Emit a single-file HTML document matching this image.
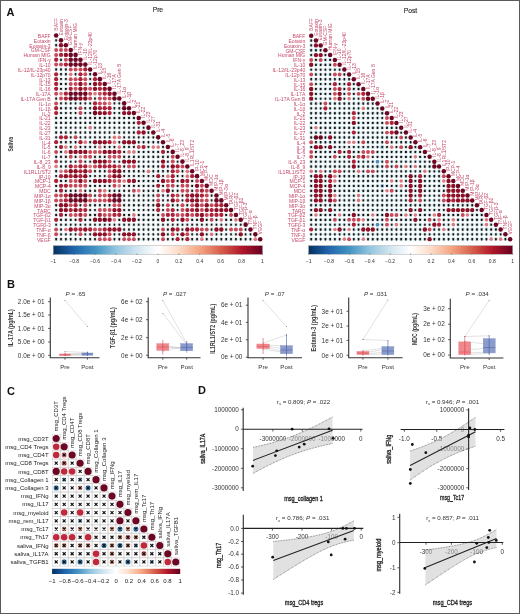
<!DOCTYPE html><html><head><meta charset="utf-8"><style>html,body{margin:0;padding:0;background:#fff;}svg{display:block;will-change:transform;}text{font-family:"Liberation Sans",sans-serif;}</style></head><body><svg width="520" height="614" viewBox="0 0 520 614" font-family="Liberation Sans, sans-serif">
<defs><linearGradient id="gA" x1="0" x2="1" y1="0" y2="0"><stop offset="0.00" stop-color="#053061"/><stop offset="0.10" stop-color="#2166AC"/><stop offset="0.20" stop-color="#4393C3"/><stop offset="0.30" stop-color="#92C5DE"/><stop offset="0.40" stop-color="#D1E5F0"/><stop offset="0.50" stop-color="#FFFFFF"/><stop offset="0.60" stop-color="#FDDBC7"/><stop offset="0.70" stop-color="#F4A582"/><stop offset="0.80" stop-color="#D6604D"/><stop offset="0.90" stop-color="#B2182B"/><stop offset="1.00" stop-color="#67001F"/></linearGradient><linearGradient id="gB" x1="0" x2="1" y1="0" y2="0"><stop offset="0.00" stop-color="#053061"/><stop offset="0.10" stop-color="#2166AC"/><stop offset="0.20" stop-color="#4393C3"/><stop offset="0.30" stop-color="#92C5DE"/><stop offset="0.40" stop-color="#D1E5F0"/><stop offset="0.50" stop-color="#FFFFFF"/><stop offset="0.60" stop-color="#FDDBC7"/><stop offset="0.70" stop-color="#F4A582"/><stop offset="0.80" stop-color="#D6604D"/><stop offset="0.90" stop-color="#B2182B"/><stop offset="1.00" stop-color="#67001F"/></linearGradient><linearGradient id="gC" x1="0" x2="1" y1="0" y2="0"><stop offset="0.00" stop-color="#053061"/><stop offset="0.10" stop-color="#2166AC"/><stop offset="0.20" stop-color="#4393C3"/><stop offset="0.30" stop-color="#92C5DE"/><stop offset="0.40" stop-color="#D1E5F0"/><stop offset="0.50" stop-color="#FFFFFF"/><stop offset="0.60" stop-color="#FDDBC7"/><stop offset="0.70" stop-color="#F4A582"/><stop offset="0.80" stop-color="#D6604D"/><stop offset="0.90" stop-color="#B2182B"/><stop offset="1.00" stop-color="#67001F"/></linearGradient></defs>
<rect x="0" y="0" width="520" height="614" fill="#fff"/>
<text x="6.60" y="15.60" font-size="11" fill="#111" font-weight="bold">A</text>
<text x="157.90" y="12.30" font-size="7.4" fill="#333" text-anchor="middle" textLength="10.40" lengthAdjust="spacingAndGlyphs" stroke="#333" stroke-width="0.2">Pre</text>
<text x="410.50" y="12.70" font-size="7.4" fill="#333" text-anchor="middle" textLength="13.50" lengthAdjust="spacingAndGlyphs" stroke="#333" stroke-width="0.2">Post</text>
<text x="12.90" y="144.30" font-size="7.4" fill="#333" text-anchor="middle" font-weight="bold" textLength="14.50" lengthAdjust="spacingAndGlyphs" transform="rotate(-90 12.90 144.30)">Saliva</text>
<circle cx="56.15" cy="35.50" r="2.28" fill="#6b0623"/><circle cx="56.15" cy="40.35" r="2.18" fill="#dfeaec"/><path d="M55.35 39.55L56.95 41.15M55.35 41.15L56.95 39.55" stroke="#111" stroke-width="1.1"/><circle cx="61.01" cy="40.35" r="2.28" fill="#6b0623"/><circle cx="56.15" cy="45.20" r="2.18" fill="#dfeaec"/><path d="M55.35 44.40L56.95 46.00M55.35 46.00L56.95 44.40" stroke="#111" stroke-width="1.1"/><circle cx="61.01" cy="45.20" r="2.21" fill="#8c1028"/><circle cx="65.87" cy="45.20" r="2.28" fill="#6b0623"/><circle cx="56.15" cy="50.05" r="1.99" fill="#c64a5a"/><circle cx="61.01" cy="50.05" r="1.99" fill="#c64a5a"/><circle cx="65.87" cy="50.05" r="1.99" fill="#c64a5a"/><circle cx="70.72" cy="50.05" r="2.28" fill="#6b0623"/><circle cx="56.15" cy="54.90" r="1.99" fill="#c64a5a"/><circle cx="61.01" cy="54.90" r="2.14" fill="#ac2238"/><circle cx="65.87" cy="54.90" r="2.21" fill="#8c1028"/><circle cx="70.72" cy="54.90" r="2.28" fill="#6b0623"/><circle cx="75.58" cy="54.90" r="2.28" fill="#6b0623"/><circle cx="56.15" cy="59.75" r="2.14" fill="#ac2238"/><circle cx="61.01" cy="59.75" r="2.18" fill="#dfeaec"/><path d="M60.21 58.95L61.81 60.55M60.21 60.55L61.81 58.95" stroke="#111" stroke-width="1.1"/><circle cx="65.87" cy="59.75" r="1.99" fill="#c64a5a"/><circle cx="70.72" cy="59.75" r="2.28" fill="#6b0623"/><circle cx="75.58" cy="59.75" r="2.28" fill="#6b0623"/><circle cx="80.44" cy="59.75" r="2.28" fill="#6b0623"/><circle cx="56.15" cy="64.60" r="1.99" fill="#c64a5a"/><circle cx="61.01" cy="64.60" r="1.99" fill="#c64a5a"/><circle cx="65.87" cy="64.60" r="2.14" fill="#ac2238"/><circle cx="70.72" cy="64.60" r="2.28" fill="#6b0623"/><circle cx="75.58" cy="64.60" r="2.28" fill="#6b0623"/><circle cx="80.44" cy="64.60" r="2.28" fill="#6b0623"/><circle cx="85.30" cy="64.60" r="2.28" fill="#6b0623"/><circle cx="56.15" cy="69.45" r="2.18" fill="#dfeaec"/><path d="M55.35 68.65L56.95 70.25M55.35 70.25L56.95 68.65" stroke="#111" stroke-width="1.1"/><circle cx="61.01" cy="69.45" r="2.18" fill="#dfeaec"/><path d="M60.21 68.65L61.81 70.25M60.21 70.25L61.81 68.65" stroke="#111" stroke-width="1.1"/><circle cx="65.87" cy="69.45" r="2.18" fill="#dfeaec"/><path d="M65.07 68.65L66.67 70.25M65.07 70.25L66.67 68.65" stroke="#111" stroke-width="1.1"/><circle cx="70.72" cy="69.45" r="1.99" fill="#c64a5a"/><circle cx="75.58" cy="69.45" r="1.99" fill="#c64a5a"/><circle cx="80.44" cy="69.45" r="1.99" fill="#c64a5a"/><circle cx="85.30" cy="69.45" r="2.14" fill="#ac2238"/><circle cx="90.16" cy="69.45" r="2.28" fill="#6b0623"/><circle cx="56.15" cy="74.30" r="2.14" fill="#ac2238"/><circle cx="61.01" cy="74.30" r="2.18" fill="#dfeaec"/><path d="M60.21 73.50L61.81 75.10M60.21 75.10L61.81 73.50" stroke="#111" stroke-width="1.1"/><circle cx="65.87" cy="74.30" r="2.18" fill="#dfeaec"/><path d="M65.07 73.50L66.67 75.10M65.07 75.10L66.67 73.50" stroke="#111" stroke-width="1.1"/><circle cx="70.72" cy="74.30" r="1.84" fill="#da7a80"/><circle cx="75.58" cy="74.30" r="2.18" fill="#dfeaec"/><path d="M74.78 73.50L76.38 75.10M74.78 75.10L76.38 73.50" stroke="#111" stroke-width="1.1"/><circle cx="80.44" cy="74.30" r="2.14" fill="#ac2238"/><circle cx="85.30" cy="74.30" r="1.99" fill="#c64a5a"/><circle cx="90.16" cy="74.30" r="2.18" fill="#dfeaec"/><path d="M89.36 73.50L90.96 75.10M89.36 75.10L90.96 73.50" stroke="#111" stroke-width="1.1"/><circle cx="95.01" cy="74.30" r="2.28" fill="#6b0623"/><circle cx="56.15" cy="79.15" r="2.14" fill="#ac2238"/><circle cx="61.01" cy="79.15" r="2.18" fill="#dfeaec"/><path d="M60.21 78.35L61.81 79.95M60.21 79.95L61.81 78.35" stroke="#111" stroke-width="1.1"/><circle cx="65.87" cy="79.15" r="2.18" fill="#dfeaec"/><path d="M65.07 78.35L66.67 79.95M65.07 79.95L66.67 78.35" stroke="#111" stroke-width="1.1"/><circle cx="70.72" cy="79.15" r="1.99" fill="#c64a5a"/><circle cx="75.58" cy="79.15" r="1.99" fill="#c64a5a"/><circle cx="80.44" cy="79.15" r="2.14" fill="#ac2238"/><circle cx="85.30" cy="79.15" r="1.99" fill="#c64a5a"/><circle cx="90.16" cy="79.15" r="2.18" fill="#dfeaec"/><path d="M89.36 78.35L90.96 79.95M89.36 79.95L90.96 78.35" stroke="#111" stroke-width="1.1"/><circle cx="95.01" cy="79.15" r="2.14" fill="#ac2238"/><circle cx="99.87" cy="79.15" r="2.28" fill="#6b0623"/><circle cx="56.15" cy="84.00" r="2.14" fill="#ac2238"/><circle cx="61.01" cy="84.00" r="2.18" fill="#dfeaec"/><path d="M60.21 83.20L61.81 84.80M60.21 84.80L61.81 83.20" stroke="#111" stroke-width="1.1"/><circle cx="65.87" cy="84.00" r="2.18" fill="#dfeaec"/><path d="M65.07 83.20L66.67 84.80M65.07 84.80L66.67 83.20" stroke="#111" stroke-width="1.1"/><circle cx="70.72" cy="84.00" r="1.99" fill="#c64a5a"/><circle cx="75.58" cy="84.00" r="1.99" fill="#c64a5a"/><circle cx="80.44" cy="84.00" r="2.21" fill="#8c1028"/><circle cx="85.30" cy="84.00" r="1.99" fill="#c64a5a"/><circle cx="90.16" cy="84.00" r="2.18" fill="#dfeaec"/><path d="M89.36 83.20L90.96 84.80M89.36 84.80L90.96 83.20" stroke="#111" stroke-width="1.1"/><circle cx="95.01" cy="84.00" r="2.21" fill="#8c1028"/><circle cx="99.87" cy="84.00" r="2.14" fill="#ac2238"/><circle cx="104.73" cy="84.00" r="2.28" fill="#6b0623"/><circle cx="56.15" cy="88.85" r="2.14" fill="#ac2238"/><circle cx="61.01" cy="88.85" r="2.18" fill="#dfeaec"/><path d="M60.21 88.05L61.81 89.65M60.21 89.65L61.81 88.05" stroke="#111" stroke-width="1.1"/><circle cx="65.87" cy="88.85" r="2.18" fill="#dfeaec"/><path d="M65.07 88.05L66.67 89.65M65.07 89.65L66.67 88.05" stroke="#111" stroke-width="1.1"/><circle cx="70.72" cy="88.85" r="2.14" fill="#ac2238"/><circle cx="75.58" cy="88.85" r="1.99" fill="#c64a5a"/><circle cx="80.44" cy="88.85" r="2.21" fill="#8c1028"/><circle cx="85.30" cy="88.85" r="2.14" fill="#ac2238"/><circle cx="90.16" cy="88.85" r="1.99" fill="#c64a5a"/><circle cx="95.01" cy="88.85" r="2.21" fill="#8c1028"/><circle cx="99.87" cy="88.85" r="2.14" fill="#ac2238"/><circle cx="104.73" cy="88.85" r="2.21" fill="#8c1028"/><circle cx="109.59" cy="88.85" r="2.28" fill="#6b0623"/><circle cx="56.15" cy="93.70" r="1.99" fill="#c64a5a"/><circle cx="61.01" cy="93.70" r="1.84" fill="#da7a80"/><circle cx="65.87" cy="93.70" r="2.14" fill="#ac2238"/><circle cx="70.72" cy="93.70" r="2.28" fill="#6b0623"/><circle cx="75.58" cy="93.70" r="2.28" fill="#6b0623"/><circle cx="80.44" cy="93.70" r="2.28" fill="#6b0623"/><circle cx="85.30" cy="93.70" r="2.28" fill="#6b0623"/><circle cx="90.16" cy="93.70" r="1.99" fill="#c64a5a"/><circle cx="95.01" cy="93.70" r="1.84" fill="#da7a80"/><circle cx="99.87" cy="93.70" r="1.99" fill="#c64a5a"/><circle cx="104.73" cy="93.70" r="2.14" fill="#ac2238"/><circle cx="109.59" cy="93.70" r="2.21" fill="#8c1028"/><circle cx="114.45" cy="93.70" r="2.28" fill="#6b0623"/><circle cx="56.15" cy="98.55" r="2.18" fill="#dfeaec"/><path d="M55.35 97.75L56.95 99.35M55.35 99.35L56.95 97.75" stroke="#111" stroke-width="1.1"/><circle cx="61.01" cy="98.55" r="1.99" fill="#c64a5a"/><circle cx="65.87" cy="98.55" r="2.14" fill="#ac2238"/><circle cx="70.72" cy="98.55" r="2.28" fill="#6b0623"/><circle cx="75.58" cy="98.55" r="2.28" fill="#6b0623"/><circle cx="80.44" cy="98.55" r="2.21" fill="#8c1028"/><circle cx="85.30" cy="98.55" r="2.21" fill="#8c1028"/><circle cx="90.16" cy="98.55" r="1.99" fill="#c64a5a"/><circle cx="95.01" cy="98.55" r="2.18" fill="#dfeaec"/><path d="M94.21 97.75L95.81 99.35M94.21 99.35L95.81 97.75" stroke="#111" stroke-width="1.1"/><circle cx="99.87" cy="98.55" r="1.99" fill="#c64a5a"/><circle cx="104.73" cy="98.55" r="1.99" fill="#c64a5a"/><circle cx="109.59" cy="98.55" r="1.99" fill="#c64a5a"/><circle cx="114.45" cy="98.55" r="2.28" fill="#6b0623"/><circle cx="119.30" cy="98.55" r="2.28" fill="#6b0623"/><circle cx="56.15" cy="103.40" r="1.99" fill="#c64a5a"/><circle cx="61.01" cy="103.40" r="2.18" fill="#dfeaec"/><path d="M60.21 102.60L61.81 104.20M60.21 104.20L61.81 102.60" stroke="#111" stroke-width="1.1"/><circle cx="65.87" cy="103.40" r="2.18" fill="#dfeaec"/><path d="M65.07 102.60L66.67 104.20M65.07 104.20L66.67 102.60" stroke="#111" stroke-width="1.1"/><circle cx="70.72" cy="103.40" r="2.18" fill="#dfeaec"/><path d="M69.92 102.60L71.52 104.20M69.92 104.20L71.52 102.60" stroke="#111" stroke-width="1.1"/><circle cx="75.58" cy="103.40" r="2.18" fill="#dfeaec"/><path d="M74.78 102.60L76.38 104.20M74.78 104.20L76.38 102.60" stroke="#111" stroke-width="1.1"/><circle cx="80.44" cy="103.40" r="2.18" fill="#dfeaec"/><path d="M79.64 102.60L81.24 104.20M79.64 104.20L81.24 102.60" stroke="#111" stroke-width="1.1"/><circle cx="85.30" cy="103.40" r="2.18" fill="#dfeaec"/><path d="M84.50 102.60L86.10 104.20M84.50 104.20L86.10 102.60" stroke="#111" stroke-width="1.1"/><circle cx="90.16" cy="103.40" r="2.18" fill="#dfeaec"/><path d="M89.36 102.60L90.96 104.20M89.36 104.20L90.96 102.60" stroke="#111" stroke-width="1.1"/><circle cx="95.01" cy="103.40" r="2.14" fill="#ac2238"/><circle cx="99.87" cy="103.40" r="1.99" fill="#c64a5a"/><circle cx="104.73" cy="103.40" r="1.99" fill="#c64a5a"/><circle cx="109.59" cy="103.40" r="1.84" fill="#da7a80"/><circle cx="114.45" cy="103.40" r="2.18" fill="#dfeaec"/><path d="M113.65 102.60L115.25 104.20M113.65 104.20L115.25 102.60" stroke="#111" stroke-width="1.1"/><circle cx="119.30" cy="103.40" r="2.18" fill="#dfeaec"/><path d="M118.50 102.60L120.10 104.20M118.50 104.20L120.10 102.60" stroke="#111" stroke-width="1.1"/><circle cx="124.16" cy="103.40" r="2.28" fill="#6b0623"/><circle cx="56.15" cy="108.25" r="2.14" fill="#ac2238"/><circle cx="61.01" cy="108.25" r="2.18" fill="#dfeaec"/><path d="M60.21 107.45L61.81 109.05M60.21 109.05L61.81 107.45" stroke="#111" stroke-width="1.1"/><circle cx="65.87" cy="108.25" r="2.18" fill="#dfeaec"/><path d="M65.07 107.45L66.67 109.05M65.07 109.05L66.67 107.45" stroke="#111" stroke-width="1.1"/><circle cx="70.72" cy="108.25" r="2.18" fill="#dfeaec"/><path d="M69.92 107.45L71.52 109.05M69.92 109.05L71.52 107.45" stroke="#111" stroke-width="1.1"/><circle cx="75.58" cy="108.25" r="2.18" fill="#dfeaec"/><path d="M74.78 107.45L76.38 109.05M74.78 109.05L76.38 107.45" stroke="#111" stroke-width="1.1"/><circle cx="80.44" cy="108.25" r="1.99" fill="#c64a5a"/><circle cx="85.30" cy="108.25" r="2.18" fill="#dfeaec"/><path d="M84.50 107.45L86.10 109.05M84.50 109.05L86.10 107.45" stroke="#111" stroke-width="1.1"/><circle cx="90.16" cy="108.25" r="2.18" fill="#dfeaec"/><path d="M89.36 107.45L90.96 109.05M89.36 109.05L90.96 107.45" stroke="#111" stroke-width="1.1"/><circle cx="95.01" cy="108.25" r="2.21" fill="#8c1028"/><circle cx="99.87" cy="108.25" r="2.14" fill="#ac2238"/><circle cx="104.73" cy="108.25" r="2.14" fill="#ac2238"/><circle cx="109.59" cy="108.25" r="2.14" fill="#ac2238"/><circle cx="114.45" cy="108.25" r="2.18" fill="#dfeaec"/><path d="M113.65 107.45L115.25 109.05M113.65 109.05L115.25 107.45" stroke="#111" stroke-width="1.1"/><circle cx="119.30" cy="108.25" r="2.18" fill="#dfeaec"/><path d="M118.50 107.45L120.10 109.05M118.50 109.05L120.10 107.45" stroke="#111" stroke-width="1.1"/><circle cx="124.16" cy="108.25" r="2.28" fill="#6b0623"/><circle cx="129.02" cy="108.25" r="2.28" fill="#6b0623"/><circle cx="56.15" cy="113.10" r="2.14" fill="#ac2238"/><circle cx="61.01" cy="113.10" r="2.18" fill="#dfeaec"/><path d="M60.21 112.30L61.81 113.90M60.21 113.90L61.81 112.30" stroke="#111" stroke-width="1.1"/><circle cx="65.87" cy="113.10" r="2.18" fill="#dfeaec"/><path d="M65.07 112.30L66.67 113.90M65.07 113.90L66.67 112.30" stroke="#111" stroke-width="1.1"/><circle cx="70.72" cy="113.10" r="2.18" fill="#dfeaec"/><path d="M69.92 112.30L71.52 113.90M69.92 113.90L71.52 112.30" stroke="#111" stroke-width="1.1"/><circle cx="75.58" cy="113.10" r="2.18" fill="#dfeaec"/><path d="M74.78 112.30L76.38 113.90M74.78 113.90L76.38 112.30" stroke="#111" stroke-width="1.1"/><circle cx="80.44" cy="113.10" r="1.99" fill="#c64a5a"/><circle cx="85.30" cy="113.10" r="2.18" fill="#dfeaec"/><path d="M84.50 112.30L86.10 113.90M84.50 113.90L86.10 112.30" stroke="#111" stroke-width="1.1"/><circle cx="90.16" cy="113.10" r="2.18" fill="#dfeaec"/><path d="M89.36 112.30L90.96 113.90M89.36 113.90L90.96 112.30" stroke="#111" stroke-width="1.1"/><circle cx="95.01" cy="113.10" r="2.28" fill="#6b0623"/><circle cx="99.87" cy="113.10" r="2.21" fill="#8c1028"/><circle cx="104.73" cy="113.10" r="2.21" fill="#8c1028"/><circle cx="109.59" cy="113.10" r="2.14" fill="#ac2238"/><circle cx="114.45" cy="113.10" r="2.18" fill="#dfeaec"/><path d="M113.65 112.30L115.25 113.90M113.65 113.90L115.25 112.30" stroke="#111" stroke-width="1.1"/><circle cx="119.30" cy="113.10" r="2.18" fill="#dfeaec"/><path d="M118.50 112.30L120.10 113.90M118.50 113.90L120.10 112.30" stroke="#111" stroke-width="1.1"/><circle cx="124.16" cy="113.10" r="2.21" fill="#8c1028"/><circle cx="129.02" cy="113.10" r="2.21" fill="#8c1028"/><circle cx="133.88" cy="113.10" r="2.28" fill="#6b0623"/><circle cx="56.15" cy="117.95" r="2.18" fill="#dfeaec"/><path d="M55.35 117.15L56.95 118.75M55.35 118.75L56.95 117.15" stroke="#111" stroke-width="1.1"/><circle cx="61.01" cy="117.95" r="2.18" fill="#dfeaec"/><path d="M60.21 117.15L61.81 118.75M60.21 118.75L61.81 117.15" stroke="#111" stroke-width="1.1"/><circle cx="65.87" cy="117.95" r="2.18" fill="#dfeaec"/><path d="M65.07 117.15L66.67 118.75M65.07 118.75L66.67 117.15" stroke="#111" stroke-width="1.1"/><circle cx="70.72" cy="117.95" r="2.18" fill="#dfeaec"/><path d="M69.92 117.15L71.52 118.75M69.92 118.75L71.52 117.15" stroke="#111" stroke-width="1.1"/><circle cx="75.58" cy="117.95" r="2.18" fill="#dfeaec"/><path d="M74.78 117.15L76.38 118.75M74.78 118.75L76.38 117.15" stroke="#111" stroke-width="1.1"/><circle cx="80.44" cy="117.95" r="2.18" fill="#dfeaec"/><path d="M79.64 117.15L81.24 118.75M79.64 118.75L81.24 117.15" stroke="#111" stroke-width="1.1"/><circle cx="85.30" cy="117.95" r="2.18" fill="#dfeaec"/><path d="M84.50 117.15L86.10 118.75M84.50 118.75L86.10 117.15" stroke="#111" stroke-width="1.1"/><circle cx="90.16" cy="117.95" r="2.18" fill="#dfeaec"/><path d="M89.36 117.15L90.96 118.75M89.36 118.75L90.96 117.15" stroke="#111" stroke-width="1.1"/><circle cx="95.01" cy="117.95" r="2.18" fill="#dfeaec"/><path d="M94.21 117.15L95.81 118.75M94.21 118.75L95.81 117.15" stroke="#111" stroke-width="1.1"/><circle cx="99.87" cy="117.95" r="2.18" fill="#dfeaec"/><path d="M99.07 117.15L100.67 118.75M99.07 118.75L100.67 117.15" stroke="#111" stroke-width="1.1"/><circle cx="104.73" cy="117.95" r="2.18" fill="#dfeaec"/><path d="M103.93 117.15L105.53 118.75M103.93 118.75L105.53 117.15" stroke="#111" stroke-width="1.1"/><circle cx="109.59" cy="117.95" r="2.18" fill="#dfeaec"/><path d="M108.79 117.15L110.39 118.75M108.79 118.75L110.39 117.15" stroke="#111" stroke-width="1.1"/><circle cx="114.45" cy="117.95" r="2.18" fill="#dfeaec"/><path d="M113.65 117.15L115.25 118.75M113.65 118.75L115.25 117.15" stroke="#111" stroke-width="1.1"/><circle cx="119.30" cy="117.95" r="2.18" fill="#dfeaec"/><path d="M118.50 117.15L120.10 118.75M118.50 118.75L120.10 117.15" stroke="#111" stroke-width="1.1"/><circle cx="124.16" cy="117.95" r="2.18" fill="#dfeaec"/><path d="M123.36 117.15L124.96 118.75M123.36 118.75L124.96 117.15" stroke="#111" stroke-width="1.1"/><circle cx="129.02" cy="117.95" r="2.18" fill="#dfeaec"/><path d="M128.22 117.15L129.82 118.75M128.22 118.75L129.82 117.15" stroke="#111" stroke-width="1.1"/><circle cx="133.88" cy="117.95" r="2.18" fill="#dfeaec"/><path d="M133.08 117.15L134.68 118.75M133.08 118.75L134.68 117.15" stroke="#111" stroke-width="1.1"/><circle cx="138.74" cy="117.95" r="2.28" fill="#6b0623"/><circle cx="56.15" cy="122.80" r="2.18" fill="#dfeaec"/><path d="M55.35 122.00L56.95 123.60M55.35 123.60L56.95 122.00" stroke="#111" stroke-width="1.1"/><circle cx="61.01" cy="122.80" r="2.18" fill="#dfeaec"/><path d="M60.21 122.00L61.81 123.60M60.21 123.60L61.81 122.00" stroke="#111" stroke-width="1.1"/><circle cx="65.87" cy="122.80" r="2.18" fill="#dfeaec"/><path d="M65.07 122.00L66.67 123.60M65.07 123.60L66.67 122.00" stroke="#111" stroke-width="1.1"/><circle cx="70.72" cy="122.80" r="2.18" fill="#dfeaec"/><path d="M69.92 122.00L71.52 123.60M69.92 123.60L71.52 122.00" stroke="#111" stroke-width="1.1"/><circle cx="75.58" cy="122.80" r="2.18" fill="#dfeaec"/><path d="M74.78 122.00L76.38 123.60M74.78 123.60L76.38 122.00" stroke="#111" stroke-width="1.1"/><circle cx="80.44" cy="122.80" r="2.18" fill="#dfeaec"/><path d="M79.64 122.00L81.24 123.60M79.64 123.60L81.24 122.00" stroke="#111" stroke-width="1.1"/><circle cx="85.30" cy="122.80" r="2.18" fill="#dfeaec"/><path d="M84.50 122.00L86.10 123.60M84.50 123.60L86.10 122.00" stroke="#111" stroke-width="1.1"/><circle cx="90.16" cy="122.80" r="2.18" fill="#dfeaec"/><path d="M89.36 122.00L90.96 123.60M89.36 123.60L90.96 122.00" stroke="#111" stroke-width="1.1"/><circle cx="95.01" cy="122.80" r="2.18" fill="#dfeaec"/><path d="M94.21 122.00L95.81 123.60M94.21 123.60L95.81 122.00" stroke="#111" stroke-width="1.1"/><circle cx="99.87" cy="122.80" r="2.18" fill="#dfeaec"/><path d="M99.07 122.00L100.67 123.60M99.07 123.60L100.67 122.00" stroke="#111" stroke-width="1.1"/><circle cx="104.73" cy="122.80" r="2.18" fill="#dfeaec"/><path d="M103.93 122.00L105.53 123.60M103.93 123.60L105.53 122.00" stroke="#111" stroke-width="1.1"/><circle cx="109.59" cy="122.80" r="2.18" fill="#dfeaec"/><path d="M108.79 122.00L110.39 123.60M108.79 123.60L110.39 122.00" stroke="#111" stroke-width="1.1"/><circle cx="114.45" cy="122.80" r="2.18" fill="#dfeaec"/><path d="M113.65 122.00L115.25 123.60M113.65 123.60L115.25 122.00" stroke="#111" stroke-width="1.1"/><circle cx="119.30" cy="122.80" r="2.18" fill="#dfeaec"/><path d="M118.50 122.00L120.10 123.60M118.50 123.60L120.10 122.00" stroke="#111" stroke-width="1.1"/><circle cx="124.16" cy="122.80" r="2.18" fill="#dfeaec"/><path d="M123.36 122.00L124.96 123.60M123.36 123.60L124.96 122.00" stroke="#111" stroke-width="1.1"/><circle cx="129.02" cy="122.80" r="2.18" fill="#dfeaec"/><path d="M128.22 122.00L129.82 123.60M128.22 123.60L129.82 122.00" stroke="#111" stroke-width="1.1"/><circle cx="133.88" cy="122.80" r="2.18" fill="#dfeaec"/><path d="M133.08 122.00L134.68 123.60M133.08 123.60L134.68 122.00" stroke="#111" stroke-width="1.1"/><circle cx="138.74" cy="122.80" r="2.14" fill="#ac2238"/><circle cx="143.59" cy="122.80" r="2.28" fill="#6b0623"/><circle cx="56.15" cy="127.65" r="2.18" fill="#dfeaec"/><path d="M55.35 126.85L56.95 128.45M55.35 128.45L56.95 126.85" stroke="#111" stroke-width="1.1"/><circle cx="61.01" cy="127.65" r="2.18" fill="#dfeaec"/><path d="M60.21 126.85L61.81 128.45M60.21 128.45L61.81 126.85" stroke="#111" stroke-width="1.1"/><circle cx="65.87" cy="127.65" r="2.18" fill="#dfeaec"/><path d="M65.07 126.85L66.67 128.45M65.07 128.45L66.67 126.85" stroke="#111" stroke-width="1.1"/><circle cx="70.72" cy="127.65" r="2.18" fill="#dfeaec"/><path d="M69.92 126.85L71.52 128.45M69.92 128.45L71.52 126.85" stroke="#111" stroke-width="1.1"/><circle cx="75.58" cy="127.65" r="2.18" fill="#dfeaec"/><path d="M74.78 126.85L76.38 128.45M74.78 128.45L76.38 126.85" stroke="#111" stroke-width="1.1"/><circle cx="80.44" cy="127.65" r="2.18" fill="#dfeaec"/><path d="M79.64 126.85L81.24 128.45M79.64 128.45L81.24 126.85" stroke="#111" stroke-width="1.1"/><circle cx="85.30" cy="127.65" r="2.18" fill="#dfeaec"/><path d="M84.50 126.85L86.10 128.45M84.50 128.45L86.10 126.85" stroke="#111" stroke-width="1.1"/><circle cx="90.16" cy="127.65" r="1.84" fill="#da7a80"/><circle cx="95.01" cy="127.65" r="2.18" fill="#dfeaec"/><path d="M94.21 126.85L95.81 128.45M94.21 128.45L95.81 126.85" stroke="#111" stroke-width="1.1"/><circle cx="99.87" cy="127.65" r="2.18" fill="#dfeaec"/><path d="M99.07 126.85L100.67 128.45M99.07 128.45L100.67 126.85" stroke="#111" stroke-width="1.1"/><circle cx="104.73" cy="127.65" r="2.18" fill="#dfeaec"/><path d="M103.93 126.85L105.53 128.45M103.93 128.45L105.53 126.85" stroke="#111" stroke-width="1.1"/><circle cx="109.59" cy="127.65" r="2.18" fill="#dfeaec"/><path d="M108.79 126.85L110.39 128.45M108.79 128.45L110.39 126.85" stroke="#111" stroke-width="1.1"/><circle cx="114.45" cy="127.65" r="2.18" fill="#dfeaec"/><path d="M113.65 126.85L115.25 128.45M113.65 128.45L115.25 126.85" stroke="#111" stroke-width="1.1"/><circle cx="119.30" cy="127.65" r="2.18" fill="#dfeaec"/><path d="M118.50 126.85L120.10 128.45M118.50 128.45L120.10 126.85" stroke="#111" stroke-width="1.1"/><circle cx="124.16" cy="127.65" r="2.18" fill="#dfeaec"/><path d="M123.36 126.85L124.96 128.45M123.36 128.45L124.96 126.85" stroke="#111" stroke-width="1.1"/><circle cx="129.02" cy="127.65" r="2.18" fill="#dfeaec"/><path d="M128.22 126.85L129.82 128.45M128.22 128.45L129.82 126.85" stroke="#111" stroke-width="1.1"/><circle cx="133.88" cy="127.65" r="2.18" fill="#dfeaec"/><path d="M133.08 126.85L134.68 128.45M133.08 128.45L134.68 126.85" stroke="#111" stroke-width="1.1"/><circle cx="138.74" cy="127.65" r="2.18" fill="#dfeaec"/><path d="M137.94 126.85L139.54 128.45M137.94 128.45L139.54 126.85" stroke="#111" stroke-width="1.1"/><circle cx="143.59" cy="127.65" r="2.18" fill="#dfeaec"/><path d="M142.79 126.85L144.39 128.45M142.79 128.45L144.39 126.85" stroke="#111" stroke-width="1.1"/><circle cx="148.45" cy="127.65" r="2.28" fill="#6b0623"/><circle cx="56.15" cy="132.50" r="2.18" fill="#dfeaec"/><path d="M55.35 131.70L56.95 133.30M55.35 133.30L56.95 131.70" stroke="#111" stroke-width="1.1"/><circle cx="61.01" cy="132.50" r="2.18" fill="#dfeaec"/><path d="M60.21 131.70L61.81 133.30M60.21 133.30L61.81 131.70" stroke="#111" stroke-width="1.1"/><circle cx="65.87" cy="132.50" r="2.18" fill="#dfeaec"/><path d="M65.07 131.70L66.67 133.30M65.07 133.30L66.67 131.70" stroke="#111" stroke-width="1.1"/><circle cx="70.72" cy="132.50" r="2.18" fill="#dfeaec"/><path d="M69.92 131.70L71.52 133.30M69.92 133.30L71.52 131.70" stroke="#111" stroke-width="1.1"/><circle cx="75.58" cy="132.50" r="2.18" fill="#dfeaec"/><path d="M74.78 131.70L76.38 133.30M74.78 133.30L76.38 131.70" stroke="#111" stroke-width="1.1"/><circle cx="80.44" cy="132.50" r="2.18" fill="#dfeaec"/><path d="M79.64 131.70L81.24 133.30M79.64 133.30L81.24 131.70" stroke="#111" stroke-width="1.1"/><circle cx="85.30" cy="132.50" r="2.18" fill="#dfeaec"/><path d="M84.50 131.70L86.10 133.30M84.50 133.30L86.10 131.70" stroke="#111" stroke-width="1.1"/><circle cx="90.16" cy="132.50" r="2.18" fill="#dfeaec"/><path d="M89.36 131.70L90.96 133.30M89.36 133.30L90.96 131.70" stroke="#111" stroke-width="1.1"/><circle cx="95.01" cy="132.50" r="2.18" fill="#dfeaec"/><path d="M94.21 131.70L95.81 133.30M94.21 133.30L95.81 131.70" stroke="#111" stroke-width="1.1"/><circle cx="99.87" cy="132.50" r="2.18" fill="#dfeaec"/><path d="M99.07 131.70L100.67 133.30M99.07 133.30L100.67 131.70" stroke="#111" stroke-width="1.1"/><circle cx="104.73" cy="132.50" r="2.18" fill="#dfeaec"/><path d="M103.93 131.70L105.53 133.30M103.93 133.30L105.53 131.70" stroke="#111" stroke-width="1.1"/><circle cx="109.59" cy="132.50" r="2.18" fill="#dfeaec"/><path d="M108.79 131.70L110.39 133.30M108.79 133.30L110.39 131.70" stroke="#111" stroke-width="1.1"/><circle cx="114.45" cy="132.50" r="2.18" fill="#dfeaec"/><path d="M113.65 131.70L115.25 133.30M113.65 133.30L115.25 131.70" stroke="#111" stroke-width="1.1"/><circle cx="119.30" cy="132.50" r="2.18" fill="#dfeaec"/><path d="M118.50 131.70L120.10 133.30M118.50 133.30L120.10 131.70" stroke="#111" stroke-width="1.1"/><circle cx="124.16" cy="132.50" r="2.18" fill="#dfeaec"/><path d="M123.36 131.70L124.96 133.30M123.36 133.30L124.96 131.70" stroke="#111" stroke-width="1.1"/><circle cx="129.02" cy="132.50" r="2.18" fill="#dfeaec"/><path d="M128.22 131.70L129.82 133.30M128.22 133.30L129.82 131.70" stroke="#111" stroke-width="1.1"/><circle cx="133.88" cy="132.50" r="2.18" fill="#dfeaec"/><path d="M133.08 131.70L134.68 133.30M133.08 133.30L134.68 131.70" stroke="#111" stroke-width="1.1"/><circle cx="138.74" cy="132.50" r="2.14" fill="#ac2238"/><circle cx="143.59" cy="132.50" r="2.21" fill="#8c1028"/><circle cx="148.45" cy="132.50" r="2.18" fill="#dfeaec"/><path d="M147.65 131.70L149.25 133.30M147.65 133.30L149.25 131.70" stroke="#111" stroke-width="1.1"/><circle cx="153.31" cy="132.50" r="2.28" fill="#6b0623"/><circle cx="56.15" cy="137.35" r="2.18" fill="#dfeaec"/><path d="M55.35 136.55L56.95 138.15M55.35 138.15L56.95 136.55" stroke="#111" stroke-width="1.1"/><circle cx="61.01" cy="137.35" r="2.14" fill="#ac2238"/><circle cx="65.87" cy="137.35" r="2.14" fill="#ac2238"/><circle cx="70.72" cy="137.35" r="2.18" fill="#dfeaec"/><path d="M69.92 136.55L71.52 138.15M69.92 138.15L71.52 136.55" stroke="#111" stroke-width="1.1"/><circle cx="75.58" cy="137.35" r="1.99" fill="#c64a5a"/><circle cx="80.44" cy="137.35" r="2.18" fill="#dfeaec"/><path d="M79.64 136.55L81.24 138.15M79.64 138.15L81.24 136.55" stroke="#111" stroke-width="1.1"/><circle cx="85.30" cy="137.35" r="2.18" fill="#dfeaec"/><path d="M84.50 136.55L86.10 138.15M84.50 138.15L86.10 136.55" stroke="#111" stroke-width="1.1"/><circle cx="90.16" cy="137.35" r="2.18" fill="#dfeaec"/><path d="M89.36 136.55L90.96 138.15M89.36 138.15L90.96 136.55" stroke="#111" stroke-width="1.1"/><circle cx="95.01" cy="137.35" r="2.18" fill="#dfeaec"/><path d="M94.21 136.55L95.81 138.15M94.21 138.15L95.81 136.55" stroke="#111" stroke-width="1.1"/><circle cx="99.87" cy="137.35" r="2.18" fill="#dfeaec"/><path d="M99.07 136.55L100.67 138.15M99.07 138.15L100.67 136.55" stroke="#111" stroke-width="1.1"/><circle cx="104.73" cy="137.35" r="2.18" fill="#dfeaec"/><path d="M103.93 136.55L105.53 138.15M103.93 138.15L105.53 136.55" stroke="#111" stroke-width="1.1"/><circle cx="109.59" cy="137.35" r="2.18" fill="#dfeaec"/><path d="M108.79 136.55L110.39 138.15M108.79 138.15L110.39 136.55" stroke="#111" stroke-width="1.1"/><circle cx="114.45" cy="137.35" r="1.84" fill="#da7a80"/><circle cx="119.30" cy="137.35" r="1.84" fill="#da7a80"/><circle cx="124.16" cy="137.35" r="2.18" fill="#dfeaec"/><path d="M123.36 136.55L124.96 138.15M123.36 138.15L124.96 136.55" stroke="#111" stroke-width="1.1"/><circle cx="129.02" cy="137.35" r="2.18" fill="#dfeaec"/><path d="M128.22 136.55L129.82 138.15M128.22 138.15L129.82 136.55" stroke="#111" stroke-width="1.1"/><circle cx="133.88" cy="137.35" r="2.18" fill="#dfeaec"/><path d="M133.08 136.55L134.68 138.15M133.08 138.15L134.68 136.55" stroke="#111" stroke-width="1.1"/><circle cx="138.74" cy="137.35" r="2.18" fill="#dfeaec"/><path d="M137.94 136.55L139.54 138.15M137.94 138.15L139.54 136.55" stroke="#111" stroke-width="1.1"/><circle cx="143.59" cy="137.35" r="2.18" fill="#dfeaec"/><path d="M142.79 136.55L144.39 138.15M142.79 138.15L144.39 136.55" stroke="#111" stroke-width="1.1"/><circle cx="148.45" cy="137.35" r="2.18" fill="#dfeaec"/><path d="M147.65 136.55L149.25 138.15M147.65 138.15L149.25 136.55" stroke="#111" stroke-width="1.1"/><circle cx="153.31" cy="137.35" r="2.18" fill="#dfeaec"/><path d="M152.51 136.55L154.11 138.15M152.51 138.15L154.11 136.55" stroke="#111" stroke-width="1.1"/><circle cx="158.17" cy="137.35" r="2.28" fill="#6b0623"/><circle cx="56.15" cy="142.20" r="2.14" fill="#ac2238"/><circle cx="61.01" cy="142.20" r="2.18" fill="#dfeaec"/><path d="M60.21 141.40L61.81 143.00M60.21 143.00L61.81 141.40" stroke="#111" stroke-width="1.1"/><circle cx="65.87" cy="142.20" r="2.18" fill="#dfeaec"/><path d="M65.07 141.40L66.67 143.00M65.07 143.00L66.67 141.40" stroke="#111" stroke-width="1.1"/><circle cx="70.72" cy="142.20" r="2.18" fill="#dfeaec"/><path d="M69.92 141.40L71.52 143.00M69.92 143.00L71.52 141.40" stroke="#111" stroke-width="1.1"/><circle cx="75.58" cy="142.20" r="2.18" fill="#dfeaec"/><path d="M74.78 141.40L76.38 143.00M74.78 143.00L76.38 141.40" stroke="#111" stroke-width="1.1"/><circle cx="80.44" cy="142.20" r="2.14" fill="#ac2238"/><circle cx="85.30" cy="142.20" r="1.84" fill="#da7a80"/><circle cx="90.16" cy="142.20" r="2.18" fill="#dfeaec"/><path d="M89.36 141.40L90.96 143.00M89.36 143.00L90.96 141.40" stroke="#111" stroke-width="1.1"/><circle cx="95.01" cy="142.20" r="2.21" fill="#8c1028"/><circle cx="99.87" cy="142.20" r="2.21" fill="#8c1028"/><circle cx="104.73" cy="142.20" r="2.21" fill="#8c1028"/><circle cx="109.59" cy="142.20" r="2.14" fill="#ac2238"/><circle cx="114.45" cy="142.20" r="1.84" fill="#da7a80"/><circle cx="119.30" cy="142.20" r="2.18" fill="#dfeaec"/><path d="M118.50 141.40L120.10 143.00M118.50 143.00L120.10 141.40" stroke="#111" stroke-width="1.1"/><circle cx="124.16" cy="142.20" r="2.21" fill="#8c1028"/><circle cx="129.02" cy="142.20" r="2.21" fill="#8c1028"/><circle cx="133.88" cy="142.20" r="2.21" fill="#8c1028"/><circle cx="138.74" cy="142.20" r="2.18" fill="#dfeaec"/><path d="M137.94 141.40L139.54 143.00M137.94 143.00L139.54 141.40" stroke="#111" stroke-width="1.1"/><circle cx="143.59" cy="142.20" r="2.18" fill="#dfeaec"/><path d="M142.79 141.40L144.39 143.00M142.79 143.00L144.39 141.40" stroke="#111" stroke-width="1.1"/><circle cx="148.45" cy="142.20" r="2.18" fill="#dfeaec"/><path d="M147.65 141.40L149.25 143.00M147.65 143.00L149.25 141.40" stroke="#111" stroke-width="1.1"/><circle cx="153.31" cy="142.20" r="2.18" fill="#dfeaec"/><path d="M152.51 141.40L154.11 143.00M152.51 143.00L154.11 141.40" stroke="#111" stroke-width="1.1"/><circle cx="158.17" cy="142.20" r="2.18" fill="#dfeaec"/><path d="M157.37 141.40L158.97 143.00M157.37 143.00L158.97 141.40" stroke="#111" stroke-width="1.1"/><circle cx="163.03" cy="142.20" r="2.28" fill="#6b0623"/><circle cx="56.15" cy="147.05" r="2.18" fill="#dfeaec"/><path d="M55.35 146.25L56.95 147.85M55.35 147.85L56.95 146.25" stroke="#111" stroke-width="1.1"/><circle cx="61.01" cy="147.05" r="2.14" fill="#ac2238"/><circle cx="65.87" cy="147.05" r="1.84" fill="#da7a80"/><circle cx="70.72" cy="147.05" r="2.18" fill="#dfeaec"/><path d="M69.92 146.25L71.52 147.85M69.92 147.85L71.52 146.25" stroke="#111" stroke-width="1.1"/><circle cx="75.58" cy="147.05" r="1.84" fill="#da7a80"/><circle cx="80.44" cy="147.05" r="2.18" fill="#dfeaec"/><path d="M79.64 146.25L81.24 147.85M79.64 147.85L81.24 146.25" stroke="#111" stroke-width="1.1"/><circle cx="85.30" cy="147.05" r="2.18" fill="#dfeaec"/><path d="M84.50 146.25L86.10 147.85M84.50 147.85L86.10 146.25" stroke="#111" stroke-width="1.1"/><circle cx="90.16" cy="147.05" r="2.18" fill="#dfeaec"/><path d="M89.36 146.25L90.96 147.85M89.36 147.85L90.96 146.25" stroke="#111" stroke-width="1.1"/><circle cx="95.01" cy="147.05" r="2.18" fill="#dfeaec"/><path d="M94.21 146.25L95.81 147.85M94.21 147.85L95.81 146.25" stroke="#111" stroke-width="1.1"/><circle cx="99.87" cy="147.05" r="1.84" fill="#da7a80"/><circle cx="104.73" cy="147.05" r="2.18" fill="#dfeaec"/><path d="M103.93 146.25L105.53 147.85M103.93 147.85L105.53 146.25" stroke="#111" stroke-width="1.1"/><circle cx="109.59" cy="147.05" r="2.18" fill="#dfeaec"/><path d="M108.79 146.25L110.39 147.85M108.79 147.85L110.39 146.25" stroke="#111" stroke-width="1.1"/><circle cx="114.45" cy="147.05" r="2.18" fill="#dfeaec"/><path d="M113.65 146.25L115.25 147.85M113.65 147.85L115.25 146.25" stroke="#111" stroke-width="1.1"/><circle cx="119.30" cy="147.05" r="1.84" fill="#da7a80"/><circle cx="124.16" cy="147.05" r="2.18" fill="#dfeaec"/><path d="M123.36 146.25L124.96 147.85M123.36 147.85L124.96 146.25" stroke="#111" stroke-width="1.1"/><circle cx="129.02" cy="147.05" r="2.18" fill="#dfeaec"/><path d="M128.22 146.25L129.82 147.85M128.22 147.85L129.82 146.25" stroke="#111" stroke-width="1.1"/><circle cx="133.88" cy="147.05" r="2.18" fill="#dfeaec"/><path d="M133.08 146.25L134.68 147.85M133.08 147.85L134.68 146.25" stroke="#111" stroke-width="1.1"/><circle cx="138.74" cy="147.05" r="1.99" fill="#c64a5a"/><circle cx="143.59" cy="147.05" r="2.14" fill="#ac2238"/><circle cx="148.45" cy="147.05" r="2.18" fill="#dfeaec"/><path d="M147.65 146.25L149.25 147.85M147.65 147.85L149.25 146.25" stroke="#111" stroke-width="1.1"/><circle cx="153.31" cy="147.05" r="1.84" fill="#da7a80"/><circle cx="158.17" cy="147.05" r="1.84" fill="#da7a80"/><circle cx="163.03" cy="147.05" r="2.18" fill="#dfeaec"/><path d="M162.23 146.25L163.83 147.85M162.23 147.85L163.83 146.25" stroke="#111" stroke-width="1.1"/><circle cx="167.88" cy="147.05" r="2.28" fill="#6b0623"/><circle cx="56.15" cy="151.90" r="1.99" fill="#c64a5a"/><circle cx="61.01" cy="151.90" r="2.18" fill="#dfeaec"/><path d="M60.21 151.10L61.81 152.70M60.21 152.70L61.81 151.10" stroke="#111" stroke-width="1.1"/><circle cx="65.87" cy="151.90" r="1.84" fill="#da7a80"/><circle cx="70.72" cy="151.90" r="2.21" fill="#8c1028"/><circle cx="75.58" cy="151.90" r="2.21" fill="#8c1028"/><circle cx="80.44" cy="151.90" r="2.21" fill="#8c1028"/><circle cx="85.30" cy="151.90" r="2.21" fill="#8c1028"/><circle cx="90.16" cy="151.90" r="1.99" fill="#c64a5a"/><circle cx="95.01" cy="151.90" r="1.99" fill="#c64a5a"/><circle cx="99.87" cy="151.90" r="1.99" fill="#c64a5a"/><circle cx="104.73" cy="151.90" r="2.21" fill="#8c1028"/><circle cx="109.59" cy="151.90" r="2.21" fill="#8c1028"/><circle cx="114.45" cy="151.90" r="2.21" fill="#8c1028"/><circle cx="119.30" cy="151.90" r="2.14" fill="#ac2238"/><circle cx="124.16" cy="151.90" r="2.18" fill="#dfeaec"/><path d="M123.36 151.10L124.96 152.70M123.36 152.70L124.96 151.10" stroke="#111" stroke-width="1.1"/><circle cx="129.02" cy="151.90" r="1.84" fill="#da7a80"/><circle cx="133.88" cy="151.90" r="1.84" fill="#da7a80"/><circle cx="138.74" cy="151.90" r="2.18" fill="#dfeaec"/><path d="M137.94 151.10L139.54 152.70M137.94 152.70L139.54 151.10" stroke="#111" stroke-width="1.1"/><circle cx="143.59" cy="151.90" r="2.18" fill="#dfeaec"/><path d="M142.79 151.10L144.39 152.70M142.79 152.70L144.39 151.10" stroke="#111" stroke-width="1.1"/><circle cx="148.45" cy="151.90" r="2.18" fill="#dfeaec"/><path d="M147.65 151.10L149.25 152.70M147.65 152.70L149.25 151.10" stroke="#111" stroke-width="1.1"/><circle cx="153.31" cy="151.90" r="2.18" fill="#dfeaec"/><path d="M152.51 151.10L154.11 152.70M152.51 152.70L154.11 151.10" stroke="#111" stroke-width="1.1"/><circle cx="158.17" cy="151.90" r="2.18" fill="#dfeaec"/><path d="M157.37 151.10L158.97 152.70M157.37 152.70L158.97 151.10" stroke="#111" stroke-width="1.1"/><circle cx="163.03" cy="151.90" r="2.14" fill="#ac2238"/><circle cx="167.88" cy="151.90" r="2.18" fill="#dfeaec"/><path d="M167.08 151.10L168.68 152.70M167.08 152.70L168.68 151.10" stroke="#111" stroke-width="1.1"/><circle cx="172.74" cy="151.90" r="2.28" fill="#6b0623"/><circle cx="56.15" cy="156.75" r="2.18" fill="#dfeaec"/><path d="M55.35 155.95L56.95 157.55M55.35 157.55L56.95 155.95" stroke="#111" stroke-width="1.1"/><circle cx="61.01" cy="156.75" r="2.18" fill="#dfeaec"/><path d="M60.21 155.95L61.81 157.55M60.21 157.55L61.81 155.95" stroke="#111" stroke-width="1.1"/><circle cx="65.87" cy="156.75" r="2.18" fill="#dfeaec"/><path d="M65.07 155.95L66.67 157.55M65.07 157.55L66.67 155.95" stroke="#111" stroke-width="1.1"/><circle cx="70.72" cy="156.75" r="1.99" fill="#c64a5a"/><circle cx="75.58" cy="156.75" r="2.18" fill="#dfeaec"/><path d="M74.78 155.95L76.38 157.55M74.78 157.55L76.38 155.95" stroke="#111" stroke-width="1.1"/><circle cx="80.44" cy="156.75" r="1.84" fill="#da7a80"/><circle cx="85.30" cy="156.75" r="1.99" fill="#c64a5a"/><circle cx="90.16" cy="156.75" r="1.99" fill="#c64a5a"/><circle cx="95.01" cy="156.75" r="2.18" fill="#dfeaec"/><path d="M94.21 155.95L95.81 157.55M94.21 157.55L95.81 155.95" stroke="#111" stroke-width="1.1"/><circle cx="99.87" cy="156.75" r="2.18" fill="#dfeaec"/><path d="M99.07 155.95L100.67 157.55M99.07 157.55L100.67 155.95" stroke="#111" stroke-width="1.1"/><circle cx="104.73" cy="156.75" r="2.18" fill="#dfeaec"/><path d="M103.93 155.95L105.53 157.55M103.93 157.55L105.53 155.95" stroke="#111" stroke-width="1.1"/><circle cx="109.59" cy="156.75" r="1.99" fill="#c64a5a"/><circle cx="114.45" cy="156.75" r="1.99" fill="#c64a5a"/><circle cx="119.30" cy="156.75" r="1.99" fill="#c64a5a"/><circle cx="124.16" cy="156.75" r="2.18" fill="#dfeaec"/><path d="M123.36 155.95L124.96 157.55M123.36 157.55L124.96 155.95" stroke="#111" stroke-width="1.1"/><circle cx="129.02" cy="156.75" r="2.18" fill="#dfeaec"/><path d="M128.22 155.95L129.82 157.55M128.22 157.55L129.82 155.95" stroke="#111" stroke-width="1.1"/><circle cx="133.88" cy="156.75" r="2.18" fill="#dfeaec"/><path d="M133.08 155.95L134.68 157.55M133.08 157.55L134.68 155.95" stroke="#111" stroke-width="1.1"/><circle cx="138.74" cy="156.75" r="2.18" fill="#dfeaec"/><path d="M137.94 155.95L139.54 157.55M137.94 157.55L139.54 155.95" stroke="#111" stroke-width="1.1"/><circle cx="143.59" cy="156.75" r="2.18" fill="#dfeaec"/><path d="M142.79 155.95L144.39 157.55M142.79 157.55L144.39 155.95" stroke="#111" stroke-width="1.1"/><circle cx="148.45" cy="156.75" r="2.18" fill="#dfeaec"/><path d="M147.65 155.95L149.25 157.55M147.65 157.55L149.25 155.95" stroke="#111" stroke-width="1.1"/><circle cx="153.31" cy="156.75" r="2.18" fill="#dfeaec"/><path d="M152.51 155.95L154.11 157.55M152.51 157.55L154.11 155.95" stroke="#111" stroke-width="1.1"/><circle cx="158.17" cy="156.75" r="2.18" fill="#dfeaec"/><path d="M157.37 155.95L158.97 157.55M157.37 157.55L158.97 155.95" stroke="#111" stroke-width="1.1"/><circle cx="163.03" cy="156.75" r="2.18" fill="#dfeaec"/><path d="M162.23 155.95L163.83 157.55M162.23 157.55L163.83 155.95" stroke="#111" stroke-width="1.1"/><circle cx="167.88" cy="156.75" r="2.18" fill="#dfeaec"/><path d="M167.08 155.95L168.68 157.55M167.08 157.55L168.68 155.95" stroke="#111" stroke-width="1.1"/><circle cx="172.74" cy="156.75" r="1.99" fill="#c64a5a"/><circle cx="177.60" cy="156.75" r="2.28" fill="#6b0623"/><circle cx="56.15" cy="161.60" r="1.99" fill="#c64a5a"/><circle cx="61.01" cy="161.60" r="2.18" fill="#dfeaec"/><path d="M60.21 160.80L61.81 162.40M60.21 162.40L61.81 160.80" stroke="#111" stroke-width="1.1"/><circle cx="65.87" cy="161.60" r="2.18" fill="#dfeaec"/><path d="M65.07 160.80L66.67 162.40M65.07 162.40L66.67 160.80" stroke="#111" stroke-width="1.1"/><circle cx="70.72" cy="161.60" r="2.18" fill="#dfeaec"/><path d="M69.92 160.80L71.52 162.40M69.92 162.40L71.52 160.80" stroke="#111" stroke-width="1.1"/><circle cx="75.58" cy="161.60" r="2.18" fill="#dfeaec"/><path d="M74.78 160.80L76.38 162.40M74.78 162.40L76.38 160.80" stroke="#111" stroke-width="1.1"/><circle cx="80.44" cy="161.60" r="1.99" fill="#c64a5a"/><circle cx="85.30" cy="161.60" r="2.18" fill="#dfeaec"/><path d="M84.50 160.80L86.10 162.40M84.50 162.40L86.10 160.80" stroke="#111" stroke-width="1.1"/><circle cx="90.16" cy="161.60" r="2.18" fill="#dfeaec"/><path d="M89.36 160.80L90.96 162.40M89.36 162.40L90.96 160.80" stroke="#111" stroke-width="1.1"/><circle cx="95.01" cy="161.60" r="2.21" fill="#8c1028"/><circle cx="99.87" cy="161.60" r="2.21" fill="#8c1028"/><circle cx="104.73" cy="161.60" r="2.21" fill="#8c1028"/><circle cx="109.59" cy="161.60" r="1.99" fill="#c64a5a"/><circle cx="114.45" cy="161.60" r="2.18" fill="#dfeaec"/><path d="M113.65 160.80L115.25 162.40M113.65 162.40L115.25 160.80" stroke="#111" stroke-width="1.1"/><circle cx="119.30" cy="161.60" r="2.18" fill="#dfeaec"/><path d="M118.50 160.80L120.10 162.40M118.50 162.40L120.10 160.80" stroke="#111" stroke-width="1.1"/><circle cx="124.16" cy="161.60" r="2.21" fill="#8c1028"/><circle cx="129.02" cy="161.60" r="2.21" fill="#8c1028"/><circle cx="133.88" cy="161.60" r="2.21" fill="#8c1028"/><circle cx="138.74" cy="161.60" r="2.18" fill="#dfeaec"/><path d="M137.94 160.80L139.54 162.40M137.94 162.40L139.54 160.80" stroke="#111" stroke-width="1.1"/><circle cx="143.59" cy="161.60" r="2.18" fill="#dfeaec"/><path d="M142.79 160.80L144.39 162.40M142.79 162.40L144.39 160.80" stroke="#111" stroke-width="1.1"/><circle cx="148.45" cy="161.60" r="2.18" fill="#dfeaec"/><path d="M147.65 160.80L149.25 162.40M147.65 162.40L149.25 160.80" stroke="#111" stroke-width="1.1"/><circle cx="153.31" cy="161.60" r="2.18" fill="#dfeaec"/><path d="M152.51 160.80L154.11 162.40M152.51 162.40L154.11 160.80" stroke="#111" stroke-width="1.1"/><circle cx="158.17" cy="161.60" r="2.18" fill="#dfeaec"/><path d="M157.37 160.80L158.97 162.40M157.37 162.40L158.97 160.80" stroke="#111" stroke-width="1.1"/><circle cx="163.03" cy="161.60" r="2.21" fill="#8c1028"/><circle cx="167.88" cy="161.60" r="2.18" fill="#dfeaec"/><path d="M167.08 160.80L168.68 162.40M167.08 162.40L168.68 160.80" stroke="#111" stroke-width="1.1"/><circle cx="172.74" cy="161.60" r="1.99" fill="#c64a5a"/><circle cx="177.60" cy="161.60" r="2.18" fill="#dfeaec"/><path d="M176.80 160.80L178.40 162.40M176.80 162.40L178.40 160.80" stroke="#111" stroke-width="1.1"/><circle cx="182.46" cy="161.60" r="2.28" fill="#6b0623"/><circle cx="56.15" cy="166.45" r="1.84" fill="#da7a80"/><circle cx="61.01" cy="166.45" r="2.18" fill="#dfeaec"/><path d="M60.21 165.65L61.81 167.25M60.21 167.25L61.81 165.65" stroke="#111" stroke-width="1.1"/><circle cx="65.87" cy="166.45" r="2.18" fill="#dfeaec"/><path d="M65.07 165.65L66.67 167.25M65.07 167.25L66.67 165.65" stroke="#111" stroke-width="1.1"/><circle cx="70.72" cy="166.45" r="2.14" fill="#ac2238"/><circle cx="75.58" cy="166.45" r="1.99" fill="#c64a5a"/><circle cx="80.44" cy="166.45" r="2.14" fill="#ac2238"/><circle cx="85.30" cy="166.45" r="2.14" fill="#ac2238"/><circle cx="90.16" cy="166.45" r="1.84" fill="#da7a80"/><circle cx="95.01" cy="166.45" r="1.99" fill="#c64a5a"/><circle cx="99.87" cy="166.45" r="2.14" fill="#ac2238"/><circle cx="104.73" cy="166.45" r="2.14" fill="#ac2238"/><circle cx="109.59" cy="166.45" r="2.14" fill="#ac2238"/><circle cx="114.45" cy="166.45" r="2.14" fill="#ac2238"/><circle cx="119.30" cy="166.45" r="1.99" fill="#c64a5a"/><circle cx="124.16" cy="166.45" r="2.18" fill="#dfeaec"/><path d="M123.36 165.65L124.96 167.25M123.36 167.25L124.96 165.65" stroke="#111" stroke-width="1.1"/><circle cx="129.02" cy="166.45" r="1.99" fill="#c64a5a"/><circle cx="133.88" cy="166.45" r="1.99" fill="#c64a5a"/><circle cx="138.74" cy="166.45" r="2.18" fill="#dfeaec"/><path d="M137.94 165.65L139.54 167.25M137.94 167.25L139.54 165.65" stroke="#111" stroke-width="1.1"/><circle cx="143.59" cy="166.45" r="2.18" fill="#dfeaec"/><path d="M142.79 165.65L144.39 167.25M142.79 167.25L144.39 165.65" stroke="#111" stroke-width="1.1"/><circle cx="148.45" cy="166.45" r="2.18" fill="#dfeaec"/><path d="M147.65 165.65L149.25 167.25M147.65 167.25L149.25 165.65" stroke="#111" stroke-width="1.1"/><circle cx="153.31" cy="166.45" r="2.18" fill="#dfeaec"/><path d="M152.51 165.65L154.11 167.25M152.51 167.25L154.11 165.65" stroke="#111" stroke-width="1.1"/><circle cx="158.17" cy="166.45" r="2.18" fill="#dfeaec"/><path d="M157.37 165.65L158.97 167.25M157.37 167.25L158.97 165.65" stroke="#111" stroke-width="1.1"/><circle cx="163.03" cy="166.45" r="2.14" fill="#ac2238"/><circle cx="167.88" cy="166.45" r="2.18" fill="#dfeaec"/><path d="M167.08 165.65L168.68 167.25M167.08 167.25L168.68 165.65" stroke="#111" stroke-width="1.1"/><circle cx="172.74" cy="166.45" r="2.21" fill="#8c1028"/><circle cx="177.60" cy="166.45" r="2.14" fill="#ac2238"/><circle cx="182.46" cy="166.45" r="1.99" fill="#c64a5a"/><circle cx="187.32" cy="166.45" r="2.28" fill="#6b0623"/><circle cx="56.15" cy="171.30" r="2.18" fill="#dfeaec"/><path d="M55.35 170.50L56.95 172.10M55.35 172.10L56.95 170.50" stroke="#111" stroke-width="1.1"/><circle cx="61.01" cy="171.30" r="1.84" fill="#da7a80"/><circle cx="65.87" cy="171.30" r="1.99" fill="#c64a5a"/><circle cx="70.72" cy="171.30" r="2.21" fill="#8c1028"/><circle cx="75.58" cy="171.30" r="2.21" fill="#8c1028"/><circle cx="80.44" cy="171.30" r="2.14" fill="#ac2238"/><circle cx="85.30" cy="171.30" r="2.21" fill="#8c1028"/><circle cx="90.16" cy="171.30" r="1.99" fill="#c64a5a"/><circle cx="95.01" cy="171.30" r="2.18" fill="#dfeaec"/><path d="M94.21 170.50L95.81 172.10M94.21 172.10L95.81 170.50" stroke="#111" stroke-width="1.1"/><circle cx="99.87" cy="171.30" r="2.18" fill="#dfeaec"/><path d="M99.07 170.50L100.67 172.10M99.07 172.10L100.67 170.50" stroke="#111" stroke-width="1.1"/><circle cx="104.73" cy="171.30" r="2.18" fill="#dfeaec"/><path d="M103.93 170.50L105.53 172.10M103.93 172.10L105.53 170.50" stroke="#111" stroke-width="1.1"/><circle cx="109.59" cy="171.30" r="1.99" fill="#c64a5a"/><circle cx="114.45" cy="171.30" r="2.21" fill="#8c1028"/><circle cx="119.30" cy="171.30" r="2.21" fill="#8c1028"/><circle cx="124.16" cy="171.30" r="2.18" fill="#dfeaec"/><path d="M123.36 170.50L124.96 172.10M123.36 172.10L124.96 170.50" stroke="#111" stroke-width="1.1"/><circle cx="129.02" cy="171.30" r="2.18" fill="#dfeaec"/><path d="M128.22 170.50L129.82 172.10M128.22 172.10L129.82 170.50" stroke="#111" stroke-width="1.1"/><circle cx="133.88" cy="171.30" r="2.18" fill="#dfeaec"/><path d="M133.08 170.50L134.68 172.10M133.08 172.10L134.68 170.50" stroke="#111" stroke-width="1.1"/><circle cx="138.74" cy="171.30" r="2.18" fill="#dfeaec"/><path d="M137.94 170.50L139.54 172.10M137.94 172.10L139.54 170.50" stroke="#111" stroke-width="1.1"/><circle cx="143.59" cy="171.30" r="2.18" fill="#dfeaec"/><path d="M142.79 170.50L144.39 172.10M142.79 172.10L144.39 170.50" stroke="#111" stroke-width="1.1"/><circle cx="148.45" cy="171.30" r="1.84" fill="#da7a80"/><circle cx="153.31" cy="171.30" r="2.18" fill="#dfeaec"/><path d="M152.51 170.50L154.11 172.10M152.51 172.10L154.11 170.50" stroke="#111" stroke-width="1.1"/><circle cx="158.17" cy="171.30" r="2.18" fill="#dfeaec"/><path d="M157.37 170.50L158.97 172.10M157.37 172.10L158.97 170.50" stroke="#111" stroke-width="1.1"/><circle cx="163.03" cy="171.30" r="2.18" fill="#dfeaec"/><path d="M162.23 170.50L163.83 172.10M162.23 172.10L163.83 170.50" stroke="#111" stroke-width="1.1"/><circle cx="167.88" cy="171.30" r="2.18" fill="#dfeaec"/><path d="M167.08 170.50L168.68 172.10M167.08 172.10L168.68 170.50" stroke="#111" stroke-width="1.1"/><circle cx="172.74" cy="171.30" r="2.14" fill="#ac2238"/><circle cx="177.60" cy="171.30" r="1.99" fill="#c64a5a"/><circle cx="182.46" cy="171.30" r="2.18" fill="#dfeaec"/><path d="M181.66 170.50L183.26 172.10M181.66 172.10L183.26 170.50" stroke="#111" stroke-width="1.1"/><circle cx="187.32" cy="171.30" r="1.84" fill="#da7a80"/><circle cx="192.17" cy="171.30" r="2.28" fill="#6b0623"/><circle cx="56.15" cy="176.15" r="2.18" fill="#dfeaec"/><path d="M55.35 175.35L56.95 176.95M55.35 176.95L56.95 175.35" stroke="#111" stroke-width="1.1"/><circle cx="61.01" cy="176.15" r="2.14" fill="#ac2238"/><circle cx="65.87" cy="176.15" r="2.21" fill="#8c1028"/><circle cx="70.72" cy="176.15" r="2.14" fill="#ac2238"/><circle cx="75.58" cy="176.15" r="2.21" fill="#8c1028"/><circle cx="80.44" cy="176.15" r="2.14" fill="#ac2238"/><circle cx="85.30" cy="176.15" r="2.21" fill="#8c1028"/><circle cx="90.16" cy="176.15" r="2.18" fill="#dfeaec"/><path d="M89.36 175.35L90.96 176.95M89.36 176.95L90.96 175.35" stroke="#111" stroke-width="1.1"/><circle cx="95.01" cy="176.15" r="2.18" fill="#dfeaec"/><path d="M94.21 175.35L95.81 176.95M94.21 176.95L95.81 175.35" stroke="#111" stroke-width="1.1"/><circle cx="99.87" cy="176.15" r="2.18" fill="#dfeaec"/><path d="M99.07 175.35L100.67 176.95M99.07 176.95L100.67 175.35" stroke="#111" stroke-width="1.1"/><circle cx="104.73" cy="176.15" r="2.18" fill="#dfeaec"/><path d="M103.93 175.35L105.53 176.95M103.93 176.95L105.53 175.35" stroke="#111" stroke-width="1.1"/><circle cx="109.59" cy="176.15" r="1.99" fill="#c64a5a"/><circle cx="114.45" cy="176.15" r="2.21" fill="#8c1028"/><circle cx="119.30" cy="176.15" r="2.21" fill="#8c1028"/><circle cx="124.16" cy="176.15" r="2.18" fill="#dfeaec"/><path d="M123.36 175.35L124.96 176.95M123.36 176.95L124.96 175.35" stroke="#111" stroke-width="1.1"/><circle cx="129.02" cy="176.15" r="2.18" fill="#dfeaec"/><path d="M128.22 175.35L129.82 176.95M128.22 176.95L129.82 175.35" stroke="#111" stroke-width="1.1"/><circle cx="133.88" cy="176.15" r="2.18" fill="#dfeaec"/><path d="M133.08 175.35L134.68 176.95M133.08 176.95L134.68 175.35" stroke="#111" stroke-width="1.1"/><circle cx="138.74" cy="176.15" r="2.18" fill="#dfeaec"/><path d="M137.94 175.35L139.54 176.95M137.94 176.95L139.54 175.35" stroke="#111" stroke-width="1.1"/><circle cx="143.59" cy="176.15" r="2.18" fill="#dfeaec"/><path d="M142.79 175.35L144.39 176.95M142.79 176.95L144.39 175.35" stroke="#111" stroke-width="1.1"/><circle cx="148.45" cy="176.15" r="2.18" fill="#dfeaec"/><path d="M147.65 175.35L149.25 176.95M147.65 176.95L149.25 175.35" stroke="#111" stroke-width="1.1"/><circle cx="153.31" cy="176.15" r="2.18" fill="#dfeaec"/><path d="M152.51 175.35L154.11 176.95M152.51 176.95L154.11 175.35" stroke="#111" stroke-width="1.1"/><circle cx="158.17" cy="176.15" r="2.14" fill="#ac2238"/><circle cx="163.03" cy="176.15" r="2.18" fill="#dfeaec"/><path d="M162.23 175.35L163.83 176.95M162.23 176.95L163.83 175.35" stroke="#111" stroke-width="1.1"/><circle cx="167.88" cy="176.15" r="1.84" fill="#da7a80"/><circle cx="172.74" cy="176.15" r="2.14" fill="#ac2238"/><circle cx="177.60" cy="176.15" r="2.18" fill="#dfeaec"/><path d="M176.80 175.35L178.40 176.95M176.80 176.95L178.40 175.35" stroke="#111" stroke-width="1.1"/><circle cx="182.46" cy="176.15" r="2.18" fill="#dfeaec"/><path d="M181.66 175.35L183.26 176.95M181.66 176.95L183.26 175.35" stroke="#111" stroke-width="1.1"/><circle cx="187.32" cy="176.15" r="1.84" fill="#da7a80"/><circle cx="192.17" cy="176.15" r="2.14" fill="#ac2238"/><circle cx="197.03" cy="176.15" r="2.28" fill="#6b0623"/><circle cx="56.15" cy="181.00" r="2.14" fill="#ac2238"/><circle cx="61.01" cy="181.00" r="2.18" fill="#dfeaec"/><path d="M60.21 180.20L61.81 181.80M60.21 181.80L61.81 180.20" stroke="#111" stroke-width="1.1"/><circle cx="65.87" cy="181.00" r="2.18" fill="#dfeaec"/><path d="M65.07 180.20L66.67 181.80M65.07 181.80L66.67 180.20" stroke="#111" stroke-width="1.1"/><circle cx="70.72" cy="181.00" r="1.99" fill="#c64a5a"/><circle cx="75.58" cy="181.00" r="1.99" fill="#c64a5a"/><circle cx="80.44" cy="181.00" r="2.21" fill="#8c1028"/><circle cx="85.30" cy="181.00" r="1.99" fill="#c64a5a"/><circle cx="90.16" cy="181.00" r="2.18" fill="#dfeaec"/><path d="M89.36 180.20L90.96 181.80M89.36 181.80L90.96 180.20" stroke="#111" stroke-width="1.1"/><circle cx="95.01" cy="181.00" r="2.21" fill="#8c1028"/><circle cx="99.87" cy="181.00" r="2.21" fill="#8c1028"/><circle cx="104.73" cy="181.00" r="2.21" fill="#8c1028"/><circle cx="109.59" cy="181.00" r="2.14" fill="#ac2238"/><circle cx="114.45" cy="181.00" r="1.99" fill="#c64a5a"/><circle cx="119.30" cy="181.00" r="1.99" fill="#c64a5a"/><circle cx="124.16" cy="181.00" r="1.84" fill="#da7a80"/><circle cx="129.02" cy="181.00" r="2.14" fill="#ac2238"/><circle cx="133.88" cy="181.00" r="2.21" fill="#8c1028"/><circle cx="138.74" cy="181.00" r="2.18" fill="#dfeaec"/><path d="M137.94 180.20L139.54 181.80M137.94 181.80L139.54 180.20" stroke="#111" stroke-width="1.1"/><circle cx="143.59" cy="181.00" r="2.18" fill="#dfeaec"/><path d="M142.79 180.20L144.39 181.80M142.79 181.80L144.39 180.20" stroke="#111" stroke-width="1.1"/><circle cx="148.45" cy="181.00" r="2.18" fill="#dfeaec"/><path d="M147.65 180.20L149.25 181.80M147.65 181.80L149.25 180.20" stroke="#111" stroke-width="1.1"/><circle cx="153.31" cy="181.00" r="2.18" fill="#dfeaec"/><path d="M152.51 180.20L154.11 181.80M152.51 181.80L154.11 180.20" stroke="#111" stroke-width="1.1"/><circle cx="158.17" cy="181.00" r="2.18" fill="#dfeaec"/><path d="M157.37 180.20L158.97 181.80M157.37 181.80L158.97 180.20" stroke="#111" stroke-width="1.1"/><circle cx="163.03" cy="181.00" r="2.21" fill="#8c1028"/><circle cx="167.88" cy="181.00" r="1.99" fill="#c64a5a"/><circle cx="172.74" cy="181.00" r="2.14" fill="#ac2238"/><circle cx="177.60" cy="181.00" r="2.18" fill="#dfeaec"/><path d="M176.80 180.20L178.40 181.80M176.80 181.80L178.40 180.20" stroke="#111" stroke-width="1.1"/><circle cx="182.46" cy="181.00" r="2.21" fill="#8c1028"/><circle cx="187.32" cy="181.00" r="2.14" fill="#ac2238"/><circle cx="192.17" cy="181.00" r="2.18" fill="#dfeaec"/><path d="M191.37 180.20L192.97 181.80M191.37 181.80L192.97 180.20" stroke="#111" stroke-width="1.1"/><circle cx="197.03" cy="181.00" r="1.99" fill="#c64a5a"/><circle cx="201.89" cy="181.00" r="2.28" fill="#6b0623"/><circle cx="56.15" cy="185.85" r="2.18" fill="#dfeaec"/><path d="M55.35 185.05L56.95 186.65M55.35 186.65L56.95 185.05" stroke="#111" stroke-width="1.1"/><circle cx="61.01" cy="185.85" r="2.14" fill="#ac2238"/><circle cx="65.87" cy="185.85" r="2.14" fill="#ac2238"/><circle cx="70.72" cy="185.85" r="1.99" fill="#c64a5a"/><circle cx="75.58" cy="185.85" r="1.99" fill="#c64a5a"/><circle cx="80.44" cy="185.85" r="1.99" fill="#c64a5a"/><circle cx="85.30" cy="185.85" r="1.99" fill="#c64a5a"/><circle cx="90.16" cy="185.85" r="2.18" fill="#dfeaec"/><path d="M89.36 185.05L90.96 186.65M89.36 186.65L90.96 185.05" stroke="#111" stroke-width="1.1"/><circle cx="95.01" cy="185.85" r="2.18" fill="#dfeaec"/><path d="M94.21 185.05L95.81 186.65M94.21 186.65L95.81 185.05" stroke="#111" stroke-width="1.1"/><circle cx="99.87" cy="185.85" r="2.18" fill="#dfeaec"/><path d="M99.07 185.05L100.67 186.65M99.07 186.65L100.67 185.05" stroke="#111" stroke-width="1.1"/><circle cx="104.73" cy="185.85" r="2.18" fill="#dfeaec"/><path d="M103.93 185.05L105.53 186.65M103.93 186.65L105.53 185.05" stroke="#111" stroke-width="1.1"/><circle cx="109.59" cy="185.85" r="2.18" fill="#dfeaec"/><path d="M108.79 185.05L110.39 186.65M108.79 186.65L110.39 185.05" stroke="#111" stroke-width="1.1"/><circle cx="114.45" cy="185.85" r="1.99" fill="#c64a5a"/><circle cx="119.30" cy="185.85" r="1.84" fill="#da7a80"/><circle cx="124.16" cy="185.85" r="2.18" fill="#dfeaec"/><path d="M123.36 185.05L124.96 186.65M123.36 186.65L124.96 185.05" stroke="#111" stroke-width="1.1"/><circle cx="129.02" cy="185.85" r="2.18" fill="#dfeaec"/><path d="M128.22 185.05L129.82 186.65M128.22 186.65L129.82 185.05" stroke="#111" stroke-width="1.1"/><circle cx="133.88" cy="185.85" r="2.18" fill="#dfeaec"/><path d="M133.08 185.05L134.68 186.65M133.08 186.65L134.68 185.05" stroke="#111" stroke-width="1.1"/><circle cx="138.74" cy="185.85" r="2.18" fill="#dfeaec"/><path d="M137.94 185.05L139.54 186.65M137.94 186.65L139.54 185.05" stroke="#111" stroke-width="1.1"/><circle cx="143.59" cy="185.85" r="2.18" fill="#dfeaec"/><path d="M142.79 185.05L144.39 186.65M142.79 186.65L144.39 185.05" stroke="#111" stroke-width="1.1"/><circle cx="148.45" cy="185.85" r="2.18" fill="#dfeaec"/><path d="M147.65 185.05L149.25 186.65M147.65 186.65L149.25 185.05" stroke="#111" stroke-width="1.1"/><circle cx="153.31" cy="185.85" r="2.18" fill="#dfeaec"/><path d="M152.51 185.05L154.11 186.65M152.51 186.65L154.11 185.05" stroke="#111" stroke-width="1.1"/><circle cx="158.17" cy="185.85" r="2.14" fill="#ac2238"/><circle cx="163.03" cy="185.85" r="2.18" fill="#dfeaec"/><path d="M162.23 185.05L163.83 186.65M162.23 186.65L163.83 185.05" stroke="#111" stroke-width="1.1"/><circle cx="167.88" cy="185.85" r="1.99" fill="#c64a5a"/><circle cx="172.74" cy="185.85" r="1.99" fill="#c64a5a"/><circle cx="177.60" cy="185.85" r="2.18" fill="#dfeaec"/><path d="M176.80 185.05L178.40 186.65M176.80 186.65L178.40 185.05" stroke="#111" stroke-width="1.1"/><circle cx="182.46" cy="185.85" r="1.99" fill="#c64a5a"/><circle cx="187.32" cy="185.85" r="1.99" fill="#c64a5a"/><circle cx="192.17" cy="185.85" r="2.18" fill="#dfeaec"/><path d="M191.37 185.05L192.97 186.65M191.37 186.65L192.97 185.05" stroke="#111" stroke-width="1.1"/><circle cx="197.03" cy="185.85" r="2.21" fill="#8c1028"/><circle cx="201.89" cy="185.85" r="1.99" fill="#c64a5a"/><circle cx="206.75" cy="185.85" r="2.28" fill="#6b0623"/><circle cx="56.15" cy="190.70" r="2.18" fill="#dfeaec"/><path d="M55.35 189.90L56.95 191.50M55.35 191.50L56.95 189.90" stroke="#111" stroke-width="1.1"/><circle cx="61.01" cy="190.70" r="2.14" fill="#ac2238"/><circle cx="65.87" cy="190.70" r="2.18" fill="#dfeaec"/><path d="M65.07 189.90L66.67 191.50M65.07 191.50L66.67 189.90" stroke="#111" stroke-width="1.1"/><circle cx="70.72" cy="190.70" r="2.18" fill="#dfeaec"/><path d="M69.92 189.90L71.52 191.50M69.92 191.50L71.52 189.90" stroke="#111" stroke-width="1.1"/><circle cx="75.58" cy="190.70" r="2.18" fill="#dfeaec"/><path d="M74.78 189.90L76.38 191.50M74.78 191.50L76.38 189.90" stroke="#111" stroke-width="1.1"/><circle cx="80.44" cy="190.70" r="1.84" fill="#da7a80"/><circle cx="85.30" cy="190.70" r="2.18" fill="#dfeaec"/><path d="M84.50 189.90L86.10 191.50M84.50 191.50L86.10 189.90" stroke="#111" stroke-width="1.1"/><circle cx="90.16" cy="190.70" r="2.18" fill="#dfeaec"/><path d="M89.36 189.90L90.96 191.50M89.36 191.50L90.96 189.90" stroke="#111" stroke-width="1.1"/><circle cx="95.01" cy="190.70" r="2.18" fill="#dfeaec"/><path d="M94.21 189.90L95.81 191.50M94.21 191.50L95.81 189.90" stroke="#111" stroke-width="1.1"/><circle cx="99.87" cy="190.70" r="1.99" fill="#c64a5a"/><circle cx="104.73" cy="190.70" r="1.84" fill="#da7a80"/><circle cx="109.59" cy="190.70" r="2.18" fill="#dfeaec"/><path d="M108.79 189.90L110.39 191.50M108.79 191.50L110.39 189.90" stroke="#111" stroke-width="1.1"/><circle cx="114.45" cy="190.70" r="2.18" fill="#dfeaec"/><path d="M113.65 189.90L115.25 191.50M113.65 191.50L115.25 189.90" stroke="#111" stroke-width="1.1"/><circle cx="119.30" cy="190.70" r="2.18" fill="#dfeaec"/><path d="M118.50 189.90L120.10 191.50M118.50 191.50L120.10 189.90" stroke="#111" stroke-width="1.1"/><circle cx="124.16" cy="190.70" r="2.18" fill="#dfeaec"/><path d="M123.36 189.90L124.96 191.50M123.36 191.50L124.96 189.90" stroke="#111" stroke-width="1.1"/><circle cx="129.02" cy="190.70" r="2.18" fill="#dfeaec"/><path d="M128.22 189.90L129.82 191.50M128.22 191.50L129.82 189.90" stroke="#111" stroke-width="1.1"/><circle cx="133.88" cy="190.70" r="1.99" fill="#c64a5a"/><circle cx="138.74" cy="190.70" r="1.84" fill="#da7a80"/><circle cx="143.59" cy="190.70" r="2.18" fill="#dfeaec"/><path d="M142.79 189.90L144.39 191.50M142.79 191.50L144.39 189.90" stroke="#111" stroke-width="1.1"/><circle cx="148.45" cy="190.70" r="2.18" fill="#dfeaec"/><path d="M147.65 189.90L149.25 191.50M147.65 191.50L149.25 189.90" stroke="#111" stroke-width="1.1"/><circle cx="153.31" cy="190.70" r="2.18" fill="#dfeaec"/><path d="M152.51 189.90L154.11 191.50M152.51 191.50L154.11 189.90" stroke="#111" stroke-width="1.1"/><circle cx="158.17" cy="190.70" r="2.18" fill="#dfeaec"/><path d="M157.37 189.90L158.97 191.50M157.37 191.50L158.97 189.90" stroke="#111" stroke-width="1.1"/><circle cx="163.03" cy="190.70" r="1.84" fill="#da7a80"/><circle cx="167.88" cy="190.70" r="2.21" fill="#8c1028"/><circle cx="172.74" cy="190.70" r="2.18" fill="#dfeaec"/><path d="M171.94 189.90L173.54 191.50M171.94 191.50L173.54 189.90" stroke="#111" stroke-width="1.1"/><circle cx="177.60" cy="190.70" r="2.18" fill="#dfeaec"/><path d="M176.80 189.90L178.40 191.50M176.80 191.50L178.40 189.90" stroke="#111" stroke-width="1.1"/><circle cx="182.46" cy="190.70" r="1.99" fill="#c64a5a"/><circle cx="187.32" cy="190.70" r="1.99" fill="#c64a5a"/><circle cx="192.17" cy="190.70" r="2.18" fill="#dfeaec"/><path d="M191.37 189.90L192.97 191.50M191.37 191.50L192.97 189.90" stroke="#111" stroke-width="1.1"/><circle cx="197.03" cy="190.70" r="1.99" fill="#c64a5a"/><circle cx="201.89" cy="190.70" r="2.14" fill="#ac2238"/><circle cx="206.75" cy="190.70" r="1.99" fill="#c64a5a"/><circle cx="211.61" cy="190.70" r="2.28" fill="#6b0623"/><circle cx="56.15" cy="195.55" r="1.99" fill="#c64a5a"/><circle cx="61.01" cy="195.55" r="1.99" fill="#c64a5a"/><circle cx="65.87" cy="195.55" r="2.14" fill="#ac2238"/><circle cx="70.72" cy="195.55" r="2.28" fill="#6b0623"/><circle cx="75.58" cy="195.55" r="2.28" fill="#6b0623"/><circle cx="80.44" cy="195.55" r="2.28" fill="#6b0623"/><circle cx="85.30" cy="195.55" r="2.28" fill="#6b0623"/><circle cx="90.16" cy="195.55" r="1.99" fill="#c64a5a"/><circle cx="95.01" cy="195.55" r="2.18" fill="#dfeaec"/><path d="M94.21 194.75L95.81 196.35M94.21 196.35L95.81 194.75" stroke="#111" stroke-width="1.1"/><circle cx="99.87" cy="195.55" r="1.99" fill="#c64a5a"/><circle cx="104.73" cy="195.55" r="1.99" fill="#c64a5a"/><circle cx="109.59" cy="195.55" r="2.14" fill="#ac2238"/><circle cx="114.45" cy="195.55" r="2.28" fill="#6b0623"/><circle cx="119.30" cy="195.55" r="2.28" fill="#6b0623"/><circle cx="124.16" cy="195.55" r="2.18" fill="#dfeaec"/><path d="M123.36 194.75L124.96 196.35M123.36 196.35L124.96 194.75" stroke="#111" stroke-width="1.1"/><circle cx="129.02" cy="195.55" r="2.18" fill="#dfeaec"/><path d="M128.22 194.75L129.82 196.35M128.22 196.35L129.82 194.75" stroke="#111" stroke-width="1.1"/><circle cx="133.88" cy="195.55" r="2.18" fill="#dfeaec"/><path d="M133.08 194.75L134.68 196.35M133.08 196.35L134.68 194.75" stroke="#111" stroke-width="1.1"/><circle cx="138.74" cy="195.55" r="2.18" fill="#dfeaec"/><path d="M137.94 194.75L139.54 196.35M137.94 196.35L139.54 194.75" stroke="#111" stroke-width="1.1"/><circle cx="143.59" cy="195.55" r="2.18" fill="#dfeaec"/><path d="M142.79 194.75L144.39 196.35M142.79 196.35L144.39 194.75" stroke="#111" stroke-width="1.1"/><circle cx="148.45" cy="195.55" r="2.18" fill="#dfeaec"/><path d="M147.65 194.75L149.25 196.35M147.65 196.35L149.25 194.75" stroke="#111" stroke-width="1.1"/><circle cx="153.31" cy="195.55" r="2.18" fill="#dfeaec"/><path d="M152.51 194.75L154.11 196.35M152.51 196.35L154.11 194.75" stroke="#111" stroke-width="1.1"/><circle cx="158.17" cy="195.55" r="1.99" fill="#c64a5a"/><circle cx="163.03" cy="195.55" r="2.18" fill="#dfeaec"/><path d="M162.23 194.75L163.83 196.35M162.23 196.35L163.83 194.75" stroke="#111" stroke-width="1.1"/><circle cx="167.88" cy="195.55" r="2.18" fill="#dfeaec"/><path d="M167.08 194.75L168.68 196.35M167.08 196.35L168.68 194.75" stroke="#111" stroke-width="1.1"/><circle cx="172.74" cy="195.55" r="2.14" fill="#ac2238"/><circle cx="177.60" cy="195.55" r="1.99" fill="#c64a5a"/><circle cx="182.46" cy="195.55" r="2.18" fill="#dfeaec"/><path d="M181.66 194.75L183.26 196.35M181.66 196.35L183.26 194.75" stroke="#111" stroke-width="1.1"/><circle cx="187.32" cy="195.55" r="2.14" fill="#ac2238"/><circle cx="192.17" cy="195.55" r="2.21" fill="#8c1028"/><circle cx="197.03" cy="195.55" r="2.21" fill="#8c1028"/><circle cx="201.89" cy="195.55" r="2.14" fill="#ac2238"/><circle cx="206.75" cy="195.55" r="1.99" fill="#c64a5a"/><circle cx="211.61" cy="195.55" r="2.18" fill="#dfeaec"/><path d="M210.81 194.75L212.41 196.35M210.81 196.35L212.41 194.75" stroke="#111" stroke-width="1.1"/><circle cx="216.46" cy="195.55" r="2.28" fill="#6b0623"/><circle cx="56.15" cy="200.40" r="1.99" fill="#c64a5a"/><circle cx="61.01" cy="200.40" r="1.99" fill="#c64a5a"/><circle cx="65.87" cy="200.40" r="2.14" fill="#ac2238"/><circle cx="70.72" cy="200.40" r="2.28" fill="#6b0623"/><circle cx="75.58" cy="200.40" r="2.28" fill="#6b0623"/><circle cx="80.44" cy="200.40" r="2.28" fill="#6b0623"/><circle cx="85.30" cy="200.40" r="2.28" fill="#6b0623"/><circle cx="90.16" cy="200.40" r="1.99" fill="#c64a5a"/><circle cx="95.01" cy="200.40" r="1.99" fill="#c64a5a"/><circle cx="99.87" cy="200.40" r="1.99" fill="#c64a5a"/><circle cx="104.73" cy="200.40" r="1.99" fill="#c64a5a"/><circle cx="109.59" cy="200.40" r="2.14" fill="#ac2238"/><circle cx="114.45" cy="200.40" r="2.28" fill="#6b0623"/><circle cx="119.30" cy="200.40" r="2.28" fill="#6b0623"/><circle cx="124.16" cy="200.40" r="2.18" fill="#dfeaec"/><path d="M123.36 199.60L124.96 201.20M123.36 201.20L124.96 199.60" stroke="#111" stroke-width="1.1"/><circle cx="129.02" cy="200.40" r="2.18" fill="#dfeaec"/><path d="M128.22 199.60L129.82 201.20M128.22 201.20L129.82 199.60" stroke="#111" stroke-width="1.1"/><circle cx="133.88" cy="200.40" r="2.18" fill="#dfeaec"/><path d="M133.08 199.60L134.68 201.20M133.08 201.20L134.68 199.60" stroke="#111" stroke-width="1.1"/><circle cx="138.74" cy="200.40" r="2.18" fill="#dfeaec"/><path d="M137.94 199.60L139.54 201.20M137.94 201.20L139.54 199.60" stroke="#111" stroke-width="1.1"/><circle cx="143.59" cy="200.40" r="2.18" fill="#dfeaec"/><path d="M142.79 199.60L144.39 201.20M142.79 201.20L144.39 199.60" stroke="#111" stroke-width="1.1"/><circle cx="148.45" cy="200.40" r="2.18" fill="#dfeaec"/><path d="M147.65 199.60L149.25 201.20M147.65 201.20L149.25 199.60" stroke="#111" stroke-width="1.1"/><circle cx="153.31" cy="200.40" r="2.18" fill="#dfeaec"/><path d="M152.51 199.60L154.11 201.20M152.51 201.20L154.11 199.60" stroke="#111" stroke-width="1.1"/><circle cx="158.17" cy="200.40" r="1.99" fill="#c64a5a"/><circle cx="163.03" cy="200.40" r="2.18" fill="#dfeaec"/><path d="M162.23 199.60L163.83 201.20M162.23 201.20L163.83 199.60" stroke="#111" stroke-width="1.1"/><circle cx="167.88" cy="200.40" r="2.18" fill="#dfeaec"/><path d="M167.08 199.60L168.68 201.20M167.08 201.20L168.68 199.60" stroke="#111" stroke-width="1.1"/><circle cx="172.74" cy="200.40" r="2.21" fill="#8c1028"/><circle cx="177.60" cy="200.40" r="1.99" fill="#c64a5a"/><circle cx="182.46" cy="200.40" r="2.18" fill="#dfeaec"/><path d="M181.66 199.60L183.26 201.20M181.66 201.20L183.26 199.60" stroke="#111" stroke-width="1.1"/><circle cx="187.32" cy="200.40" r="2.14" fill="#ac2238"/><circle cx="192.17" cy="200.40" r="2.21" fill="#8c1028"/><circle cx="197.03" cy="200.40" r="2.21" fill="#8c1028"/><circle cx="201.89" cy="200.40" r="1.99" fill="#c64a5a"/><circle cx="206.75" cy="200.40" r="1.99" fill="#c64a5a"/><circle cx="211.61" cy="200.40" r="2.18" fill="#dfeaec"/><path d="M210.81 199.60L212.41 201.20M210.81 201.20L212.41 199.60" stroke="#111" stroke-width="1.1"/><circle cx="216.46" cy="200.40" r="2.28" fill="#6b0623"/><circle cx="221.32" cy="200.40" r="2.28" fill="#6b0623"/><circle cx="56.15" cy="205.25" r="2.18" fill="#dfeaec"/><path d="M55.35 204.45L56.95 206.05M55.35 206.05L56.95 204.45" stroke="#111" stroke-width="1.1"/><circle cx="61.01" cy="205.25" r="2.21" fill="#8c1028"/><circle cx="65.87" cy="205.25" r="2.21" fill="#8c1028"/><circle cx="70.72" cy="205.25" r="1.99" fill="#c64a5a"/><circle cx="75.58" cy="205.25" r="2.14" fill="#ac2238"/><circle cx="80.44" cy="205.25" r="2.18" fill="#dfeaec"/><path d="M79.64 204.45L81.24 206.05M79.64 206.05L81.24 204.45" stroke="#111" stroke-width="1.1"/><circle cx="85.30" cy="205.25" r="1.99" fill="#c64a5a"/><circle cx="90.16" cy="205.25" r="2.18" fill="#dfeaec"/><path d="M89.36 204.45L90.96 206.05M89.36 206.05L90.96 204.45" stroke="#111" stroke-width="1.1"/><circle cx="95.01" cy="205.25" r="2.18" fill="#dfeaec"/><path d="M94.21 204.45L95.81 206.05M94.21 206.05L95.81 204.45" stroke="#111" stroke-width="1.1"/><circle cx="99.87" cy="205.25" r="2.18" fill="#dfeaec"/><path d="M99.07 204.45L100.67 206.05M99.07 206.05L100.67 204.45" stroke="#111" stroke-width="1.1"/><circle cx="104.73" cy="205.25" r="2.18" fill="#dfeaec"/><path d="M103.93 204.45L105.53 206.05M103.93 206.05L105.53 204.45" stroke="#111" stroke-width="1.1"/><circle cx="109.59" cy="205.25" r="2.18" fill="#dfeaec"/><path d="M108.79 204.45L110.39 206.05M108.79 206.05L110.39 204.45" stroke="#111" stroke-width="1.1"/><circle cx="114.45" cy="205.25" r="1.99" fill="#c64a5a"/><circle cx="119.30" cy="205.25" r="1.99" fill="#c64a5a"/><circle cx="124.16" cy="205.25" r="2.18" fill="#dfeaec"/><path d="M123.36 204.45L124.96 206.05M123.36 206.05L124.96 204.45" stroke="#111" stroke-width="1.1"/><circle cx="129.02" cy="205.25" r="2.18" fill="#dfeaec"/><path d="M128.22 204.45L129.82 206.05M128.22 206.05L129.82 204.45" stroke="#111" stroke-width="1.1"/><circle cx="133.88" cy="205.25" r="2.18" fill="#dfeaec"/><path d="M133.08 204.45L134.68 206.05M133.08 206.05L134.68 204.45" stroke="#111" stroke-width="1.1"/><circle cx="138.74" cy="205.25" r="2.18" fill="#dfeaec"/><path d="M137.94 204.45L139.54 206.05M137.94 206.05L139.54 204.45" stroke="#111" stroke-width="1.1"/><circle cx="143.59" cy="205.25" r="2.18" fill="#dfeaec"/><path d="M142.79 204.45L144.39 206.05M142.79 206.05L144.39 204.45" stroke="#111" stroke-width="1.1"/><circle cx="148.45" cy="205.25" r="2.18" fill="#dfeaec"/><path d="M147.65 204.45L149.25 206.05M147.65 206.05L149.25 204.45" stroke="#111" stroke-width="1.1"/><circle cx="153.31" cy="205.25" r="2.18" fill="#dfeaec"/><path d="M152.51 204.45L154.11 206.05M152.51 206.05L154.11 204.45" stroke="#111" stroke-width="1.1"/><circle cx="158.17" cy="205.25" r="2.21" fill="#8c1028"/><circle cx="163.03" cy="205.25" r="2.18" fill="#dfeaec"/><path d="M162.23 204.45L163.83 206.05M162.23 206.05L163.83 204.45" stroke="#111" stroke-width="1.1"/><circle cx="167.88" cy="205.25" r="1.99" fill="#c64a5a"/><circle cx="172.74" cy="205.25" r="2.18" fill="#dfeaec"/><path d="M171.94 204.45L173.54 206.05M171.94 206.05L173.54 204.45" stroke="#111" stroke-width="1.1"/><circle cx="177.60" cy="205.25" r="2.18" fill="#dfeaec"/><path d="M176.80 204.45L178.40 206.05M176.80 206.05L178.40 204.45" stroke="#111" stroke-width="1.1"/><circle cx="182.46" cy="205.25" r="1.99" fill="#c64a5a"/><circle cx="187.32" cy="205.25" r="2.18" fill="#dfeaec"/><path d="M186.52 204.45L188.12 206.05M186.52 206.05L188.12 204.45" stroke="#111" stroke-width="1.1"/><circle cx="192.17" cy="205.25" r="1.99" fill="#c64a5a"/><circle cx="197.03" cy="205.25" r="2.21" fill="#8c1028"/><circle cx="201.89" cy="205.25" r="1.99" fill="#c64a5a"/><circle cx="206.75" cy="205.25" r="2.21" fill="#8c1028"/><circle cx="211.61" cy="205.25" r="1.99" fill="#c64a5a"/><circle cx="216.46" cy="205.25" r="2.14" fill="#ac2238"/><circle cx="221.32" cy="205.25" r="2.14" fill="#ac2238"/><circle cx="226.18" cy="205.25" r="2.28" fill="#6b0623"/><circle cx="56.15" cy="210.10" r="2.18" fill="#dfeaec"/><path d="M55.35 209.30L56.95 210.90M55.35 210.90L56.95 209.30" stroke="#111" stroke-width="1.1"/><circle cx="61.01" cy="210.10" r="2.21" fill="#8c1028"/><circle cx="65.87" cy="210.10" r="2.21" fill="#8c1028"/><circle cx="70.72" cy="210.10" r="2.14" fill="#ac2238"/><circle cx="75.58" cy="210.10" r="2.21" fill="#8c1028"/><circle cx="80.44" cy="210.10" r="2.14" fill="#ac2238"/><circle cx="85.30" cy="210.10" r="2.14" fill="#ac2238"/><circle cx="90.16" cy="210.10" r="2.18" fill="#dfeaec"/><path d="M89.36 209.30L90.96 210.90M89.36 210.90L90.96 209.30" stroke="#111" stroke-width="1.1"/><circle cx="95.01" cy="210.10" r="2.18" fill="#dfeaec"/><path d="M94.21 209.30L95.81 210.90M94.21 210.90L95.81 209.30" stroke="#111" stroke-width="1.1"/><circle cx="99.87" cy="210.10" r="1.99" fill="#c64a5a"/><circle cx="104.73" cy="210.10" r="1.99" fill="#c64a5a"/><circle cx="109.59" cy="210.10" r="1.99" fill="#c64a5a"/><circle cx="114.45" cy="210.10" r="2.21" fill="#8c1028"/><circle cx="119.30" cy="210.10" r="2.21" fill="#8c1028"/><circle cx="124.16" cy="210.10" r="2.18" fill="#dfeaec"/><path d="M123.36 209.30L124.96 210.90M123.36 210.90L124.96 209.30" stroke="#111" stroke-width="1.1"/><circle cx="129.02" cy="210.10" r="2.18" fill="#dfeaec"/><path d="M128.22 209.30L129.82 210.90M128.22 210.90L129.82 209.30" stroke="#111" stroke-width="1.1"/><circle cx="133.88" cy="210.10" r="2.18" fill="#dfeaec"/><path d="M133.08 209.30L134.68 210.90M133.08 210.90L134.68 209.30" stroke="#111" stroke-width="1.1"/><circle cx="138.74" cy="210.10" r="2.18" fill="#dfeaec"/><path d="M137.94 209.30L139.54 210.90M137.94 210.90L139.54 209.30" stroke="#111" stroke-width="1.1"/><circle cx="143.59" cy="210.10" r="2.18" fill="#dfeaec"/><path d="M142.79 209.30L144.39 210.90M142.79 210.90L144.39 209.30" stroke="#111" stroke-width="1.1"/><circle cx="148.45" cy="210.10" r="2.18" fill="#dfeaec"/><path d="M147.65 209.30L149.25 210.90M147.65 210.90L149.25 209.30" stroke="#111" stroke-width="1.1"/><circle cx="153.31" cy="210.10" r="2.18" fill="#dfeaec"/><path d="M152.51 209.30L154.11 210.90M152.51 210.90L154.11 209.30" stroke="#111" stroke-width="1.1"/><circle cx="158.17" cy="210.10" r="2.14" fill="#ac2238"/><circle cx="163.03" cy="210.10" r="2.18" fill="#dfeaec"/><path d="M162.23 209.30L163.83 210.90M162.23 210.90L163.83 209.30" stroke="#111" stroke-width="1.1"/><circle cx="167.88" cy="210.10" r="1.99" fill="#c64a5a"/><circle cx="172.74" cy="210.10" r="2.14" fill="#ac2238"/><circle cx="177.60" cy="210.10" r="2.18" fill="#dfeaec"/><path d="M176.80 209.30L178.40 210.90M176.80 210.90L178.40 209.30" stroke="#111" stroke-width="1.1"/><circle cx="182.46" cy="210.10" r="1.99" fill="#c64a5a"/><circle cx="187.32" cy="210.10" r="2.14" fill="#ac2238"/><circle cx="192.17" cy="210.10" r="2.14" fill="#ac2238"/><circle cx="197.03" cy="210.10" r="2.21" fill="#8c1028"/><circle cx="201.89" cy="210.10" r="1.99" fill="#c64a5a"/><circle cx="206.75" cy="210.10" r="2.21" fill="#8c1028"/><circle cx="211.61" cy="210.10" r="2.14" fill="#ac2238"/><circle cx="216.46" cy="210.10" r="2.21" fill="#8c1028"/><circle cx="221.32" cy="210.10" r="2.21" fill="#8c1028"/><circle cx="226.18" cy="210.10" r="2.21" fill="#8c1028"/><circle cx="231.04" cy="210.10" r="2.28" fill="#6b0623"/><circle cx="56.15" cy="214.95" r="2.18" fill="#dfeaec"/><path d="M55.35 214.15L56.95 215.75M55.35 215.75L56.95 214.15" stroke="#111" stroke-width="1.1"/><circle cx="61.01" cy="214.95" r="2.14" fill="#ac2238"/><circle cx="65.87" cy="214.95" r="2.18" fill="#dfeaec"/><path d="M65.07 214.15L66.67 215.75M65.07 215.75L66.67 214.15" stroke="#111" stroke-width="1.1"/><circle cx="70.72" cy="214.95" r="1.99" fill="#c64a5a"/><circle cx="75.58" cy="214.95" r="1.99" fill="#c64a5a"/><circle cx="80.44" cy="214.95" r="2.14" fill="#ac2238"/><circle cx="85.30" cy="214.95" r="1.99" fill="#c64a5a"/><circle cx="90.16" cy="214.95" r="2.18" fill="#dfeaec"/><path d="M89.36 214.15L90.96 215.75M89.36 215.75L90.96 214.15" stroke="#111" stroke-width="1.1"/><circle cx="95.01" cy="214.95" r="2.18" fill="#dfeaec"/><path d="M94.21 214.15L95.81 215.75M94.21 215.75L95.81 214.15" stroke="#111" stroke-width="1.1"/><circle cx="99.87" cy="214.95" r="2.14" fill="#ac2238"/><circle cx="104.73" cy="214.95" r="1.99" fill="#c64a5a"/><circle cx="109.59" cy="214.95" r="1.99" fill="#c64a5a"/><circle cx="114.45" cy="214.95" r="2.14" fill="#ac2238"/><circle cx="119.30" cy="214.95" r="2.14" fill="#ac2238"/><circle cx="124.16" cy="214.95" r="2.18" fill="#dfeaec"/><path d="M123.36 214.15L124.96 215.75M123.36 215.75L124.96 214.15" stroke="#111" stroke-width="1.1"/><circle cx="129.02" cy="214.95" r="2.18" fill="#dfeaec"/><path d="M128.22 214.15L129.82 215.75M128.22 215.75L129.82 214.15" stroke="#111" stroke-width="1.1"/><circle cx="133.88" cy="214.95" r="1.84" fill="#da7a80"/><circle cx="138.74" cy="214.95" r="2.18" fill="#dfeaec"/><path d="M137.94 214.15L139.54 215.75M137.94 215.75L139.54 214.15" stroke="#111" stroke-width="1.1"/><circle cx="143.59" cy="214.95" r="2.18" fill="#dfeaec"/><path d="M142.79 214.15L144.39 215.75M142.79 215.75L144.39 214.15" stroke="#111" stroke-width="1.1"/><circle cx="148.45" cy="214.95" r="2.18" fill="#dfeaec"/><path d="M147.65 214.15L149.25 215.75M147.65 215.75L149.25 214.15" stroke="#111" stroke-width="1.1"/><circle cx="153.31" cy="214.95" r="2.18" fill="#dfeaec"/><path d="M152.51 214.15L154.11 215.75M152.51 215.75L154.11 214.15" stroke="#111" stroke-width="1.1"/><circle cx="158.17" cy="214.95" r="2.18" fill="#dfeaec"/><path d="M157.37 214.15L158.97 215.75M157.37 215.75L158.97 214.15" stroke="#111" stroke-width="1.1"/><circle cx="163.03" cy="214.95" r="1.99" fill="#c64a5a"/><circle cx="167.88" cy="214.95" r="2.14" fill="#ac2238"/><circle cx="172.74" cy="214.95" r="2.14" fill="#ac2238"/><circle cx="177.60" cy="214.95" r="1.99" fill="#c64a5a"/><circle cx="182.46" cy="214.95" r="1.99" fill="#c64a5a"/><circle cx="187.32" cy="214.95" r="2.14" fill="#ac2238"/><circle cx="192.17" cy="214.95" r="1.99" fill="#c64a5a"/><circle cx="197.03" cy="214.95" r="2.14" fill="#ac2238"/><circle cx="201.89" cy="214.95" r="2.21" fill="#8c1028"/><circle cx="206.75" cy="214.95" r="1.99" fill="#c64a5a"/><circle cx="211.61" cy="214.95" r="2.14" fill="#ac2238"/><circle cx="216.46" cy="214.95" r="2.14" fill="#ac2238"/><circle cx="221.32" cy="214.95" r="2.14" fill="#ac2238"/><circle cx="226.18" cy="214.95" r="2.18" fill="#dfeaec"/><path d="M225.38 214.15L226.98 215.75M225.38 215.75L226.98 214.15" stroke="#111" stroke-width="1.1"/><circle cx="231.04" cy="214.95" r="1.99" fill="#c64a5a"/><circle cx="235.90" cy="214.95" r="2.28" fill="#6b0623"/><circle cx="56.15" cy="219.80" r="2.14" fill="#ac2238"/><circle cx="61.01" cy="219.80" r="2.18" fill="#dfeaec"/><path d="M60.21 219.00L61.81 220.60M60.21 220.60L61.81 219.00" stroke="#111" stroke-width="1.1"/><circle cx="65.87" cy="219.80" r="2.18" fill="#dfeaec"/><path d="M65.07 219.00L66.67 220.60M65.07 220.60L66.67 219.00" stroke="#111" stroke-width="1.1"/><circle cx="70.72" cy="219.80" r="2.18" fill="#dfeaec"/><path d="M69.92 219.00L71.52 220.60M69.92 220.60L71.52 219.00" stroke="#111" stroke-width="1.1"/><circle cx="75.58" cy="219.80" r="2.18" fill="#dfeaec"/><path d="M74.78 219.00L76.38 220.60M74.78 220.60L76.38 219.00" stroke="#111" stroke-width="1.1"/><circle cx="80.44" cy="219.80" r="2.14" fill="#ac2238"/><circle cx="85.30" cy="219.80" r="2.18" fill="#dfeaec"/><path d="M84.50 219.00L86.10 220.60M84.50 220.60L86.10 219.00" stroke="#111" stroke-width="1.1"/><circle cx="90.16" cy="219.80" r="2.18" fill="#dfeaec"/><path d="M89.36 219.00L90.96 220.60M89.36 220.60L90.96 219.00" stroke="#111" stroke-width="1.1"/><circle cx="95.01" cy="219.80" r="2.21" fill="#8c1028"/><circle cx="99.87" cy="219.80" r="2.21" fill="#8c1028"/><circle cx="104.73" cy="219.80" r="2.28" fill="#6b0623"/><circle cx="109.59" cy="219.80" r="2.21" fill="#8c1028"/><circle cx="114.45" cy="219.80" r="1.84" fill="#da7a80"/><circle cx="119.30" cy="219.80" r="2.18" fill="#dfeaec"/><path d="M118.50 219.00L120.10 220.60M118.50 220.60L120.10 219.00" stroke="#111" stroke-width="1.1"/><circle cx="124.16" cy="219.80" r="2.21" fill="#8c1028"/><circle cx="129.02" cy="219.80" r="2.21" fill="#8c1028"/><circle cx="133.88" cy="219.80" r="2.21" fill="#8c1028"/><circle cx="138.74" cy="219.80" r="2.18" fill="#dfeaec"/><path d="M137.94 219.00L139.54 220.60M137.94 220.60L139.54 219.00" stroke="#111" stroke-width="1.1"/><circle cx="143.59" cy="219.80" r="2.18" fill="#dfeaec"/><path d="M142.79 219.00L144.39 220.60M142.79 220.60L144.39 219.00" stroke="#111" stroke-width="1.1"/><circle cx="148.45" cy="219.80" r="2.18" fill="#dfeaec"/><path d="M147.65 219.00L149.25 220.60M147.65 220.60L149.25 219.00" stroke="#111" stroke-width="1.1"/><circle cx="153.31" cy="219.80" r="2.18" fill="#dfeaec"/><path d="M152.51 219.00L154.11 220.60M152.51 220.60L154.11 219.00" stroke="#111" stroke-width="1.1"/><circle cx="158.17" cy="219.80" r="2.18" fill="#dfeaec"/><path d="M157.37 219.00L158.97 220.60M157.37 220.60L158.97 219.00" stroke="#111" stroke-width="1.1"/><circle cx="163.03" cy="219.80" r="2.21" fill="#8c1028"/><circle cx="167.88" cy="219.80" r="2.18" fill="#dfeaec"/><path d="M167.08 219.00L168.68 220.60M167.08 220.60L168.68 219.00" stroke="#111" stroke-width="1.1"/><circle cx="172.74" cy="219.80" r="2.14" fill="#ac2238"/><circle cx="177.60" cy="219.80" r="2.18" fill="#dfeaec"/><path d="M176.80 219.00L178.40 220.60M176.80 220.60L178.40 219.00" stroke="#111" stroke-width="1.1"/><circle cx="182.46" cy="219.80" r="2.21" fill="#8c1028"/><circle cx="187.32" cy="219.80" r="1.99" fill="#c64a5a"/><circle cx="192.17" cy="219.80" r="2.18" fill="#dfeaec"/><path d="M191.37 219.00L192.97 220.60M191.37 220.60L192.97 219.00" stroke="#111" stroke-width="1.1"/><circle cx="197.03" cy="219.80" r="2.18" fill="#dfeaec"/><path d="M196.23 219.00L197.83 220.60M196.23 220.60L197.83 219.00" stroke="#111" stroke-width="1.1"/><circle cx="201.89" cy="219.80" r="2.21" fill="#8c1028"/><circle cx="206.75" cy="219.80" r="2.18" fill="#dfeaec"/><path d="M205.95 219.00L207.55 220.60M205.95 220.60L207.55 219.00" stroke="#111" stroke-width="1.1"/><circle cx="211.61" cy="219.80" r="1.99" fill="#c64a5a"/><circle cx="216.46" cy="219.80" r="2.18" fill="#dfeaec"/><path d="M215.66 219.00L217.26 220.60M215.66 220.60L217.26 219.00" stroke="#111" stroke-width="1.1"/><circle cx="221.32" cy="219.80" r="1.84" fill="#da7a80"/><circle cx="226.18" cy="219.80" r="2.18" fill="#dfeaec"/><path d="M225.38 219.00L226.98 220.60M225.38 220.60L226.98 219.00" stroke="#111" stroke-width="1.1"/><circle cx="231.04" cy="219.80" r="2.18" fill="#dfeaec"/><path d="M230.24 219.00L231.84 220.60M230.24 220.60L231.84 219.00" stroke="#111" stroke-width="1.1"/><circle cx="235.90" cy="219.80" r="1.84" fill="#da7a80"/><circle cx="240.75" cy="219.80" r="2.28" fill="#6b0623"/><circle cx="56.15" cy="224.65" r="2.18" fill="#dfeaec"/><path d="M55.35 223.85L56.95 225.45M55.35 225.45L56.95 223.85" stroke="#111" stroke-width="1.1"/><circle cx="61.01" cy="224.65" r="2.18" fill="#dfeaec"/><path d="M60.21 223.85L61.81 225.45M60.21 225.45L61.81 223.85" stroke="#111" stroke-width="1.1"/><circle cx="65.87" cy="224.65" r="2.18" fill="#dfeaec"/><path d="M65.07 223.85L66.67 225.45M65.07 225.45L66.67 223.85" stroke="#111" stroke-width="1.1"/><circle cx="70.72" cy="224.65" r="2.18" fill="#dfeaec"/><path d="M69.92 223.85L71.52 225.45M69.92 225.45L71.52 223.85" stroke="#111" stroke-width="1.1"/><circle cx="75.58" cy="224.65" r="2.18" fill="#dfeaec"/><path d="M74.78 223.85L76.38 225.45M74.78 225.45L76.38 223.85" stroke="#111" stroke-width="1.1"/><circle cx="80.44" cy="224.65" r="2.18" fill="#dfeaec"/><path d="M79.64 223.85L81.24 225.45M79.64 225.45L81.24 223.85" stroke="#111" stroke-width="1.1"/><circle cx="85.30" cy="224.65" r="2.18" fill="#dfeaec"/><path d="M84.50 223.85L86.10 225.45M84.50 225.45L86.10 223.85" stroke="#111" stroke-width="1.1"/><circle cx="90.16" cy="224.65" r="2.18" fill="#dfeaec"/><path d="M89.36 223.85L90.96 225.45M89.36 225.45L90.96 223.85" stroke="#111" stroke-width="1.1"/><circle cx="95.01" cy="224.65" r="2.18" fill="#dfeaec"/><path d="M94.21 223.85L95.81 225.45M94.21 225.45L95.81 223.85" stroke="#111" stroke-width="1.1"/><circle cx="99.87" cy="224.65" r="2.18" fill="#dfeaec"/><path d="M99.07 223.85L100.67 225.45M99.07 225.45L100.67 223.85" stroke="#111" stroke-width="1.1"/><circle cx="104.73" cy="224.65" r="2.18" fill="#dfeaec"/><path d="M103.93 223.85L105.53 225.45M103.93 225.45L105.53 223.85" stroke="#111" stroke-width="1.1"/><circle cx="109.59" cy="224.65" r="2.18" fill="#dfeaec"/><path d="M108.79 223.85L110.39 225.45M108.79 225.45L110.39 223.85" stroke="#111" stroke-width="1.1"/><circle cx="114.45" cy="224.65" r="2.18" fill="#dfeaec"/><path d="M113.65 223.85L115.25 225.45M113.65 225.45L115.25 223.85" stroke="#111" stroke-width="1.1"/><circle cx="119.30" cy="224.65" r="2.18" fill="#dfeaec"/><path d="M118.50 223.85L120.10 225.45M118.50 225.45L120.10 223.85" stroke="#111" stroke-width="1.1"/><circle cx="124.16" cy="224.65" r="2.18" fill="#dfeaec"/><path d="M123.36 223.85L124.96 225.45M123.36 225.45L124.96 223.85" stroke="#111" stroke-width="1.1"/><circle cx="129.02" cy="224.65" r="2.18" fill="#dfeaec"/><path d="M128.22 223.85L129.82 225.45M128.22 225.45L129.82 223.85" stroke="#111" stroke-width="1.1"/><circle cx="133.88" cy="224.65" r="2.18" fill="#dfeaec"/><path d="M133.08 223.85L134.68 225.45M133.08 225.45L134.68 223.85" stroke="#111" stroke-width="1.1"/><circle cx="138.74" cy="224.65" r="2.18" fill="#dfeaec"/><path d="M137.94 223.85L139.54 225.45M137.94 225.45L139.54 223.85" stroke="#111" stroke-width="1.1"/><circle cx="143.59" cy="224.65" r="2.18" fill="#dfeaec"/><path d="M142.79 223.85L144.39 225.45M142.79 225.45L144.39 223.85" stroke="#111" stroke-width="1.1"/><circle cx="148.45" cy="224.65" r="2.18" fill="#dfeaec"/><path d="M147.65 223.85L149.25 225.45M147.65 225.45L149.25 223.85" stroke="#111" stroke-width="1.1"/><circle cx="153.31" cy="224.65" r="2.18" fill="#dfeaec"/><path d="M152.51 223.85L154.11 225.45M152.51 225.45L154.11 223.85" stroke="#111" stroke-width="1.1"/><circle cx="158.17" cy="224.65" r="2.18" fill="#dfeaec"/><path d="M157.37 223.85L158.97 225.45M157.37 225.45L158.97 223.85" stroke="#111" stroke-width="1.1"/><circle cx="163.03" cy="224.65" r="2.18" fill="#dfeaec"/><path d="M162.23 223.85L163.83 225.45M162.23 225.45L163.83 223.85" stroke="#111" stroke-width="1.1"/><circle cx="167.88" cy="224.65" r="2.18" fill="#dfeaec"/><path d="M167.08 223.85L168.68 225.45M167.08 225.45L168.68 223.85" stroke="#111" stroke-width="1.1"/><circle cx="172.74" cy="224.65" r="2.18" fill="#dfeaec"/><path d="M171.94 223.85L173.54 225.45M171.94 225.45L173.54 223.85" stroke="#111" stroke-width="1.1"/><circle cx="177.60" cy="224.65" r="2.18" fill="#dfeaec"/><path d="M176.80 223.85L178.40 225.45M176.80 225.45L178.40 223.85" stroke="#111" stroke-width="1.1"/><circle cx="182.46" cy="224.65" r="2.18" fill="#dfeaec"/><path d="M181.66 223.85L183.26 225.45M181.66 225.45L183.26 223.85" stroke="#111" stroke-width="1.1"/><circle cx="187.32" cy="224.65" r="2.18" fill="#dfeaec"/><path d="M186.52 223.85L188.12 225.45M186.52 225.45L188.12 223.85" stroke="#111" stroke-width="1.1"/><circle cx="192.17" cy="224.65" r="2.18" fill="#dfeaec"/><path d="M191.37 223.85L192.97 225.45M191.37 225.45L192.97 223.85" stroke="#111" stroke-width="1.1"/><circle cx="197.03" cy="224.65" r="2.18" fill="#dfeaec"/><path d="M196.23 223.85L197.83 225.45M196.23 225.45L197.83 223.85" stroke="#111" stroke-width="1.1"/><circle cx="201.89" cy="224.65" r="2.18" fill="#dfeaec"/><path d="M201.09 223.85L202.69 225.45M201.09 225.45L202.69 223.85" stroke="#111" stroke-width="1.1"/><circle cx="206.75" cy="224.65" r="2.18" fill="#dfeaec"/><path d="M205.95 223.85L207.55 225.45M205.95 225.45L207.55 223.85" stroke="#111" stroke-width="1.1"/><circle cx="211.61" cy="224.65" r="2.18" fill="#dfeaec"/><path d="M210.81 223.85L212.41 225.45M210.81 225.45L212.41 223.85" stroke="#111" stroke-width="1.1"/><circle cx="216.46" cy="224.65" r="2.18" fill="#dfeaec"/><path d="M215.66 223.85L217.26 225.45M215.66 225.45L217.26 223.85" stroke="#111" stroke-width="1.1"/><circle cx="221.32" cy="224.65" r="2.18" fill="#dfeaec"/><path d="M220.52 223.85L222.12 225.45M220.52 225.45L222.12 223.85" stroke="#111" stroke-width="1.1"/><circle cx="226.18" cy="224.65" r="2.18" fill="#dfeaec"/><path d="M225.38 223.85L226.98 225.45M225.38 225.45L226.98 223.85" stroke="#111" stroke-width="1.1"/><circle cx="231.04" cy="224.65" r="2.18" fill="#dfeaec"/><path d="M230.24 223.85L231.84 225.45M230.24 225.45L231.84 223.85" stroke="#111" stroke-width="1.1"/><circle cx="235.90" cy="224.65" r="2.18" fill="#dfeaec"/><path d="M235.10 223.85L236.70 225.45M235.10 225.45L236.70 223.85" stroke="#111" stroke-width="1.1"/><circle cx="240.75" cy="224.65" r="2.18" fill="#dfeaec"/><path d="M239.95 223.85L241.55 225.45M239.95 225.45L241.55 223.85" stroke="#111" stroke-width="1.1"/><circle cx="245.61" cy="224.65" r="2.28" fill="#6b0623"/><circle cx="56.15" cy="229.50" r="1.99" fill="#c64a5a"/><circle cx="61.01" cy="229.50" r="2.18" fill="#dfeaec"/><path d="M60.21 228.70L61.81 230.30M60.21 230.30L61.81 228.70" stroke="#111" stroke-width="1.1"/><circle cx="65.87" cy="229.50" r="1.84" fill="#da7a80"/><circle cx="70.72" cy="229.50" r="2.21" fill="#8c1028"/><circle cx="75.58" cy="229.50" r="2.14" fill="#ac2238"/><circle cx="80.44" cy="229.50" r="2.14" fill="#ac2238"/><circle cx="85.30" cy="229.50" r="2.21" fill="#8c1028"/><circle cx="90.16" cy="229.50" r="2.14" fill="#ac2238"/><circle cx="95.01" cy="229.50" r="1.99" fill="#c64a5a"/><circle cx="99.87" cy="229.50" r="1.99" fill="#c64a5a"/><circle cx="104.73" cy="229.50" r="2.14" fill="#ac2238"/><circle cx="109.59" cy="229.50" r="2.21" fill="#8c1028"/><circle cx="114.45" cy="229.50" r="2.21" fill="#8c1028"/><circle cx="119.30" cy="229.50" r="2.21" fill="#8c1028"/><circle cx="124.16" cy="229.50" r="2.18" fill="#dfeaec"/><path d="M123.36 228.70L124.96 230.30M123.36 230.30L124.96 228.70" stroke="#111" stroke-width="1.1"/><circle cx="129.02" cy="229.50" r="2.18" fill="#dfeaec"/><path d="M128.22 228.70L129.82 230.30M128.22 230.30L129.82 228.70" stroke="#111" stroke-width="1.1"/><circle cx="133.88" cy="229.50" r="2.18" fill="#dfeaec"/><path d="M133.08 228.70L134.68 230.30M133.08 230.30L134.68 228.70" stroke="#111" stroke-width="1.1"/><circle cx="138.74" cy="229.50" r="2.18" fill="#dfeaec"/><path d="M137.94 228.70L139.54 230.30M137.94 230.30L139.54 228.70" stroke="#111" stroke-width="1.1"/><circle cx="143.59" cy="229.50" r="2.18" fill="#dfeaec"/><path d="M142.79 228.70L144.39 230.30M142.79 230.30L144.39 228.70" stroke="#111" stroke-width="1.1"/><circle cx="148.45" cy="229.50" r="2.18" fill="#dfeaec"/><path d="M147.65 228.70L149.25 230.30M147.65 230.30L149.25 228.70" stroke="#111" stroke-width="1.1"/><circle cx="153.31" cy="229.50" r="2.18" fill="#dfeaec"/><path d="M152.51 228.70L154.11 230.30M152.51 230.30L154.11 228.70" stroke="#111" stroke-width="1.1"/><circle cx="158.17" cy="229.50" r="2.18" fill="#dfeaec"/><path d="M157.37 228.70L158.97 230.30M157.37 230.30L158.97 228.70" stroke="#111" stroke-width="1.1"/><circle cx="163.03" cy="229.50" r="1.99" fill="#c64a5a"/><circle cx="167.88" cy="229.50" r="2.18" fill="#dfeaec"/><path d="M167.08 228.70L168.68 230.30M167.08 230.30L168.68 228.70" stroke="#111" stroke-width="1.1"/><circle cx="172.74" cy="229.50" r="2.21" fill="#8c1028"/><circle cx="177.60" cy="229.50" r="2.14" fill="#ac2238"/><circle cx="182.46" cy="229.50" r="2.18" fill="#dfeaec"/><path d="M181.66 228.70L183.26 230.30M181.66 230.30L183.26 228.70" stroke="#111" stroke-width="1.1"/><circle cx="187.32" cy="229.50" r="2.21" fill="#8c1028"/><circle cx="192.17" cy="229.50" r="2.14" fill="#ac2238"/><circle cx="197.03" cy="229.50" r="2.14" fill="#ac2238"/><circle cx="201.89" cy="229.50" r="1.99" fill="#c64a5a"/><circle cx="206.75" cy="229.50" r="1.99" fill="#c64a5a"/><circle cx="211.61" cy="229.50" r="2.18" fill="#dfeaec"/><path d="M210.81 228.70L212.41 230.30M210.81 230.30L212.41 228.70" stroke="#111" stroke-width="1.1"/><circle cx="216.46" cy="229.50" r="2.21" fill="#8c1028"/><circle cx="221.32" cy="229.50" r="2.21" fill="#8c1028"/><circle cx="226.18" cy="229.50" r="2.18" fill="#dfeaec"/><path d="M225.38 228.70L226.98 230.30M225.38 230.30L226.98 228.70" stroke="#111" stroke-width="1.1"/><circle cx="231.04" cy="229.50" r="1.99" fill="#c64a5a"/><circle cx="235.90" cy="229.50" r="1.99" fill="#c64a5a"/><circle cx="240.75" cy="229.50" r="1.99" fill="#c64a5a"/><circle cx="245.61" cy="229.50" r="2.18" fill="#dfeaec"/><path d="M244.81 228.70L246.41 230.30M244.81 230.30L246.41 228.70" stroke="#111" stroke-width="1.1"/><circle cx="250.47" cy="229.50" r="2.28" fill="#6b0623"/><circle cx="56.15" cy="234.35" r="1.99" fill="#c64a5a"/><circle cx="61.01" cy="234.35" r="2.18" fill="#dfeaec"/><path d="M60.21 233.55L61.81 235.15M60.21 235.15L61.81 233.55" stroke="#111" stroke-width="1.1"/><circle cx="65.87" cy="234.35" r="2.18" fill="#dfeaec"/><path d="M65.07 233.55L66.67 235.15M65.07 235.15L66.67 233.55" stroke="#111" stroke-width="1.1"/><circle cx="70.72" cy="234.35" r="2.18" fill="#dfeaec"/><path d="M69.92 233.55L71.52 235.15M69.92 235.15L71.52 233.55" stroke="#111" stroke-width="1.1"/><circle cx="75.58" cy="234.35" r="2.18" fill="#dfeaec"/><path d="M74.78 233.55L76.38 235.15M74.78 235.15L76.38 233.55" stroke="#111" stroke-width="1.1"/><circle cx="80.44" cy="234.35" r="1.99" fill="#c64a5a"/><circle cx="85.30" cy="234.35" r="2.18" fill="#dfeaec"/><path d="M84.50 233.55L86.10 235.15M84.50 235.15L86.10 233.55" stroke="#111" stroke-width="1.1"/><circle cx="90.16" cy="234.35" r="2.18" fill="#dfeaec"/><path d="M89.36 233.55L90.96 235.15M89.36 235.15L90.96 233.55" stroke="#111" stroke-width="1.1"/><circle cx="95.01" cy="234.35" r="2.21" fill="#8c1028"/><circle cx="99.87" cy="234.35" r="2.21" fill="#8c1028"/><circle cx="104.73" cy="234.35" r="2.21" fill="#8c1028"/><circle cx="109.59" cy="234.35" r="1.99" fill="#c64a5a"/><circle cx="114.45" cy="234.35" r="2.18" fill="#dfeaec"/><path d="M113.65 233.55L115.25 235.15M113.65 235.15L115.25 233.55" stroke="#111" stroke-width="1.1"/><circle cx="119.30" cy="234.35" r="2.18" fill="#dfeaec"/><path d="M118.50 233.55L120.10 235.15M118.50 235.15L120.10 233.55" stroke="#111" stroke-width="1.1"/><circle cx="124.16" cy="234.35" r="2.21" fill="#8c1028"/><circle cx="129.02" cy="234.35" r="2.21" fill="#8c1028"/><circle cx="133.88" cy="234.35" r="2.21" fill="#8c1028"/><circle cx="138.74" cy="234.35" r="2.18" fill="#dfeaec"/><path d="M137.94 233.55L139.54 235.15M137.94 235.15L139.54 233.55" stroke="#111" stroke-width="1.1"/><circle cx="143.59" cy="234.35" r="2.18" fill="#dfeaec"/><path d="M142.79 233.55L144.39 235.15M142.79 235.15L144.39 233.55" stroke="#111" stroke-width="1.1"/><circle cx="148.45" cy="234.35" r="2.18" fill="#dfeaec"/><path d="M147.65 233.55L149.25 235.15M147.65 235.15L149.25 233.55" stroke="#111" stroke-width="1.1"/><circle cx="153.31" cy="234.35" r="2.18" fill="#dfeaec"/><path d="M152.51 233.55L154.11 235.15M152.51 235.15L154.11 233.55" stroke="#111" stroke-width="1.1"/><circle cx="158.17" cy="234.35" r="2.18" fill="#dfeaec"/><path d="M157.37 233.55L158.97 235.15M157.37 235.15L158.97 233.55" stroke="#111" stroke-width="1.1"/><circle cx="163.03" cy="234.35" r="2.21" fill="#8c1028"/><circle cx="167.88" cy="234.35" r="2.18" fill="#dfeaec"/><path d="M167.08 233.55L168.68 235.15M167.08 235.15L168.68 233.55" stroke="#111" stroke-width="1.1"/><circle cx="172.74" cy="234.35" r="1.99" fill="#c64a5a"/><circle cx="177.60" cy="234.35" r="2.18" fill="#dfeaec"/><path d="M176.80 233.55L178.40 235.15M176.80 235.15L178.40 233.55" stroke="#111" stroke-width="1.1"/><circle cx="182.46" cy="234.35" r="2.21" fill="#8c1028"/><circle cx="187.32" cy="234.35" r="1.99" fill="#c64a5a"/><circle cx="192.17" cy="234.35" r="2.18" fill="#dfeaec"/><path d="M191.37 233.55L192.97 235.15M191.37 235.15L192.97 233.55" stroke="#111" stroke-width="1.1"/><circle cx="197.03" cy="234.35" r="2.18" fill="#dfeaec"/><path d="M196.23 233.55L197.83 235.15M196.23 235.15L197.83 233.55" stroke="#111" stroke-width="1.1"/><circle cx="201.89" cy="234.35" r="2.21" fill="#8c1028"/><circle cx="206.75" cy="234.35" r="2.18" fill="#dfeaec"/><path d="M205.95 233.55L207.55 235.15M205.95 235.15L207.55 233.55" stroke="#111" stroke-width="1.1"/><circle cx="211.61" cy="234.35" r="1.84" fill="#da7a80"/><circle cx="216.46" cy="234.35" r="2.18" fill="#dfeaec"/><path d="M215.66 233.55L217.26 235.15M215.66 235.15L217.26 233.55" stroke="#111" stroke-width="1.1"/><circle cx="221.32" cy="234.35" r="2.18" fill="#dfeaec"/><path d="M220.52 233.55L222.12 235.15M220.52 235.15L222.12 233.55" stroke="#111" stroke-width="1.1"/><circle cx="226.18" cy="234.35" r="2.18" fill="#dfeaec"/><path d="M225.38 233.55L226.98 235.15M225.38 235.15L226.98 233.55" stroke="#111" stroke-width="1.1"/><circle cx="231.04" cy="234.35" r="2.18" fill="#dfeaec"/><path d="M230.24 233.55L231.84 235.15M230.24 235.15L231.84 233.55" stroke="#111" stroke-width="1.1"/><circle cx="235.90" cy="234.35" r="2.18" fill="#dfeaec"/><path d="M235.10 233.55L236.70 235.15M235.10 235.15L236.70 233.55" stroke="#111" stroke-width="1.1"/><circle cx="240.75" cy="234.35" r="2.21" fill="#8c1028"/><circle cx="245.61" cy="234.35" r="2.18" fill="#dfeaec"/><path d="M244.81 233.55L246.41 235.15M244.81 235.15L246.41 233.55" stroke="#111" stroke-width="1.1"/><circle cx="250.47" cy="234.35" r="2.18" fill="#dfeaec"/><path d="M249.67 233.55L251.27 235.15M249.67 235.15L251.27 233.55" stroke="#111" stroke-width="1.1"/><circle cx="255.33" cy="234.35" r="2.28" fill="#6b0623"/><circle cx="56.15" cy="239.20" r="2.18" fill="#dfeaec"/><path d="M55.35 238.40L56.95 240.00M55.35 240.00L56.95 238.40" stroke="#111" stroke-width="1.1"/><circle cx="61.01" cy="239.20" r="2.18" fill="#dfeaec"/><path d="M60.21 238.40L61.81 240.00M60.21 240.00L61.81 238.40" stroke="#111" stroke-width="1.1"/><circle cx="65.87" cy="239.20" r="2.18" fill="#dfeaec"/><path d="M65.07 238.40L66.67 240.00M65.07 240.00L66.67 238.40" stroke="#111" stroke-width="1.1"/><circle cx="70.72" cy="239.20" r="2.18" fill="#dfeaec"/><path d="M69.92 238.40L71.52 240.00M69.92 240.00L71.52 238.40" stroke="#111" stroke-width="1.1"/><circle cx="75.58" cy="239.20" r="2.18" fill="#dfeaec"/><path d="M74.78 238.40L76.38 240.00M74.78 240.00L76.38 238.40" stroke="#111" stroke-width="1.1"/><circle cx="80.44" cy="239.20" r="2.18" fill="#dfeaec"/><path d="M79.64 238.40L81.24 240.00M79.64 240.00L81.24 238.40" stroke="#111" stroke-width="1.1"/><circle cx="85.30" cy="239.20" r="2.18" fill="#dfeaec"/><path d="M84.50 238.40L86.10 240.00M84.50 240.00L86.10 238.40" stroke="#111" stroke-width="1.1"/><circle cx="90.16" cy="239.20" r="2.18" fill="#dfeaec"/><path d="M89.36 238.40L90.96 240.00M89.36 240.00L90.96 238.40" stroke="#111" stroke-width="1.1"/><circle cx="95.01" cy="239.20" r="2.18" fill="#dfeaec"/><path d="M94.21 238.40L95.81 240.00M94.21 240.00L95.81 238.40" stroke="#111" stroke-width="1.1"/><circle cx="99.87" cy="239.20" r="1.99" fill="#c64a5a"/><circle cx="104.73" cy="239.20" r="1.99" fill="#c64a5a"/><circle cx="109.59" cy="239.20" r="1.99" fill="#c64a5a"/><circle cx="114.45" cy="239.20" r="2.18" fill="#dfeaec"/><path d="M113.65 238.40L115.25 240.00M113.65 240.00L115.25 238.40" stroke="#111" stroke-width="1.1"/><circle cx="119.30" cy="239.20" r="2.18" fill="#dfeaec"/><path d="M118.50 238.40L120.10 240.00M118.50 240.00L120.10 238.40" stroke="#111" stroke-width="1.1"/><circle cx="124.16" cy="239.20" r="1.99" fill="#c64a5a"/><circle cx="129.02" cy="239.20" r="1.99" fill="#c64a5a"/><circle cx="133.88" cy="239.20" r="1.99" fill="#c64a5a"/><circle cx="138.74" cy="239.20" r="2.18" fill="#dfeaec"/><path d="M137.94 238.40L139.54 240.00M137.94 240.00L139.54 238.40" stroke="#111" stroke-width="1.1"/><circle cx="143.59" cy="239.20" r="2.18" fill="#dfeaec"/><path d="M142.79 238.40L144.39 240.00M142.79 240.00L144.39 238.40" stroke="#111" stroke-width="1.1"/><circle cx="148.45" cy="239.20" r="2.18" fill="#dfeaec"/><path d="M147.65 238.40L149.25 240.00M147.65 240.00L149.25 238.40" stroke="#111" stroke-width="1.1"/><circle cx="153.31" cy="239.20" r="2.18" fill="#dfeaec"/><path d="M152.51 238.40L154.11 240.00M152.51 240.00L154.11 238.40" stroke="#111" stroke-width="1.1"/><circle cx="158.17" cy="239.20" r="2.18" fill="#dfeaec"/><path d="M157.37 238.40L158.97 240.00M157.37 240.00L158.97 238.40" stroke="#111" stroke-width="1.1"/><circle cx="163.03" cy="239.20" r="1.99" fill="#c64a5a"/><circle cx="167.88" cy="239.20" r="2.18" fill="#dfeaec"/><path d="M167.08 238.40L168.68 240.00M167.08 240.00L168.68 238.40" stroke="#111" stroke-width="1.1"/><circle cx="172.74" cy="239.20" r="2.18" fill="#dfeaec"/><path d="M171.94 238.40L173.54 240.00M171.94 240.00L173.54 238.40" stroke="#111" stroke-width="1.1"/><circle cx="177.60" cy="239.20" r="2.14" fill="#ac2238"/><circle cx="182.46" cy="239.20" r="2.18" fill="#dfeaec"/><path d="M181.66 238.40L183.26 240.00M181.66 240.00L183.26 238.40" stroke="#111" stroke-width="1.1"/><circle cx="187.32" cy="239.20" r="2.14" fill="#ac2238"/><circle cx="192.17" cy="239.20" r="2.18" fill="#dfeaec"/><path d="M191.37 238.40L192.97 240.00M191.37 240.00L192.97 238.40" stroke="#111" stroke-width="1.1"/><circle cx="197.03" cy="239.20" r="2.18" fill="#dfeaec"/><path d="M196.23 238.40L197.83 240.00M196.23 240.00L197.83 238.40" stroke="#111" stroke-width="1.1"/><circle cx="201.89" cy="239.20" r="1.84" fill="#da7a80"/><circle cx="206.75" cy="239.20" r="2.18" fill="#dfeaec"/><path d="M205.95 238.40L207.55 240.00M205.95 240.00L207.55 238.40" stroke="#111" stroke-width="1.1"/><circle cx="211.61" cy="239.20" r="2.18" fill="#dfeaec"/><path d="M210.81 238.40L212.41 240.00M210.81 240.00L212.41 238.40" stroke="#111" stroke-width="1.1"/><circle cx="216.46" cy="239.20" r="2.18" fill="#dfeaec"/><path d="M215.66 238.40L217.26 240.00M215.66 240.00L217.26 238.40" stroke="#111" stroke-width="1.1"/><circle cx="221.32" cy="239.20" r="2.18" fill="#dfeaec"/><path d="M220.52 238.40L222.12 240.00M220.52 240.00L222.12 238.40" stroke="#111" stroke-width="1.1"/><circle cx="226.18" cy="239.20" r="2.18" fill="#dfeaec"/><path d="M225.38 238.40L226.98 240.00M225.38 240.00L226.98 238.40" stroke="#111" stroke-width="1.1"/><circle cx="231.04" cy="239.20" r="2.18" fill="#dfeaec"/><path d="M230.24 238.40L231.84 240.00M230.24 240.00L231.84 238.40" stroke="#111" stroke-width="1.1"/><circle cx="235.90" cy="239.20" r="2.18" fill="#dfeaec"/><path d="M235.10 238.40L236.70 240.00M235.10 240.00L236.70 238.40" stroke="#111" stroke-width="1.1"/><circle cx="240.75" cy="239.20" r="2.18" fill="#dfeaec"/><path d="M239.95 238.40L241.55 240.00M239.95 240.00L241.55 238.40" stroke="#111" stroke-width="1.1"/><circle cx="245.61" cy="239.20" r="2.18" fill="#dfeaec"/><path d="M244.81 238.40L246.41 240.00M244.81 240.00L246.41 238.40" stroke="#111" stroke-width="1.1"/><circle cx="250.47" cy="239.20" r="2.18" fill="#dfeaec"/><path d="M249.67 238.40L251.27 240.00M249.67 240.00L251.27 238.40" stroke="#111" stroke-width="1.1"/><circle cx="255.33" cy="239.20" r="1.84" fill="#da7a80"/><circle cx="260.19" cy="239.20" r="2.28" fill="#6b0623"/>
<text x="50.70" y="37.90" font-size="5.05" fill="#c44a6a" text-anchor="end">BAFF</text>
<text x="50.70" y="42.75" font-size="5.05" fill="#c44a6a" text-anchor="end">Eotaxin</text>
<text x="50.70" y="47.60" font-size="5.05" fill="#c44a6a" text-anchor="end">Eotaxin-3</text>
<text x="50.70" y="52.45" font-size="5.05" fill="#c44a6a" text-anchor="end">GM-CSF</text>
<text x="50.70" y="57.30" font-size="5.05" fill="#c44a6a" text-anchor="end">Human MIG</text>
<text x="50.70" y="62.15" font-size="5.05" fill="#c44a6a" text-anchor="end">IFN-γ</text>
<text x="50.70" y="67.00" font-size="5.05" fill="#c44a6a" text-anchor="end">IL-10</text>
<text x="50.70" y="71.85" font-size="5.05" fill="#c44a6a" text-anchor="end">IL-12/IL-23p40</text>
<text x="50.70" y="76.70" font-size="5.05" fill="#c44a6a" text-anchor="end">IL-12p70</text>
<text x="50.70" y="81.55" font-size="5.05" fill="#c44a6a" text-anchor="end">IL-13</text>
<text x="50.70" y="86.40" font-size="5.05" fill="#c44a6a" text-anchor="end">IL-15</text>
<text x="50.70" y="91.25" font-size="5.05" fill="#c44a6a" text-anchor="end">IL-16</text>
<text x="50.70" y="96.10" font-size="5.05" fill="#c44a6a" text-anchor="end">IL-17A</text>
<text x="50.70" y="100.95" font-size="5.05" fill="#c44a6a" text-anchor="end">IL-17A Gen B</text>
<text x="50.70" y="105.80" font-size="5.05" fill="#c44a6a" text-anchor="end">IL-1α</text>
<text x="50.70" y="110.65" font-size="5.05" fill="#c44a6a" text-anchor="end">IL-1β</text>
<text x="50.70" y="115.50" font-size="5.05" fill="#c44a6a" text-anchor="end">IL-2</text>
<text x="50.70" y="120.35" font-size="5.05" fill="#c44a6a" text-anchor="end">IL-21</text>
<text x="50.70" y="125.20" font-size="5.05" fill="#c44a6a" text-anchor="end">IL-22</text>
<text x="50.70" y="130.05" font-size="5.05" fill="#c44a6a" text-anchor="end">IL-23</text>
<text x="50.70" y="134.90" font-size="5.05" fill="#c44a6a" text-anchor="end">IL-27</text>
<text x="50.70" y="139.75" font-size="5.05" fill="#c44a6a" text-anchor="end">IL-31</text>
<text x="50.70" y="144.60" font-size="5.05" fill="#c44a6a" text-anchor="end">IL-4</text>
<text x="50.70" y="149.45" font-size="5.05" fill="#c44a6a" text-anchor="end">IL-5</text>
<text x="50.70" y="154.30" font-size="5.05" fill="#c44a6a" text-anchor="end">IL-6</text>
<text x="50.70" y="159.15" font-size="5.05" fill="#c44a6a" text-anchor="end">IL-7</text>
<text x="50.70" y="164.00" font-size="5.05" fill="#c44a6a" text-anchor="end">IL-8_23</text>
<text x="50.70" y="168.85" font-size="5.05" fill="#c44a6a" text-anchor="end">IL-8_9</text>
<text x="50.70" y="173.70" font-size="5.05" fill="#c44a6a" text-anchor="end">IL1RL1/ST2</text>
<text x="50.70" y="178.55" font-size="5.05" fill="#c44a6a" text-anchor="end">IP-10</text>
<text x="50.70" y="183.40" font-size="5.05" fill="#c44a6a" text-anchor="end">MCP-1</text>
<text x="50.70" y="188.25" font-size="5.05" fill="#c44a6a" text-anchor="end">MCP-4</text>
<text x="50.70" y="193.10" font-size="5.05" fill="#c44a6a" text-anchor="end">MDC</text>
<text x="50.70" y="197.95" font-size="5.05" fill="#c44a6a" text-anchor="end">MIP-1α</text>
<text x="50.70" y="202.80" font-size="5.05" fill="#c44a6a" text-anchor="end">MIP-1β</text>
<text x="50.70" y="207.65" font-size="5.05" fill="#c44a6a" text-anchor="end">MIP-3α</text>
<text x="50.70" y="212.50" font-size="5.05" fill="#c44a6a" text-anchor="end">TARC</text>
<text x="50.70" y="217.35" font-size="5.05" fill="#c44a6a" text-anchor="end">TGF-β2</text>
<text x="50.70" y="222.20" font-size="5.05" fill="#c44a6a" text-anchor="end">TGF-β1</text>
<text x="50.70" y="227.05" font-size="5.05" fill="#c44a6a" text-anchor="end">TGFβ-3</text>
<text x="50.70" y="231.90" font-size="5.05" fill="#c44a6a" text-anchor="end">TNF-α</text>
<text x="50.70" y="236.75" font-size="5.05" fill="#c44a6a" text-anchor="end">TNF-β</text>
<text x="50.70" y="241.60" font-size="5.05" fill="#c44a6a" text-anchor="end">VEGF</text>
<text x="57.90" y="30.70" font-size="5.0" fill="#c44a6a" transform="rotate(-90 57.90 30.70)">BAFF</text>
<text x="62.76" y="35.55" font-size="5.0" fill="#c44a6a" transform="rotate(-90 62.76 35.55)">Eotaxin</text>
<text x="67.62" y="40.40" font-size="5.0" fill="#c44a6a" transform="rotate(-90 67.62 40.40)">Eotaxin-3</text>
<text x="72.47" y="45.25" font-size="5.0" fill="#c44a6a" transform="rotate(-90 72.47 45.25)">GM-CSF</text>
<text x="77.33" y="50.10" font-size="5.0" fill="#c44a6a" transform="rotate(-90 77.33 50.10)">Human MIG</text>
<text x="82.19" y="54.95" font-size="5.0" fill="#c44a6a" transform="rotate(-90 82.19 54.95)">IFN-γ</text>
<text x="87.05" y="59.80" font-size="5.0" fill="#c44a6a" transform="rotate(-90 87.05 59.80)">IL-10</text>
<text x="91.91" y="64.65" font-size="5.0" fill="#c44a6a" transform="rotate(-90 91.91 64.65)">IL-12/IL-23p40</text>
<text x="96.76" y="69.50" font-size="5.0" fill="#c44a6a" transform="rotate(-90 96.76 69.50)">IL-12p70</text>
<text x="101.62" y="74.35" font-size="5.0" fill="#c44a6a" transform="rotate(-90 101.62 74.35)">IL-13</text>
<text x="106.48" y="79.20" font-size="5.0" fill="#c44a6a" transform="rotate(-90 106.48 79.20)">IL-15</text>
<text x="111.34" y="84.05" font-size="5.0" fill="#c44a6a" transform="rotate(-90 111.34 84.05)">IL-16</text>
<text x="116.20" y="88.90" font-size="5.0" fill="#c44a6a" transform="rotate(-90 116.20 88.90)">IL-17A</text>
<text x="121.05" y="93.75" font-size="5.0" fill="#c44a6a" transform="rotate(-90 121.05 93.75)">IL-17A Gen B</text>
<text x="125.91" y="98.60" font-size="5.0" fill="#c44a6a" transform="rotate(-90 125.91 98.60)">IL-1α</text>
<text x="130.77" y="103.45" font-size="5.0" fill="#c44a6a" transform="rotate(-90 130.77 103.45)">IL-1β</text>
<text x="135.63" y="108.30" font-size="5.0" fill="#c44a6a" transform="rotate(-90 135.63 108.30)">IL-2</text>
<text x="140.49" y="113.15" font-size="5.0" fill="#c44a6a" transform="rotate(-90 140.49 113.15)">IL-21</text>
<text x="145.34" y="118.00" font-size="5.0" fill="#c44a6a" transform="rotate(-90 145.34 118.00)">IL-22</text>
<text x="150.20" y="122.85" font-size="5.0" fill="#c44a6a" transform="rotate(-90 150.20 122.85)">IL-23</text>
<text x="155.06" y="127.70" font-size="5.0" fill="#c44a6a" transform="rotate(-90 155.06 127.70)">IL-27</text>
<text x="159.92" y="132.55" font-size="5.0" fill="#c44a6a" transform="rotate(-90 159.92 132.55)">IL-31</text>
<text x="164.78" y="137.40" font-size="5.0" fill="#c44a6a" transform="rotate(-90 164.78 137.40)">IL-4</text>
<text x="169.63" y="142.25" font-size="5.0" fill="#c44a6a" transform="rotate(-90 169.63 142.25)">IL-5</text>
<text x="174.49" y="147.10" font-size="5.0" fill="#c44a6a" transform="rotate(-90 174.49 147.10)">IL-6</text>
<text x="179.35" y="151.95" font-size="5.0" fill="#c44a6a" transform="rotate(-90 179.35 151.95)">IL-7</text>
<text x="184.21" y="156.80" font-size="5.0" fill="#c44a6a" transform="rotate(-90 184.21 156.80)">IL-8_23</text>
<text x="189.07" y="161.65" font-size="5.0" fill="#c44a6a" transform="rotate(-90 189.07 161.65)">IL-8_9</text>
<text x="193.92" y="166.50" font-size="5.0" fill="#c44a6a" transform="rotate(-90 193.92 166.50)">IL1RL1/ST2</text>
<text x="198.78" y="171.35" font-size="5.0" fill="#c44a6a" transform="rotate(-90 198.78 171.35)">IP-10</text>
<text x="203.64" y="176.20" font-size="5.0" fill="#c44a6a" transform="rotate(-90 203.64 176.20)">MCP-1</text>
<text x="208.50" y="181.05" font-size="5.0" fill="#c44a6a" transform="rotate(-90 208.50 181.05)">MCP-4</text>
<text x="213.36" y="185.90" font-size="5.0" fill="#c44a6a" transform="rotate(-90 213.36 185.90)">MDC</text>
<text x="218.21" y="190.75" font-size="5.0" fill="#c44a6a" transform="rotate(-90 218.21 190.75)">MIP-1α</text>
<text x="223.07" y="195.60" font-size="5.0" fill="#c44a6a" transform="rotate(-90 223.07 195.60)">MIP-1β</text>
<text x="227.93" y="200.45" font-size="5.0" fill="#c44a6a" transform="rotate(-90 227.93 200.45)">MIP-3α</text>
<text x="232.79" y="205.30" font-size="5.0" fill="#c44a6a" transform="rotate(-90 232.79 205.30)">TARC</text>
<text x="237.65" y="210.15" font-size="5.0" fill="#c44a6a" transform="rotate(-90 237.65 210.15)">TGF-β2</text>
<text x="242.50" y="215.00" font-size="5.0" fill="#c44a6a" transform="rotate(-90 242.50 215.00)">TGF-β1</text>
<text x="247.36" y="219.85" font-size="5.0" fill="#c44a6a" transform="rotate(-90 247.36 219.85)">TGFβ-3</text>
<text x="252.22" y="224.70" font-size="5.0" fill="#c44a6a" transform="rotate(-90 252.22 224.70)">TNF-α</text>
<text x="257.08" y="229.55" font-size="5.0" fill="#c44a6a" transform="rotate(-90 257.08 229.55)">TNF-β</text>
<text x="261.94" y="234.40" font-size="5.0" fill="#c44a6a" transform="rotate(-90 261.94 234.40)">VEGF</text>
<circle cx="311.20" cy="35.70" r="2.25" fill="#6b0623"/><circle cx="311.20" cy="40.55" r="2.16" fill="#d6e7eb"/><path d="M310.40 39.75L312.00 41.34M310.40 41.34L312.00 39.75" stroke="#111" stroke-width="1.1"/><circle cx="315.94" cy="40.55" r="2.25" fill="#6b0623"/><circle cx="311.20" cy="45.39" r="2.16" fill="#d6e7eb"/><path d="M310.40 44.59L312.00 46.19M310.40 46.19L312.00 44.59" stroke="#111" stroke-width="1.1"/><circle cx="315.94" cy="45.39" r="2.18" fill="#8c1028"/><circle cx="320.67" cy="45.39" r="2.25" fill="#6b0623"/><circle cx="311.20" cy="50.23" r="2.16" fill="#d6e7eb"/><path d="M310.40 49.44L312.00 51.03M310.40 51.03L312.00 49.44" stroke="#111" stroke-width="1.1"/><circle cx="315.94" cy="50.23" r="2.16" fill="#d6e7eb"/><path d="M315.14 49.44L316.74 51.03M315.14 51.03L316.74 49.44" stroke="#111" stroke-width="1.1"/><circle cx="320.67" cy="50.23" r="2.16" fill="#d6e7eb"/><path d="M319.87 49.44L321.47 51.03M319.87 51.03L321.47 49.44" stroke="#111" stroke-width="1.1"/><circle cx="325.41" cy="50.23" r="2.25" fill="#6b0623"/><circle cx="311.20" cy="55.08" r="2.16" fill="#d6e7eb"/><path d="M310.40 54.28L312.00 55.88M310.40 55.88L312.00 54.28" stroke="#111" stroke-width="1.1"/><circle cx="315.94" cy="55.08" r="2.18" fill="#8c1028"/><circle cx="320.67" cy="55.08" r="2.18" fill="#8c1028"/><circle cx="325.41" cy="55.08" r="2.16" fill="#d6e7eb"/><path d="M324.61 54.28L326.21 55.88M324.61 55.88L326.21 54.28" stroke="#111" stroke-width="1.1"/><circle cx="330.14" cy="55.08" r="2.25" fill="#6b0623"/><circle cx="311.20" cy="59.92" r="1.96" fill="#c64a5a"/><circle cx="315.94" cy="59.92" r="2.16" fill="#d6e7eb"/><path d="M315.14 59.12L316.74 60.72M315.14 60.72L316.74 59.12" stroke="#111" stroke-width="1.1"/><circle cx="320.67" cy="59.92" r="1.96" fill="#c64a5a"/><circle cx="325.41" cy="59.92" r="2.16" fill="#d6e7eb"/><path d="M324.61 59.12L326.21 60.72M324.61 60.72L326.21 59.12" stroke="#111" stroke-width="1.1"/><circle cx="330.14" cy="59.92" r="2.16" fill="#d6e7eb"/><path d="M329.34 59.12L330.94 60.72M329.34 60.72L330.94 59.12" stroke="#111" stroke-width="1.1"/><circle cx="334.88" cy="59.92" r="2.25" fill="#6b0623"/><circle cx="311.20" cy="64.77" r="2.18" fill="#8c1028"/><circle cx="315.94" cy="64.77" r="2.16" fill="#d6e7eb"/><path d="M315.14 63.97L316.74 65.57M315.14 65.57L316.74 63.97" stroke="#111" stroke-width="1.1"/><circle cx="320.67" cy="64.77" r="2.16" fill="#d6e7eb"/><path d="M319.87 63.97L321.47 65.57M319.87 65.57L321.47 63.97" stroke="#111" stroke-width="1.1"/><circle cx="325.41" cy="64.77" r="2.16" fill="#d6e7eb"/><path d="M324.61 63.97L326.21 65.57M324.61 65.57L326.21 63.97" stroke="#111" stroke-width="1.1"/><circle cx="330.14" cy="64.77" r="2.16" fill="#d6e7eb"/><path d="M329.34 63.97L330.94 65.57M329.34 65.57L330.94 63.97" stroke="#111" stroke-width="1.1"/><circle cx="334.88" cy="64.77" r="1.96" fill="#c64a5a"/><circle cx="339.62" cy="64.77" r="2.25" fill="#6b0623"/><circle cx="311.20" cy="69.62" r="2.16" fill="#d6e7eb"/><path d="M310.40 68.82L312.00 70.42M310.40 70.42L312.00 68.82" stroke="#111" stroke-width="1.1"/><circle cx="315.94" cy="69.62" r="2.16" fill="#d6e7eb"/><path d="M315.14 68.82L316.74 70.42M315.14 70.42L316.74 68.82" stroke="#111" stroke-width="1.1"/><circle cx="320.67" cy="69.62" r="2.16" fill="#d6e7eb"/><path d="M319.87 68.82L321.47 70.42M319.87 70.42L321.47 68.82" stroke="#111" stroke-width="1.1"/><circle cx="325.41" cy="69.62" r="2.16" fill="#d6e7eb"/><path d="M324.61 68.82L326.21 70.42M324.61 70.42L326.21 68.82" stroke="#111" stroke-width="1.1"/><circle cx="330.14" cy="69.62" r="2.16" fill="#d6e7eb"/><path d="M329.34 68.82L330.94 70.42M329.34 70.42L330.94 68.82" stroke="#111" stroke-width="1.1"/><circle cx="334.88" cy="69.62" r="2.16" fill="#d6e7eb"/><path d="M334.08 68.82L335.68 70.42M334.08 70.42L335.68 68.82" stroke="#111" stroke-width="1.1"/><circle cx="339.62" cy="69.62" r="2.16" fill="#d6e7eb"/><path d="M338.82 68.82L340.42 70.42M338.82 70.42L340.42 68.82" stroke="#111" stroke-width="1.1"/><circle cx="344.35" cy="69.62" r="2.25" fill="#6b0623"/><circle cx="311.20" cy="74.46" r="1.96" fill="#c64a5a"/><circle cx="315.94" cy="74.46" r="2.16" fill="#d6e7eb"/><path d="M315.14 73.66L316.74 75.26M315.14 75.26L316.74 73.66" stroke="#111" stroke-width="1.1"/><circle cx="320.67" cy="74.46" r="2.16" fill="#d6e7eb"/><path d="M319.87 73.66L321.47 75.26M319.87 75.26L321.47 73.66" stroke="#111" stroke-width="1.1"/><circle cx="325.41" cy="74.46" r="2.16" fill="#d6e7eb"/><path d="M324.61 73.66L326.21 75.26M324.61 75.26L326.21 73.66" stroke="#111" stroke-width="1.1"/><circle cx="330.14" cy="74.46" r="2.16" fill="#d6e7eb"/><path d="M329.34 73.66L330.94 75.26M329.34 75.26L330.94 73.66" stroke="#111" stroke-width="1.1"/><circle cx="334.88" cy="74.46" r="1.96" fill="#c64a5a"/><circle cx="339.62" cy="74.46" r="1.96" fill="#c64a5a"/><circle cx="344.35" cy="74.46" r="2.16" fill="#d6e7eb"/><path d="M343.55 73.66L345.15 75.26M343.55 75.26L345.15 73.66" stroke="#111" stroke-width="1.1"/><circle cx="349.09" cy="74.46" r="2.25" fill="#6b0623"/><circle cx="311.20" cy="79.31" r="2.16" fill="#d6e7eb"/><path d="M310.40 78.51L312.00 80.11M310.40 80.11L312.00 78.51" stroke="#111" stroke-width="1.1"/><circle cx="315.94" cy="79.31" r="2.16" fill="#d6e7eb"/><path d="M315.14 78.51L316.74 80.11M315.14 80.11L316.74 78.51" stroke="#111" stroke-width="1.1"/><circle cx="320.67" cy="79.31" r="2.16" fill="#d6e7eb"/><path d="M319.87 78.51L321.47 80.11M319.87 80.11L321.47 78.51" stroke="#111" stroke-width="1.1"/><circle cx="325.41" cy="79.31" r="2.16" fill="#d6e7eb"/><path d="M324.61 78.51L326.21 80.11M324.61 80.11L326.21 78.51" stroke="#111" stroke-width="1.1"/><circle cx="330.14" cy="79.31" r="2.16" fill="#d6e7eb"/><path d="M329.34 78.51L330.94 80.11M329.34 80.11L330.94 78.51" stroke="#111" stroke-width="1.1"/><circle cx="334.88" cy="79.31" r="2.16" fill="#d6e7eb"/><path d="M334.08 78.51L335.68 80.11M334.08 80.11L335.68 78.51" stroke="#111" stroke-width="1.1"/><circle cx="339.62" cy="79.31" r="2.16" fill="#d6e7eb"/><path d="M338.82 78.51L340.42 80.11M338.82 80.11L340.42 78.51" stroke="#111" stroke-width="1.1"/><circle cx="344.35" cy="79.31" r="2.16" fill="#d6e7eb"/><path d="M343.55 78.51L345.15 80.11M343.55 80.11L345.15 78.51" stroke="#111" stroke-width="1.1"/><circle cx="349.09" cy="79.31" r="2.16" fill="#d6e7eb"/><path d="M348.29 78.51L349.89 80.11M348.29 80.11L349.89 78.51" stroke="#111" stroke-width="1.1"/><circle cx="353.82" cy="79.31" r="2.25" fill="#6b0623"/><circle cx="311.20" cy="84.15" r="1.96" fill="#c64a5a"/><circle cx="315.94" cy="84.15" r="2.16" fill="#d6e7eb"/><path d="M315.14 83.35L316.74 84.95M315.14 84.95L316.74 83.35" stroke="#111" stroke-width="1.1"/><circle cx="320.67" cy="84.15" r="2.16" fill="#d6e7eb"/><path d="M319.87 83.35L321.47 84.95M319.87 84.95L321.47 83.35" stroke="#111" stroke-width="1.1"/><circle cx="325.41" cy="84.15" r="2.16" fill="#d6e7eb"/><path d="M324.61 83.35L326.21 84.95M324.61 84.95L326.21 83.35" stroke="#111" stroke-width="1.1"/><circle cx="330.14" cy="84.15" r="2.16" fill="#d6e7eb"/><path d="M329.34 83.35L330.94 84.95M329.34 84.95L330.94 83.35" stroke="#111" stroke-width="1.1"/><circle cx="334.88" cy="84.15" r="2.11" fill="#ac2238"/><circle cx="339.62" cy="84.15" r="2.16" fill="#d6e7eb"/><path d="M338.82 83.35L340.42 84.95M338.82 84.95L340.42 83.35" stroke="#111" stroke-width="1.1"/><circle cx="344.35" cy="84.15" r="2.16" fill="#d6e7eb"/><path d="M343.55 83.35L345.15 84.95M343.55 84.95L345.15 83.35" stroke="#111" stroke-width="1.1"/><circle cx="349.09" cy="84.15" r="2.11" fill="#ac2238"/><circle cx="353.82" cy="84.15" r="2.16" fill="#d6e7eb"/><path d="M353.02 83.35L354.62 84.95M353.02 84.95L354.62 83.35" stroke="#111" stroke-width="1.1"/><circle cx="358.56" cy="84.15" r="2.25" fill="#6b0623"/><circle cx="311.20" cy="89.00" r="2.18" fill="#8c1028"/><circle cx="315.94" cy="89.00" r="2.16" fill="#d6e7eb"/><path d="M315.14 88.20L316.74 89.80M315.14 89.80L316.74 88.20" stroke="#111" stroke-width="1.1"/><circle cx="320.67" cy="89.00" r="2.16" fill="#d6e7eb"/><path d="M319.87 88.20L321.47 89.80M319.87 89.80L321.47 88.20" stroke="#111" stroke-width="1.1"/><circle cx="325.41" cy="89.00" r="2.16" fill="#d6e7eb"/><path d="M324.61 88.20L326.21 89.80M324.61 89.80L326.21 88.20" stroke="#111" stroke-width="1.1"/><circle cx="330.14" cy="89.00" r="2.16" fill="#d6e7eb"/><path d="M329.34 88.20L330.94 89.80M329.34 89.80L330.94 88.20" stroke="#111" stroke-width="1.1"/><circle cx="334.88" cy="89.00" r="1.96" fill="#c64a5a"/><circle cx="339.62" cy="89.00" r="2.11" fill="#ac2238"/><circle cx="344.35" cy="89.00" r="2.16" fill="#d6e7eb"/><path d="M343.55 88.20L345.15 89.80M343.55 89.80L345.15 88.20" stroke="#111" stroke-width="1.1"/><circle cx="349.09" cy="89.00" r="1.96" fill="#c64a5a"/><circle cx="353.82" cy="89.00" r="2.16" fill="#d6e7eb"/><path d="M353.02 88.20L354.62 89.80M353.02 89.80L354.62 88.20" stroke="#111" stroke-width="1.1"/><circle cx="358.56" cy="89.00" r="2.16" fill="#d6e7eb"/><path d="M357.76 88.20L359.36 89.80M357.76 89.80L359.36 88.20" stroke="#111" stroke-width="1.1"/><circle cx="363.30" cy="89.00" r="2.25" fill="#6b0623"/><circle cx="311.20" cy="93.84" r="2.18" fill="#8c1028"/><circle cx="315.94" cy="93.84" r="2.16" fill="#d6e7eb"/><path d="M315.14 93.04L316.74 94.64M315.14 94.64L316.74 93.04" stroke="#111" stroke-width="1.1"/><circle cx="320.67" cy="93.84" r="2.16" fill="#d6e7eb"/><path d="M319.87 93.04L321.47 94.64M319.87 94.64L321.47 93.04" stroke="#111" stroke-width="1.1"/><circle cx="325.41" cy="93.84" r="2.16" fill="#d6e7eb"/><path d="M324.61 93.04L326.21 94.64M324.61 94.64L326.21 93.04" stroke="#111" stroke-width="1.1"/><circle cx="330.14" cy="93.84" r="2.16" fill="#d6e7eb"/><path d="M329.34 93.04L330.94 94.64M329.34 94.64L330.94 93.04" stroke="#111" stroke-width="1.1"/><circle cx="334.88" cy="93.84" r="1.96" fill="#c64a5a"/><circle cx="339.62" cy="93.84" r="2.18" fill="#8c1028"/><circle cx="344.35" cy="93.84" r="2.16" fill="#d6e7eb"/><path d="M343.55 93.04L345.15 94.64M343.55 94.64L345.15 93.04" stroke="#111" stroke-width="1.1"/><circle cx="349.09" cy="93.84" r="1.96" fill="#c64a5a"/><circle cx="353.82" cy="93.84" r="2.16" fill="#d6e7eb"/><path d="M353.02 93.04L354.62 94.64M353.02 94.64L354.62 93.04" stroke="#111" stroke-width="1.1"/><circle cx="358.56" cy="93.84" r="1.96" fill="#c64a5a"/><circle cx="363.30" cy="93.84" r="2.11" fill="#ac2238"/><circle cx="368.03" cy="93.84" r="2.25" fill="#6b0623"/><circle cx="311.20" cy="98.69" r="2.18" fill="#8c1028"/><circle cx="315.94" cy="98.69" r="2.16" fill="#d6e7eb"/><path d="M315.14 97.89L316.74 99.48M315.14 99.48L316.74 97.89" stroke="#111" stroke-width="1.1"/><circle cx="320.67" cy="98.69" r="2.16" fill="#d6e7eb"/><path d="M319.87 97.89L321.47 99.48M319.87 99.48L321.47 97.89" stroke="#111" stroke-width="1.1"/><circle cx="325.41" cy="98.69" r="2.16" fill="#d6e7eb"/><path d="M324.61 97.89L326.21 99.48M324.61 99.48L326.21 97.89" stroke="#111" stroke-width="1.1"/><circle cx="330.14" cy="98.69" r="2.16" fill="#d6e7eb"/><path d="M329.34 97.89L330.94 99.48M329.34 99.48L330.94 97.89" stroke="#111" stroke-width="1.1"/><circle cx="334.88" cy="98.69" r="1.82" fill="#da7a80"/><circle cx="339.62" cy="98.69" r="2.18" fill="#8c1028"/><circle cx="344.35" cy="98.69" r="2.16" fill="#d6e7eb"/><path d="M343.55 97.89L345.15 99.48M343.55 99.48L345.15 97.89" stroke="#111" stroke-width="1.1"/><circle cx="349.09" cy="98.69" r="1.82" fill="#da7a80"/><circle cx="353.82" cy="98.69" r="2.16" fill="#d6e7eb"/><path d="M353.02 97.89L354.62 99.48M353.02 99.48L354.62 97.89" stroke="#111" stroke-width="1.1"/><circle cx="358.56" cy="98.69" r="2.16" fill="#d6e7eb"/><path d="M357.76 97.89L359.36 99.48M357.76 99.48L359.36 97.89" stroke="#111" stroke-width="1.1"/><circle cx="363.30" cy="98.69" r="1.96" fill="#c64a5a"/><circle cx="368.03" cy="98.69" r="2.25" fill="#6b0623"/><circle cx="372.77" cy="98.69" r="2.25" fill="#6b0623"/><circle cx="311.20" cy="103.53" r="2.16" fill="#d6e7eb"/><path d="M310.40 102.73L312.00 104.33M310.40 104.33L312.00 102.73" stroke="#111" stroke-width="1.1"/><circle cx="315.94" cy="103.53" r="2.16" fill="#d6e7eb"/><path d="M315.14 102.73L316.74 104.33M315.14 104.33L316.74 102.73" stroke="#111" stroke-width="1.1"/><circle cx="320.67" cy="103.53" r="2.16" fill="#d6e7eb"/><path d="M319.87 102.73L321.47 104.33M319.87 104.33L321.47 102.73" stroke="#111" stroke-width="1.1"/><circle cx="325.41" cy="103.53" r="1.96" fill="#c64a5a"/><circle cx="330.14" cy="103.53" r="2.16" fill="#d6e7eb"/><path d="M329.34 102.73L330.94 104.33M329.34 104.33L330.94 102.73" stroke="#111" stroke-width="1.1"/><circle cx="334.88" cy="103.53" r="2.16" fill="#d6e7eb"/><path d="M334.08 102.73L335.68 104.33M334.08 104.33L335.68 102.73" stroke="#111" stroke-width="1.1"/><circle cx="339.62" cy="103.53" r="2.16" fill="#d6e7eb"/><path d="M338.82 102.73L340.42 104.33M338.82 104.33L340.42 102.73" stroke="#111" stroke-width="1.1"/><circle cx="344.35" cy="103.53" r="2.16" fill="#d6e7eb"/><path d="M343.55 102.73L345.15 104.33M343.55 104.33L345.15 102.73" stroke="#111" stroke-width="1.1"/><circle cx="349.09" cy="103.53" r="2.16" fill="#d6e7eb"/><path d="M348.29 102.73L349.89 104.33M348.29 104.33L349.89 102.73" stroke="#111" stroke-width="1.1"/><circle cx="353.82" cy="103.53" r="2.16" fill="#d6e7eb"/><path d="M353.02 102.73L354.62 104.33M353.02 104.33L354.62 102.73" stroke="#111" stroke-width="1.1"/><circle cx="358.56" cy="103.53" r="2.16" fill="#d6e7eb"/><path d="M357.76 102.73L359.36 104.33M357.76 104.33L359.36 102.73" stroke="#111" stroke-width="1.1"/><circle cx="363.30" cy="103.53" r="2.16" fill="#d6e7eb"/><path d="M362.50 102.73L364.10 104.33M362.50 104.33L364.10 102.73" stroke="#111" stroke-width="1.1"/><circle cx="368.03" cy="103.53" r="2.16" fill="#d6e7eb"/><path d="M367.23 102.73L368.83 104.33M367.23 104.33L368.83 102.73" stroke="#111" stroke-width="1.1"/><circle cx="372.77" cy="103.53" r="2.16" fill="#d6e7eb"/><path d="M371.97 102.73L373.57 104.33M371.97 104.33L373.57 102.73" stroke="#111" stroke-width="1.1"/><circle cx="377.50" cy="103.53" r="2.25" fill="#6b0623"/><circle cx="311.20" cy="108.38" r="2.16" fill="#d6e7eb"/><path d="M310.40 107.58L312.00 109.17M310.40 109.17L312.00 107.58" stroke="#111" stroke-width="1.1"/><circle cx="315.94" cy="108.38" r="2.16" fill="#d6e7eb"/><path d="M315.14 107.58L316.74 109.17M315.14 109.17L316.74 107.58" stroke="#111" stroke-width="1.1"/><circle cx="320.67" cy="108.38" r="2.16" fill="#d6e7eb"/><path d="M319.87 107.58L321.47 109.17M319.87 109.17L321.47 107.58" stroke="#111" stroke-width="1.1"/><circle cx="325.41" cy="108.38" r="2.11" fill="#ac2238"/><circle cx="330.14" cy="108.38" r="2.16" fill="#d6e7eb"/><path d="M329.34 107.58L330.94 109.17M329.34 109.17L330.94 107.58" stroke="#111" stroke-width="1.1"/><circle cx="334.88" cy="108.38" r="2.16" fill="#d6e7eb"/><path d="M334.08 107.58L335.68 109.17M334.08 109.17L335.68 107.58" stroke="#111" stroke-width="1.1"/><circle cx="339.62" cy="108.38" r="2.16" fill="#d6e7eb"/><path d="M338.82 107.58L340.42 109.17M338.82 109.17L340.42 107.58" stroke="#111" stroke-width="1.1"/><circle cx="344.35" cy="108.38" r="2.16" fill="#d6e7eb"/><path d="M343.55 107.58L345.15 109.17M343.55 109.17L345.15 107.58" stroke="#111" stroke-width="1.1"/><circle cx="349.09" cy="108.38" r="2.16" fill="#d6e7eb"/><path d="M348.29 107.58L349.89 109.17M348.29 109.17L349.89 107.58" stroke="#111" stroke-width="1.1"/><circle cx="353.82" cy="108.38" r="2.16" fill="#d6e7eb"/><path d="M353.02 107.58L354.62 109.17M353.02 109.17L354.62 107.58" stroke="#111" stroke-width="1.1"/><circle cx="358.56" cy="108.38" r="2.16" fill="#d6e7eb"/><path d="M357.76 107.58L359.36 109.17M357.76 109.17L359.36 107.58" stroke="#111" stroke-width="1.1"/><circle cx="363.30" cy="108.38" r="1.82" fill="#da7a80"/><circle cx="368.03" cy="108.38" r="2.16" fill="#d6e7eb"/><path d="M367.23 107.58L368.83 109.17M367.23 109.17L368.83 107.58" stroke="#111" stroke-width="1.1"/><circle cx="372.77" cy="108.38" r="2.16" fill="#d6e7eb"/><path d="M371.97 107.58L373.57 109.17M371.97 109.17L373.57 107.58" stroke="#111" stroke-width="1.1"/><circle cx="377.50" cy="108.38" r="2.16" fill="#d6e7eb"/><path d="M376.70 107.58L378.30 109.17M376.70 109.17L378.30 107.58" stroke="#111" stroke-width="1.1"/><circle cx="382.24" cy="108.38" r="2.25" fill="#6b0623"/><circle cx="311.20" cy="113.22" r="2.16" fill="#d6e7eb"/><path d="M310.40 112.42L312.00 114.02M310.40 114.02L312.00 112.42" stroke="#111" stroke-width="1.1"/><circle cx="315.94" cy="113.22" r="2.16" fill="#d6e7eb"/><path d="M315.14 112.42L316.74 114.02M315.14 114.02L316.74 112.42" stroke="#111" stroke-width="1.1"/><circle cx="320.67" cy="113.22" r="2.16" fill="#d6e7eb"/><path d="M319.87 112.42L321.47 114.02M319.87 114.02L321.47 112.42" stroke="#111" stroke-width="1.1"/><circle cx="325.41" cy="113.22" r="2.16" fill="#d6e7eb"/><path d="M324.61 112.42L326.21 114.02M324.61 114.02L326.21 112.42" stroke="#111" stroke-width="1.1"/><circle cx="330.14" cy="113.22" r="2.16" fill="#d6e7eb"/><path d="M329.34 112.42L330.94 114.02M329.34 114.02L330.94 112.42" stroke="#111" stroke-width="1.1"/><circle cx="334.88" cy="113.22" r="2.16" fill="#d6e7eb"/><path d="M334.08 112.42L335.68 114.02M334.08 114.02L335.68 112.42" stroke="#111" stroke-width="1.1"/><circle cx="339.62" cy="113.22" r="2.16" fill="#d6e7eb"/><path d="M338.82 112.42L340.42 114.02M338.82 114.02L340.42 112.42" stroke="#111" stroke-width="1.1"/><circle cx="344.35" cy="113.22" r="2.16" fill="#d6e7eb"/><path d="M343.55 112.42L345.15 114.02M343.55 114.02L345.15 112.42" stroke="#111" stroke-width="1.1"/><circle cx="349.09" cy="113.22" r="2.16" fill="#d6e7eb"/><path d="M348.29 112.42L349.89 114.02M348.29 114.02L349.89 112.42" stroke="#111" stroke-width="1.1"/><circle cx="353.82" cy="113.22" r="2.11" fill="#ac2238"/><circle cx="358.56" cy="113.22" r="2.16" fill="#d6e7eb"/><path d="M357.76 112.42L359.36 114.02M357.76 114.02L359.36 112.42" stroke="#111" stroke-width="1.1"/><circle cx="363.30" cy="113.22" r="2.16" fill="#d6e7eb"/><path d="M362.50 112.42L364.10 114.02M362.50 114.02L364.10 112.42" stroke="#111" stroke-width="1.1"/><circle cx="368.03" cy="113.22" r="2.16" fill="#d6e7eb"/><path d="M367.23 112.42L368.83 114.02M367.23 114.02L368.83 112.42" stroke="#111" stroke-width="1.1"/><circle cx="372.77" cy="113.22" r="2.16" fill="#d6e7eb"/><path d="M371.97 112.42L373.57 114.02M371.97 114.02L373.57 112.42" stroke="#111" stroke-width="1.1"/><circle cx="377.50" cy="113.22" r="2.16" fill="#d6e7eb"/><path d="M376.70 112.42L378.30 114.02M376.70 114.02L378.30 112.42" stroke="#111" stroke-width="1.1"/><circle cx="382.24" cy="113.22" r="2.16" fill="#d6e7eb"/><path d="M381.44 112.42L383.04 114.02M381.44 114.02L383.04 112.42" stroke="#111" stroke-width="1.1"/><circle cx="386.98" cy="113.22" r="2.25" fill="#6b0623"/><circle cx="311.20" cy="118.06" r="2.16" fill="#d6e7eb"/><path d="M310.40 117.27L312.00 118.86M310.40 118.86L312.00 117.27" stroke="#111" stroke-width="1.1"/><circle cx="315.94" cy="118.06" r="2.16" fill="#d6e7eb"/><path d="M315.14 117.27L316.74 118.86M315.14 118.86L316.74 117.27" stroke="#111" stroke-width="1.1"/><circle cx="320.67" cy="118.06" r="2.16" fill="#d6e7eb"/><path d="M319.87 117.27L321.47 118.86M319.87 118.86L321.47 117.27" stroke="#111" stroke-width="1.1"/><circle cx="325.41" cy="118.06" r="2.16" fill="#d6e7eb"/><path d="M324.61 117.27L326.21 118.86M324.61 118.86L326.21 117.27" stroke="#111" stroke-width="1.1"/><circle cx="330.14" cy="118.06" r="2.16" fill="#d6e7eb"/><path d="M329.34 117.27L330.94 118.86M329.34 118.86L330.94 117.27" stroke="#111" stroke-width="1.1"/><circle cx="334.88" cy="118.06" r="2.16" fill="#d6e7eb"/><path d="M334.08 117.27L335.68 118.86M334.08 118.86L335.68 117.27" stroke="#111" stroke-width="1.1"/><circle cx="339.62" cy="118.06" r="2.16" fill="#d6e7eb"/><path d="M338.82 117.27L340.42 118.86M338.82 118.86L340.42 117.27" stroke="#111" stroke-width="1.1"/><circle cx="344.35" cy="118.06" r="2.16" fill="#d6e7eb"/><path d="M343.55 117.27L345.15 118.86M343.55 118.86L345.15 117.27" stroke="#111" stroke-width="1.1"/><circle cx="349.09" cy="118.06" r="2.16" fill="#d6e7eb"/><path d="M348.29 117.27L349.89 118.86M348.29 118.86L349.89 117.27" stroke="#111" stroke-width="1.1"/><circle cx="353.82" cy="118.06" r="1.96" fill="#c64a5a"/><circle cx="358.56" cy="118.06" r="2.16" fill="#d6e7eb"/><path d="M357.76 117.27L359.36 118.86M357.76 118.86L359.36 117.27" stroke="#111" stroke-width="1.1"/><circle cx="363.30" cy="118.06" r="2.16" fill="#d6e7eb"/><path d="M362.50 117.27L364.10 118.86M362.50 118.86L364.10 117.27" stroke="#111" stroke-width="1.1"/><circle cx="368.03" cy="118.06" r="2.16" fill="#d6e7eb"/><path d="M367.23 117.27L368.83 118.86M367.23 118.86L368.83 117.27" stroke="#111" stroke-width="1.1"/><circle cx="372.77" cy="118.06" r="2.16" fill="#d6e7eb"/><path d="M371.97 117.27L373.57 118.86M371.97 118.86L373.57 117.27" stroke="#111" stroke-width="1.1"/><circle cx="377.50" cy="118.06" r="2.16" fill="#d6e7eb"/><path d="M376.70 117.27L378.30 118.86M376.70 118.86L378.30 117.27" stroke="#111" stroke-width="1.1"/><circle cx="382.24" cy="118.06" r="2.16" fill="#d6e7eb"/><path d="M381.44 117.27L383.04 118.86M381.44 118.86L383.04 117.27" stroke="#111" stroke-width="1.1"/><circle cx="386.98" cy="118.06" r="1.96" fill="#c64a5a"/><circle cx="391.71" cy="118.06" r="2.25" fill="#6b0623"/><circle cx="311.20" cy="122.91" r="2.16" fill="#d6e7eb"/><path d="M310.40 122.11L312.00 123.71M310.40 123.71L312.00 122.11" stroke="#111" stroke-width="1.1"/><circle cx="315.94" cy="122.91" r="2.16" fill="#d6e7eb"/><path d="M315.14 122.11L316.74 123.71M315.14 123.71L316.74 122.11" stroke="#111" stroke-width="1.1"/><circle cx="320.67" cy="122.91" r="2.16" fill="#d6e7eb"/><path d="M319.87 122.11L321.47 123.71M319.87 123.71L321.47 122.11" stroke="#111" stroke-width="1.1"/><circle cx="325.41" cy="122.91" r="2.16" fill="#d6e7eb"/><path d="M324.61 122.11L326.21 123.71M324.61 123.71L326.21 122.11" stroke="#111" stroke-width="1.1"/><circle cx="330.14" cy="122.91" r="2.16" fill="#d6e7eb"/><path d="M329.34 122.11L330.94 123.71M329.34 123.71L330.94 122.11" stroke="#111" stroke-width="1.1"/><circle cx="334.88" cy="122.91" r="2.16" fill="#d6e7eb"/><path d="M334.08 122.11L335.68 123.71M334.08 123.71L335.68 122.11" stroke="#111" stroke-width="1.1"/><circle cx="339.62" cy="122.91" r="2.16" fill="#d6e7eb"/><path d="M338.82 122.11L340.42 123.71M338.82 123.71L340.42 122.11" stroke="#111" stroke-width="1.1"/><circle cx="344.35" cy="122.91" r="2.16" fill="#d6e7eb"/><path d="M343.55 122.11L345.15 123.71M343.55 123.71L345.15 122.11" stroke="#111" stroke-width="1.1"/><circle cx="349.09" cy="122.91" r="2.16" fill="#d6e7eb"/><path d="M348.29 122.11L349.89 123.71M348.29 123.71L349.89 122.11" stroke="#111" stroke-width="1.1"/><circle cx="353.82" cy="122.91" r="2.18" fill="#8c1028"/><circle cx="358.56" cy="122.91" r="2.16" fill="#d6e7eb"/><path d="M357.76 122.11L359.36 123.71M357.76 123.71L359.36 122.11" stroke="#111" stroke-width="1.1"/><circle cx="363.30" cy="122.91" r="2.16" fill="#d6e7eb"/><path d="M362.50 122.11L364.10 123.71M362.50 123.71L364.10 122.11" stroke="#111" stroke-width="1.1"/><circle cx="368.03" cy="122.91" r="2.16" fill="#d6e7eb"/><path d="M367.23 122.11L368.83 123.71M367.23 123.71L368.83 122.11" stroke="#111" stroke-width="1.1"/><circle cx="372.77" cy="122.91" r="2.16" fill="#d6e7eb"/><path d="M371.97 122.11L373.57 123.71M371.97 123.71L373.57 122.11" stroke="#111" stroke-width="1.1"/><circle cx="377.50" cy="122.91" r="2.16" fill="#d6e7eb"/><path d="M376.70 122.11L378.30 123.71M376.70 123.71L378.30 122.11" stroke="#111" stroke-width="1.1"/><circle cx="382.24" cy="122.91" r="2.16" fill="#d6e7eb"/><path d="M381.44 122.11L383.04 123.71M381.44 123.71L383.04 122.11" stroke="#111" stroke-width="1.1"/><circle cx="386.98" cy="122.91" r="1.96" fill="#c64a5a"/><circle cx="391.71" cy="122.91" r="2.11" fill="#ac2238"/><circle cx="396.45" cy="122.91" r="2.25" fill="#6b0623"/><circle cx="311.20" cy="127.75" r="2.16" fill="#d6e7eb"/><path d="M310.40 126.95L312.00 128.56M310.40 128.56L312.00 126.95" stroke="#111" stroke-width="1.1"/><circle cx="315.94" cy="127.75" r="1.82" fill="#da7a80"/><circle cx="320.67" cy="127.75" r="2.16" fill="#d6e7eb"/><path d="M319.87 126.95L321.47 128.56M319.87 128.56L321.47 126.95" stroke="#111" stroke-width="1.1"/><circle cx="325.41" cy="127.75" r="2.16" fill="#d6e7eb"/><path d="M324.61 126.95L326.21 128.56M324.61 128.56L326.21 126.95" stroke="#111" stroke-width="1.1"/><circle cx="330.14" cy="127.75" r="2.16" fill="#d6e7eb"/><path d="M329.34 126.95L330.94 128.56M329.34 128.56L330.94 126.95" stroke="#111" stroke-width="1.1"/><circle cx="334.88" cy="127.75" r="2.16" fill="#d6e7eb"/><path d="M334.08 126.95L335.68 128.56M334.08 128.56L335.68 126.95" stroke="#111" stroke-width="1.1"/><circle cx="339.62" cy="127.75" r="2.16" fill="#d6e7eb"/><path d="M338.82 126.95L340.42 128.56M338.82 128.56L340.42 126.95" stroke="#111" stroke-width="1.1"/><circle cx="344.35" cy="127.75" r="2.16" fill="#d6e7eb"/><path d="M343.55 126.95L345.15 128.56M343.55 128.56L345.15 126.95" stroke="#111" stroke-width="1.1"/><circle cx="349.09" cy="127.75" r="2.16" fill="#d6e7eb"/><path d="M348.29 126.95L349.89 128.56M348.29 128.56L349.89 126.95" stroke="#111" stroke-width="1.1"/><circle cx="353.82" cy="127.75" r="2.16" fill="#d6e7eb"/><path d="M353.02 126.95L354.62 128.56M353.02 128.56L354.62 126.95" stroke="#111" stroke-width="1.1"/><circle cx="358.56" cy="127.75" r="2.16" fill="#d6e7eb"/><path d="M357.76 126.95L359.36 128.56M357.76 128.56L359.36 126.95" stroke="#111" stroke-width="1.1"/><circle cx="363.30" cy="127.75" r="2.16" fill="#d6e7eb"/><path d="M362.50 126.95L364.10 128.56M362.50 128.56L364.10 126.95" stroke="#111" stroke-width="1.1"/><circle cx="368.03" cy="127.75" r="2.16" fill="#d6e7eb"/><path d="M367.23 126.95L368.83 128.56M367.23 128.56L368.83 126.95" stroke="#111" stroke-width="1.1"/><circle cx="372.77" cy="127.75" r="2.16" fill="#d6e7eb"/><path d="M371.97 126.95L373.57 128.56M371.97 128.56L373.57 126.95" stroke="#111" stroke-width="1.1"/><circle cx="377.50" cy="127.75" r="2.16" fill="#d6e7eb"/><path d="M376.70 126.95L378.30 128.56M376.70 128.56L378.30 126.95" stroke="#111" stroke-width="1.1"/><circle cx="382.24" cy="127.75" r="2.16" fill="#d6e7eb"/><path d="M381.44 126.95L383.04 128.56M381.44 128.56L383.04 126.95" stroke="#111" stroke-width="1.1"/><circle cx="386.98" cy="127.75" r="2.16" fill="#d6e7eb"/><path d="M386.18 126.95L387.78 128.56M386.18 128.56L387.78 126.95" stroke="#111" stroke-width="1.1"/><circle cx="391.71" cy="127.75" r="2.16" fill="#d6e7eb"/><path d="M390.91 126.95L392.51 128.56M390.91 128.56L392.51 126.95" stroke="#111" stroke-width="1.1"/><circle cx="396.45" cy="127.75" r="2.16" fill="#d6e7eb"/><path d="M395.65 126.95L397.25 128.56M395.65 128.56L397.25 126.95" stroke="#111" stroke-width="1.1"/><circle cx="401.18" cy="127.75" r="2.25" fill="#6b0623"/><circle cx="311.20" cy="132.60" r="2.16" fill="#d6e7eb"/><path d="M310.40 131.80L312.00 133.40M310.40 133.40L312.00 131.80" stroke="#111" stroke-width="1.1"/><circle cx="315.94" cy="132.60" r="2.16" fill="#d6e7eb"/><path d="M315.14 131.80L316.74 133.40M315.14 133.40L316.74 131.80" stroke="#111" stroke-width="1.1"/><circle cx="320.67" cy="132.60" r="2.16" fill="#d6e7eb"/><path d="M319.87 131.80L321.47 133.40M319.87 133.40L321.47 131.80" stroke="#111" stroke-width="1.1"/><circle cx="325.41" cy="132.60" r="2.16" fill="#d6e7eb"/><path d="M324.61 131.80L326.21 133.40M324.61 133.40L326.21 131.80" stroke="#111" stroke-width="1.1"/><circle cx="330.14" cy="132.60" r="2.16" fill="#d6e7eb"/><path d="M329.34 131.80L330.94 133.40M329.34 133.40L330.94 131.80" stroke="#111" stroke-width="1.1"/><circle cx="334.88" cy="132.60" r="2.16" fill="#d6e7eb"/><path d="M334.08 131.80L335.68 133.40M334.08 133.40L335.68 131.80" stroke="#111" stroke-width="1.1"/><circle cx="339.62" cy="132.60" r="2.16" fill="#d6e7eb"/><path d="M338.82 131.80L340.42 133.40M338.82 133.40L340.42 131.80" stroke="#111" stroke-width="1.1"/><circle cx="344.35" cy="132.60" r="2.16" fill="#d6e7eb"/><path d="M343.55 131.80L345.15 133.40M343.55 133.40L345.15 131.80" stroke="#111" stroke-width="1.1"/><circle cx="349.09" cy="132.60" r="2.16" fill="#d6e7eb"/><path d="M348.29 131.80L349.89 133.40M348.29 133.40L349.89 131.80" stroke="#111" stroke-width="1.1"/><circle cx="353.82" cy="132.60" r="2.11" fill="#ac2238"/><circle cx="358.56" cy="132.60" r="2.16" fill="#d6e7eb"/><path d="M357.76 131.80L359.36 133.40M357.76 133.40L359.36 131.80" stroke="#111" stroke-width="1.1"/><circle cx="363.30" cy="132.60" r="2.16" fill="#d6e7eb"/><path d="M362.50 131.80L364.10 133.40M362.50 133.40L364.10 131.80" stroke="#111" stroke-width="1.1"/><circle cx="368.03" cy="132.60" r="2.16" fill="#d6e7eb"/><path d="M367.23 131.80L368.83 133.40M367.23 133.40L368.83 131.80" stroke="#111" stroke-width="1.1"/><circle cx="372.77" cy="132.60" r="2.16" fill="#d6e7eb"/><path d="M371.97 131.80L373.57 133.40M371.97 133.40L373.57 131.80" stroke="#111" stroke-width="1.1"/><circle cx="377.50" cy="132.60" r="2.16" fill="#d6e7eb"/><path d="M376.70 131.80L378.30 133.40M376.70 133.40L378.30 131.80" stroke="#111" stroke-width="1.1"/><circle cx="382.24" cy="132.60" r="2.16" fill="#d6e7eb"/><path d="M381.44 131.80L383.04 133.40M381.44 133.40L383.04 131.80" stroke="#111" stroke-width="1.1"/><circle cx="386.98" cy="132.60" r="1.96" fill="#c64a5a"/><circle cx="391.71" cy="132.60" r="2.11" fill="#ac2238"/><circle cx="396.45" cy="132.60" r="2.25" fill="#6b0623"/><circle cx="401.18" cy="132.60" r="2.16" fill="#d6e7eb"/><path d="M400.38 131.80L401.98 133.40M400.38 133.40L401.98 131.80" stroke="#111" stroke-width="1.1"/><circle cx="405.92" cy="132.60" r="2.25" fill="#6b0623"/><circle cx="311.20" cy="137.44" r="2.16" fill="#d6e7eb"/><path d="M310.40 136.64L312.00 138.25M310.40 138.25L312.00 136.64" stroke="#111" stroke-width="1.1"/><circle cx="315.94" cy="137.44" r="2.25" fill="#6b0623"/><circle cx="320.67" cy="137.44" r="2.25" fill="#6b0623"/><circle cx="325.41" cy="137.44" r="2.16" fill="#d6e7eb"/><path d="M324.61 136.64L326.21 138.25M324.61 138.25L326.21 136.64" stroke="#111" stroke-width="1.1"/><circle cx="330.14" cy="137.44" r="2.18" fill="#8c1028"/><circle cx="334.88" cy="137.44" r="2.16" fill="#d6e7eb"/><path d="M334.08 136.64L335.68 138.25M334.08 138.25L335.68 136.64" stroke="#111" stroke-width="1.1"/><circle cx="339.62" cy="137.44" r="2.16" fill="#d6e7eb"/><path d="M338.82 136.64L340.42 138.25M338.82 138.25L340.42 136.64" stroke="#111" stroke-width="1.1"/><circle cx="344.35" cy="137.44" r="2.16" fill="#d6e7eb"/><path d="M343.55 136.64L345.15 138.25M343.55 138.25L345.15 136.64" stroke="#111" stroke-width="1.1"/><circle cx="349.09" cy="137.44" r="2.16" fill="#d6e7eb"/><path d="M348.29 136.64L349.89 138.25M348.29 138.25L349.89 136.64" stroke="#111" stroke-width="1.1"/><circle cx="353.82" cy="137.44" r="2.16" fill="#d6e7eb"/><path d="M353.02 136.64L354.62 138.25M353.02 138.25L354.62 136.64" stroke="#111" stroke-width="1.1"/><circle cx="358.56" cy="137.44" r="2.16" fill="#d6e7eb"/><path d="M357.76 136.64L359.36 138.25M357.76 138.25L359.36 136.64" stroke="#111" stroke-width="1.1"/><circle cx="363.30" cy="137.44" r="2.16" fill="#d6e7eb"/><path d="M362.50 136.64L364.10 138.25M362.50 138.25L364.10 136.64" stroke="#111" stroke-width="1.1"/><circle cx="368.03" cy="137.44" r="2.16" fill="#d6e7eb"/><path d="M367.23 136.64L368.83 138.25M367.23 138.25L368.83 136.64" stroke="#111" stroke-width="1.1"/><circle cx="372.77" cy="137.44" r="2.16" fill="#d6e7eb"/><path d="M371.97 136.64L373.57 138.25M371.97 138.25L373.57 136.64" stroke="#111" stroke-width="1.1"/><circle cx="377.50" cy="137.44" r="2.16" fill="#d6e7eb"/><path d="M376.70 136.64L378.30 138.25M376.70 138.25L378.30 136.64" stroke="#111" stroke-width="1.1"/><circle cx="382.24" cy="137.44" r="2.16" fill="#d6e7eb"/><path d="M381.44 136.64L383.04 138.25M381.44 138.25L383.04 136.64" stroke="#111" stroke-width="1.1"/><circle cx="386.98" cy="137.44" r="2.16" fill="#d6e7eb"/><path d="M386.18 136.64L387.78 138.25M386.18 138.25L387.78 136.64" stroke="#111" stroke-width="1.1"/><circle cx="391.71" cy="137.44" r="2.16" fill="#d6e7eb"/><path d="M390.91 136.64L392.51 138.25M390.91 138.25L392.51 136.64" stroke="#111" stroke-width="1.1"/><circle cx="396.45" cy="137.44" r="2.16" fill="#d6e7eb"/><path d="M395.65 136.64L397.25 138.25M395.65 138.25L397.25 136.64" stroke="#111" stroke-width="1.1"/><circle cx="401.18" cy="137.44" r="1.96" fill="#c64a5a"/><circle cx="405.92" cy="137.44" r="2.16" fill="#d6e7eb"/><path d="M405.12 136.64L406.72 138.25M405.12 138.25L406.72 136.64" stroke="#111" stroke-width="1.1"/><circle cx="410.66" cy="137.44" r="2.25" fill="#6b0623"/><circle cx="311.20" cy="142.29" r="1.96" fill="#c64a5a"/><circle cx="315.94" cy="142.29" r="2.16" fill="#d6e7eb"/><path d="M315.14 141.49L316.74 143.09M315.14 143.09L316.74 141.49" stroke="#111" stroke-width="1.1"/><circle cx="320.67" cy="142.29" r="2.16" fill="#d6e7eb"/><path d="M319.87 141.49L321.47 143.09M319.87 143.09L321.47 141.49" stroke="#111" stroke-width="1.1"/><circle cx="325.41" cy="142.29" r="2.16" fill="#d6e7eb"/><path d="M324.61 141.49L326.21 143.09M324.61 143.09L326.21 141.49" stroke="#111" stroke-width="1.1"/><circle cx="330.14" cy="142.29" r="2.16" fill="#d6e7eb"/><path d="M329.34 141.49L330.94 143.09M329.34 143.09L330.94 141.49" stroke="#111" stroke-width="1.1"/><circle cx="334.88" cy="142.29" r="2.16" fill="#d6e7eb"/><path d="M334.08 141.49L335.68 143.09M334.08 143.09L335.68 141.49" stroke="#111" stroke-width="1.1"/><circle cx="339.62" cy="142.29" r="2.16" fill="#d6e7eb"/><path d="M338.82 141.49L340.42 143.09M338.82 143.09L340.42 141.49" stroke="#111" stroke-width="1.1"/><circle cx="344.35" cy="142.29" r="2.16" fill="#d6e7eb"/><path d="M343.55 141.49L345.15 143.09M343.55 143.09L345.15 141.49" stroke="#111" stroke-width="1.1"/><circle cx="349.09" cy="142.29" r="1.82" fill="#da7a80"/><circle cx="353.82" cy="142.29" r="1.82" fill="#da7a80"/><circle cx="358.56" cy="142.29" r="2.16" fill="#d6e7eb"/><path d="M357.76 141.49L359.36 143.09M357.76 143.09L359.36 141.49" stroke="#111" stroke-width="1.1"/><circle cx="363.30" cy="142.29" r="1.96" fill="#c64a5a"/><circle cx="368.03" cy="142.29" r="2.16" fill="#d6e7eb"/><path d="M367.23 141.49L368.83 143.09M367.23 143.09L368.83 141.49" stroke="#111" stroke-width="1.1"/><circle cx="372.77" cy="142.29" r="2.16" fill="#d6e7eb"/><path d="M371.97 141.49L373.57 143.09M371.97 143.09L373.57 141.49" stroke="#111" stroke-width="1.1"/><circle cx="377.50" cy="142.29" r="2.16" fill="#d6e7eb"/><path d="M376.70 141.49L378.30 143.09M376.70 143.09L378.30 141.49" stroke="#111" stroke-width="1.1"/><circle cx="382.24" cy="142.29" r="2.16" fill="#d6e7eb"/><path d="M381.44 141.49L383.04 143.09M381.44 143.09L383.04 141.49" stroke="#111" stroke-width="1.1"/><circle cx="386.98" cy="142.29" r="1.96" fill="#c64a5a"/><circle cx="391.71" cy="142.29" r="2.16" fill="#d6e7eb"/><path d="M390.91 141.49L392.51 143.09M390.91 143.09L392.51 141.49" stroke="#111" stroke-width="1.1"/><circle cx="396.45" cy="142.29" r="2.16" fill="#d6e7eb"/><path d="M395.65 141.49L397.25 143.09M395.65 143.09L397.25 141.49" stroke="#111" stroke-width="1.1"/><circle cx="401.18" cy="142.29" r="2.16" fill="#d6e7eb"/><path d="M400.38 141.49L401.98 143.09M400.38 143.09L401.98 141.49" stroke="#111" stroke-width="1.1"/><circle cx="405.92" cy="142.29" r="2.16" fill="#d6e7eb"/><path d="M405.12 141.49L406.72 143.09M405.12 143.09L406.72 141.49" stroke="#111" stroke-width="1.1"/><circle cx="410.66" cy="142.29" r="2.16" fill="#d6e7eb"/><path d="M409.86 141.49L411.46 143.09M409.86 143.09L411.46 141.49" stroke="#111" stroke-width="1.1"/><circle cx="415.39" cy="142.29" r="2.25" fill="#6b0623"/><circle cx="311.20" cy="147.13" r="2.16" fill="#d6e7eb"/><path d="M310.40 146.33L312.00 147.94M310.40 147.94L312.00 146.33" stroke="#111" stroke-width="1.1"/><circle cx="315.94" cy="147.13" r="2.18" fill="#8c1028"/><circle cx="320.67" cy="147.13" r="2.18" fill="#8c1028"/><circle cx="325.41" cy="147.13" r="2.16" fill="#d6e7eb"/><path d="M324.61 146.33L326.21 147.94M324.61 147.94L326.21 146.33" stroke="#111" stroke-width="1.1"/><circle cx="330.14" cy="147.13" r="2.18" fill="#8c1028"/><circle cx="334.88" cy="147.13" r="2.16" fill="#d6e7eb"/><path d="M334.08 146.33L335.68 147.94M334.08 147.94L335.68 146.33" stroke="#111" stroke-width="1.1"/><circle cx="339.62" cy="147.13" r="2.16" fill="#d6e7eb"/><path d="M338.82 146.33L340.42 147.94M338.82 147.94L340.42 146.33" stroke="#111" stroke-width="1.1"/><circle cx="344.35" cy="147.13" r="2.16" fill="#d6e7eb"/><path d="M343.55 146.33L345.15 147.94M343.55 147.94L345.15 146.33" stroke="#111" stroke-width="1.1"/><circle cx="349.09" cy="147.13" r="2.16" fill="#d6e7eb"/><path d="M348.29 146.33L349.89 147.94M348.29 147.94L349.89 146.33" stroke="#111" stroke-width="1.1"/><circle cx="353.82" cy="147.13" r="2.16" fill="#d6e7eb"/><path d="M353.02 146.33L354.62 147.94M353.02 147.94L354.62 146.33" stroke="#111" stroke-width="1.1"/><circle cx="358.56" cy="147.13" r="2.16" fill="#d6e7eb"/><path d="M357.76 146.33L359.36 147.94M357.76 147.94L359.36 146.33" stroke="#111" stroke-width="1.1"/><circle cx="363.30" cy="147.13" r="2.16" fill="#d6e7eb"/><path d="M362.50 146.33L364.10 147.94M362.50 147.94L364.10 146.33" stroke="#111" stroke-width="1.1"/><circle cx="368.03" cy="147.13" r="2.16" fill="#d6e7eb"/><path d="M367.23 146.33L368.83 147.94M367.23 147.94L368.83 146.33" stroke="#111" stroke-width="1.1"/><circle cx="372.77" cy="147.13" r="2.16" fill="#d6e7eb"/><path d="M371.97 146.33L373.57 147.94M371.97 147.94L373.57 146.33" stroke="#111" stroke-width="1.1"/><circle cx="377.50" cy="147.13" r="2.16" fill="#d6e7eb"/><path d="M376.70 146.33L378.30 147.94M376.70 147.94L378.30 146.33" stroke="#111" stroke-width="1.1"/><circle cx="382.24" cy="147.13" r="2.16" fill="#a9cfe4"/><path d="M381.44 146.33L383.04 147.94M381.44 147.94L383.04 146.33" stroke="#111" stroke-width="1.1"/><circle cx="386.98" cy="147.13" r="2.16" fill="#d6e7eb"/><path d="M386.18 146.33L387.78 147.94M386.18 147.94L387.78 146.33" stroke="#111" stroke-width="1.1"/><circle cx="391.71" cy="147.13" r="1.82" fill="#da7a80"/><circle cx="396.45" cy="147.13" r="2.16" fill="#d6e7eb"/><path d="M395.65 146.33L397.25 147.94M395.65 147.94L397.25 146.33" stroke="#111" stroke-width="1.1"/><circle cx="401.18" cy="147.13" r="1.96" fill="#c64a5a"/><circle cx="405.92" cy="147.13" r="2.16" fill="#d6e7eb"/><path d="M405.12 146.33L406.72 147.94M405.12 147.94L406.72 146.33" stroke="#111" stroke-width="1.1"/><circle cx="410.66" cy="147.13" r="2.18" fill="#8c1028"/><circle cx="415.39" cy="147.13" r="2.16" fill="#d6e7eb"/><path d="M414.59 146.33L416.19 147.94M414.59 147.94L416.19 146.33" stroke="#111" stroke-width="1.1"/><circle cx="420.13" cy="147.13" r="2.25" fill="#6b0623"/><circle cx="311.20" cy="151.98" r="1.96" fill="#c64a5a"/><circle cx="315.94" cy="151.98" r="2.16" fill="#d6e7eb"/><path d="M315.14 151.18L316.74 152.78M315.14 152.78L316.74 151.18" stroke="#111" stroke-width="1.1"/><circle cx="320.67" cy="151.98" r="2.16" fill="#d6e7eb"/><path d="M319.87 151.18L321.47 152.78M319.87 152.78L321.47 151.18" stroke="#111" stroke-width="1.1"/><circle cx="325.41" cy="151.98" r="2.16" fill="#d6e7eb"/><path d="M324.61 151.18L326.21 152.78M324.61 152.78L326.21 151.18" stroke="#111" stroke-width="1.1"/><circle cx="330.14" cy="151.98" r="2.16" fill="#d6e7eb"/><path d="M329.34 151.18L330.94 152.78M329.34 152.78L330.94 151.18" stroke="#111" stroke-width="1.1"/><circle cx="334.88" cy="151.98" r="2.16" fill="#d6e7eb"/><path d="M334.08 151.18L335.68 152.78M334.08 152.78L335.68 151.18" stroke="#111" stroke-width="1.1"/><circle cx="339.62" cy="151.98" r="2.11" fill="#ac2238"/><circle cx="344.35" cy="151.98" r="2.16" fill="#d6e7eb"/><path d="M343.55 151.18L345.15 152.78M343.55 152.78L345.15 151.18" stroke="#111" stroke-width="1.1"/><circle cx="349.09" cy="151.98" r="2.11" fill="#ac2238"/><circle cx="353.82" cy="151.98" r="2.16" fill="#d6e7eb"/><path d="M353.02 151.18L354.62 152.78M353.02 152.78L354.62 151.18" stroke="#111" stroke-width="1.1"/><circle cx="358.56" cy="151.98" r="2.16" fill="#d6e7eb"/><path d="M357.76 151.18L359.36 152.78M357.76 152.78L359.36 151.18" stroke="#111" stroke-width="1.1"/><circle cx="363.30" cy="151.98" r="1.96" fill="#c64a5a"/><circle cx="368.03" cy="151.98" r="1.96" fill="#c64a5a"/><circle cx="372.77" cy="151.98" r="1.96" fill="#c64a5a"/><circle cx="377.50" cy="151.98" r="2.16" fill="#d6e7eb"/><path d="M376.70 151.18L378.30 152.78M376.70 152.78L378.30 151.18" stroke="#111" stroke-width="1.1"/><circle cx="382.24" cy="151.98" r="2.16" fill="#d6e7eb"/><path d="M381.44 151.18L383.04 152.78M381.44 152.78L383.04 151.18" stroke="#111" stroke-width="1.1"/><circle cx="386.98" cy="151.98" r="2.16" fill="#d6e7eb"/><path d="M386.18 151.18L387.78 152.78M386.18 152.78L387.78 151.18" stroke="#111" stroke-width="1.1"/><circle cx="391.71" cy="151.98" r="2.16" fill="#d6e7eb"/><path d="M390.91 151.18L392.51 152.78M390.91 152.78L392.51 151.18" stroke="#111" stroke-width="1.1"/><circle cx="396.45" cy="151.98" r="2.16" fill="#d6e7eb"/><path d="M395.65 151.18L397.25 152.78M395.65 152.78L397.25 151.18" stroke="#111" stroke-width="1.1"/><circle cx="401.18" cy="151.98" r="2.16" fill="#d6e7eb"/><path d="M400.38 151.18L401.98 152.78M400.38 152.78L401.98 151.18" stroke="#111" stroke-width="1.1"/><circle cx="405.92" cy="151.98" r="2.16" fill="#d6e7eb"/><path d="M405.12 151.18L406.72 152.78M405.12 152.78L406.72 151.18" stroke="#111" stroke-width="1.1"/><circle cx="410.66" cy="151.98" r="2.16" fill="#d6e7eb"/><path d="M409.86 151.18L411.46 152.78M409.86 152.78L411.46 151.18" stroke="#111" stroke-width="1.1"/><circle cx="415.39" cy="151.98" r="2.16" fill="#d6e7eb"/><path d="M414.59 151.18L416.19 152.78M414.59 152.78L416.19 151.18" stroke="#111" stroke-width="1.1"/><circle cx="420.13" cy="151.98" r="2.16" fill="#d6e7eb"/><path d="M419.33 151.18L420.93 152.78M419.33 152.78L420.93 151.18" stroke="#111" stroke-width="1.1"/><circle cx="424.86" cy="151.98" r="2.25" fill="#6b0623"/><circle cx="311.20" cy="156.82" r="1.96" fill="#c64a5a"/><circle cx="315.94" cy="156.82" r="2.16" fill="#d6e7eb"/><path d="M315.14 156.02L316.74 157.62M315.14 157.62L316.74 156.02" stroke="#111" stroke-width="1.1"/><circle cx="320.67" cy="156.82" r="2.16" fill="#d6e7eb"/><path d="M319.87 156.02L321.47 157.62M319.87 157.62L321.47 156.02" stroke="#111" stroke-width="1.1"/><circle cx="325.41" cy="156.82" r="2.16" fill="#d6e7eb"/><path d="M324.61 156.02L326.21 157.62M324.61 157.62L326.21 156.02" stroke="#111" stroke-width="1.1"/><circle cx="330.14" cy="156.82" r="2.16" fill="#d6e7eb"/><path d="M329.34 156.02L330.94 157.62M329.34 157.62L330.94 156.02" stroke="#111" stroke-width="1.1"/><circle cx="334.88" cy="156.82" r="1.96" fill="#c64a5a"/><circle cx="339.62" cy="156.82" r="2.16" fill="#d6e7eb"/><path d="M338.82 156.02L340.42 157.62M338.82 157.62L340.42 156.02" stroke="#111" stroke-width="1.1"/><circle cx="344.35" cy="156.82" r="2.16" fill="#d6e7eb"/><path d="M343.55 156.02L345.15 157.62M343.55 157.62L345.15 156.02" stroke="#111" stroke-width="1.1"/><circle cx="349.09" cy="156.82" r="2.11" fill="#ac2238"/><circle cx="353.82" cy="156.82" r="2.16" fill="#d6e7eb"/><path d="M353.02 156.02L354.62 157.62M353.02 157.62L354.62 156.02" stroke="#111" stroke-width="1.1"/><circle cx="358.56" cy="156.82" r="1.96" fill="#c64a5a"/><circle cx="363.30" cy="156.82" r="2.11" fill="#ac2238"/><circle cx="368.03" cy="156.82" r="1.82" fill="#da7a80"/><circle cx="372.77" cy="156.82" r="2.16" fill="#d6e7eb"/><path d="M371.97 156.02L373.57 157.62M371.97 157.62L373.57 156.02" stroke="#111" stroke-width="1.1"/><circle cx="377.50" cy="156.82" r="2.16" fill="#d6e7eb"/><path d="M376.70 156.02L378.30 157.62M376.70 157.62L378.30 156.02" stroke="#111" stroke-width="1.1"/><circle cx="382.24" cy="156.82" r="2.16" fill="#d6e7eb"/><path d="M381.44 156.02L383.04 157.62M381.44 157.62L383.04 156.02" stroke="#111" stroke-width="1.1"/><circle cx="386.98" cy="156.82" r="2.16" fill="#d6e7eb"/><path d="M386.18 156.02L387.78 157.62M386.18 157.62L387.78 156.02" stroke="#111" stroke-width="1.1"/><circle cx="391.71" cy="156.82" r="2.16" fill="#d6e7eb"/><path d="M390.91 156.02L392.51 157.62M390.91 157.62L392.51 156.02" stroke="#111" stroke-width="1.1"/><circle cx="396.45" cy="156.82" r="2.16" fill="#d6e7eb"/><path d="M395.65 156.02L397.25 157.62M395.65 157.62L397.25 156.02" stroke="#111" stroke-width="1.1"/><circle cx="401.18" cy="156.82" r="2.16" fill="#d6e7eb"/><path d="M400.38 156.02L401.98 157.62M400.38 157.62L401.98 156.02" stroke="#111" stroke-width="1.1"/><circle cx="405.92" cy="156.82" r="2.16" fill="#d6e7eb"/><path d="M405.12 156.02L406.72 157.62M405.12 157.62L406.72 156.02" stroke="#111" stroke-width="1.1"/><circle cx="410.66" cy="156.82" r="2.16" fill="#d6e7eb"/><path d="M409.86 156.02L411.46 157.62M409.86 157.62L411.46 156.02" stroke="#111" stroke-width="1.1"/><circle cx="415.39" cy="156.82" r="1.82" fill="#da7a80"/><circle cx="420.13" cy="156.82" r="2.16" fill="#d6e7eb"/><path d="M419.33 156.02L420.93 157.62M419.33 157.62L420.93 156.02" stroke="#111" stroke-width="1.1"/><circle cx="424.86" cy="156.82" r="2.16" fill="#d6e7eb"/><path d="M424.06 156.02L425.66 157.62M424.06 157.62L425.66 156.02" stroke="#111" stroke-width="1.1"/><circle cx="429.60" cy="156.82" r="2.25" fill="#6b0623"/><circle cx="311.20" cy="161.67" r="2.16" fill="#d6e7eb"/><path d="M310.40 160.87L312.00 162.47M310.40 162.47L312.00 160.87" stroke="#111" stroke-width="1.1"/><circle cx="315.94" cy="161.67" r="2.16" fill="#d6e7eb"/><path d="M315.14 160.87L316.74 162.47M315.14 162.47L316.74 160.87" stroke="#111" stroke-width="1.1"/><circle cx="320.67" cy="161.67" r="2.16" fill="#d6e7eb"/><path d="M319.87 160.87L321.47 162.47M319.87 162.47L321.47 160.87" stroke="#111" stroke-width="1.1"/><circle cx="325.41" cy="161.67" r="2.16" fill="#d6e7eb"/><path d="M324.61 160.87L326.21 162.47M324.61 162.47L326.21 160.87" stroke="#111" stroke-width="1.1"/><circle cx="330.14" cy="161.67" r="2.16" fill="#d6e7eb"/><path d="M329.34 160.87L330.94 162.47M329.34 162.47L330.94 160.87" stroke="#111" stroke-width="1.1"/><circle cx="334.88" cy="161.67" r="2.16" fill="#d6e7eb"/><path d="M334.08 160.87L335.68 162.47M334.08 162.47L335.68 160.87" stroke="#111" stroke-width="1.1"/><circle cx="339.62" cy="161.67" r="2.16" fill="#d6e7eb"/><path d="M338.82 160.87L340.42 162.47M338.82 162.47L340.42 160.87" stroke="#111" stroke-width="1.1"/><circle cx="344.35" cy="161.67" r="2.16" fill="#d6e7eb"/><path d="M343.55 160.87L345.15 162.47M343.55 162.47L345.15 160.87" stroke="#111" stroke-width="1.1"/><circle cx="349.09" cy="161.67" r="2.16" fill="#d6e7eb"/><path d="M348.29 160.87L349.89 162.47M348.29 162.47L349.89 160.87" stroke="#111" stroke-width="1.1"/><circle cx="353.82" cy="161.67" r="2.11" fill="#ac2238"/><circle cx="358.56" cy="161.67" r="2.16" fill="#d6e7eb"/><path d="M357.76 160.87L359.36 162.47M357.76 162.47L359.36 160.87" stroke="#111" stroke-width="1.1"/><circle cx="363.30" cy="161.67" r="2.16" fill="#d6e7eb"/><path d="M362.50 160.87L364.10 162.47M362.50 162.47L364.10 160.87" stroke="#111" stroke-width="1.1"/><circle cx="368.03" cy="161.67" r="2.16" fill="#d6e7eb"/><path d="M367.23 160.87L368.83 162.47M367.23 162.47L368.83 160.87" stroke="#111" stroke-width="1.1"/><circle cx="372.77" cy="161.67" r="2.16" fill="#d6e7eb"/><path d="M371.97 160.87L373.57 162.47M371.97 162.47L373.57 160.87" stroke="#111" stroke-width="1.1"/><circle cx="377.50" cy="161.67" r="1.92" fill="#4a8fc2"/><circle cx="382.24" cy="161.67" r="2.16" fill="#d6e7eb"/><path d="M381.44 160.87L383.04 162.47M381.44 162.47L383.04 160.87" stroke="#111" stroke-width="1.1"/><circle cx="386.98" cy="161.67" r="1.96" fill="#c64a5a"/><circle cx="391.71" cy="161.67" r="2.16" fill="#d6e7eb"/><path d="M390.91 160.87L392.51 162.47M390.91 162.47L392.51 160.87" stroke="#111" stroke-width="1.1"/><circle cx="396.45" cy="161.67" r="2.16" fill="#d6e7eb"/><path d="M395.65 160.87L397.25 162.47M395.65 162.47L397.25 160.87" stroke="#111" stroke-width="1.1"/><circle cx="401.18" cy="161.67" r="2.16" fill="#d6e7eb"/><path d="M400.38 160.87L401.98 162.47M400.38 162.47L401.98 160.87" stroke="#111" stroke-width="1.1"/><circle cx="405.92" cy="161.67" r="2.16" fill="#d6e7eb"/><path d="M405.12 160.87L406.72 162.47M405.12 162.47L406.72 160.87" stroke="#111" stroke-width="1.1"/><circle cx="410.66" cy="161.67" r="2.16" fill="#d6e7eb"/><path d="M409.86 160.87L411.46 162.47M409.86 162.47L411.46 160.87" stroke="#111" stroke-width="1.1"/><circle cx="415.39" cy="161.67" r="2.16" fill="#d6e7eb"/><path d="M414.59 160.87L416.19 162.47M414.59 162.47L416.19 160.87" stroke="#111" stroke-width="1.1"/><circle cx="420.13" cy="161.67" r="2.16" fill="#d6e7eb"/><path d="M419.33 160.87L420.93 162.47M419.33 162.47L420.93 160.87" stroke="#111" stroke-width="1.1"/><circle cx="424.86" cy="161.67" r="2.16" fill="#d6e7eb"/><path d="M424.06 160.87L425.66 162.47M424.06 162.47L425.66 160.87" stroke="#111" stroke-width="1.1"/><circle cx="429.60" cy="161.67" r="2.16" fill="#d6e7eb"/><path d="M428.80 160.87L430.40 162.47M428.80 162.47L430.40 160.87" stroke="#111" stroke-width="1.1"/><circle cx="434.34" cy="161.67" r="2.25" fill="#6b0623"/><circle cx="311.20" cy="166.51" r="2.16" fill="#d6e7eb"/><path d="M310.40 165.71L312.00 167.31M310.40 167.31L312.00 165.71" stroke="#111" stroke-width="1.1"/><circle cx="315.94" cy="166.51" r="2.16" fill="#d6e7eb"/><path d="M315.14 165.71L316.74 167.31M315.14 167.31L316.74 165.71" stroke="#111" stroke-width="1.1"/><circle cx="320.67" cy="166.51" r="2.16" fill="#d6e7eb"/><path d="M319.87 165.71L321.47 167.31M319.87 167.31L321.47 165.71" stroke="#111" stroke-width="1.1"/><circle cx="325.41" cy="166.51" r="2.16" fill="#d6e7eb"/><path d="M324.61 165.71L326.21 167.31M324.61 167.31L326.21 165.71" stroke="#111" stroke-width="1.1"/><circle cx="330.14" cy="166.51" r="2.16" fill="#d6e7eb"/><path d="M329.34 165.71L330.94 167.31M329.34 167.31L330.94 165.71" stroke="#111" stroke-width="1.1"/><circle cx="334.88" cy="166.51" r="2.16" fill="#d6e7eb"/><path d="M334.08 165.71L335.68 167.31M334.08 167.31L335.68 165.71" stroke="#111" stroke-width="1.1"/><circle cx="339.62" cy="166.51" r="2.16" fill="#d6e7eb"/><path d="M338.82 165.71L340.42 167.31M338.82 167.31L340.42 165.71" stroke="#111" stroke-width="1.1"/><circle cx="344.35" cy="166.51" r="2.16" fill="#d6e7eb"/><path d="M343.55 165.71L345.15 167.31M343.55 167.31L345.15 165.71" stroke="#111" stroke-width="1.1"/><circle cx="349.09" cy="166.51" r="2.16" fill="#d6e7eb"/><path d="M348.29 165.71L349.89 167.31M348.29 167.31L349.89 165.71" stroke="#111" stroke-width="1.1"/><circle cx="353.82" cy="166.51" r="2.18" fill="#8c1028"/><circle cx="358.56" cy="166.51" r="2.16" fill="#d6e7eb"/><path d="M357.76 165.71L359.36 167.31M357.76 167.31L359.36 165.71" stroke="#111" stroke-width="1.1"/><circle cx="363.30" cy="166.51" r="2.16" fill="#d6e7eb"/><path d="M362.50 165.71L364.10 167.31M362.50 167.31L364.10 165.71" stroke="#111" stroke-width="1.1"/><circle cx="368.03" cy="166.51" r="2.16" fill="#d6e7eb"/><path d="M367.23 165.71L368.83 167.31M367.23 167.31L368.83 165.71" stroke="#111" stroke-width="1.1"/><circle cx="372.77" cy="166.51" r="2.16" fill="#d6e7eb"/><path d="M371.97 165.71L373.57 167.31M371.97 167.31L373.57 165.71" stroke="#111" stroke-width="1.1"/><circle cx="377.50" cy="166.51" r="2.16" fill="#a9cfe4"/><path d="M376.70 165.71L378.30 167.31M376.70 167.31L378.30 165.71" stroke="#111" stroke-width="1.1"/><circle cx="382.24" cy="166.51" r="2.16" fill="#d6e7eb"/><path d="M381.44 165.71L383.04 167.31M381.44 167.31L383.04 165.71" stroke="#111" stroke-width="1.1"/><circle cx="386.98" cy="166.51" r="1.96" fill="#c64a5a"/><circle cx="391.71" cy="166.51" r="2.16" fill="#d6e7eb"/><path d="M390.91 165.71L392.51 167.31M390.91 167.31L392.51 165.71" stroke="#111" stroke-width="1.1"/><circle cx="396.45" cy="166.51" r="1.96" fill="#c64a5a"/><circle cx="401.18" cy="166.51" r="2.16" fill="#d6e7eb"/><path d="M400.38 165.71L401.98 167.31M400.38 167.31L401.98 165.71" stroke="#111" stroke-width="1.1"/><circle cx="405.92" cy="166.51" r="1.82" fill="#da7a80"/><circle cx="410.66" cy="166.51" r="2.16" fill="#d6e7eb"/><path d="M409.86 165.71L411.46 167.31M409.86 167.31L411.46 165.71" stroke="#111" stroke-width="1.1"/><circle cx="415.39" cy="166.51" r="1.82" fill="#da7a80"/><circle cx="420.13" cy="166.51" r="2.16" fill="#d6e7eb"/><path d="M419.33 165.71L420.93 167.31M419.33 167.31L420.93 165.71" stroke="#111" stroke-width="1.1"/><circle cx="424.86" cy="166.51" r="2.16" fill="#d6e7eb"/><path d="M424.06 165.71L425.66 167.31M424.06 167.31L425.66 165.71" stroke="#111" stroke-width="1.1"/><circle cx="429.60" cy="166.51" r="2.16" fill="#d6e7eb"/><path d="M428.80 165.71L430.40 167.31M428.80 167.31L430.40 165.71" stroke="#111" stroke-width="1.1"/><circle cx="434.34" cy="166.51" r="2.25" fill="#6b0623"/><circle cx="439.07" cy="166.51" r="2.25" fill="#6b0623"/><circle cx="311.20" cy="171.36" r="1.82" fill="#da7a80"/><circle cx="315.94" cy="171.36" r="2.16" fill="#d6e7eb"/><path d="M315.14 170.56L316.74 172.16M315.14 172.16L316.74 170.56" stroke="#111" stroke-width="1.1"/><circle cx="320.67" cy="171.36" r="1.82" fill="#da7a80"/><circle cx="325.41" cy="171.36" r="2.16" fill="#d6e7eb"/><path d="M324.61 170.56L326.21 172.16M324.61 172.16L326.21 170.56" stroke="#111" stroke-width="1.1"/><circle cx="330.14" cy="171.36" r="2.16" fill="#d6e7eb"/><path d="M329.34 170.56L330.94 172.16M329.34 172.16L330.94 170.56" stroke="#111" stroke-width="1.1"/><circle cx="334.88" cy="171.36" r="1.96" fill="#c64a5a"/><circle cx="339.62" cy="171.36" r="1.96" fill="#c64a5a"/><circle cx="344.35" cy="171.36" r="2.16" fill="#d6e7eb"/><path d="M343.55 170.56L345.15 172.16M343.55 172.16L345.15 170.56" stroke="#111" stroke-width="1.1"/><circle cx="349.09" cy="171.36" r="2.16" fill="#d6e7eb"/><path d="M348.29 170.56L349.89 172.16M348.29 172.16L349.89 170.56" stroke="#111" stroke-width="1.1"/><circle cx="353.82" cy="171.36" r="2.16" fill="#d6e7eb"/><path d="M353.02 170.56L354.62 172.16M353.02 172.16L354.62 170.56" stroke="#111" stroke-width="1.1"/><circle cx="358.56" cy="171.36" r="1.82" fill="#da7a80"/><circle cx="363.30" cy="171.36" r="2.16" fill="#d6e7eb"/><path d="M362.50 170.56L364.10 172.16M362.50 172.16L364.10 170.56" stroke="#111" stroke-width="1.1"/><circle cx="368.03" cy="171.36" r="1.96" fill="#c64a5a"/><circle cx="372.77" cy="171.36" r="1.96" fill="#c64a5a"/><circle cx="377.50" cy="171.36" r="2.16" fill="#d6e7eb"/><path d="M376.70 170.56L378.30 172.16M376.70 172.16L378.30 170.56" stroke="#111" stroke-width="1.1"/><circle cx="382.24" cy="171.36" r="2.16" fill="#d6e7eb"/><path d="M381.44 170.56L383.04 172.16M381.44 172.16L383.04 170.56" stroke="#111" stroke-width="1.1"/><circle cx="386.98" cy="171.36" r="2.16" fill="#d6e7eb"/><path d="M386.18 170.56L387.78 172.16M386.18 172.16L387.78 170.56" stroke="#111" stroke-width="1.1"/><circle cx="391.71" cy="171.36" r="2.16" fill="#d6e7eb"/><path d="M390.91 170.56L392.51 172.16M390.91 172.16L392.51 170.56" stroke="#111" stroke-width="1.1"/><circle cx="396.45" cy="171.36" r="2.16" fill="#d6e7eb"/><path d="M395.65 170.56L397.25 172.16M395.65 172.16L397.25 170.56" stroke="#111" stroke-width="1.1"/><circle cx="401.18" cy="171.36" r="2.16" fill="#d6e7eb"/><path d="M400.38 170.56L401.98 172.16M400.38 172.16L401.98 170.56" stroke="#111" stroke-width="1.1"/><circle cx="405.92" cy="171.36" r="2.16" fill="#d6e7eb"/><path d="M405.12 170.56L406.72 172.16M405.12 172.16L406.72 170.56" stroke="#111" stroke-width="1.1"/><circle cx="410.66" cy="171.36" r="2.16" fill="#d6e7eb"/><path d="M409.86 170.56L411.46 172.16M409.86 172.16L411.46 170.56" stroke="#111" stroke-width="1.1"/><circle cx="415.39" cy="171.36" r="2.16" fill="#d6e7eb"/><path d="M414.59 170.56L416.19 172.16M414.59 172.16L416.19 170.56" stroke="#111" stroke-width="1.1"/><circle cx="420.13" cy="171.36" r="2.16" fill="#d6e7eb"/><path d="M419.33 170.56L420.93 172.16M419.33 172.16L420.93 170.56" stroke="#111" stroke-width="1.1"/><circle cx="424.86" cy="171.36" r="1.82" fill="#da7a80"/><circle cx="429.60" cy="171.36" r="2.16" fill="#d6e7eb"/><path d="M428.80 170.56L430.40 172.16M428.80 172.16L430.40 170.56" stroke="#111" stroke-width="1.1"/><circle cx="434.34" cy="171.36" r="2.16" fill="#d6e7eb"/><path d="M433.54 170.56L435.14 172.16M433.54 172.16L435.14 170.56" stroke="#111" stroke-width="1.1"/><circle cx="439.07" cy="171.36" r="2.16" fill="#d6e7eb"/><path d="M438.27 170.56L439.87 172.16M438.27 172.16L439.87 170.56" stroke="#111" stroke-width="1.1"/><circle cx="443.81" cy="171.36" r="2.25" fill="#6b0623"/><circle cx="311.20" cy="176.20" r="2.16" fill="#d6e7eb"/><path d="M310.40 175.40L312.00 177.00M310.40 177.00L312.00 175.40" stroke="#111" stroke-width="1.1"/><circle cx="315.94" cy="176.20" r="2.18" fill="#8c1028"/><circle cx="320.67" cy="176.20" r="2.18" fill="#8c1028"/><circle cx="325.41" cy="176.20" r="2.16" fill="#d6e7eb"/><path d="M324.61 175.40L326.21 177.00M324.61 177.00L326.21 175.40" stroke="#111" stroke-width="1.1"/><circle cx="330.14" cy="176.20" r="2.18" fill="#8c1028"/><circle cx="334.88" cy="176.20" r="1.82" fill="#da7a80"/><circle cx="339.62" cy="176.20" r="2.16" fill="#d6e7eb"/><path d="M338.82 175.40L340.42 177.00M338.82 177.00L340.42 175.40" stroke="#111" stroke-width="1.1"/><circle cx="344.35" cy="176.20" r="2.16" fill="#d6e7eb"/><path d="M343.55 175.40L345.15 177.00M343.55 177.00L345.15 175.40" stroke="#111" stroke-width="1.1"/><circle cx="349.09" cy="176.20" r="2.16" fill="#d6e7eb"/><path d="M348.29 175.40L349.89 177.00M348.29 177.00L349.89 175.40" stroke="#111" stroke-width="1.1"/><circle cx="353.82" cy="176.20" r="2.16" fill="#d6e7eb"/><path d="M353.02 175.40L354.62 177.00M353.02 177.00L354.62 175.40" stroke="#111" stroke-width="1.1"/><circle cx="358.56" cy="176.20" r="2.16" fill="#d6e7eb"/><path d="M357.76 175.40L359.36 177.00M357.76 177.00L359.36 175.40" stroke="#111" stroke-width="1.1"/><circle cx="363.30" cy="176.20" r="2.16" fill="#d6e7eb"/><path d="M362.50 175.40L364.10 177.00M362.50 177.00L364.10 175.40" stroke="#111" stroke-width="1.1"/><circle cx="368.03" cy="176.20" r="2.16" fill="#d6e7eb"/><path d="M367.23 175.40L368.83 177.00M367.23 177.00L368.83 175.40" stroke="#111" stroke-width="1.1"/><circle cx="372.77" cy="176.20" r="2.16" fill="#d6e7eb"/><path d="M371.97 175.40L373.57 177.00M371.97 177.00L373.57 175.40" stroke="#111" stroke-width="1.1"/><circle cx="377.50" cy="176.20" r="2.16" fill="#d6e7eb"/><path d="M376.70 175.40L378.30 177.00M376.70 177.00L378.30 175.40" stroke="#111" stroke-width="1.1"/><circle cx="382.24" cy="176.20" r="2.16" fill="#d6e7eb"/><path d="M381.44 175.40L383.04 177.00M381.44 177.00L383.04 175.40" stroke="#111" stroke-width="1.1"/><circle cx="386.98" cy="176.20" r="2.16" fill="#d6e7eb"/><path d="M386.18 175.40L387.78 177.00M386.18 177.00L387.78 175.40" stroke="#111" stroke-width="1.1"/><circle cx="391.71" cy="176.20" r="2.16" fill="#d6e7eb"/><path d="M390.91 175.40L392.51 177.00M390.91 177.00L392.51 175.40" stroke="#111" stroke-width="1.1"/><circle cx="396.45" cy="176.20" r="2.16" fill="#d6e7eb"/><path d="M395.65 175.40L397.25 177.00M395.65 177.00L397.25 175.40" stroke="#111" stroke-width="1.1"/><circle cx="401.18" cy="176.20" r="2.16" fill="#d6e7eb"/><path d="M400.38 175.40L401.98 177.00M400.38 177.00L401.98 175.40" stroke="#111" stroke-width="1.1"/><circle cx="405.92" cy="176.20" r="2.16" fill="#d6e7eb"/><path d="M405.12 175.40L406.72 177.00M405.12 177.00L406.72 175.40" stroke="#111" stroke-width="1.1"/><circle cx="410.66" cy="176.20" r="2.18" fill="#8c1028"/><circle cx="415.39" cy="176.20" r="2.16" fill="#d6e7eb"/><path d="M414.59 175.40L416.19 177.00M414.59 177.00L416.19 175.40" stroke="#111" stroke-width="1.1"/><circle cx="420.13" cy="176.20" r="2.11" fill="#ac2238"/><circle cx="424.86" cy="176.20" r="2.16" fill="#d6e7eb"/><path d="M424.06 175.40L425.66 177.00M424.06 177.00L425.66 175.40" stroke="#111" stroke-width="1.1"/><circle cx="429.60" cy="176.20" r="2.16" fill="#d6e7eb"/><path d="M428.80 175.40L430.40 177.00M428.80 177.00L430.40 175.40" stroke="#111" stroke-width="1.1"/><circle cx="434.34" cy="176.20" r="2.16" fill="#d6e7eb"/><path d="M433.54 175.40L435.14 177.00M433.54 177.00L435.14 175.40" stroke="#111" stroke-width="1.1"/><circle cx="439.07" cy="176.20" r="2.16" fill="#d6e7eb"/><path d="M438.27 175.40L439.87 177.00M438.27 177.00L439.87 175.40" stroke="#111" stroke-width="1.1"/><circle cx="443.81" cy="176.20" r="1.96" fill="#c64a5a"/><circle cx="448.54" cy="176.20" r="2.25" fill="#6b0623"/><circle cx="311.20" cy="181.05" r="2.16" fill="#d6e7eb"/><path d="M310.40 180.25L312.00 181.85M310.40 181.85L312.00 180.25" stroke="#111" stroke-width="1.1"/><circle cx="315.94" cy="181.05" r="2.18" fill="#8c1028"/><circle cx="320.67" cy="181.05" r="2.18" fill="#8c1028"/><circle cx="325.41" cy="181.05" r="2.16" fill="#d6e7eb"/><path d="M324.61 180.25L326.21 181.85M324.61 181.85L326.21 180.25" stroke="#111" stroke-width="1.1"/><circle cx="330.14" cy="181.05" r="2.11" fill="#ac2238"/><circle cx="334.88" cy="181.05" r="1.82" fill="#da7a80"/><circle cx="339.62" cy="181.05" r="2.16" fill="#d6e7eb"/><path d="M338.82 180.25L340.42 181.85M338.82 181.85L340.42 180.25" stroke="#111" stroke-width="1.1"/><circle cx="344.35" cy="181.05" r="2.16" fill="#d6e7eb"/><path d="M343.55 180.25L345.15 181.85M343.55 181.85L345.15 180.25" stroke="#111" stroke-width="1.1"/><circle cx="349.09" cy="181.05" r="2.16" fill="#d6e7eb"/><path d="M348.29 180.25L349.89 181.85M348.29 181.85L349.89 180.25" stroke="#111" stroke-width="1.1"/><circle cx="353.82" cy="181.05" r="2.16" fill="#d6e7eb"/><path d="M353.02 180.25L354.62 181.85M353.02 181.85L354.62 180.25" stroke="#111" stroke-width="1.1"/><circle cx="358.56" cy="181.05" r="2.16" fill="#d6e7eb"/><path d="M357.76 180.25L359.36 181.85M357.76 181.85L359.36 180.25" stroke="#111" stroke-width="1.1"/><circle cx="363.30" cy="181.05" r="2.16" fill="#d6e7eb"/><path d="M362.50 180.25L364.10 181.85M362.50 181.85L364.10 180.25" stroke="#111" stroke-width="1.1"/><circle cx="368.03" cy="181.05" r="2.16" fill="#d6e7eb"/><path d="M367.23 180.25L368.83 181.85M367.23 181.85L368.83 180.25" stroke="#111" stroke-width="1.1"/><circle cx="372.77" cy="181.05" r="2.16" fill="#d6e7eb"/><path d="M371.97 180.25L373.57 181.85M371.97 181.85L373.57 180.25" stroke="#111" stroke-width="1.1"/><circle cx="377.50" cy="181.05" r="2.16" fill="#d6e7eb"/><path d="M376.70 180.25L378.30 181.85M376.70 181.85L378.30 180.25" stroke="#111" stroke-width="1.1"/><circle cx="382.24" cy="181.05" r="2.16" fill="#d6e7eb"/><path d="M381.44 180.25L383.04 181.85M381.44 181.85L383.04 180.25" stroke="#111" stroke-width="1.1"/><circle cx="386.98" cy="181.05" r="2.16" fill="#d6e7eb"/><path d="M386.18 180.25L387.78 181.85M386.18 181.85L387.78 180.25" stroke="#111" stroke-width="1.1"/><circle cx="391.71" cy="181.05" r="1.82" fill="#da7a80"/><circle cx="396.45" cy="181.05" r="2.16" fill="#d6e7eb"/><path d="M395.65 180.25L397.25 181.85M395.65 181.85L397.25 180.25" stroke="#111" stroke-width="1.1"/><circle cx="401.18" cy="181.05" r="1.82" fill="#da7a80"/><circle cx="405.92" cy="181.05" r="2.16" fill="#d6e7eb"/><path d="M405.12 180.25L406.72 181.85M405.12 181.85L406.72 180.25" stroke="#111" stroke-width="1.1"/><circle cx="410.66" cy="181.05" r="2.18" fill="#8c1028"/><circle cx="415.39" cy="181.05" r="2.16" fill="#d6e7eb"/><path d="M414.59 180.25L416.19 181.85M414.59 181.85L416.19 180.25" stroke="#111" stroke-width="1.1"/><circle cx="420.13" cy="181.05" r="2.18" fill="#8c1028"/><circle cx="424.86" cy="181.05" r="2.16" fill="#d6e7eb"/><path d="M424.06 180.25L425.66 181.85M424.06 181.85L425.66 180.25" stroke="#111" stroke-width="1.1"/><circle cx="429.60" cy="181.05" r="2.16" fill="#d6e7eb"/><path d="M428.80 180.25L430.40 181.85M428.80 181.85L430.40 180.25" stroke="#111" stroke-width="1.1"/><circle cx="434.34" cy="181.05" r="2.16" fill="#d6e7eb"/><path d="M433.54 180.25L435.14 181.85M433.54 181.85L435.14 180.25" stroke="#111" stroke-width="1.1"/><circle cx="439.07" cy="181.05" r="2.16" fill="#d6e7eb"/><path d="M438.27 180.25L439.87 181.85M438.27 181.85L439.87 180.25" stroke="#111" stroke-width="1.1"/><circle cx="443.81" cy="181.05" r="1.82" fill="#da7a80"/><circle cx="448.54" cy="181.05" r="2.18" fill="#8c1028"/><circle cx="453.28" cy="181.05" r="2.25" fill="#6b0623"/><circle cx="311.20" cy="185.89" r="2.16" fill="#d6e7eb"/><path d="M310.40 185.09L312.00 186.69M310.40 186.69L312.00 185.09" stroke="#111" stroke-width="1.1"/><circle cx="315.94" cy="185.89" r="2.18" fill="#8c1028"/><circle cx="320.67" cy="185.89" r="2.18" fill="#8c1028"/><circle cx="325.41" cy="185.89" r="2.16" fill="#d6e7eb"/><path d="M324.61 185.09L326.21 186.69M324.61 186.69L326.21 185.09" stroke="#111" stroke-width="1.1"/><circle cx="330.14" cy="185.89" r="2.18" fill="#8c1028"/><circle cx="334.88" cy="185.89" r="2.16" fill="#d6e7eb"/><path d="M334.08 185.09L335.68 186.69M334.08 186.69L335.68 185.09" stroke="#111" stroke-width="1.1"/><circle cx="339.62" cy="185.89" r="2.16" fill="#d6e7eb"/><path d="M338.82 185.09L340.42 186.69M338.82 186.69L340.42 185.09" stroke="#111" stroke-width="1.1"/><circle cx="344.35" cy="185.89" r="2.16" fill="#d6e7eb"/><path d="M343.55 185.09L345.15 186.69M343.55 186.69L345.15 185.09" stroke="#111" stroke-width="1.1"/><circle cx="349.09" cy="185.89" r="2.16" fill="#d6e7eb"/><path d="M348.29 185.09L349.89 186.69M348.29 186.69L349.89 185.09" stroke="#111" stroke-width="1.1"/><circle cx="353.82" cy="185.89" r="2.16" fill="#d6e7eb"/><path d="M353.02 185.09L354.62 186.69M353.02 186.69L354.62 185.09" stroke="#111" stroke-width="1.1"/><circle cx="358.56" cy="185.89" r="2.16" fill="#d6e7eb"/><path d="M357.76 185.09L359.36 186.69M357.76 186.69L359.36 185.09" stroke="#111" stroke-width="1.1"/><circle cx="363.30" cy="185.89" r="2.16" fill="#d6e7eb"/><path d="M362.50 185.09L364.10 186.69M362.50 186.69L364.10 185.09" stroke="#111" stroke-width="1.1"/><circle cx="368.03" cy="185.89" r="2.16" fill="#d6e7eb"/><path d="M367.23 185.09L368.83 186.69M367.23 186.69L368.83 185.09" stroke="#111" stroke-width="1.1"/><circle cx="372.77" cy="185.89" r="2.16" fill="#d6e7eb"/><path d="M371.97 185.09L373.57 186.69M371.97 186.69L373.57 185.09" stroke="#111" stroke-width="1.1"/><circle cx="377.50" cy="185.89" r="2.16" fill="#d6e7eb"/><path d="M376.70 185.09L378.30 186.69M376.70 186.69L378.30 185.09" stroke="#111" stroke-width="1.1"/><circle cx="382.24" cy="185.89" r="2.16" fill="#a9cfe4"/><path d="M381.44 185.09L383.04 186.69M381.44 186.69L383.04 185.09" stroke="#111" stroke-width="1.1"/><circle cx="386.98" cy="185.89" r="2.16" fill="#d6e7eb"/><path d="M386.18 185.09L387.78 186.69M386.18 186.69L387.78 185.09" stroke="#111" stroke-width="1.1"/><circle cx="391.71" cy="185.89" r="2.16" fill="#d6e7eb"/><path d="M390.91 185.09L392.51 186.69M390.91 186.69L392.51 185.09" stroke="#111" stroke-width="1.1"/><circle cx="396.45" cy="185.89" r="2.16" fill="#d6e7eb"/><path d="M395.65 185.09L397.25 186.69M395.65 186.69L397.25 185.09" stroke="#111" stroke-width="1.1"/><circle cx="401.18" cy="185.89" r="1.82" fill="#da7a80"/><circle cx="405.92" cy="185.89" r="2.16" fill="#d6e7eb"/><path d="M405.12 185.09L406.72 186.69M405.12 186.69L406.72 185.09" stroke="#111" stroke-width="1.1"/><circle cx="410.66" cy="185.89" r="2.18" fill="#8c1028"/><circle cx="415.39" cy="185.89" r="2.16" fill="#d6e7eb"/><path d="M414.59 185.09L416.19 186.69M414.59 186.69L416.19 185.09" stroke="#111" stroke-width="1.1"/><circle cx="420.13" cy="185.89" r="2.18" fill="#8c1028"/><circle cx="424.86" cy="185.89" r="2.16" fill="#d6e7eb"/><path d="M424.06 185.09L425.66 186.69M424.06 186.69L425.66 185.09" stroke="#111" stroke-width="1.1"/><circle cx="429.60" cy="185.89" r="2.16" fill="#d6e7eb"/><path d="M428.80 185.09L430.40 186.69M428.80 186.69L430.40 185.09" stroke="#111" stroke-width="1.1"/><circle cx="434.34" cy="185.89" r="2.16" fill="#d6e7eb"/><path d="M433.54 185.09L435.14 186.69M433.54 186.69L435.14 185.09" stroke="#111" stroke-width="1.1"/><circle cx="439.07" cy="185.89" r="2.16" fill="#d6e7eb"/><path d="M438.27 185.09L439.87 186.69M438.27 186.69L439.87 185.09" stroke="#111" stroke-width="1.1"/><circle cx="443.81" cy="185.89" r="2.16" fill="#d6e7eb"/><path d="M443.01 185.09L444.61 186.69M443.01 186.69L444.61 185.09" stroke="#111" stroke-width="1.1"/><circle cx="448.54" cy="185.89" r="2.18" fill="#8c1028"/><circle cx="453.28" cy="185.89" r="2.18" fill="#8c1028"/><circle cx="458.02" cy="185.89" r="2.25" fill="#6b0623"/><circle cx="311.20" cy="190.74" r="2.16" fill="#d6e7eb"/><path d="M310.40 189.94L312.00 191.54M310.40 191.54L312.00 189.94" stroke="#111" stroke-width="1.1"/><circle cx="315.94" cy="190.74" r="2.18" fill="#8c1028"/><circle cx="320.67" cy="190.74" r="2.18" fill="#8c1028"/><circle cx="325.41" cy="190.74" r="2.16" fill="#d6e7eb"/><path d="M324.61 189.94L326.21 191.54M324.61 191.54L326.21 189.94" stroke="#111" stroke-width="1.1"/><circle cx="330.14" cy="190.74" r="2.18" fill="#8c1028"/><circle cx="334.88" cy="190.74" r="2.16" fill="#d6e7eb"/><path d="M334.08 189.94L335.68 191.54M334.08 191.54L335.68 189.94" stroke="#111" stroke-width="1.1"/><circle cx="339.62" cy="190.74" r="2.16" fill="#d6e7eb"/><path d="M338.82 189.94L340.42 191.54M338.82 191.54L340.42 189.94" stroke="#111" stroke-width="1.1"/><circle cx="344.35" cy="190.74" r="2.16" fill="#d6e7eb"/><path d="M343.55 189.94L345.15 191.54M343.55 191.54L345.15 189.94" stroke="#111" stroke-width="1.1"/><circle cx="349.09" cy="190.74" r="2.16" fill="#d6e7eb"/><path d="M348.29 189.94L349.89 191.54M348.29 191.54L349.89 189.94" stroke="#111" stroke-width="1.1"/><circle cx="353.82" cy="190.74" r="2.16" fill="#d6e7eb"/><path d="M353.02 189.94L354.62 191.54M353.02 191.54L354.62 189.94" stroke="#111" stroke-width="1.1"/><circle cx="358.56" cy="190.74" r="2.16" fill="#d6e7eb"/><path d="M357.76 189.94L359.36 191.54M357.76 191.54L359.36 189.94" stroke="#111" stroke-width="1.1"/><circle cx="363.30" cy="190.74" r="2.16" fill="#d6e7eb"/><path d="M362.50 189.94L364.10 191.54M362.50 191.54L364.10 189.94" stroke="#111" stroke-width="1.1"/><circle cx="368.03" cy="190.74" r="2.16" fill="#d6e7eb"/><path d="M367.23 189.94L368.83 191.54M367.23 191.54L368.83 189.94" stroke="#111" stroke-width="1.1"/><circle cx="372.77" cy="190.74" r="2.16" fill="#d6e7eb"/><path d="M371.97 189.94L373.57 191.54M371.97 191.54L373.57 189.94" stroke="#111" stroke-width="1.1"/><circle cx="377.50" cy="190.74" r="2.16" fill="#d6e7eb"/><path d="M376.70 189.94L378.30 191.54M376.70 191.54L378.30 189.94" stroke="#111" stroke-width="1.1"/><circle cx="382.24" cy="190.74" r="2.16" fill="#d6e7eb"/><path d="M381.44 189.94L383.04 191.54M381.44 191.54L383.04 189.94" stroke="#111" stroke-width="1.1"/><circle cx="386.98" cy="190.74" r="1.82" fill="#da7a80"/><circle cx="391.71" cy="190.74" r="1.96" fill="#c64a5a"/><circle cx="396.45" cy="190.74" r="2.16" fill="#d6e7eb"/><path d="M395.65 189.94L397.25 191.54M395.65 191.54L397.25 189.94" stroke="#111" stroke-width="1.1"/><circle cx="401.18" cy="190.74" r="2.16" fill="#d6e7eb"/><path d="M400.38 189.94L401.98 191.54M400.38 191.54L401.98 189.94" stroke="#111" stroke-width="1.1"/><circle cx="405.92" cy="190.74" r="2.16" fill="#d6e7eb"/><path d="M405.12 189.94L406.72 191.54M405.12 191.54L406.72 189.94" stroke="#111" stroke-width="1.1"/><circle cx="410.66" cy="190.74" r="2.18" fill="#8c1028"/><circle cx="415.39" cy="190.74" r="2.16" fill="#d6e7eb"/><path d="M414.59 189.94L416.19 191.54M414.59 191.54L416.19 189.94" stroke="#111" stroke-width="1.1"/><circle cx="420.13" cy="190.74" r="2.18" fill="#8c1028"/><circle cx="424.86" cy="190.74" r="2.16" fill="#d6e7eb"/><path d="M424.06 189.94L425.66 191.54M424.06 191.54L425.66 189.94" stroke="#111" stroke-width="1.1"/><circle cx="429.60" cy="190.74" r="2.16" fill="#d6e7eb"/><path d="M428.80 189.94L430.40 191.54M428.80 191.54L430.40 189.94" stroke="#111" stroke-width="1.1"/><circle cx="434.34" cy="190.74" r="2.16" fill="#d6e7eb"/><path d="M433.54 189.94L435.14 191.54M433.54 191.54L435.14 189.94" stroke="#111" stroke-width="1.1"/><circle cx="439.07" cy="190.74" r="2.16" fill="#d6e7eb"/><path d="M438.27 189.94L439.87 191.54M438.27 191.54L439.87 189.94" stroke="#111" stroke-width="1.1"/><circle cx="443.81" cy="190.74" r="2.16" fill="#d6e7eb"/><path d="M443.01 189.94L444.61 191.54M443.01 191.54L444.61 189.94" stroke="#111" stroke-width="1.1"/><circle cx="448.54" cy="190.74" r="2.18" fill="#8c1028"/><circle cx="453.28" cy="190.74" r="2.18" fill="#8c1028"/><circle cx="458.02" cy="190.74" r="2.18" fill="#8c1028"/><circle cx="462.75" cy="190.74" r="2.25" fill="#6b0623"/><circle cx="311.20" cy="195.58" r="2.16" fill="#d6e7eb"/><path d="M310.40 194.78L312.00 196.38M310.40 196.38L312.00 194.78" stroke="#111" stroke-width="1.1"/><circle cx="315.94" cy="195.58" r="2.18" fill="#8c1028"/><circle cx="320.67" cy="195.58" r="2.18" fill="#8c1028"/><circle cx="325.41" cy="195.58" r="2.16" fill="#d6e7eb"/><path d="M324.61 194.78L326.21 196.38M324.61 196.38L326.21 194.78" stroke="#111" stroke-width="1.1"/><circle cx="330.14" cy="195.58" r="2.18" fill="#8c1028"/><circle cx="334.88" cy="195.58" r="1.82" fill="#da7a80"/><circle cx="339.62" cy="195.58" r="2.16" fill="#d6e7eb"/><path d="M338.82 194.78L340.42 196.38M338.82 196.38L340.42 194.78" stroke="#111" stroke-width="1.1"/><circle cx="344.35" cy="195.58" r="2.16" fill="#d6e7eb"/><path d="M343.55 194.78L345.15 196.38M343.55 196.38L345.15 194.78" stroke="#111" stroke-width="1.1"/><circle cx="349.09" cy="195.58" r="2.16" fill="#d6e7eb"/><path d="M348.29 194.78L349.89 196.38M348.29 196.38L349.89 194.78" stroke="#111" stroke-width="1.1"/><circle cx="353.82" cy="195.58" r="2.16" fill="#d6e7eb"/><path d="M353.02 194.78L354.62 196.38M353.02 196.38L354.62 194.78" stroke="#111" stroke-width="1.1"/><circle cx="358.56" cy="195.58" r="1.82" fill="#da7a80"/><circle cx="363.30" cy="195.58" r="2.16" fill="#d6e7eb"/><path d="M362.50 194.78L364.10 196.38M362.50 196.38L364.10 194.78" stroke="#111" stroke-width="1.1"/><circle cx="368.03" cy="195.58" r="2.16" fill="#d6e7eb"/><path d="M367.23 194.78L368.83 196.38M367.23 196.38L368.83 194.78" stroke="#111" stroke-width="1.1"/><circle cx="372.77" cy="195.58" r="2.16" fill="#d6e7eb"/><path d="M371.97 194.78L373.57 196.38M371.97 196.38L373.57 194.78" stroke="#111" stroke-width="1.1"/><circle cx="377.50" cy="195.58" r="2.16" fill="#d6e7eb"/><path d="M376.70 194.78L378.30 196.38M376.70 196.38L378.30 194.78" stroke="#111" stroke-width="1.1"/><circle cx="382.24" cy="195.58" r="2.16" fill="#d6e7eb"/><path d="M381.44 194.78L383.04 196.38M381.44 196.38L383.04 194.78" stroke="#111" stroke-width="1.1"/><circle cx="386.98" cy="195.58" r="2.16" fill="#d6e7eb"/><path d="M386.18 194.78L387.78 196.38M386.18 196.38L387.78 194.78" stroke="#111" stroke-width="1.1"/><circle cx="391.71" cy="195.58" r="2.16" fill="#d6e7eb"/><path d="M390.91 194.78L392.51 196.38M390.91 196.38L392.51 194.78" stroke="#111" stroke-width="1.1"/><circle cx="396.45" cy="195.58" r="2.16" fill="#d6e7eb"/><path d="M395.65 194.78L397.25 196.38M395.65 196.38L397.25 194.78" stroke="#111" stroke-width="1.1"/><circle cx="401.18" cy="195.58" r="2.16" fill="#d6e7eb"/><path d="M400.38 194.78L401.98 196.38M400.38 196.38L401.98 194.78" stroke="#111" stroke-width="1.1"/><circle cx="405.92" cy="195.58" r="2.16" fill="#d6e7eb"/><path d="M405.12 194.78L406.72 196.38M405.12 196.38L406.72 194.78" stroke="#111" stroke-width="1.1"/><circle cx="410.66" cy="195.58" r="2.18" fill="#8c1028"/><circle cx="415.39" cy="195.58" r="2.16" fill="#d6e7eb"/><path d="M414.59 194.78L416.19 196.38M414.59 196.38L416.19 194.78" stroke="#111" stroke-width="1.1"/><circle cx="420.13" cy="195.58" r="2.11" fill="#ac2238"/><circle cx="424.86" cy="195.58" r="2.16" fill="#d6e7eb"/><path d="M424.06 194.78L425.66 196.38M424.06 196.38L425.66 194.78" stroke="#111" stroke-width="1.1"/><circle cx="429.60" cy="195.58" r="2.16" fill="#d6e7eb"/><path d="M428.80 194.78L430.40 196.38M428.80 196.38L430.40 194.78" stroke="#111" stroke-width="1.1"/><circle cx="434.34" cy="195.58" r="2.16" fill="#d6e7eb"/><path d="M433.54 194.78L435.14 196.38M433.54 196.38L435.14 194.78" stroke="#111" stroke-width="1.1"/><circle cx="439.07" cy="195.58" r="2.16" fill="#d6e7eb"/><path d="M438.27 194.78L439.87 196.38M438.27 196.38L439.87 194.78" stroke="#111" stroke-width="1.1"/><circle cx="443.81" cy="195.58" r="1.96" fill="#c64a5a"/><circle cx="448.54" cy="195.58" r="2.18" fill="#8c1028"/><circle cx="453.28" cy="195.58" r="2.18" fill="#8c1028"/><circle cx="458.02" cy="195.58" r="2.18" fill="#8c1028"/><circle cx="462.75" cy="195.58" r="2.18" fill="#8c1028"/><circle cx="467.49" cy="195.58" r="2.25" fill="#6b0623"/><circle cx="311.20" cy="200.43" r="2.16" fill="#d6e7eb"/><path d="M310.40 199.63L312.00 201.23M310.40 201.23L312.00 199.63" stroke="#111" stroke-width="1.1"/><circle cx="315.94" cy="200.43" r="2.18" fill="#8c1028"/><circle cx="320.67" cy="200.43" r="2.18" fill="#8c1028"/><circle cx="325.41" cy="200.43" r="2.16" fill="#d6e7eb"/><path d="M324.61 199.63L326.21 201.23M324.61 201.23L326.21 199.63" stroke="#111" stroke-width="1.1"/><circle cx="330.14" cy="200.43" r="2.18" fill="#8c1028"/><circle cx="334.88" cy="200.43" r="1.96" fill="#c64a5a"/><circle cx="339.62" cy="200.43" r="2.16" fill="#d6e7eb"/><path d="M338.82 199.63L340.42 201.23M338.82 201.23L340.42 199.63" stroke="#111" stroke-width="1.1"/><circle cx="344.35" cy="200.43" r="2.16" fill="#d6e7eb"/><path d="M343.55 199.63L345.15 201.23M343.55 201.23L345.15 199.63" stroke="#111" stroke-width="1.1"/><circle cx="349.09" cy="200.43" r="2.16" fill="#d6e7eb"/><path d="M348.29 199.63L349.89 201.23M348.29 201.23L349.89 199.63" stroke="#111" stroke-width="1.1"/><circle cx="353.82" cy="200.43" r="2.16" fill="#d6e7eb"/><path d="M353.02 199.63L354.62 201.23M353.02 201.23L354.62 199.63" stroke="#111" stroke-width="1.1"/><circle cx="358.56" cy="200.43" r="1.82" fill="#da7a80"/><circle cx="363.30" cy="200.43" r="2.16" fill="#d6e7eb"/><path d="M362.50 199.63L364.10 201.23M362.50 201.23L364.10 199.63" stroke="#111" stroke-width="1.1"/><circle cx="368.03" cy="200.43" r="2.16" fill="#d6e7eb"/><path d="M367.23 199.63L368.83 201.23M367.23 201.23L368.83 199.63" stroke="#111" stroke-width="1.1"/><circle cx="372.77" cy="200.43" r="2.16" fill="#d6e7eb"/><path d="M371.97 199.63L373.57 201.23M371.97 201.23L373.57 199.63" stroke="#111" stroke-width="1.1"/><circle cx="377.50" cy="200.43" r="2.16" fill="#d6e7eb"/><path d="M376.70 199.63L378.30 201.23M376.70 201.23L378.30 199.63" stroke="#111" stroke-width="1.1"/><circle cx="382.24" cy="200.43" r="2.16" fill="#d6e7eb"/><path d="M381.44 199.63L383.04 201.23M381.44 201.23L383.04 199.63" stroke="#111" stroke-width="1.1"/><circle cx="386.98" cy="200.43" r="2.16" fill="#d6e7eb"/><path d="M386.18 199.63L387.78 201.23M386.18 201.23L387.78 199.63" stroke="#111" stroke-width="1.1"/><circle cx="391.71" cy="200.43" r="2.16" fill="#d6e7eb"/><path d="M390.91 199.63L392.51 201.23M390.91 201.23L392.51 199.63" stroke="#111" stroke-width="1.1"/><circle cx="396.45" cy="200.43" r="2.16" fill="#d6e7eb"/><path d="M395.65 199.63L397.25 201.23M395.65 201.23L397.25 199.63" stroke="#111" stroke-width="1.1"/><circle cx="401.18" cy="200.43" r="2.16" fill="#d6e7eb"/><path d="M400.38 199.63L401.98 201.23M400.38 201.23L401.98 199.63" stroke="#111" stroke-width="1.1"/><circle cx="405.92" cy="200.43" r="2.16" fill="#d6e7eb"/><path d="M405.12 199.63L406.72 201.23M405.12 201.23L406.72 199.63" stroke="#111" stroke-width="1.1"/><circle cx="410.66" cy="200.43" r="2.11" fill="#ac2238"/><circle cx="415.39" cy="200.43" r="2.16" fill="#d6e7eb"/><path d="M414.59 199.63L416.19 201.23M414.59 201.23L416.19 199.63" stroke="#111" stroke-width="1.1"/><circle cx="420.13" cy="200.43" r="1.96" fill="#c64a5a"/><circle cx="424.86" cy="200.43" r="2.16" fill="#d6e7eb"/><path d="M424.06 199.63L425.66 201.23M424.06 201.23L425.66 199.63" stroke="#111" stroke-width="1.1"/><circle cx="429.60" cy="200.43" r="2.16" fill="#d6e7eb"/><path d="M428.80 199.63L430.40 201.23M428.80 201.23L430.40 199.63" stroke="#111" stroke-width="1.1"/><circle cx="434.34" cy="200.43" r="2.16" fill="#d6e7eb"/><path d="M433.54 199.63L435.14 201.23M433.54 201.23L435.14 199.63" stroke="#111" stroke-width="1.1"/><circle cx="439.07" cy="200.43" r="2.16" fill="#d6e7eb"/><path d="M438.27 199.63L439.87 201.23M438.27 201.23L439.87 199.63" stroke="#111" stroke-width="1.1"/><circle cx="443.81" cy="200.43" r="1.96" fill="#c64a5a"/><circle cx="448.54" cy="200.43" r="2.18" fill="#8c1028"/><circle cx="453.28" cy="200.43" r="2.11" fill="#ac2238"/><circle cx="458.02" cy="200.43" r="2.18" fill="#8c1028"/><circle cx="462.75" cy="200.43" r="2.18" fill="#8c1028"/><circle cx="467.49" cy="200.43" r="2.18" fill="#8c1028"/><circle cx="472.22" cy="200.43" r="2.25" fill="#6b0623"/><circle cx="311.20" cy="205.27" r="2.16" fill="#d6e7eb"/><path d="M310.40 204.47L312.00 206.07M310.40 206.07L312.00 204.47" stroke="#111" stroke-width="1.1"/><circle cx="315.94" cy="205.27" r="2.16" fill="#d6e7eb"/><path d="M315.14 204.47L316.74 206.07M315.14 206.07L316.74 204.47" stroke="#111" stroke-width="1.1"/><circle cx="320.67" cy="205.27" r="2.16" fill="#d6e7eb"/><path d="M319.87 204.47L321.47 206.07M319.87 206.07L321.47 204.47" stroke="#111" stroke-width="1.1"/><circle cx="325.41" cy="205.27" r="2.16" fill="#d6e7eb"/><path d="M324.61 204.47L326.21 206.07M324.61 206.07L326.21 204.47" stroke="#111" stroke-width="1.1"/><circle cx="330.14" cy="205.27" r="2.16" fill="#d6e7eb"/><path d="M329.34 204.47L330.94 206.07M329.34 206.07L330.94 204.47" stroke="#111" stroke-width="1.1"/><circle cx="334.88" cy="205.27" r="2.16" fill="#d6e7eb"/><path d="M334.08 204.47L335.68 206.07M334.08 206.07L335.68 204.47" stroke="#111" stroke-width="1.1"/><circle cx="339.62" cy="205.27" r="2.16" fill="#d6e7eb"/><path d="M338.82 204.47L340.42 206.07M338.82 206.07L340.42 204.47" stroke="#111" stroke-width="1.1"/><circle cx="344.35" cy="205.27" r="2.16" fill="#d6e7eb"/><path d="M343.55 204.47L345.15 206.07M343.55 206.07L345.15 204.47" stroke="#111" stroke-width="1.1"/><circle cx="349.09" cy="205.27" r="2.16" fill="#d6e7eb"/><path d="M348.29 204.47L349.89 206.07M348.29 206.07L349.89 204.47" stroke="#111" stroke-width="1.1"/><circle cx="353.82" cy="205.27" r="2.16" fill="#d6e7eb"/><path d="M353.02 204.47L354.62 206.07M353.02 206.07L354.62 204.47" stroke="#111" stroke-width="1.1"/><circle cx="358.56" cy="205.27" r="2.16" fill="#d6e7eb"/><path d="M357.76 204.47L359.36 206.07M357.76 206.07L359.36 204.47" stroke="#111" stroke-width="1.1"/><circle cx="363.30" cy="205.27" r="2.16" fill="#d6e7eb"/><path d="M362.50 204.47L364.10 206.07M362.50 206.07L364.10 204.47" stroke="#111" stroke-width="1.1"/><circle cx="368.03" cy="205.27" r="2.16" fill="#d6e7eb"/><path d="M367.23 204.47L368.83 206.07M367.23 206.07L368.83 204.47" stroke="#111" stroke-width="1.1"/><circle cx="372.77" cy="205.27" r="2.16" fill="#d6e7eb"/><path d="M371.97 204.47L373.57 206.07M371.97 206.07L373.57 204.47" stroke="#111" stroke-width="1.1"/><circle cx="377.50" cy="205.27" r="2.16" fill="#d6e7eb"/><path d="M376.70 204.47L378.30 206.07M376.70 206.07L378.30 204.47" stroke="#111" stroke-width="1.1"/><circle cx="382.24" cy="205.27" r="2.16" fill="#d6e7eb"/><path d="M381.44 204.47L383.04 206.07M381.44 206.07L383.04 204.47" stroke="#111" stroke-width="1.1"/><circle cx="386.98" cy="205.27" r="2.16" fill="#d6e7eb"/><path d="M386.18 204.47L387.78 206.07M386.18 206.07L387.78 204.47" stroke="#111" stroke-width="1.1"/><circle cx="391.71" cy="205.27" r="2.16" fill="#d6e7eb"/><path d="M390.91 204.47L392.51 206.07M390.91 206.07L392.51 204.47" stroke="#111" stroke-width="1.1"/><circle cx="396.45" cy="205.27" r="2.16" fill="#d6e7eb"/><path d="M395.65 204.47L397.25 206.07M395.65 206.07L397.25 204.47" stroke="#111" stroke-width="1.1"/><circle cx="401.18" cy="205.27" r="2.16" fill="#d6e7eb"/><path d="M400.38 204.47L401.98 206.07M400.38 206.07L401.98 204.47" stroke="#111" stroke-width="1.1"/><circle cx="405.92" cy="205.27" r="2.16" fill="#d6e7eb"/><path d="M405.12 204.47L406.72 206.07M405.12 206.07L406.72 204.47" stroke="#111" stroke-width="1.1"/><circle cx="410.66" cy="205.27" r="2.16" fill="#d6e7eb"/><path d="M409.86 204.47L411.46 206.07M409.86 206.07L411.46 204.47" stroke="#111" stroke-width="1.1"/><circle cx="415.39" cy="205.27" r="2.16" fill="#d6e7eb"/><path d="M414.59 204.47L416.19 206.07M414.59 206.07L416.19 204.47" stroke="#111" stroke-width="1.1"/><circle cx="420.13" cy="205.27" r="2.16" fill="#d6e7eb"/><path d="M419.33 204.47L420.93 206.07M419.33 206.07L420.93 204.47" stroke="#111" stroke-width="1.1"/><circle cx="424.86" cy="205.27" r="2.16" fill="#d6e7eb"/><path d="M424.06 204.47L425.66 206.07M424.06 206.07L425.66 204.47" stroke="#111" stroke-width="1.1"/><circle cx="429.60" cy="205.27" r="2.16" fill="#d6e7eb"/><path d="M428.80 204.47L430.40 206.07M428.80 206.07L430.40 204.47" stroke="#111" stroke-width="1.1"/><circle cx="434.34" cy="205.27" r="2.16" fill="#d6e7eb"/><path d="M433.54 204.47L435.14 206.07M433.54 206.07L435.14 204.47" stroke="#111" stroke-width="1.1"/><circle cx="439.07" cy="205.27" r="2.16" fill="#d6e7eb"/><path d="M438.27 204.47L439.87 206.07M438.27 206.07L439.87 204.47" stroke="#111" stroke-width="1.1"/><circle cx="443.81" cy="205.27" r="2.16" fill="#d6e7eb"/><path d="M443.01 204.47L444.61 206.07M443.01 206.07L444.61 204.47" stroke="#111" stroke-width="1.1"/><circle cx="448.54" cy="205.27" r="2.16" fill="#d6e7eb"/><path d="M447.74 204.47L449.34 206.07M447.74 206.07L449.34 204.47" stroke="#111" stroke-width="1.1"/><circle cx="453.28" cy="205.27" r="2.16" fill="#d6e7eb"/><path d="M452.48 204.47L454.08 206.07M452.48 206.07L454.08 204.47" stroke="#111" stroke-width="1.1"/><circle cx="458.02" cy="205.27" r="2.16" fill="#d6e7eb"/><path d="M457.22 204.47L458.82 206.07M457.22 206.07L458.82 204.47" stroke="#111" stroke-width="1.1"/><circle cx="462.75" cy="205.27" r="2.16" fill="#d6e7eb"/><path d="M461.95 204.47L463.55 206.07M461.95 206.07L463.55 204.47" stroke="#111" stroke-width="1.1"/><circle cx="467.49" cy="205.27" r="2.16" fill="#d6e7eb"/><path d="M466.69 204.47L468.29 206.07M466.69 206.07L468.29 204.47" stroke="#111" stroke-width="1.1"/><circle cx="472.22" cy="205.27" r="2.16" fill="#d6e7eb"/><path d="M471.42 204.47L473.02 206.07M471.42 206.07L473.02 204.47" stroke="#111" stroke-width="1.1"/><circle cx="476.96" cy="205.27" r="2.25" fill="#6b0623"/><circle cx="311.20" cy="210.12" r="2.16" fill="#d6e7eb"/><path d="M310.40 209.32L312.00 210.92M310.40 210.92L312.00 209.32" stroke="#111" stroke-width="1.1"/><circle cx="315.94" cy="210.12" r="2.18" fill="#8c1028"/><circle cx="320.67" cy="210.12" r="2.18" fill="#8c1028"/><circle cx="325.41" cy="210.12" r="2.16" fill="#d6e7eb"/><path d="M324.61 209.32L326.21 210.92M324.61 210.92L326.21 209.32" stroke="#111" stroke-width="1.1"/><circle cx="330.14" cy="210.12" r="2.18" fill="#8c1028"/><circle cx="334.88" cy="210.12" r="2.16" fill="#d6e7eb"/><path d="M334.08 209.32L335.68 210.92M334.08 210.92L335.68 209.32" stroke="#111" stroke-width="1.1"/><circle cx="339.62" cy="210.12" r="2.16" fill="#d6e7eb"/><path d="M338.82 209.32L340.42 210.92M338.82 210.92L340.42 209.32" stroke="#111" stroke-width="1.1"/><circle cx="344.35" cy="210.12" r="2.16" fill="#d6e7eb"/><path d="M343.55 209.32L345.15 210.92M343.55 210.92L345.15 209.32" stroke="#111" stroke-width="1.1"/><circle cx="349.09" cy="210.12" r="2.16" fill="#d6e7eb"/><path d="M348.29 209.32L349.89 210.92M348.29 210.92L349.89 209.32" stroke="#111" stroke-width="1.1"/><circle cx="353.82" cy="210.12" r="2.16" fill="#d6e7eb"/><path d="M353.02 209.32L354.62 210.92M353.02 210.92L354.62 209.32" stroke="#111" stroke-width="1.1"/><circle cx="358.56" cy="210.12" r="2.16" fill="#d6e7eb"/><path d="M357.76 209.32L359.36 210.92M357.76 210.92L359.36 209.32" stroke="#111" stroke-width="1.1"/><circle cx="363.30" cy="210.12" r="2.16" fill="#d6e7eb"/><path d="M362.50 209.32L364.10 210.92M362.50 210.92L364.10 209.32" stroke="#111" stroke-width="1.1"/><circle cx="368.03" cy="210.12" r="2.16" fill="#d6e7eb"/><path d="M367.23 209.32L368.83 210.92M367.23 210.92L368.83 209.32" stroke="#111" stroke-width="1.1"/><circle cx="372.77" cy="210.12" r="2.16" fill="#d6e7eb"/><path d="M371.97 209.32L373.57 210.92M371.97 210.92L373.57 209.32" stroke="#111" stroke-width="1.1"/><circle cx="377.50" cy="210.12" r="2.16" fill="#d6e7eb"/><path d="M376.70 209.32L378.30 210.92M376.70 210.92L378.30 209.32" stroke="#111" stroke-width="1.1"/><circle cx="382.24" cy="210.12" r="2.16" fill="#d6e7eb"/><path d="M381.44 209.32L383.04 210.92M381.44 210.92L383.04 209.32" stroke="#111" stroke-width="1.1"/><circle cx="386.98" cy="210.12" r="2.16" fill="#d6e7eb"/><path d="M386.18 209.32L387.78 210.92M386.18 210.92L387.78 209.32" stroke="#111" stroke-width="1.1"/><circle cx="391.71" cy="210.12" r="2.16" fill="#d6e7eb"/><path d="M390.91 209.32L392.51 210.92M390.91 210.92L392.51 209.32" stroke="#111" stroke-width="1.1"/><circle cx="396.45" cy="210.12" r="2.16" fill="#d6e7eb"/><path d="M395.65 209.32L397.25 210.92M395.65 210.92L397.25 209.32" stroke="#111" stroke-width="1.1"/><circle cx="401.18" cy="210.12" r="2.16" fill="#d6e7eb"/><path d="M400.38 209.32L401.98 210.92M400.38 210.92L401.98 209.32" stroke="#111" stroke-width="1.1"/><circle cx="405.92" cy="210.12" r="2.16" fill="#d6e7eb"/><path d="M405.12 209.32L406.72 210.92M405.12 210.92L406.72 209.32" stroke="#111" stroke-width="1.1"/><circle cx="410.66" cy="210.12" r="2.18" fill="#8c1028"/><circle cx="415.39" cy="210.12" r="2.16" fill="#d6e7eb"/><path d="M414.59 209.32L416.19 210.92M414.59 210.92L416.19 209.32" stroke="#111" stroke-width="1.1"/><circle cx="420.13" cy="210.12" r="2.18" fill="#8c1028"/><circle cx="424.86" cy="210.12" r="2.16" fill="#d6e7eb"/><path d="M424.06 209.32L425.66 210.92M424.06 210.92L425.66 209.32" stroke="#111" stroke-width="1.1"/><circle cx="429.60" cy="210.12" r="2.16" fill="#d6e7eb"/><path d="M428.80 209.32L430.40 210.92M428.80 210.92L430.40 209.32" stroke="#111" stroke-width="1.1"/><circle cx="434.34" cy="210.12" r="2.16" fill="#d6e7eb"/><path d="M433.54 209.32L435.14 210.92M433.54 210.92L435.14 209.32" stroke="#111" stroke-width="1.1"/><circle cx="439.07" cy="210.12" r="2.16" fill="#d6e7eb"/><path d="M438.27 209.32L439.87 210.92M438.27 210.92L439.87 209.32" stroke="#111" stroke-width="1.1"/><circle cx="443.81" cy="210.12" r="2.16" fill="#d6e7eb"/><path d="M443.01 209.32L444.61 210.92M443.01 210.92L444.61 209.32" stroke="#111" stroke-width="1.1"/><circle cx="448.54" cy="210.12" r="2.18" fill="#8c1028"/><circle cx="453.28" cy="210.12" r="2.18" fill="#8c1028"/><circle cx="458.02" cy="210.12" r="2.18" fill="#8c1028"/><circle cx="462.75" cy="210.12" r="2.18" fill="#8c1028"/><circle cx="467.49" cy="210.12" r="2.18" fill="#8c1028"/><circle cx="472.22" cy="210.12" r="2.18" fill="#8c1028"/><circle cx="476.96" cy="210.12" r="2.16" fill="#d6e7eb"/><path d="M476.16 209.32L477.76 210.92M476.16 210.92L477.76 209.32" stroke="#111" stroke-width="1.1"/><circle cx="481.70" cy="210.12" r="2.25" fill="#6b0623"/><circle cx="311.20" cy="214.96" r="2.16" fill="#d6e7eb"/><path d="M310.40 214.16L312.00 215.76M310.40 215.76L312.00 214.16" stroke="#111" stroke-width="1.1"/><circle cx="315.94" cy="214.96" r="1.82" fill="#da7a80"/><circle cx="320.67" cy="214.96" r="2.16" fill="#d6e7eb"/><path d="M319.87 214.16L321.47 215.76M319.87 215.76L321.47 214.16" stroke="#111" stroke-width="1.1"/><circle cx="325.41" cy="214.96" r="2.16" fill="#d6e7eb"/><path d="M324.61 214.16L326.21 215.76M324.61 215.76L326.21 214.16" stroke="#111" stroke-width="1.1"/><circle cx="330.14" cy="214.96" r="2.16" fill="#d6e7eb"/><path d="M329.34 214.16L330.94 215.76M329.34 215.76L330.94 214.16" stroke="#111" stroke-width="1.1"/><circle cx="334.88" cy="214.96" r="2.16" fill="#d6e7eb"/><path d="M334.08 214.16L335.68 215.76M334.08 215.76L335.68 214.16" stroke="#111" stroke-width="1.1"/><circle cx="339.62" cy="214.96" r="1.82" fill="#da7a80"/><circle cx="344.35" cy="214.96" r="2.16" fill="#d6e7eb"/><path d="M343.55 214.16L345.15 215.76M343.55 215.76L345.15 214.16" stroke="#111" stroke-width="1.1"/><circle cx="349.09" cy="214.96" r="2.16" fill="#d6e7eb"/><path d="M348.29 214.16L349.89 215.76M348.29 215.76L349.89 214.16" stroke="#111" stroke-width="1.1"/><circle cx="353.82" cy="214.96" r="2.18" fill="#8c1028"/><circle cx="358.56" cy="214.96" r="2.16" fill="#d6e7eb"/><path d="M357.76 214.16L359.36 215.76M357.76 215.76L359.36 214.16" stroke="#111" stroke-width="1.1"/><circle cx="363.30" cy="214.96" r="2.16" fill="#d6e7eb"/><path d="M362.50 214.16L364.10 215.76M362.50 215.76L364.10 214.16" stroke="#111" stroke-width="1.1"/><circle cx="368.03" cy="214.96" r="2.16" fill="#d6e7eb"/><path d="M367.23 214.16L368.83 215.76M367.23 215.76L368.83 214.16" stroke="#111" stroke-width="1.1"/><circle cx="372.77" cy="214.96" r="1.82" fill="#da7a80"/><circle cx="377.50" cy="214.96" r="2.16" fill="#d6e7eb"/><path d="M376.70 214.16L378.30 215.76M376.70 215.76L378.30 214.16" stroke="#111" stroke-width="1.1"/><circle cx="382.24" cy="214.96" r="2.16" fill="#d6e7eb"/><path d="M381.44 214.16L383.04 215.76M381.44 215.76L383.04 214.16" stroke="#111" stroke-width="1.1"/><circle cx="386.98" cy="214.96" r="2.18" fill="#8c1028"/><circle cx="391.71" cy="214.96" r="1.96" fill="#c64a5a"/><circle cx="396.45" cy="214.96" r="1.96" fill="#c64a5a"/><circle cx="401.18" cy="214.96" r="2.16" fill="#d6e7eb"/><path d="M400.38 214.16L401.98 215.76M400.38 215.76L401.98 214.16" stroke="#111" stroke-width="1.1"/><circle cx="405.92" cy="214.96" r="1.82" fill="#da7a80"/><circle cx="410.66" cy="214.96" r="2.16" fill="#d6e7eb"/><path d="M409.86 214.16L411.46 215.76M409.86 215.76L411.46 214.16" stroke="#111" stroke-width="1.1"/><circle cx="415.39" cy="214.96" r="1.82" fill="#da7a80"/><circle cx="420.13" cy="214.96" r="2.16" fill="#d6e7eb"/><path d="M419.33 214.16L420.93 215.76M419.33 215.76L420.93 214.16" stroke="#111" stroke-width="1.1"/><circle cx="424.86" cy="214.96" r="2.16" fill="#d6e7eb"/><path d="M424.06 214.16L425.66 215.76M424.06 215.76L425.66 214.16" stroke="#111" stroke-width="1.1"/><circle cx="429.60" cy="214.96" r="2.16" fill="#d6e7eb"/><path d="M428.80 214.16L430.40 215.76M428.80 215.76L430.40 214.16" stroke="#111" stroke-width="1.1"/><circle cx="434.34" cy="214.96" r="1.82" fill="#da7a80"/><circle cx="439.07" cy="214.96" r="2.11" fill="#ac2238"/><circle cx="443.81" cy="214.96" r="2.16" fill="#d6e7eb"/><path d="M443.01 214.16L444.61 215.76M443.01 215.76L444.61 214.16" stroke="#111" stroke-width="1.1"/><circle cx="448.54" cy="214.96" r="2.16" fill="#d6e7eb"/><path d="M447.74 214.16L449.34 215.76M447.74 215.76L449.34 214.16" stroke="#111" stroke-width="1.1"/><circle cx="453.28" cy="214.96" r="2.16" fill="#d6e7eb"/><path d="M452.48 214.16L454.08 215.76M452.48 215.76L454.08 214.16" stroke="#111" stroke-width="1.1"/><circle cx="458.02" cy="214.96" r="2.16" fill="#d6e7eb"/><path d="M457.22 214.16L458.82 215.76M457.22 215.76L458.82 214.16" stroke="#111" stroke-width="1.1"/><circle cx="462.75" cy="214.96" r="1.96" fill="#c64a5a"/><circle cx="467.49" cy="214.96" r="1.82" fill="#da7a80"/><circle cx="472.22" cy="214.96" r="2.16" fill="#d6e7eb"/><path d="M471.42 214.16L473.02 215.76M471.42 215.76L473.02 214.16" stroke="#111" stroke-width="1.1"/><circle cx="476.96" cy="214.96" r="2.16" fill="#d6e7eb"/><path d="M476.16 214.16L477.76 215.76M476.16 215.76L477.76 214.16" stroke="#111" stroke-width="1.1"/><circle cx="481.70" cy="214.96" r="2.16" fill="#d6e7eb"/><path d="M480.90 214.16L482.50 215.76M480.90 215.76L482.50 214.16" stroke="#111" stroke-width="1.1"/><circle cx="486.43" cy="214.96" r="2.25" fill="#6b0623"/><circle cx="311.20" cy="219.81" r="2.16" fill="#d6e7eb"/><path d="M310.40 219.01L312.00 220.61M310.40 220.61L312.00 219.01" stroke="#111" stroke-width="1.1"/><circle cx="315.94" cy="219.81" r="2.16" fill="#d6e7eb"/><path d="M315.14 219.01L316.74 220.61M315.14 220.61L316.74 219.01" stroke="#111" stroke-width="1.1"/><circle cx="320.67" cy="219.81" r="2.16" fill="#d6e7eb"/><path d="M319.87 219.01L321.47 220.61M319.87 220.61L321.47 219.01" stroke="#111" stroke-width="1.1"/><circle cx="325.41" cy="219.81" r="2.16" fill="#d6e7eb"/><path d="M324.61 219.01L326.21 220.61M324.61 220.61L326.21 219.01" stroke="#111" stroke-width="1.1"/><circle cx="330.14" cy="219.81" r="2.16" fill="#d6e7eb"/><path d="M329.34 219.01L330.94 220.61M329.34 220.61L330.94 219.01" stroke="#111" stroke-width="1.1"/><circle cx="334.88" cy="219.81" r="1.96" fill="#c64a5a"/><circle cx="339.62" cy="219.81" r="2.16" fill="#d6e7eb"/><path d="M338.82 219.01L340.42 220.61M338.82 220.61L340.42 219.01" stroke="#111" stroke-width="1.1"/><circle cx="344.35" cy="219.81" r="2.16" fill="#d6e7eb"/><path d="M343.55 219.01L345.15 220.61M343.55 220.61L345.15 219.01" stroke="#111" stroke-width="1.1"/><circle cx="349.09" cy="219.81" r="1.96" fill="#c64a5a"/><circle cx="353.82" cy="219.81" r="1.96" fill="#c64a5a"/><circle cx="358.56" cy="219.81" r="1.96" fill="#c64a5a"/><circle cx="363.30" cy="219.81" r="1.82" fill="#da7a80"/><circle cx="368.03" cy="219.81" r="2.16" fill="#d6e7eb"/><path d="M367.23 219.01L368.83 220.61M367.23 220.61L368.83 219.01" stroke="#111" stroke-width="1.1"/><circle cx="372.77" cy="219.81" r="2.16" fill="#d6e7eb"/><path d="M371.97 219.01L373.57 220.61M371.97 220.61L373.57 219.01" stroke="#111" stroke-width="1.1"/><circle cx="377.50" cy="219.81" r="2.16" fill="#d6e7eb"/><path d="M376.70 219.01L378.30 220.61M376.70 220.61L378.30 219.01" stroke="#111" stroke-width="1.1"/><circle cx="382.24" cy="219.81" r="2.16" fill="#d6e7eb"/><path d="M381.44 219.01L383.04 220.61M381.44 220.61L383.04 219.01" stroke="#111" stroke-width="1.1"/><circle cx="386.98" cy="219.81" r="1.96" fill="#c64a5a"/><circle cx="391.71" cy="219.81" r="2.16" fill="#d6e7eb"/><path d="M390.91 219.01L392.51 220.61M390.91 220.61L392.51 219.01" stroke="#111" stroke-width="1.1"/><circle cx="396.45" cy="219.81" r="2.16" fill="#d6e7eb"/><path d="M395.65 219.01L397.25 220.61M395.65 220.61L397.25 219.01" stroke="#111" stroke-width="1.1"/><circle cx="401.18" cy="219.81" r="2.16" fill="#d6e7eb"/><path d="M400.38 219.01L401.98 220.61M400.38 220.61L401.98 219.01" stroke="#111" stroke-width="1.1"/><circle cx="405.92" cy="219.81" r="2.16" fill="#d6e7eb"/><path d="M405.12 219.01L406.72 220.61M405.12 220.61L406.72 219.01" stroke="#111" stroke-width="1.1"/><circle cx="410.66" cy="219.81" r="2.16" fill="#d6e7eb"/><path d="M409.86 219.01L411.46 220.61M409.86 220.61L411.46 219.01" stroke="#111" stroke-width="1.1"/><circle cx="415.39" cy="219.81" r="2.18" fill="#8c1028"/><circle cx="420.13" cy="219.81" r="2.16" fill="#d6e7eb"/><path d="M419.33 219.01L420.93 220.61M419.33 220.61L420.93 219.01" stroke="#111" stroke-width="1.1"/><circle cx="424.86" cy="219.81" r="2.16" fill="#d6e7eb"/><path d="M424.06 219.01L425.66 220.61M424.06 220.61L425.66 219.01" stroke="#111" stroke-width="1.1"/><circle cx="429.60" cy="219.81" r="1.96" fill="#c64a5a"/><circle cx="434.34" cy="219.81" r="2.16" fill="#d6e7eb"/><path d="M433.54 219.01L435.14 220.61M433.54 220.61L435.14 219.01" stroke="#111" stroke-width="1.1"/><circle cx="439.07" cy="219.81" r="1.82" fill="#da7a80"/><circle cx="443.81" cy="219.81" r="2.16" fill="#d6e7eb"/><path d="M443.01 219.01L444.61 220.61M443.01 220.61L444.61 219.01" stroke="#111" stroke-width="1.1"/><circle cx="448.54" cy="219.81" r="2.16" fill="#d6e7eb"/><path d="M447.74 219.01L449.34 220.61M447.74 220.61L449.34 219.01" stroke="#111" stroke-width="1.1"/><circle cx="453.28" cy="219.81" r="1.82" fill="#da7a80"/><circle cx="458.02" cy="219.81" r="2.16" fill="#d6e7eb"/><path d="M457.22 219.01L458.82 220.61M457.22 220.61L458.82 219.01" stroke="#111" stroke-width="1.1"/><circle cx="462.75" cy="219.81" r="2.16" fill="#d6e7eb"/><path d="M461.95 219.01L463.55 220.61M461.95 220.61L463.55 219.01" stroke="#111" stroke-width="1.1"/><circle cx="467.49" cy="219.81" r="2.16" fill="#d6e7eb"/><path d="M466.69 219.01L468.29 220.61M466.69 220.61L468.29 219.01" stroke="#111" stroke-width="1.1"/><circle cx="472.22" cy="219.81" r="2.16" fill="#d6e7eb"/><path d="M471.42 219.01L473.02 220.61M471.42 220.61L473.02 219.01" stroke="#111" stroke-width="1.1"/><circle cx="476.96" cy="219.81" r="2.16" fill="#d6e7eb"/><path d="M476.16 219.01L477.76 220.61M476.16 220.61L477.76 219.01" stroke="#111" stroke-width="1.1"/><circle cx="481.70" cy="219.81" r="2.16" fill="#d6e7eb"/><path d="M480.90 219.01L482.50 220.61M480.90 220.61L482.50 219.01" stroke="#111" stroke-width="1.1"/><circle cx="486.43" cy="219.81" r="1.82" fill="#da7a80"/><circle cx="491.17" cy="219.81" r="2.25" fill="#6b0623"/><circle cx="311.20" cy="224.65" r="2.16" fill="#d6e7eb"/><path d="M310.40 223.85L312.00 225.45M310.40 225.45L312.00 223.85" stroke="#111" stroke-width="1.1"/><circle cx="315.94" cy="224.65" r="2.16" fill="#d6e7eb"/><path d="M315.14 223.85L316.74 225.45M315.14 225.45L316.74 223.85" stroke="#111" stroke-width="1.1"/><circle cx="320.67" cy="224.65" r="2.16" fill="#d6e7eb"/><path d="M319.87 223.85L321.47 225.45M319.87 225.45L321.47 223.85" stroke="#111" stroke-width="1.1"/><circle cx="325.41" cy="224.65" r="2.16" fill="#d6e7eb"/><path d="M324.61 223.85L326.21 225.45M324.61 225.45L326.21 223.85" stroke="#111" stroke-width="1.1"/><circle cx="330.14" cy="224.65" r="2.16" fill="#d6e7eb"/><path d="M329.34 223.85L330.94 225.45M329.34 225.45L330.94 223.85" stroke="#111" stroke-width="1.1"/><circle cx="334.88" cy="224.65" r="2.16" fill="#d6e7eb"/><path d="M334.08 223.85L335.68 225.45M334.08 225.45L335.68 223.85" stroke="#111" stroke-width="1.1"/><circle cx="339.62" cy="224.65" r="2.16" fill="#d6e7eb"/><path d="M338.82 223.85L340.42 225.45M338.82 225.45L340.42 223.85" stroke="#111" stroke-width="1.1"/><circle cx="344.35" cy="224.65" r="2.16" fill="#d6e7eb"/><path d="M343.55 223.85L345.15 225.45M343.55 225.45L345.15 223.85" stroke="#111" stroke-width="1.1"/><circle cx="349.09" cy="224.65" r="2.16" fill="#d6e7eb"/><path d="M348.29 223.85L349.89 225.45M348.29 225.45L349.89 223.85" stroke="#111" stroke-width="1.1"/><circle cx="353.82" cy="224.65" r="2.11" fill="#ac2238"/><circle cx="358.56" cy="224.65" r="2.16" fill="#d6e7eb"/><path d="M357.76 223.85L359.36 225.45M357.76 225.45L359.36 223.85" stroke="#111" stroke-width="1.1"/><circle cx="363.30" cy="224.65" r="2.16" fill="#d6e7eb"/><path d="M362.50 223.85L364.10 225.45M362.50 225.45L364.10 223.85" stroke="#111" stroke-width="1.1"/><circle cx="368.03" cy="224.65" r="2.16" fill="#d6e7eb"/><path d="M367.23 223.85L368.83 225.45M367.23 225.45L368.83 223.85" stroke="#111" stroke-width="1.1"/><circle cx="372.77" cy="224.65" r="2.16" fill="#d6e7eb"/><path d="M371.97 223.85L373.57 225.45M371.97 225.45L373.57 223.85" stroke="#111" stroke-width="1.1"/><circle cx="377.50" cy="224.65" r="1.92" fill="#4a8fc2"/><circle cx="382.24" cy="224.65" r="2.16" fill="#d6e7eb"/><path d="M381.44 223.85L383.04 225.45M381.44 225.45L383.04 223.85" stroke="#111" stroke-width="1.1"/><circle cx="386.98" cy="224.65" r="1.96" fill="#c64a5a"/><circle cx="391.71" cy="224.65" r="2.16" fill="#d6e7eb"/><path d="M390.91 223.85L392.51 225.45M390.91 225.45L392.51 223.85" stroke="#111" stroke-width="1.1"/><circle cx="396.45" cy="224.65" r="1.82" fill="#da7a80"/><circle cx="401.18" cy="224.65" r="2.16" fill="#d6e7eb"/><path d="M400.38 223.85L401.98 225.45M400.38 225.45L401.98 223.85" stroke="#111" stroke-width="1.1"/><circle cx="405.92" cy="224.65" r="2.16" fill="#d6e7eb"/><path d="M405.12 223.85L406.72 225.45M405.12 225.45L406.72 223.85" stroke="#111" stroke-width="1.1"/><circle cx="410.66" cy="224.65" r="2.16" fill="#d6e7eb"/><path d="M409.86 223.85L411.46 225.45M409.86 225.45L411.46 223.85" stroke="#111" stroke-width="1.1"/><circle cx="415.39" cy="224.65" r="2.16" fill="#d6e7eb"/><path d="M414.59 223.85L416.19 225.45M414.59 225.45L416.19 223.85" stroke="#111" stroke-width="1.1"/><circle cx="420.13" cy="224.65" r="2.16" fill="#d6e7eb"/><path d="M419.33 223.85L420.93 225.45M419.33 225.45L420.93 223.85" stroke="#111" stroke-width="1.1"/><circle cx="424.86" cy="224.65" r="2.16" fill="#d6e7eb"/><path d="M424.06 223.85L425.66 225.45M424.06 225.45L425.66 223.85" stroke="#111" stroke-width="1.1"/><circle cx="429.60" cy="224.65" r="2.16" fill="#d6e7eb"/><path d="M428.80 223.85L430.40 225.45M428.80 225.45L430.40 223.85" stroke="#111" stroke-width="1.1"/><circle cx="434.34" cy="224.65" r="2.18" fill="#8c1028"/><circle cx="439.07" cy="224.65" r="2.11" fill="#ac2238"/><circle cx="443.81" cy="224.65" r="2.16" fill="#d6e7eb"/><path d="M443.01 223.85L444.61 225.45M443.01 225.45L444.61 223.85" stroke="#111" stroke-width="1.1"/><circle cx="448.54" cy="224.65" r="2.16" fill="#d6e7eb"/><path d="M447.74 223.85L449.34 225.45M447.74 225.45L449.34 223.85" stroke="#111" stroke-width="1.1"/><circle cx="453.28" cy="224.65" r="1.82" fill="#da7a80"/><circle cx="458.02" cy="224.65" r="2.16" fill="#d6e7eb"/><path d="M457.22 223.85L458.82 225.45M457.22 225.45L458.82 223.85" stroke="#111" stroke-width="1.1"/><circle cx="462.75" cy="224.65" r="2.16" fill="#d6e7eb"/><path d="M461.95 223.85L463.55 225.45M461.95 225.45L463.55 223.85" stroke="#111" stroke-width="1.1"/><circle cx="467.49" cy="224.65" r="2.16" fill="#d6e7eb"/><path d="M466.69 223.85L468.29 225.45M466.69 225.45L468.29 223.85" stroke="#111" stroke-width="1.1"/><circle cx="472.22" cy="224.65" r="2.16" fill="#d6e7eb"/><path d="M471.42 223.85L473.02 225.45M471.42 225.45L473.02 223.85" stroke="#111" stroke-width="1.1"/><circle cx="476.96" cy="224.65" r="2.16" fill="#d6e7eb"/><path d="M476.16 223.85L477.76 225.45M476.16 225.45L477.76 223.85" stroke="#111" stroke-width="1.1"/><circle cx="481.70" cy="224.65" r="2.16" fill="#d6e7eb"/><path d="M480.90 223.85L482.50 225.45M480.90 225.45L482.50 223.85" stroke="#111" stroke-width="1.1"/><circle cx="486.43" cy="224.65" r="1.82" fill="#da7a80"/><circle cx="491.17" cy="224.65" r="2.16" fill="#d6e7eb"/><path d="M490.37 223.85L491.97 225.45M490.37 225.45L491.97 223.85" stroke="#111" stroke-width="1.1"/><circle cx="495.90" cy="224.65" r="2.25" fill="#6b0623"/><circle cx="311.20" cy="229.50" r="2.11" fill="#ac2238"/><circle cx="315.94" cy="229.50" r="2.16" fill="#d6e7eb"/><path d="M315.14 228.70L316.74 230.30M315.14 230.30L316.74 228.70" stroke="#111" stroke-width="1.1"/><circle cx="320.67" cy="229.50" r="2.16" fill="#d6e7eb"/><path d="M319.87 228.70L321.47 230.30M319.87 230.30L321.47 228.70" stroke="#111" stroke-width="1.1"/><circle cx="325.41" cy="229.50" r="2.16" fill="#d6e7eb"/><path d="M324.61 228.70L326.21 230.30M324.61 230.30L326.21 228.70" stroke="#111" stroke-width="1.1"/><circle cx="330.14" cy="229.50" r="2.16" fill="#d6e7eb"/><path d="M329.34 228.70L330.94 230.30M329.34 230.30L330.94 228.70" stroke="#111" stroke-width="1.1"/><circle cx="334.88" cy="229.50" r="1.82" fill="#da7a80"/><circle cx="339.62" cy="229.50" r="2.18" fill="#8c1028"/><circle cx="344.35" cy="229.50" r="2.16" fill="#d6e7eb"/><path d="M343.55 228.70L345.15 230.30M343.55 230.30L345.15 228.70" stroke="#111" stroke-width="1.1"/><circle cx="349.09" cy="229.50" r="1.82" fill="#da7a80"/><circle cx="353.82" cy="229.50" r="2.16" fill="#d6e7eb"/><path d="M353.02 228.70L354.62 230.30M353.02 230.30L354.62 228.70" stroke="#111" stroke-width="1.1"/><circle cx="358.56" cy="229.50" r="2.16" fill="#d6e7eb"/><path d="M357.76 228.70L359.36 230.30M357.76 230.30L359.36 228.70" stroke="#111" stroke-width="1.1"/><circle cx="363.30" cy="229.50" r="2.18" fill="#8c1028"/><circle cx="368.03" cy="229.50" r="2.18" fill="#8c1028"/><circle cx="372.77" cy="229.50" r="2.18" fill="#8c1028"/><circle cx="377.50" cy="229.50" r="2.16" fill="#d6e7eb"/><path d="M376.70 228.70L378.30 230.30M376.70 230.30L378.30 228.70" stroke="#111" stroke-width="1.1"/><circle cx="382.24" cy="229.50" r="2.16" fill="#d6e7eb"/><path d="M381.44 228.70L383.04 230.30M381.44 230.30L383.04 228.70" stroke="#111" stroke-width="1.1"/><circle cx="386.98" cy="229.50" r="2.16" fill="#d6e7eb"/><path d="M386.18 228.70L387.78 230.30M386.18 230.30L387.78 228.70" stroke="#111" stroke-width="1.1"/><circle cx="391.71" cy="229.50" r="2.16" fill="#d6e7eb"/><path d="M390.91 228.70L392.51 230.30M390.91 230.30L392.51 228.70" stroke="#111" stroke-width="1.1"/><circle cx="396.45" cy="229.50" r="2.16" fill="#d6e7eb"/><path d="M395.65 228.70L397.25 230.30M395.65 230.30L397.25 228.70" stroke="#111" stroke-width="1.1"/><circle cx="401.18" cy="229.50" r="2.16" fill="#d6e7eb"/><path d="M400.38 228.70L401.98 230.30M400.38 230.30L401.98 228.70" stroke="#111" stroke-width="1.1"/><circle cx="405.92" cy="229.50" r="2.16" fill="#d6e7eb"/><path d="M405.12 228.70L406.72 230.30M405.12 230.30L406.72 228.70" stroke="#111" stroke-width="1.1"/><circle cx="410.66" cy="229.50" r="2.16" fill="#d6e7eb"/><path d="M409.86 228.70L411.46 230.30M409.86 230.30L411.46 228.70" stroke="#111" stroke-width="1.1"/><circle cx="415.39" cy="229.50" r="2.16" fill="#d6e7eb"/><path d="M414.59 228.70L416.19 230.30M414.59 230.30L416.19 228.70" stroke="#111" stroke-width="1.1"/><circle cx="420.13" cy="229.50" r="2.16" fill="#d6e7eb"/><path d="M419.33 228.70L420.93 230.30M419.33 230.30L420.93 228.70" stroke="#111" stroke-width="1.1"/><circle cx="424.86" cy="229.50" r="2.18" fill="#8c1028"/><circle cx="429.60" cy="229.50" r="1.96" fill="#c64a5a"/><circle cx="434.34" cy="229.50" r="2.16" fill="#d6e7eb"/><path d="M433.54 228.70L435.14 230.30M433.54 230.30L435.14 228.70" stroke="#111" stroke-width="1.1"/><circle cx="439.07" cy="229.50" r="2.16" fill="#d6e7eb"/><path d="M438.27 228.70L439.87 230.30M438.27 230.30L439.87 228.70" stroke="#111" stroke-width="1.1"/><circle cx="443.81" cy="229.50" r="1.82" fill="#da7a80"/><circle cx="448.54" cy="229.50" r="2.16" fill="#d6e7eb"/><path d="M447.74 228.70L449.34 230.30M447.74 230.30L449.34 228.70" stroke="#111" stroke-width="1.1"/><circle cx="453.28" cy="229.50" r="2.16" fill="#d6e7eb"/><path d="M452.48 228.70L454.08 230.30M452.48 230.30L454.08 228.70" stroke="#111" stroke-width="1.1"/><circle cx="458.02" cy="229.50" r="2.16" fill="#d6e7eb"/><path d="M457.22 228.70L458.82 230.30M457.22 230.30L458.82 228.70" stroke="#111" stroke-width="1.1"/><circle cx="462.75" cy="229.50" r="2.16" fill="#d6e7eb"/><path d="M461.95 228.70L463.55 230.30M461.95 230.30L463.55 228.70" stroke="#111" stroke-width="1.1"/><circle cx="467.49" cy="229.50" r="2.16" fill="#d6e7eb"/><path d="M466.69 228.70L468.29 230.30M466.69 230.30L468.29 228.70" stroke="#111" stroke-width="1.1"/><circle cx="472.22" cy="229.50" r="2.16" fill="#d6e7eb"/><path d="M471.42 228.70L473.02 230.30M471.42 230.30L473.02 228.70" stroke="#111" stroke-width="1.1"/><circle cx="476.96" cy="229.50" r="2.16" fill="#d6e7eb"/><path d="M476.16 228.70L477.76 230.30M476.16 230.30L477.76 228.70" stroke="#111" stroke-width="1.1"/><circle cx="481.70" cy="229.50" r="2.16" fill="#d6e7eb"/><path d="M480.90 228.70L482.50 230.30M480.90 230.30L482.50 228.70" stroke="#111" stroke-width="1.1"/><circle cx="486.43" cy="229.50" r="2.16" fill="#d6e7eb"/><path d="M485.63 228.70L487.23 230.30M485.63 230.30L487.23 228.70" stroke="#111" stroke-width="1.1"/><circle cx="491.17" cy="229.50" r="2.16" fill="#d6e7eb"/><path d="M490.37 228.70L491.97 230.30M490.37 230.30L491.97 228.70" stroke="#111" stroke-width="1.1"/><circle cx="495.90" cy="229.50" r="2.16" fill="#d6e7eb"/><path d="M495.10 228.70L496.70 230.30M495.10 230.30L496.70 228.70" stroke="#111" stroke-width="1.1"/><circle cx="500.64" cy="229.50" r="2.25" fill="#6b0623"/><circle cx="311.20" cy="234.34" r="2.16" fill="#d6e7eb"/><path d="M310.40 233.54L312.00 235.14M310.40 235.14L312.00 233.54" stroke="#111" stroke-width="1.1"/><circle cx="315.94" cy="234.34" r="2.16" fill="#d6e7eb"/><path d="M315.14 233.54L316.74 235.14M315.14 235.14L316.74 233.54" stroke="#111" stroke-width="1.1"/><circle cx="320.67" cy="234.34" r="2.16" fill="#d6e7eb"/><path d="M319.87 233.54L321.47 235.14M319.87 235.14L321.47 233.54" stroke="#111" stroke-width="1.1"/><circle cx="325.41" cy="234.34" r="2.16" fill="#d6e7eb"/><path d="M324.61 233.54L326.21 235.14M324.61 235.14L326.21 233.54" stroke="#111" stroke-width="1.1"/><circle cx="330.14" cy="234.34" r="2.16" fill="#d6e7eb"/><path d="M329.34 233.54L330.94 235.14M329.34 235.14L330.94 233.54" stroke="#111" stroke-width="1.1"/><circle cx="334.88" cy="234.34" r="2.16" fill="#d6e7eb"/><path d="M334.08 233.54L335.68 235.14M334.08 235.14L335.68 233.54" stroke="#111" stroke-width="1.1"/><circle cx="339.62" cy="234.34" r="2.16" fill="#d6e7eb"/><path d="M338.82 233.54L340.42 235.14M338.82 235.14L340.42 233.54" stroke="#111" stroke-width="1.1"/><circle cx="344.35" cy="234.34" r="2.16" fill="#d6e7eb"/><path d="M343.55 233.54L345.15 235.14M343.55 235.14L345.15 233.54" stroke="#111" stroke-width="1.1"/><circle cx="349.09" cy="234.34" r="2.16" fill="#d6e7eb"/><path d="M348.29 233.54L349.89 235.14M348.29 235.14L349.89 233.54" stroke="#111" stroke-width="1.1"/><circle cx="353.82" cy="234.34" r="2.16" fill="#d6e7eb"/><path d="M353.02 233.54L354.62 235.14M353.02 235.14L354.62 233.54" stroke="#111" stroke-width="1.1"/><circle cx="358.56" cy="234.34" r="2.16" fill="#d6e7eb"/><path d="M357.76 233.54L359.36 235.14M357.76 235.14L359.36 233.54" stroke="#111" stroke-width="1.1"/><circle cx="363.30" cy="234.34" r="2.16" fill="#d6e7eb"/><path d="M362.50 233.54L364.10 235.14M362.50 235.14L364.10 233.54" stroke="#111" stroke-width="1.1"/><circle cx="368.03" cy="234.34" r="2.16" fill="#d6e7eb"/><path d="M367.23 233.54L368.83 235.14M367.23 235.14L368.83 233.54" stroke="#111" stroke-width="1.1"/><circle cx="372.77" cy="234.34" r="2.16" fill="#d6e7eb"/><path d="M371.97 233.54L373.57 235.14M371.97 235.14L373.57 233.54" stroke="#111" stroke-width="1.1"/><circle cx="377.50" cy="234.34" r="2.16" fill="#d6e7eb"/><path d="M376.70 233.54L378.30 235.14M376.70 235.14L378.30 233.54" stroke="#111" stroke-width="1.1"/><circle cx="382.24" cy="234.34" r="2.16" fill="#d6e7eb"/><path d="M381.44 233.54L383.04 235.14M381.44 235.14L383.04 233.54" stroke="#111" stroke-width="1.1"/><circle cx="386.98" cy="234.34" r="2.16" fill="#d6e7eb"/><path d="M386.18 233.54L387.78 235.14M386.18 235.14L387.78 233.54" stroke="#111" stroke-width="1.1"/><circle cx="391.71" cy="234.34" r="2.16" fill="#d6e7eb"/><path d="M390.91 233.54L392.51 235.14M390.91 235.14L392.51 233.54" stroke="#111" stroke-width="1.1"/><circle cx="396.45" cy="234.34" r="2.16" fill="#d6e7eb"/><path d="M395.65 233.54L397.25 235.14M395.65 235.14L397.25 233.54" stroke="#111" stroke-width="1.1"/><circle cx="401.18" cy="234.34" r="2.16" fill="#d6e7eb"/><path d="M400.38 233.54L401.98 235.14M400.38 235.14L401.98 233.54" stroke="#111" stroke-width="1.1"/><circle cx="405.92" cy="234.34" r="2.16" fill="#d6e7eb"/><path d="M405.12 233.54L406.72 235.14M405.12 235.14L406.72 233.54" stroke="#111" stroke-width="1.1"/><circle cx="410.66" cy="234.34" r="2.16" fill="#d6e7eb"/><path d="M409.86 233.54L411.46 235.14M409.86 235.14L411.46 233.54" stroke="#111" stroke-width="1.1"/><circle cx="415.39" cy="234.34" r="2.16" fill="#d6e7eb"/><path d="M414.59 233.54L416.19 235.14M414.59 235.14L416.19 233.54" stroke="#111" stroke-width="1.1"/><circle cx="420.13" cy="234.34" r="2.16" fill="#d6e7eb"/><path d="M419.33 233.54L420.93 235.14M419.33 235.14L420.93 233.54" stroke="#111" stroke-width="1.1"/><circle cx="424.86" cy="234.34" r="2.16" fill="#d6e7eb"/><path d="M424.06 233.54L425.66 235.14M424.06 235.14L425.66 233.54" stroke="#111" stroke-width="1.1"/><circle cx="429.60" cy="234.34" r="2.16" fill="#d6e7eb"/><path d="M428.80 233.54L430.40 235.14M428.80 235.14L430.40 233.54" stroke="#111" stroke-width="1.1"/><circle cx="434.34" cy="234.34" r="2.16" fill="#d6e7eb"/><path d="M433.54 233.54L435.14 235.14M433.54 235.14L435.14 233.54" stroke="#111" stroke-width="1.1"/><circle cx="439.07" cy="234.34" r="2.16" fill="#d6e7eb"/><path d="M438.27 233.54L439.87 235.14M438.27 235.14L439.87 233.54" stroke="#111" stroke-width="1.1"/><circle cx="443.81" cy="234.34" r="2.16" fill="#d6e7eb"/><path d="M443.01 233.54L444.61 235.14M443.01 235.14L444.61 233.54" stroke="#111" stroke-width="1.1"/><circle cx="448.54" cy="234.34" r="2.16" fill="#d6e7eb"/><path d="M447.74 233.54L449.34 235.14M447.74 235.14L449.34 233.54" stroke="#111" stroke-width="1.1"/><circle cx="453.28" cy="234.34" r="2.16" fill="#d6e7eb"/><path d="M452.48 233.54L454.08 235.14M452.48 235.14L454.08 233.54" stroke="#111" stroke-width="1.1"/><circle cx="458.02" cy="234.34" r="2.16" fill="#d6e7eb"/><path d="M457.22 233.54L458.82 235.14M457.22 235.14L458.82 233.54" stroke="#111" stroke-width="1.1"/><circle cx="462.75" cy="234.34" r="2.16" fill="#d6e7eb"/><path d="M461.95 233.54L463.55 235.14M461.95 235.14L463.55 233.54" stroke="#111" stroke-width="1.1"/><circle cx="467.49" cy="234.34" r="2.16" fill="#d6e7eb"/><path d="M466.69 233.54L468.29 235.14M466.69 235.14L468.29 233.54" stroke="#111" stroke-width="1.1"/><circle cx="472.22" cy="234.34" r="2.16" fill="#d6e7eb"/><path d="M471.42 233.54L473.02 235.14M471.42 235.14L473.02 233.54" stroke="#111" stroke-width="1.1"/><circle cx="476.96" cy="234.34" r="2.16" fill="#d6e7eb"/><path d="M476.16 233.54L477.76 235.14M476.16 235.14L477.76 233.54" stroke="#111" stroke-width="1.1"/><circle cx="481.70" cy="234.34" r="2.16" fill="#d6e7eb"/><path d="M480.90 233.54L482.50 235.14M480.90 235.14L482.50 233.54" stroke="#111" stroke-width="1.1"/><circle cx="486.43" cy="234.34" r="2.16" fill="#d6e7eb"/><path d="M485.63 233.54L487.23 235.14M485.63 235.14L487.23 233.54" stroke="#111" stroke-width="1.1"/><circle cx="491.17" cy="234.34" r="2.16" fill="#d6e7eb"/><path d="M490.37 233.54L491.97 235.14M490.37 235.14L491.97 233.54" stroke="#111" stroke-width="1.1"/><circle cx="495.90" cy="234.34" r="2.16" fill="#d6e7eb"/><path d="M495.10 233.54L496.70 235.14M495.10 235.14L496.70 233.54" stroke="#111" stroke-width="1.1"/><circle cx="500.64" cy="234.34" r="2.16" fill="#d6e7eb"/><path d="M499.84 233.54L501.44 235.14M499.84 235.14L501.44 233.54" stroke="#111" stroke-width="1.1"/><circle cx="505.38" cy="234.34" r="2.25" fill="#6b0623"/><circle cx="311.20" cy="239.19" r="2.16" fill="#d6e7eb"/><path d="M310.40 238.39L312.00 239.99M310.40 239.99L312.00 238.39" stroke="#111" stroke-width="1.1"/><circle cx="315.94" cy="239.19" r="2.16" fill="#d6e7eb"/><path d="M315.14 238.39L316.74 239.99M315.14 239.99L316.74 238.39" stroke="#111" stroke-width="1.1"/><circle cx="320.67" cy="239.19" r="2.16" fill="#d6e7eb"/><path d="M319.87 238.39L321.47 239.99M319.87 239.99L321.47 238.39" stroke="#111" stroke-width="1.1"/><circle cx="325.41" cy="239.19" r="2.16" fill="#d6e7eb"/><path d="M324.61 238.39L326.21 239.99M324.61 239.99L326.21 238.39" stroke="#111" stroke-width="1.1"/><circle cx="330.14" cy="239.19" r="2.16" fill="#d6e7eb"/><path d="M329.34 238.39L330.94 239.99M329.34 239.99L330.94 238.39" stroke="#111" stroke-width="1.1"/><circle cx="334.88" cy="239.19" r="2.16" fill="#d6e7eb"/><path d="M334.08 238.39L335.68 239.99M334.08 239.99L335.68 238.39" stroke="#111" stroke-width="1.1"/><circle cx="339.62" cy="239.19" r="2.16" fill="#d6e7eb"/><path d="M338.82 238.39L340.42 239.99M338.82 239.99L340.42 238.39" stroke="#111" stroke-width="1.1"/><circle cx="344.35" cy="239.19" r="1.82" fill="#da7a80"/><circle cx="349.09" cy="239.19" r="1.96" fill="#c64a5a"/><circle cx="353.82" cy="239.19" r="2.16" fill="#d6e7eb"/><path d="M353.02 238.39L354.62 239.99M353.02 239.99L354.62 238.39" stroke="#111" stroke-width="1.1"/><circle cx="358.56" cy="239.19" r="2.16" fill="#d6e7eb"/><path d="M357.76 238.39L359.36 239.99M357.76 239.99L359.36 238.39" stroke="#111" stroke-width="1.1"/><circle cx="363.30" cy="239.19" r="1.82" fill="#da7a80"/><circle cx="368.03" cy="239.19" r="2.16" fill="#d6e7eb"/><path d="M367.23 238.39L368.83 239.99M367.23 239.99L368.83 238.39" stroke="#111" stroke-width="1.1"/><circle cx="372.77" cy="239.19" r="2.16" fill="#d6e7eb"/><path d="M371.97 238.39L373.57 239.99M371.97 239.99L373.57 238.39" stroke="#111" stroke-width="1.1"/><circle cx="377.50" cy="239.19" r="2.16" fill="#d6e7eb"/><path d="M376.70 238.39L378.30 239.99M376.70 239.99L378.30 238.39" stroke="#111" stroke-width="1.1"/><circle cx="382.24" cy="239.19" r="2.16" fill="#d6e7eb"/><path d="M381.44 238.39L383.04 239.99M381.44 239.99L383.04 238.39" stroke="#111" stroke-width="1.1"/><circle cx="386.98" cy="239.19" r="2.16" fill="#d6e7eb"/><path d="M386.18 238.39L387.78 239.99M386.18 239.99L387.78 238.39" stroke="#111" stroke-width="1.1"/><circle cx="391.71" cy="239.19" r="2.16" fill="#d6e7eb"/><path d="M390.91 238.39L392.51 239.99M390.91 239.99L392.51 238.39" stroke="#111" stroke-width="1.1"/><circle cx="396.45" cy="239.19" r="2.16" fill="#d6e7eb"/><path d="M395.65 238.39L397.25 239.99M395.65 239.99L397.25 238.39" stroke="#111" stroke-width="1.1"/><circle cx="401.18" cy="239.19" r="2.16" fill="#d6e7eb"/><path d="M400.38 238.39L401.98 239.99M400.38 239.99L401.98 238.39" stroke="#111" stroke-width="1.1"/><circle cx="405.92" cy="239.19" r="2.16" fill="#d6e7eb"/><path d="M405.12 238.39L406.72 239.99M405.12 239.99L406.72 238.39" stroke="#111" stroke-width="1.1"/><circle cx="410.66" cy="239.19" r="2.16" fill="#d6e7eb"/><path d="M409.86 238.39L411.46 239.99M409.86 239.99L411.46 238.39" stroke="#111" stroke-width="1.1"/><circle cx="415.39" cy="239.19" r="2.16" fill="#d6e7eb"/><path d="M414.59 238.39L416.19 239.99M414.59 239.99L416.19 238.39" stroke="#111" stroke-width="1.1"/><circle cx="420.13" cy="239.19" r="2.16" fill="#d6e7eb"/><path d="M419.33 238.39L420.93 239.99M419.33 239.99L420.93 238.39" stroke="#111" stroke-width="1.1"/><circle cx="424.86" cy="239.19" r="2.16" fill="#d6e7eb"/><path d="M424.06 238.39L425.66 239.99M424.06 239.99L425.66 238.39" stroke="#111" stroke-width="1.1"/><circle cx="429.60" cy="239.19" r="2.18" fill="#8c1028"/><circle cx="434.34" cy="239.19" r="2.16" fill="#d6e7eb"/><path d="M433.54 238.39L435.14 239.99M433.54 239.99L435.14 238.39" stroke="#111" stroke-width="1.1"/><circle cx="439.07" cy="239.19" r="2.16" fill="#d6e7eb"/><path d="M438.27 238.39L439.87 239.99M438.27 239.99L439.87 238.39" stroke="#111" stroke-width="1.1"/><circle cx="443.81" cy="239.19" r="2.16" fill="#d6e7eb"/><path d="M443.01 238.39L444.61 239.99M443.01 239.99L444.61 238.39" stroke="#111" stroke-width="1.1"/><circle cx="448.54" cy="239.19" r="2.16" fill="#d6e7eb"/><path d="M447.74 238.39L449.34 239.99M447.74 239.99L449.34 238.39" stroke="#111" stroke-width="1.1"/><circle cx="453.28" cy="239.19" r="2.16" fill="#d6e7eb"/><path d="M452.48 238.39L454.08 239.99M452.48 239.99L454.08 238.39" stroke="#111" stroke-width="1.1"/><circle cx="458.02" cy="239.19" r="2.16" fill="#d6e7eb"/><path d="M457.22 238.39L458.82 239.99M457.22 239.99L458.82 238.39" stroke="#111" stroke-width="1.1"/><circle cx="462.75" cy="239.19" r="2.16" fill="#d6e7eb"/><path d="M461.95 238.39L463.55 239.99M461.95 239.99L463.55 238.39" stroke="#111" stroke-width="1.1"/><circle cx="467.49" cy="239.19" r="2.16" fill="#d6e7eb"/><path d="M466.69 238.39L468.29 239.99M466.69 239.99L468.29 238.39" stroke="#111" stroke-width="1.1"/><circle cx="472.22" cy="239.19" r="2.16" fill="#d6e7eb"/><path d="M471.42 238.39L473.02 239.99M471.42 239.99L473.02 238.39" stroke="#111" stroke-width="1.1"/><circle cx="476.96" cy="239.19" r="2.16" fill="#d6e7eb"/><path d="M476.16 238.39L477.76 239.99M476.16 239.99L477.76 238.39" stroke="#111" stroke-width="1.1"/><circle cx="481.70" cy="239.19" r="2.16" fill="#d6e7eb"/><path d="M480.90 238.39L482.50 239.99M480.90 239.99L482.50 238.39" stroke="#111" stroke-width="1.1"/><circle cx="486.43" cy="239.19" r="2.16" fill="#d6e7eb"/><path d="M485.63 238.39L487.23 239.99M485.63 239.99L487.23 238.39" stroke="#111" stroke-width="1.1"/><circle cx="491.17" cy="239.19" r="1.82" fill="#da7a80"/><circle cx="495.90" cy="239.19" r="2.16" fill="#d6e7eb"/><path d="M495.10 238.39L496.70 239.99M495.10 239.99L496.70 238.39" stroke="#111" stroke-width="1.1"/><circle cx="500.64" cy="239.19" r="1.82" fill="#da7a80"/><circle cx="505.38" cy="239.19" r="2.16" fill="#d6e7eb"/><path d="M504.58 238.39L506.18 239.99M504.58 239.99L506.18 238.39" stroke="#111" stroke-width="1.1"/><circle cx="510.11" cy="239.19" r="2.25" fill="#6b0623"/>
<text x="305.30" y="38.10" font-size="5.05" fill="#c44a6a" text-anchor="end">BAFF</text>
<text x="305.30" y="42.95" font-size="5.05" fill="#c44a6a" text-anchor="end">Eotaxin</text>
<text x="305.30" y="47.79" font-size="5.05" fill="#c44a6a" text-anchor="end">Eotaxin-3</text>
<text x="305.30" y="52.63" font-size="5.05" fill="#c44a6a" text-anchor="end">GM-CSF</text>
<text x="305.30" y="57.48" font-size="5.05" fill="#c44a6a" text-anchor="end">Human MIG</text>
<text x="305.30" y="62.32" font-size="5.05" fill="#c44a6a" text-anchor="end">IFN-γ</text>
<text x="305.30" y="67.17" font-size="5.05" fill="#c44a6a" text-anchor="end">IL-10</text>
<text x="305.30" y="72.02" font-size="5.05" fill="#c44a6a" text-anchor="end">IL-12/IL-23p40</text>
<text x="305.30" y="76.86" font-size="5.05" fill="#c44a6a" text-anchor="end">IL-12p70</text>
<text x="305.30" y="81.71" font-size="5.05" fill="#c44a6a" text-anchor="end">IL-13</text>
<text x="305.30" y="86.55" font-size="5.05" fill="#c44a6a" text-anchor="end">IL-15</text>
<text x="305.30" y="91.40" font-size="5.05" fill="#c44a6a" text-anchor="end">IL-16</text>
<text x="305.30" y="96.24" font-size="5.05" fill="#c44a6a" text-anchor="end">IL-17A</text>
<text x="305.30" y="101.09" font-size="5.05" fill="#c44a6a" text-anchor="end">IL-17A Gen B</text>
<text x="305.30" y="105.93" font-size="5.05" fill="#c44a6a" text-anchor="end">IL-1α</text>
<text x="305.30" y="110.78" font-size="5.05" fill="#c44a6a" text-anchor="end">IL-1β</text>
<text x="305.30" y="115.62" font-size="5.05" fill="#c44a6a" text-anchor="end">IL-2</text>
<text x="305.30" y="120.47" font-size="5.05" fill="#c44a6a" text-anchor="end">IL-21</text>
<text x="305.30" y="125.31" font-size="5.05" fill="#c44a6a" text-anchor="end">IL-22</text>
<text x="305.30" y="130.16" font-size="5.05" fill="#c44a6a" text-anchor="end">IL-23</text>
<text x="305.30" y="135.00" font-size="5.05" fill="#c44a6a" text-anchor="end">IL-27</text>
<text x="305.30" y="139.84" font-size="5.05" fill="#c44a6a" text-anchor="end">IL-31</text>
<text x="305.30" y="144.69" font-size="5.05" fill="#c44a6a" text-anchor="end">IL-4</text>
<text x="305.30" y="149.53" font-size="5.05" fill="#c44a6a" text-anchor="end">IL-5</text>
<text x="305.30" y="154.38" font-size="5.05" fill="#c44a6a" text-anchor="end">IL-6</text>
<text x="305.30" y="159.22" font-size="5.05" fill="#c44a6a" text-anchor="end">IL-7</text>
<text x="305.30" y="164.07" font-size="5.05" fill="#c44a6a" text-anchor="end">IL-8_23</text>
<text x="305.30" y="168.91" font-size="5.05" fill="#c44a6a" text-anchor="end">IL-8_9</text>
<text x="305.30" y="173.76" font-size="5.05" fill="#c44a6a" text-anchor="end">IL1RL1/ST2</text>
<text x="305.30" y="178.60" font-size="5.05" fill="#c44a6a" text-anchor="end">IP-10</text>
<text x="305.30" y="183.45" font-size="5.05" fill="#c44a6a" text-anchor="end">MCP-1</text>
<text x="305.30" y="188.29" font-size="5.05" fill="#c44a6a" text-anchor="end">MCP-4</text>
<text x="305.30" y="193.14" font-size="5.05" fill="#c44a6a" text-anchor="end">MDC</text>
<text x="305.30" y="197.98" font-size="5.05" fill="#c44a6a" text-anchor="end">MIP-1α</text>
<text x="305.30" y="202.83" font-size="5.05" fill="#c44a6a" text-anchor="end">MIP-1β</text>
<text x="305.30" y="207.67" font-size="5.05" fill="#c44a6a" text-anchor="end">MIP-3α</text>
<text x="305.30" y="212.52" font-size="5.05" fill="#c44a6a" text-anchor="end">TARC</text>
<text x="305.30" y="217.36" font-size="5.05" fill="#c44a6a" text-anchor="end">TGF-β2</text>
<text x="305.30" y="222.21" font-size="5.05" fill="#c44a6a" text-anchor="end">TGF-β1</text>
<text x="305.30" y="227.05" font-size="5.05" fill="#c44a6a" text-anchor="end">TGFβ-3</text>
<text x="305.30" y="231.90" font-size="5.05" fill="#c44a6a" text-anchor="end">TNF-α</text>
<text x="305.30" y="236.74" font-size="5.05" fill="#c44a6a" text-anchor="end">TNF-β</text>
<text x="305.30" y="241.59" font-size="5.05" fill="#c44a6a" text-anchor="end">VEGF</text>
<text x="312.95" y="30.90" font-size="5.0" fill="#c44a6a" transform="rotate(-90 312.95 30.90)">BAFF</text>
<text x="317.69" y="35.75" font-size="5.0" fill="#c44a6a" transform="rotate(-90 317.69 35.75)">Eotaxin</text>
<text x="322.42" y="40.59" font-size="5.0" fill="#c44a6a" transform="rotate(-90 322.42 40.59)">Eotaxin-3</text>
<text x="327.16" y="45.44" font-size="5.0" fill="#c44a6a" transform="rotate(-90 327.16 45.44)">GM-CSF</text>
<text x="331.89" y="50.28" font-size="5.0" fill="#c44a6a" transform="rotate(-90 331.89 50.28)">Human MIG</text>
<text x="336.63" y="55.12" font-size="5.0" fill="#c44a6a" transform="rotate(-90 336.63 55.12)">IFN-γ</text>
<text x="341.37" y="59.97" font-size="5.0" fill="#c44a6a" transform="rotate(-90 341.37 59.97)">IL-10</text>
<text x="346.10" y="64.82" font-size="5.0" fill="#c44a6a" transform="rotate(-90 346.10 64.82)">IL-12/IL-23p40</text>
<text x="350.84" y="69.66" font-size="5.0" fill="#c44a6a" transform="rotate(-90 350.84 69.66)">IL-12p70</text>
<text x="355.57" y="74.51" font-size="5.0" fill="#c44a6a" transform="rotate(-90 355.57 74.51)">IL-13</text>
<text x="360.31" y="79.35" font-size="5.0" fill="#c44a6a" transform="rotate(-90 360.31 79.35)">IL-15</text>
<text x="365.05" y="84.20" font-size="5.0" fill="#c44a6a" transform="rotate(-90 365.05 84.20)">IL-16</text>
<text x="369.78" y="89.04" font-size="5.0" fill="#c44a6a" transform="rotate(-90 369.78 89.04)">IL-17A</text>
<text x="374.52" y="93.89" font-size="5.0" fill="#c44a6a" transform="rotate(-90 374.52 93.89)">IL-17A Gen B</text>
<text x="379.25" y="98.73" font-size="5.0" fill="#c44a6a" transform="rotate(-90 379.25 98.73)">IL-1α</text>
<text x="383.99" y="103.58" font-size="5.0" fill="#c44a6a" transform="rotate(-90 383.99 103.58)">IL-1β</text>
<text x="388.73" y="108.42" font-size="5.0" fill="#c44a6a" transform="rotate(-90 388.73 108.42)">IL-2</text>
<text x="393.46" y="113.27" font-size="5.0" fill="#c44a6a" transform="rotate(-90 393.46 113.27)">IL-21</text>
<text x="398.20" y="118.11" font-size="5.0" fill="#c44a6a" transform="rotate(-90 398.20 118.11)">IL-22</text>
<text x="402.93" y="122.95" font-size="5.0" fill="#c44a6a" transform="rotate(-90 402.93 122.95)">IL-23</text>
<text x="407.67" y="127.80" font-size="5.0" fill="#c44a6a" transform="rotate(-90 407.67 127.80)">IL-27</text>
<text x="412.41" y="132.64" font-size="5.0" fill="#c44a6a" transform="rotate(-90 412.41 132.64)">IL-31</text>
<text x="417.14" y="137.49" font-size="5.0" fill="#c44a6a" transform="rotate(-90 417.14 137.49)">IL-4</text>
<text x="421.88" y="142.33" font-size="5.0" fill="#c44a6a" transform="rotate(-90 421.88 142.33)">IL-5</text>
<text x="426.61" y="147.18" font-size="5.0" fill="#c44a6a" transform="rotate(-90 426.61 147.18)">IL-6</text>
<text x="431.35" y="152.02" font-size="5.0" fill="#c44a6a" transform="rotate(-90 431.35 152.02)">IL-7</text>
<text x="436.09" y="156.87" font-size="5.0" fill="#c44a6a" transform="rotate(-90 436.09 156.87)">IL-8_23</text>
<text x="440.82" y="161.71" font-size="5.0" fill="#c44a6a" transform="rotate(-90 440.82 161.71)">IL-8_9</text>
<text x="445.56" y="166.56" font-size="5.0" fill="#c44a6a" transform="rotate(-90 445.56 166.56)">IL1RL1/ST2</text>
<text x="450.29" y="171.40" font-size="5.0" fill="#c44a6a" transform="rotate(-90 450.29 171.40)">IP-10</text>
<text x="455.03" y="176.25" font-size="5.0" fill="#c44a6a" transform="rotate(-90 455.03 176.25)">MCP-1</text>
<text x="459.77" y="181.09" font-size="5.0" fill="#c44a6a" transform="rotate(-90 459.77 181.09)">MCP-4</text>
<text x="464.50" y="185.94" font-size="5.0" fill="#c44a6a" transform="rotate(-90 464.50 185.94)">MDC</text>
<text x="469.24" y="190.78" font-size="5.0" fill="#c44a6a" transform="rotate(-90 469.24 190.78)">MIP-1α</text>
<text x="473.97" y="195.63" font-size="5.0" fill="#c44a6a" transform="rotate(-90 473.97 195.63)">MIP-1β</text>
<text x="478.71" y="200.47" font-size="5.0" fill="#c44a6a" transform="rotate(-90 478.71 200.47)">MIP-3α</text>
<text x="483.45" y="205.32" font-size="5.0" fill="#c44a6a" transform="rotate(-90 483.45 205.32)">TARC</text>
<text x="488.18" y="210.16" font-size="5.0" fill="#c44a6a" transform="rotate(-90 488.18 210.16)">TGF-β2</text>
<text x="492.92" y="215.01" font-size="5.0" fill="#c44a6a" transform="rotate(-90 492.92 215.01)">TGF-β1</text>
<text x="497.65" y="219.85" font-size="5.0" fill="#c44a6a" transform="rotate(-90 497.65 219.85)">TGFβ-3</text>
<text x="502.39" y="224.70" font-size="5.0" fill="#c44a6a" transform="rotate(-90 502.39 224.70)">TNF-α</text>
<text x="507.13" y="229.54" font-size="5.0" fill="#c44a6a" transform="rotate(-90 507.13 229.54)">TNF-β</text>
<text x="511.86" y="234.39" font-size="5.0" fill="#c44a6a" transform="rotate(-90 511.86 234.39)">VEGF</text>
<rect x="53.30" y="245.70" width="209.20" height="8.70" fill="url(#gA)" stroke="#999" stroke-width="0.4"/>
<line x1="53.30" y1="253.60" x2="53.30" y2="255.00" stroke="#555" stroke-width="0.5"/>
<text x="53.30" y="263.20" font-size="5.0" fill="#333" text-anchor="middle">−1</text>
<line x1="74.22" y1="253.60" x2="74.22" y2="255.00" stroke="#555" stroke-width="0.5"/>
<text x="74.22" y="263.20" font-size="5.0" fill="#333" text-anchor="middle">−0.8</text>
<line x1="95.14" y1="253.60" x2="95.14" y2="255.00" stroke="#555" stroke-width="0.5"/>
<text x="95.14" y="263.20" font-size="5.0" fill="#333" text-anchor="middle">−0.6</text>
<line x1="116.06" y1="253.60" x2="116.06" y2="255.00" stroke="#555" stroke-width="0.5"/>
<text x="116.06" y="263.20" font-size="5.0" fill="#333" text-anchor="middle">−0.4</text>
<line x1="136.98" y1="253.60" x2="136.98" y2="255.00" stroke="#555" stroke-width="0.5"/>
<text x="136.98" y="263.20" font-size="5.0" fill="#333" text-anchor="middle">−0.2</text>
<line x1="157.90" y1="253.60" x2="157.90" y2="255.00" stroke="#555" stroke-width="0.5"/>
<text x="157.90" y="263.20" font-size="5.0" fill="#333" text-anchor="middle">0</text>
<line x1="178.82" y1="253.60" x2="178.82" y2="255.00" stroke="#555" stroke-width="0.5"/>
<text x="178.82" y="263.20" font-size="5.0" fill="#333" text-anchor="middle">0.2</text>
<line x1="199.74" y1="253.60" x2="199.74" y2="255.00" stroke="#555" stroke-width="0.5"/>
<text x="199.74" y="263.20" font-size="5.0" fill="#333" text-anchor="middle">0.4</text>
<line x1="220.66" y1="253.60" x2="220.66" y2="255.00" stroke="#555" stroke-width="0.5"/>
<text x="220.66" y="263.20" font-size="5.0" fill="#333" text-anchor="middle">0.6</text>
<line x1="241.58" y1="253.60" x2="241.58" y2="255.00" stroke="#555" stroke-width="0.5"/>
<text x="241.58" y="263.20" font-size="5.0" fill="#333" text-anchor="middle">0.8</text>
<line x1="262.50" y1="253.60" x2="262.50" y2="255.00" stroke="#555" stroke-width="0.5"/>
<text x="262.50" y="263.20" font-size="5.0" fill="#333" text-anchor="middle">1</text>
<rect x="308.60" y="245.70" width="204.00" height="8.50" fill="url(#gB)" stroke="#999" stroke-width="0.4"/>
<line x1="308.60" y1="253.40" x2="308.60" y2="254.80" stroke="#555" stroke-width="0.5"/>
<text x="308.60" y="263.20" font-size="5.0" fill="#333" text-anchor="middle">−1</text>
<line x1="329.00" y1="253.40" x2="329.00" y2="254.80" stroke="#555" stroke-width="0.5"/>
<text x="329.00" y="263.20" font-size="5.0" fill="#333" text-anchor="middle">−0.8</text>
<line x1="349.40" y1="253.40" x2="349.40" y2="254.80" stroke="#555" stroke-width="0.5"/>
<text x="349.40" y="263.20" font-size="5.0" fill="#333" text-anchor="middle">−0.6</text>
<line x1="369.80" y1="253.40" x2="369.80" y2="254.80" stroke="#555" stroke-width="0.5"/>
<text x="369.80" y="263.20" font-size="5.0" fill="#333" text-anchor="middle">−0.4</text>
<line x1="390.20" y1="253.40" x2="390.20" y2="254.80" stroke="#555" stroke-width="0.5"/>
<text x="390.20" y="263.20" font-size="5.0" fill="#333" text-anchor="middle">−0.2</text>
<line x1="410.60" y1="253.40" x2="410.60" y2="254.80" stroke="#555" stroke-width="0.5"/>
<text x="410.60" y="263.20" font-size="5.0" fill="#333" text-anchor="middle">0</text>
<line x1="431.00" y1="253.40" x2="431.00" y2="254.80" stroke="#555" stroke-width="0.5"/>
<text x="431.00" y="263.20" font-size="5.0" fill="#333" text-anchor="middle">0.2</text>
<line x1="451.40" y1="253.40" x2="451.40" y2="254.80" stroke="#555" stroke-width="0.5"/>
<text x="451.40" y="263.20" font-size="5.0" fill="#333" text-anchor="middle">0.4</text>
<line x1="471.80" y1="253.40" x2="471.80" y2="254.80" stroke="#555" stroke-width="0.5"/>
<text x="471.80" y="263.20" font-size="5.0" fill="#333" text-anchor="middle">0.6</text>
<line x1="492.20" y1="253.40" x2="492.20" y2="254.80" stroke="#555" stroke-width="0.5"/>
<text x="492.20" y="263.20" font-size="5.0" fill="#333" text-anchor="middle">0.8</text>
<line x1="512.60" y1="253.40" x2="512.60" y2="254.80" stroke="#555" stroke-width="0.5"/>
<text x="512.60" y="263.20" font-size="5.0" fill="#333" text-anchor="middle">1</text>
<text x="7.00" y="288.20" font-size="11" fill="#111" font-weight="bold">B</text>
<line x1="50.30" y1="297.50" x2="50.30" y2="357.70" stroke="#333" stroke-width="1.1"/>
<line x1="49.80" y1="357.70" x2="99.40" y2="357.70" stroke="#333" stroke-width="1.1"/>
<line x1="48.10" y1="301.70" x2="50.30" y2="301.70" stroke="#333" stroke-width="0.8"/>
<text x="44.70" y="303.90" font-size="6.4" fill="#333" text-anchor="end">2.0e + 01</text>
<line x1="48.10" y1="315.00" x2="50.30" y2="315.00" stroke="#333" stroke-width="0.8"/>
<text x="44.70" y="317.20" font-size="6.4" fill="#333" text-anchor="end">1.5e + 01</text>
<line x1="48.10" y1="328.40" x2="50.30" y2="328.40" stroke="#333" stroke-width="0.8"/>
<text x="44.70" y="330.60" font-size="6.4" fill="#333" text-anchor="end">1.0e + 01</text>
<line x1="48.10" y1="342.00" x2="50.30" y2="342.00" stroke="#333" stroke-width="0.8"/>
<text x="44.70" y="344.20" font-size="6.4" fill="#333" text-anchor="end">5.0e + 00</text>
<line x1="48.10" y1="355.30" x2="50.30" y2="355.30" stroke="#333" stroke-width="0.8"/>
<text x="44.70" y="357.50" font-size="6.4" fill="#333" text-anchor="end">0.0e + 00</text>
<line x1="65.00" y1="357.70" x2="65.00" y2="359.70" stroke="#333" stroke-width="0.8"/>
<line x1="87.40" y1="357.70" x2="87.40" y2="359.70" stroke="#333" stroke-width="0.8"/>
<text x="65.00" y="368.80" font-size="6.2" fill="#333" text-anchor="middle">Pre</text>
<text x="87.40" y="368.80" font-size="6.2" fill="#333" text-anchor="middle">Post</text>
<text x="12.80" y="327.90" font-size="7.2" fill="#3a3a3a" text-anchor="middle" font-weight="bold" textLength="37.50" lengthAdjust="spacingAndGlyphs" transform="rotate(-90 12.80 327.90)">IL-17A (pg/mL)</text>
<text x="75.50" y="296.2" font-size="6.2" fill="#333" text-anchor="middle"><tspan font-style="italic">P</tspan> = .65</text>
<line x1="65.00" y1="300.50" x2="87.40" y2="326.50" stroke="#c4c4c4" stroke-width="0.5"/>
<circle cx="65.00" cy="300.50" r="0.55" fill="#888"/>
<circle cx="87.40" cy="326.50" r="0.55" fill="#888"/>
<line x1="65.00" y1="351.50" x2="87.40" y2="352.50" stroke="#c4c4c4" stroke-width="0.5"/>
<circle cx="65.00" cy="351.50" r="0.55" fill="#888"/>
<circle cx="87.40" cy="352.50" r="0.55" fill="#888"/>
<line x1="65.00" y1="354.50" x2="87.40" y2="354.00" stroke="#c4c4c4" stroke-width="0.5"/>
<circle cx="65.00" cy="354.50" r="0.55" fill="#888"/>
<circle cx="87.40" cy="354.00" r="0.55" fill="#888"/>
<line x1="65.00" y1="355.00" x2="87.40" y2="355.00" stroke="#c4c4c4" stroke-width="0.5"/>
<circle cx="65.00" cy="355.00" r="0.55" fill="#888"/>
<circle cx="87.40" cy="355.00" r="0.55" fill="#888"/>
<line x1="65.00" y1="354.00" x2="87.40" y2="353.00" stroke="#c4c4c4" stroke-width="0.5"/>
<circle cx="65.00" cy="354.00" r="0.55" fill="#888"/>
<circle cx="87.40" cy="353.00" r="0.55" fill="#888"/>
<line x1="65.00" y1="355.30" x2="87.40" y2="354.50" stroke="#c4c4c4" stroke-width="0.5"/>
<circle cx="65.00" cy="355.30" r="0.55" fill="#888"/>
<circle cx="87.40" cy="354.50" r="0.55" fill="#888"/>
<rect x="59.50" y="354.00" width="11.00" height="1.60" fill="#ec7c82" fill-opacity="0.9" stroke="#ec7c82" stroke-width="0.4"/>
<line x1="65.00" y1="356.00" x2="65.00" y2="352.50" stroke="#d43c48" stroke-width="0.7" opacity="0.8"/>
<line x1="59.50" y1="354.80" x2="70.50" y2="354.80" stroke="#d43c48" stroke-width="0.6" opacity="0.7"/>
<rect x="81.90" y="353.00" width="11.00" height="2.20" fill="#7d90c6" fill-opacity="0.9" stroke="#7d90c6" stroke-width="0.4"/>
<line x1="87.40" y1="356.00" x2="87.40" y2="351.50" stroke="#3d56a0" stroke-width="0.7" opacity="0.8"/>
<line x1="81.90" y1="354.00" x2="92.90" y2="354.00" stroke="#3d56a0" stroke-width="0.6" opacity="0.7"/>
<line x1="148.20" y1="297.50" x2="148.20" y2="357.70" stroke="#333" stroke-width="1.1"/>
<line x1="147.70" y1="357.70" x2="200.50" y2="357.70" stroke="#333" stroke-width="1.1"/>
<line x1="146.00" y1="301.70" x2="148.20" y2="301.70" stroke="#333" stroke-width="0.8"/>
<text x="142.60" y="303.90" font-size="6.4" fill="#333" text-anchor="end">6e + 02</text>
<line x1="146.00" y1="319.70" x2="148.20" y2="319.70" stroke="#333" stroke-width="0.8"/>
<text x="142.60" y="321.90" font-size="6.4" fill="#333" text-anchor="end">4e + 02</text>
<line x1="146.00" y1="337.70" x2="148.20" y2="337.70" stroke="#333" stroke-width="0.8"/>
<text x="142.60" y="339.90" font-size="6.4" fill="#333" text-anchor="end">2e + 02</text>
<line x1="146.00" y1="355.30" x2="148.20" y2="355.30" stroke="#333" stroke-width="0.8"/>
<text x="142.60" y="357.50" font-size="6.4" fill="#333" text-anchor="end">0e + 00</text>
<line x1="162.80" y1="357.70" x2="162.80" y2="359.70" stroke="#333" stroke-width="0.8"/>
<line x1="186.70" y1="357.70" x2="186.70" y2="359.70" stroke="#333" stroke-width="0.8"/>
<text x="162.80" y="368.80" font-size="6.2" fill="#333" text-anchor="middle">Pre</text>
<text x="186.70" y="368.80" font-size="6.2" fill="#333" text-anchor="middle">Post</text>
<text x="115.50" y="327.70" font-size="7.2" fill="#3a3a3a" text-anchor="middle" font-weight="bold" textLength="41.00" lengthAdjust="spacingAndGlyphs" transform="rotate(-90 115.50 327.70)">TGF-β1 (pg/mL)</text>
<text x="174.60" y="296.2" font-size="6.2" fill="#333" text-anchor="middle"><tspan font-style="italic">P</tspan> = .027</text>
<line x1="162.80" y1="300.50" x2="186.70" y2="343.00" stroke="#c4c4c4" stroke-width="0.5"/>
<circle cx="162.80" cy="300.50" r="0.55" fill="#888"/>
<circle cx="186.70" cy="343.00" r="0.55" fill="#888"/>
<line x1="162.80" y1="313.50" x2="186.70" y2="344.50" stroke="#c4c4c4" stroke-width="0.5"/>
<circle cx="162.80" cy="313.50" r="0.55" fill="#888"/>
<circle cx="186.70" cy="344.50" r="0.55" fill="#888"/>
<line x1="162.80" y1="345.00" x2="186.70" y2="349.00" stroke="#c4c4c4" stroke-width="0.5"/>
<circle cx="162.80" cy="345.00" r="0.55" fill="#888"/>
<circle cx="186.70" cy="349.00" r="0.55" fill="#888"/>
<line x1="162.80" y1="348.00" x2="186.70" y2="347.00" stroke="#c4c4c4" stroke-width="0.5"/>
<circle cx="162.80" cy="348.00" r="0.55" fill="#888"/>
<circle cx="186.70" cy="347.00" r="0.55" fill="#888"/>
<line x1="162.80" y1="351.00" x2="186.70" y2="346.00" stroke="#c4c4c4" stroke-width="0.5"/>
<circle cx="162.80" cy="351.00" r="0.55" fill="#888"/>
<circle cx="186.70" cy="346.00" r="0.55" fill="#888"/>
<line x1="162.80" y1="346.00" x2="186.70" y2="350.00" stroke="#c4c4c4" stroke-width="0.5"/>
<circle cx="162.80" cy="346.00" r="0.55" fill="#888"/>
<circle cx="186.70" cy="350.00" r="0.55" fill="#888"/>
<rect x="156.80" y="343.60" width="12.00" height="6.80" fill="#ec7c82" fill-opacity="0.9" stroke="#ec7c82" stroke-width="0.4"/>
<line x1="162.80" y1="354.50" x2="162.80" y2="340.00" stroke="#d43c48" stroke-width="0.7" opacity="0.8"/>
<line x1="156.80" y1="347.00" x2="168.80" y2="347.00" stroke="#d43c48" stroke-width="0.6" opacity="0.7"/>
<rect x="180.70" y="343.60" width="12.00" height="7.20" fill="#7d90c6" fill-opacity="0.9" stroke="#7d90c6" stroke-width="0.4"/>
<line x1="186.70" y1="352.50" x2="186.70" y2="341.00" stroke="#3d56a0" stroke-width="0.7" opacity="0.8"/>
<line x1="180.70" y1="347.50" x2="192.70" y2="347.50" stroke="#3d56a0" stroke-width="0.6" opacity="0.7"/>
<line x1="248.00" y1="297.50" x2="248.00" y2="357.70" stroke="#333" stroke-width="1.1"/>
<line x1="247.50" y1="357.70" x2="302.00" y2="357.70" stroke="#333" stroke-width="1.1"/>
<line x1="245.80" y1="305.20" x2="248.00" y2="305.20" stroke="#333" stroke-width="0.8"/>
<text x="242.40" y="307.40" font-size="6.4" fill="#333" text-anchor="end">6e + 01</text>
<line x1="245.80" y1="322.40" x2="248.00" y2="322.40" stroke="#333" stroke-width="0.8"/>
<text x="242.40" y="324.60" font-size="6.4" fill="#333" text-anchor="end">4e + 01</text>
<line x1="245.80" y1="339.80" x2="248.00" y2="339.80" stroke="#333" stroke-width="0.8"/>
<text x="242.40" y="342.00" font-size="6.4" fill="#333" text-anchor="end">2e + 01</text>
<line x1="245.80" y1="357.20" x2="248.00" y2="357.20" stroke="#333" stroke-width="0.8"/>
<text x="242.40" y="359.40" font-size="6.4" fill="#333" text-anchor="end">0e + 00</text>
<line x1="263.10" y1="357.70" x2="263.10" y2="359.70" stroke="#333" stroke-width="0.8"/>
<line x1="286.50" y1="357.70" x2="286.50" y2="359.70" stroke="#333" stroke-width="0.8"/>
<text x="263.10" y="368.80" font-size="6.2" fill="#333" text-anchor="middle">Pre</text>
<text x="286.50" y="368.80" font-size="6.2" fill="#333" text-anchor="middle">Post</text>
<text x="215.50" y="328.70" font-size="7.2" fill="#3a3a3a" text-anchor="middle" font-weight="bold" textLength="50.00" lengthAdjust="spacingAndGlyphs" transform="rotate(-90 215.50 328.70)">IL1RL1/ST2 (pg/mL)</text>
<text x="274.70" y="296.2" font-size="6.2" fill="#333" text-anchor="middle"><tspan font-style="italic">P</tspan> = .07</text>
<line x1="263.10" y1="300.50" x2="286.50" y2="326.50" stroke="#c4c4c4" stroke-width="0.5"/>
<circle cx="263.10" cy="300.50" r="0.55" fill="#888"/>
<circle cx="286.50" cy="326.50" r="0.55" fill="#888"/>
<line x1="263.10" y1="343.00" x2="286.50" y2="335.00" stroke="#c4c4c4" stroke-width="0.5"/>
<circle cx="263.10" cy="343.00" r="0.55" fill="#888"/>
<circle cx="286.50" cy="335.00" r="0.55" fill="#888"/>
<line x1="263.10" y1="346.00" x2="286.50" y2="349.00" stroke="#c4c4c4" stroke-width="0.5"/>
<circle cx="263.10" cy="346.00" r="0.55" fill="#888"/>
<circle cx="286.50" cy="349.00" r="0.55" fill="#888"/>
<line x1="263.10" y1="347.00" x2="286.50" y2="352.00" stroke="#c4c4c4" stroke-width="0.5"/>
<circle cx="263.10" cy="347.00" r="0.55" fill="#888"/>
<circle cx="286.50" cy="352.00" r="0.55" fill="#888"/>
<line x1="263.10" y1="345.00" x2="286.50" y2="346.00" stroke="#c4c4c4" stroke-width="0.5"/>
<circle cx="263.10" cy="345.00" r="0.55" fill="#888"/>
<circle cx="286.50" cy="346.00" r="0.55" fill="#888"/>
<line x1="263.10" y1="349.00" x2="286.50" y2="353.00" stroke="#c4c4c4" stroke-width="0.5"/>
<circle cx="263.10" cy="349.00" r="0.55" fill="#888"/>
<circle cx="286.50" cy="353.00" r="0.55" fill="#888"/>
<rect x="256.85" y="344.00" width="12.50" height="4.60" fill="#ec7c82" fill-opacity="0.9" stroke="#ec7c82" stroke-width="0.4"/>
<line x1="263.10" y1="354.00" x2="263.10" y2="338.00" stroke="#d43c48" stroke-width="0.7" opacity="0.8"/>
<line x1="256.85" y1="346.30" x2="269.35" y2="346.30" stroke="#d43c48" stroke-width="0.6" opacity="0.7"/>
<rect x="280.50" y="345.70" width="12.00" height="8.00" fill="#7d90c6" fill-opacity="0.9" stroke="#7d90c6" stroke-width="0.4"/>
<line x1="286.50" y1="356.50" x2="286.50" y2="334.00" stroke="#3d56a0" stroke-width="0.7" opacity="0.8"/>
<line x1="280.50" y1="350.00" x2="292.50" y2="350.00" stroke="#3d56a0" stroke-width="0.6" opacity="0.7"/>
<line x1="348.70" y1="297.50" x2="348.70" y2="357.70" stroke="#333" stroke-width="1.1"/>
<line x1="348.20" y1="357.70" x2="402.60" y2="357.70" stroke="#333" stroke-width="1.1"/>
<line x1="346.50" y1="311.30" x2="348.70" y2="311.30" stroke="#333" stroke-width="0.8"/>
<text x="343.10" y="313.50" font-size="6.4" fill="#333" text-anchor="end">3e + 01</text>
<line x1="346.50" y1="326.00" x2="348.70" y2="326.00" stroke="#333" stroke-width="0.8"/>
<text x="343.10" y="328.20" font-size="6.4" fill="#333" text-anchor="end">2e + 01</text>
<line x1="346.50" y1="340.40" x2="348.70" y2="340.40" stroke="#333" stroke-width="0.8"/>
<text x="343.10" y="342.60" font-size="6.4" fill="#333" text-anchor="end">1e + 01</text>
<line x1="346.50" y1="355.30" x2="348.70" y2="355.30" stroke="#333" stroke-width="0.8"/>
<text x="343.10" y="357.50" font-size="6.4" fill="#333" text-anchor="end">0e + 00</text>
<line x1="362.90" y1="357.70" x2="362.90" y2="359.70" stroke="#333" stroke-width="0.8"/>
<line x1="387.90" y1="357.70" x2="387.90" y2="359.70" stroke="#333" stroke-width="0.8"/>
<text x="362.90" y="368.80" font-size="6.2" fill="#333" text-anchor="middle">Pre</text>
<text x="387.90" y="368.80" font-size="6.2" fill="#333" text-anchor="middle">Post</text>
<text x="316.50" y="328.20" font-size="7.2" fill="#3a3a3a" text-anchor="middle" font-weight="bold" textLength="46.40" lengthAdjust="spacingAndGlyphs" transform="rotate(-90 316.50 328.20)">Eotaxin-3 (pg/mL)</text>
<text x="375.60" y="296.2" font-size="6.2" fill="#333" text-anchor="middle"><tspan font-style="italic">P</tspan> = .031</text>
<line x1="362.90" y1="339.50" x2="387.90" y2="340.50" stroke="#c4c4c4" stroke-width="0.5"/>
<circle cx="362.90" cy="339.50" r="0.55" fill="#888"/>
<circle cx="387.90" cy="340.50" r="0.55" fill="#888"/>
<line x1="362.90" y1="339.50" x2="387.90" y2="300.00" stroke="#c4c4c4" stroke-width="0.5"/>
<circle cx="362.90" cy="339.50" r="0.55" fill="#888"/>
<circle cx="387.90" cy="300.00" r="0.55" fill="#888"/>
<line x1="362.90" y1="351.00" x2="387.90" y2="347.50" stroke="#c4c4c4" stroke-width="0.5"/>
<circle cx="362.90" cy="351.00" r="0.55" fill="#888"/>
<circle cx="387.90" cy="347.50" r="0.55" fill="#888"/>
<line x1="362.90" y1="353.00" x2="387.90" y2="349.00" stroke="#c4c4c4" stroke-width="0.5"/>
<circle cx="362.90" cy="353.00" r="0.55" fill="#888"/>
<circle cx="387.90" cy="349.00" r="0.55" fill="#888"/>
<line x1="362.90" y1="354.00" x2="387.90" y2="352.00" stroke="#c4c4c4" stroke-width="0.5"/>
<circle cx="362.90" cy="354.00" r="0.55" fill="#888"/>
<circle cx="387.90" cy="352.00" r="0.55" fill="#888"/>
<line x1="362.90" y1="354.50" x2="387.90" y2="354.00" stroke="#c4c4c4" stroke-width="0.5"/>
<circle cx="362.90" cy="354.50" r="0.55" fill="#888"/>
<circle cx="387.90" cy="354.00" r="0.55" fill="#888"/>
<rect x="356.90" y="351.40" width="12.00" height="3.20" fill="#ec7c82" fill-opacity="0.9" stroke="#ec7c82" stroke-width="0.4"/>
<line x1="362.90" y1="355.50" x2="362.90" y2="350.00" stroke="#d43c48" stroke-width="0.7" opacity="0.8"/>
<line x1="356.90" y1="353.00" x2="368.90" y2="353.00" stroke="#d43c48" stroke-width="0.6" opacity="0.7"/>
<rect x="381.90" y="346.60" width="12.00" height="8.00" fill="#7d90c6" fill-opacity="0.9" stroke="#7d90c6" stroke-width="0.4"/>
<line x1="387.90" y1="355.50" x2="387.90" y2="340.50" stroke="#3d56a0" stroke-width="0.7" opacity="0.8"/>
<line x1="381.90" y1="351.00" x2="393.90" y2="351.00" stroke="#3d56a0" stroke-width="0.6" opacity="0.7"/>
<line x1="450.30" y1="298.70" x2="450.30" y2="358.00" stroke="#333" stroke-width="1.1"/>
<line x1="449.80" y1="358.00" x2="503.40" y2="358.00" stroke="#333" stroke-width="1.1"/>
<line x1="448.10" y1="308.70" x2="450.30" y2="308.70" stroke="#333" stroke-width="0.8"/>
<text x="444.70" y="310.90" font-size="6.4" fill="#333" text-anchor="end">3e + 02</text>
<line x1="448.10" y1="324.20" x2="450.30" y2="324.20" stroke="#333" stroke-width="0.8"/>
<text x="444.70" y="326.40" font-size="6.4" fill="#333" text-anchor="end">2e + 02</text>
<line x1="448.10" y1="339.70" x2="450.30" y2="339.70" stroke="#333" stroke-width="0.8"/>
<text x="444.70" y="341.90" font-size="6.4" fill="#333" text-anchor="end">1e + 02</text>
<line x1="448.10" y1="355.10" x2="450.30" y2="355.10" stroke="#333" stroke-width="0.8"/>
<text x="444.70" y="357.30" font-size="6.4" fill="#333" text-anchor="end">0e + 00</text>
<line x1="464.80" y1="358.00" x2="464.80" y2="360.00" stroke="#333" stroke-width="0.8"/>
<line x1="489.20" y1="358.00" x2="489.20" y2="360.00" stroke="#333" stroke-width="0.8"/>
<text x="464.80" y="368.80" font-size="6.2" fill="#333" text-anchor="middle">Pre</text>
<text x="489.20" y="368.80" font-size="6.2" fill="#333" text-anchor="middle">Post</text>
<text x="416.80" y="329.00" font-size="7.2" fill="#3a3a3a" text-anchor="middle" font-weight="bold" textLength="32.00" lengthAdjust="spacingAndGlyphs" transform="rotate(-90 416.80 329.00)">MDC (pg/mL)</text>
<text x="477.20" y="296.2" font-size="6.2" fill="#333" text-anchor="middle"><tspan font-style="italic">P</tspan> = .034</text>
<line x1="464.80" y1="336.50" x2="489.20" y2="335.80" stroke="#c4c4c4" stroke-width="0.5"/>
<circle cx="464.80" cy="336.50" r="0.55" fill="#888"/>
<circle cx="489.20" cy="335.80" r="0.55" fill="#888"/>
<line x1="464.80" y1="336.50" x2="489.20" y2="300.50" stroke="#c4c4c4" stroke-width="0.5"/>
<circle cx="464.80" cy="336.50" r="0.55" fill="#888"/>
<circle cx="489.20" cy="300.50" r="0.55" fill="#888"/>
<line x1="464.80" y1="341.50" x2="489.20" y2="344.50" stroke="#c4c4c4" stroke-width="0.5"/>
<circle cx="464.80" cy="341.50" r="0.55" fill="#888"/>
<circle cx="489.20" cy="344.50" r="0.55" fill="#888"/>
<line x1="464.80" y1="350.00" x2="489.20" y2="348.00" stroke="#c4c4c4" stroke-width="0.5"/>
<circle cx="464.80" cy="350.00" r="0.55" fill="#888"/>
<circle cx="489.20" cy="348.00" r="0.55" fill="#888"/>
<line x1="464.80" y1="353.00" x2="489.20" y2="352.00" stroke="#c4c4c4" stroke-width="0.5"/>
<circle cx="464.80" cy="353.00" r="0.55" fill="#888"/>
<circle cx="489.20" cy="352.00" r="0.55" fill="#888"/>
<line x1="464.80" y1="354.50" x2="489.20" y2="353.50" stroke="#c4c4c4" stroke-width="0.5"/>
<circle cx="464.80" cy="354.50" r="0.55" fill="#888"/>
<circle cx="489.20" cy="353.50" r="0.55" fill="#888"/>
<rect x="458.80" y="341.90" width="12.00" height="12.80" fill="#ec7c82" fill-opacity="0.9" stroke="#ec7c82" stroke-width="0.4"/>
<line x1="464.80" y1="355.50" x2="464.80" y2="336.00" stroke="#d43c48" stroke-width="0.7" opacity="0.8"/>
<line x1="458.80" y1="352.00" x2="470.80" y2="352.00" stroke="#d43c48" stroke-width="0.6" opacity="0.7"/>
<rect x="483.20" y="338.60" width="12.00" height="14.30" fill="#7d90c6" fill-opacity="0.9" stroke="#7d90c6" stroke-width="0.4"/>
<line x1="489.20" y1="355.00" x2="489.20" y2="335.50" stroke="#3d56a0" stroke-width="0.7" opacity="0.8"/>
<line x1="483.20" y1="347.50" x2="495.20" y2="347.50" stroke="#3d56a0" stroke-width="0.6" opacity="0.7"/>
<text x="7.00" y="395.20" font-size="11" fill="#111" font-weight="bold">C</text>
<rect x="52.22" y="434.38" width="7.97" height="8.23" fill="none" stroke="#cacaca" stroke-width="0.5"/><rect x="52.22" y="442.62" width="7.97" height="8.23" fill="none" stroke="#cacaca" stroke-width="0.5"/><rect x="60.19" y="442.62" width="7.97" height="8.23" fill="none" stroke="#cacaca" stroke-width="0.5"/><rect x="52.22" y="450.84" width="7.97" height="8.23" fill="none" stroke="#cacaca" stroke-width="0.5"/><rect x="60.19" y="450.84" width="7.97" height="8.23" fill="none" stroke="#cacaca" stroke-width="0.5"/><rect x="68.16" y="450.84" width="7.97" height="8.23" fill="none" stroke="#cacaca" stroke-width="0.5"/><rect x="52.22" y="459.07" width="7.97" height="8.23" fill="none" stroke="#cacaca" stroke-width="0.5"/><rect x="60.19" y="459.07" width="7.97" height="8.23" fill="none" stroke="#cacaca" stroke-width="0.5"/><rect x="68.16" y="459.07" width="7.97" height="8.23" fill="none" stroke="#cacaca" stroke-width="0.5"/><rect x="76.12" y="459.07" width="7.97" height="8.23" fill="none" stroke="#cacaca" stroke-width="0.5"/><rect x="52.22" y="467.31" width="7.97" height="8.23" fill="none" stroke="#cacaca" stroke-width="0.5"/><rect x="60.19" y="467.31" width="7.97" height="8.23" fill="none" stroke="#cacaca" stroke-width="0.5"/><rect x="68.16" y="467.31" width="7.97" height="8.23" fill="none" stroke="#cacaca" stroke-width="0.5"/><rect x="76.12" y="467.31" width="7.97" height="8.23" fill="none" stroke="#cacaca" stroke-width="0.5"/><rect x="84.09" y="467.31" width="7.97" height="8.23" fill="none" stroke="#cacaca" stroke-width="0.5"/><rect x="52.22" y="475.53" width="7.97" height="8.23" fill="none" stroke="#cacaca" stroke-width="0.5"/><rect x="60.19" y="475.53" width="7.97" height="8.23" fill="none" stroke="#cacaca" stroke-width="0.5"/><rect x="68.16" y="475.53" width="7.97" height="8.23" fill="none" stroke="#cacaca" stroke-width="0.5"/><rect x="76.12" y="475.53" width="7.97" height="8.23" fill="none" stroke="#cacaca" stroke-width="0.5"/><rect x="84.09" y="475.53" width="7.97" height="8.23" fill="none" stroke="#cacaca" stroke-width="0.5"/><rect x="92.07" y="475.53" width="7.97" height="8.23" fill="none" stroke="#cacaca" stroke-width="0.5"/><rect x="52.22" y="483.76" width="7.97" height="8.23" fill="none" stroke="#cacaca" stroke-width="0.5"/><rect x="60.19" y="483.76" width="7.97" height="8.23" fill="none" stroke="#cacaca" stroke-width="0.5"/><rect x="68.16" y="483.76" width="7.97" height="8.23" fill="none" stroke="#cacaca" stroke-width="0.5"/><rect x="76.12" y="483.76" width="7.97" height="8.23" fill="none" stroke="#cacaca" stroke-width="0.5"/><rect x="84.09" y="483.76" width="7.97" height="8.23" fill="none" stroke="#cacaca" stroke-width="0.5"/><rect x="92.07" y="483.76" width="7.97" height="8.23" fill="none" stroke="#cacaca" stroke-width="0.5"/><rect x="100.04" y="483.76" width="7.97" height="8.23" fill="none" stroke="#cacaca" stroke-width="0.5"/><rect x="52.22" y="492.00" width="7.97" height="8.23" fill="none" stroke="#cacaca" stroke-width="0.5"/><rect x="60.19" y="492.00" width="7.97" height="8.23" fill="none" stroke="#cacaca" stroke-width="0.5"/><rect x="68.16" y="492.00" width="7.97" height="8.23" fill="none" stroke="#cacaca" stroke-width="0.5"/><rect x="76.12" y="492.00" width="7.97" height="8.23" fill="none" stroke="#cacaca" stroke-width="0.5"/><rect x="84.09" y="492.00" width="7.97" height="8.23" fill="none" stroke="#cacaca" stroke-width="0.5"/><rect x="92.07" y="492.00" width="7.97" height="8.23" fill="none" stroke="#cacaca" stroke-width="0.5"/><rect x="100.04" y="492.00" width="7.97" height="8.23" fill="none" stroke="#cacaca" stroke-width="0.5"/><rect x="108.01" y="492.00" width="7.97" height="8.23" fill="none" stroke="#cacaca" stroke-width="0.5"/><rect x="52.22" y="500.23" width="7.97" height="8.23" fill="none" stroke="#cacaca" stroke-width="0.5"/><rect x="60.19" y="500.23" width="7.97" height="8.23" fill="none" stroke="#cacaca" stroke-width="0.5"/><rect x="68.16" y="500.23" width="7.97" height="8.23" fill="none" stroke="#cacaca" stroke-width="0.5"/><rect x="76.12" y="500.23" width="7.97" height="8.23" fill="none" stroke="#cacaca" stroke-width="0.5"/><rect x="84.09" y="500.23" width="7.97" height="8.23" fill="none" stroke="#cacaca" stroke-width="0.5"/><rect x="92.07" y="500.23" width="7.97" height="8.23" fill="none" stroke="#cacaca" stroke-width="0.5"/><rect x="100.04" y="500.23" width="7.97" height="8.23" fill="none" stroke="#cacaca" stroke-width="0.5"/><rect x="108.01" y="500.23" width="7.97" height="8.23" fill="none" stroke="#cacaca" stroke-width="0.5"/><rect x="115.98" y="500.23" width="7.97" height="8.23" fill="none" stroke="#cacaca" stroke-width="0.5"/><rect x="52.22" y="508.46" width="7.97" height="8.23" fill="none" stroke="#cacaca" stroke-width="0.5"/><rect x="60.19" y="508.46" width="7.97" height="8.23" fill="none" stroke="#cacaca" stroke-width="0.5"/><rect x="68.16" y="508.46" width="7.97" height="8.23" fill="none" stroke="#cacaca" stroke-width="0.5"/><rect x="76.12" y="508.46" width="7.97" height="8.23" fill="none" stroke="#cacaca" stroke-width="0.5"/><rect x="84.09" y="508.46" width="7.97" height="8.23" fill="none" stroke="#cacaca" stroke-width="0.5"/><rect x="92.07" y="508.46" width="7.97" height="8.23" fill="none" stroke="#cacaca" stroke-width="0.5"/><rect x="100.04" y="508.46" width="7.97" height="8.23" fill="none" stroke="#cacaca" stroke-width="0.5"/><rect x="108.01" y="508.46" width="7.97" height="8.23" fill="none" stroke="#cacaca" stroke-width="0.5"/><rect x="115.98" y="508.46" width="7.97" height="8.23" fill="none" stroke="#cacaca" stroke-width="0.5"/><rect x="123.95" y="508.46" width="7.97" height="8.23" fill="none" stroke="#cacaca" stroke-width="0.5"/><rect x="52.22" y="516.68" width="7.97" height="8.23" fill="none" stroke="#cacaca" stroke-width="0.5"/><rect x="60.19" y="516.68" width="7.97" height="8.23" fill="none" stroke="#cacaca" stroke-width="0.5"/><rect x="68.16" y="516.68" width="7.97" height="8.23" fill="none" stroke="#cacaca" stroke-width="0.5"/><rect x="76.12" y="516.68" width="7.97" height="8.23" fill="none" stroke="#cacaca" stroke-width="0.5"/><rect x="84.09" y="516.68" width="7.97" height="8.23" fill="none" stroke="#cacaca" stroke-width="0.5"/><rect x="92.07" y="516.68" width="7.97" height="8.23" fill="none" stroke="#cacaca" stroke-width="0.5"/><rect x="100.04" y="516.68" width="7.97" height="8.23" fill="none" stroke="#cacaca" stroke-width="0.5"/><rect x="108.01" y="516.68" width="7.97" height="8.23" fill="none" stroke="#cacaca" stroke-width="0.5"/><rect x="115.98" y="516.68" width="7.97" height="8.23" fill="none" stroke="#cacaca" stroke-width="0.5"/><rect x="123.95" y="516.68" width="7.97" height="8.23" fill="none" stroke="#cacaca" stroke-width="0.5"/><rect x="131.91" y="516.68" width="7.97" height="8.23" fill="none" stroke="#cacaca" stroke-width="0.5"/><rect x="52.22" y="524.91" width="7.97" height="8.23" fill="none" stroke="#cacaca" stroke-width="0.5"/><rect x="60.19" y="524.91" width="7.97" height="8.23" fill="none" stroke="#cacaca" stroke-width="0.5"/><rect x="68.16" y="524.91" width="7.97" height="8.23" fill="none" stroke="#cacaca" stroke-width="0.5"/><rect x="76.12" y="524.91" width="7.97" height="8.23" fill="none" stroke="#cacaca" stroke-width="0.5"/><rect x="84.09" y="524.91" width="7.97" height="8.23" fill="none" stroke="#cacaca" stroke-width="0.5"/><rect x="92.07" y="524.91" width="7.97" height="8.23" fill="none" stroke="#cacaca" stroke-width="0.5"/><rect x="100.04" y="524.91" width="7.97" height="8.23" fill="none" stroke="#cacaca" stroke-width="0.5"/><rect x="108.01" y="524.91" width="7.97" height="8.23" fill="none" stroke="#cacaca" stroke-width="0.5"/><rect x="115.98" y="524.91" width="7.97" height="8.23" fill="none" stroke="#cacaca" stroke-width="0.5"/><rect x="123.95" y="524.91" width="7.97" height="8.23" fill="none" stroke="#cacaca" stroke-width="0.5"/><rect x="131.91" y="524.91" width="7.97" height="8.23" fill="none" stroke="#cacaca" stroke-width="0.5"/><rect x="139.88" y="524.91" width="7.97" height="8.23" fill="none" stroke="#cacaca" stroke-width="0.5"/><rect x="52.22" y="533.14" width="7.97" height="8.23" fill="none" stroke="#cacaca" stroke-width="0.5"/><rect x="60.19" y="533.14" width="7.97" height="8.23" fill="none" stroke="#cacaca" stroke-width="0.5"/><rect x="68.16" y="533.14" width="7.97" height="8.23" fill="none" stroke="#cacaca" stroke-width="0.5"/><rect x="76.12" y="533.14" width="7.97" height="8.23" fill="none" stroke="#cacaca" stroke-width="0.5"/><rect x="84.09" y="533.14" width="7.97" height="8.23" fill="none" stroke="#cacaca" stroke-width="0.5"/><rect x="92.07" y="533.14" width="7.97" height="8.23" fill="none" stroke="#cacaca" stroke-width="0.5"/><rect x="100.04" y="533.14" width="7.97" height="8.23" fill="none" stroke="#cacaca" stroke-width="0.5"/><rect x="108.01" y="533.14" width="7.97" height="8.23" fill="none" stroke="#cacaca" stroke-width="0.5"/><rect x="115.98" y="533.14" width="7.97" height="8.23" fill="none" stroke="#cacaca" stroke-width="0.5"/><rect x="123.95" y="533.14" width="7.97" height="8.23" fill="none" stroke="#cacaca" stroke-width="0.5"/><rect x="131.91" y="533.14" width="7.97" height="8.23" fill="none" stroke="#cacaca" stroke-width="0.5"/><rect x="139.88" y="533.14" width="7.97" height="8.23" fill="none" stroke="#cacaca" stroke-width="0.5"/><rect x="147.85" y="533.14" width="7.97" height="8.23" fill="none" stroke="#cacaca" stroke-width="0.5"/><rect x="52.22" y="541.38" width="7.97" height="8.23" fill="none" stroke="#cacaca" stroke-width="0.5"/><rect x="60.19" y="541.38" width="7.97" height="8.23" fill="none" stroke="#cacaca" stroke-width="0.5"/><rect x="68.16" y="541.38" width="7.97" height="8.23" fill="none" stroke="#cacaca" stroke-width="0.5"/><rect x="76.12" y="541.38" width="7.97" height="8.23" fill="none" stroke="#cacaca" stroke-width="0.5"/><rect x="84.09" y="541.38" width="7.97" height="8.23" fill="none" stroke="#cacaca" stroke-width="0.5"/><rect x="92.07" y="541.38" width="7.97" height="8.23" fill="none" stroke="#cacaca" stroke-width="0.5"/><rect x="100.04" y="541.38" width="7.97" height="8.23" fill="none" stroke="#cacaca" stroke-width="0.5"/><rect x="108.01" y="541.38" width="7.97" height="8.23" fill="none" stroke="#cacaca" stroke-width="0.5"/><rect x="115.98" y="541.38" width="7.97" height="8.23" fill="none" stroke="#cacaca" stroke-width="0.5"/><rect x="123.95" y="541.38" width="7.97" height="8.23" fill="none" stroke="#cacaca" stroke-width="0.5"/><rect x="131.91" y="541.38" width="7.97" height="8.23" fill="none" stroke="#cacaca" stroke-width="0.5"/><rect x="139.88" y="541.38" width="7.97" height="8.23" fill="none" stroke="#cacaca" stroke-width="0.5"/><rect x="147.85" y="541.38" width="7.97" height="8.23" fill="none" stroke="#cacaca" stroke-width="0.5"/><rect x="155.82" y="541.38" width="7.97" height="8.23" fill="none" stroke="#cacaca" stroke-width="0.5"/><rect x="52.22" y="549.61" width="7.97" height="8.23" fill="none" stroke="#cacaca" stroke-width="0.5"/><rect x="60.19" y="549.61" width="7.97" height="8.23" fill="none" stroke="#cacaca" stroke-width="0.5"/><rect x="68.16" y="549.61" width="7.97" height="8.23" fill="none" stroke="#cacaca" stroke-width="0.5"/><rect x="76.12" y="549.61" width="7.97" height="8.23" fill="none" stroke="#cacaca" stroke-width="0.5"/><rect x="84.09" y="549.61" width="7.97" height="8.23" fill="none" stroke="#cacaca" stroke-width="0.5"/><rect x="92.07" y="549.61" width="7.97" height="8.23" fill="none" stroke="#cacaca" stroke-width="0.5"/><rect x="100.04" y="549.61" width="7.97" height="8.23" fill="none" stroke="#cacaca" stroke-width="0.5"/><rect x="108.01" y="549.61" width="7.97" height="8.23" fill="none" stroke="#cacaca" stroke-width="0.5"/><rect x="115.98" y="549.61" width="7.97" height="8.23" fill="none" stroke="#cacaca" stroke-width="0.5"/><rect x="123.95" y="549.61" width="7.97" height="8.23" fill="none" stroke="#cacaca" stroke-width="0.5"/><rect x="131.91" y="549.61" width="7.97" height="8.23" fill="none" stroke="#cacaca" stroke-width="0.5"/><rect x="139.88" y="549.61" width="7.97" height="8.23" fill="none" stroke="#cacaca" stroke-width="0.5"/><rect x="147.85" y="549.61" width="7.97" height="8.23" fill="none" stroke="#cacaca" stroke-width="0.5"/><rect x="155.82" y="549.61" width="7.97" height="8.23" fill="none" stroke="#cacaca" stroke-width="0.5"/><rect x="163.79" y="549.61" width="7.97" height="8.23" fill="none" stroke="#cacaca" stroke-width="0.5"/><rect x="52.22" y="557.84" width="7.97" height="8.23" fill="none" stroke="#cacaca" stroke-width="0.5"/><rect x="60.19" y="557.84" width="7.97" height="8.23" fill="none" stroke="#cacaca" stroke-width="0.5"/><rect x="68.16" y="557.84" width="7.97" height="8.23" fill="none" stroke="#cacaca" stroke-width="0.5"/><rect x="76.12" y="557.84" width="7.97" height="8.23" fill="none" stroke="#cacaca" stroke-width="0.5"/><rect x="84.09" y="557.84" width="7.97" height="8.23" fill="none" stroke="#cacaca" stroke-width="0.5"/><rect x="92.07" y="557.84" width="7.97" height="8.23" fill="none" stroke="#cacaca" stroke-width="0.5"/><rect x="100.04" y="557.84" width="7.97" height="8.23" fill="none" stroke="#cacaca" stroke-width="0.5"/><rect x="108.01" y="557.84" width="7.97" height="8.23" fill="none" stroke="#cacaca" stroke-width="0.5"/><rect x="115.98" y="557.84" width="7.97" height="8.23" fill="none" stroke="#cacaca" stroke-width="0.5"/><rect x="123.95" y="557.84" width="7.97" height="8.23" fill="none" stroke="#cacaca" stroke-width="0.5"/><rect x="131.91" y="557.84" width="7.97" height="8.23" fill="none" stroke="#cacaca" stroke-width="0.5"/><rect x="139.88" y="557.84" width="7.97" height="8.23" fill="none" stroke="#cacaca" stroke-width="0.5"/><rect x="147.85" y="557.84" width="7.97" height="8.23" fill="none" stroke="#cacaca" stroke-width="0.5"/><rect x="155.82" y="557.84" width="7.97" height="8.23" fill="none" stroke="#cacaca" stroke-width="0.5"/><rect x="163.79" y="557.84" width="7.97" height="8.23" fill="none" stroke="#cacaca" stroke-width="0.5"/><rect x="171.76" y="557.84" width="7.97" height="8.23" fill="none" stroke="#cacaca" stroke-width="0.5"/>
<circle cx="56.20" cy="438.50" r="3.55" fill="#6b0623"/><circle cx="56.20" cy="446.73" r="3.25" fill="#c0283c"/><circle cx="64.17" cy="446.73" r="3.55" fill="#6b0623"/><circle cx="56.20" cy="454.96" r="3.25" fill="#c0283c"/><circle cx="64.17" cy="454.96" r="2.6" fill="#e08080"/><path d="M62.67 453.46L65.67 456.46M62.67 456.46L65.67 453.46" stroke="#111" stroke-width="1.15"/><circle cx="72.14" cy="454.96" r="3.55" fill="#6b0623"/><path d="M54.70 461.69L57.70 464.69M54.70 464.69L57.70 461.69" stroke="#111" stroke-width="1.15"/><circle cx="64.17" cy="463.19" r="2.6" fill="#e08080"/><path d="M62.67 461.69L65.67 464.69M62.67 464.69L65.67 461.69" stroke="#111" stroke-width="1.15"/><path d="M70.64 461.69L73.64 464.69M70.64 464.69L73.64 461.69" stroke="#111" stroke-width="1.15"/><circle cx="80.11" cy="463.19" r="3.55" fill="#6b0623"/><circle cx="56.20" cy="471.42" r="3.55" fill="#6b0623"/><circle cx="64.17" cy="471.42" r="3.25" fill="#c0283c"/><circle cx="72.14" cy="471.42" r="3.25" fill="#c0283c"/><path d="M78.61 469.92L81.61 472.92M78.61 472.92L81.61 469.92" stroke="#111" stroke-width="1.15"/><circle cx="88.08" cy="471.42" r="3.55" fill="#6b0623"/><path d="M54.70 478.15L57.70 481.15M54.70 481.15L57.70 478.15" stroke="#111" stroke-width="1.15"/><circle cx="64.17" cy="479.65" r="2.3" fill="#9fc8e0"/><path d="M62.67 478.15L65.67 481.15M62.67 481.15L65.67 478.15" stroke="#111" stroke-width="1.15"/><path d="M70.64 478.15L73.64 481.15M70.64 481.15L73.64 478.15" stroke="#111" stroke-width="1.15"/><circle cx="80.11" cy="479.65" r="2.3" fill="#9fc8e0"/><path d="M78.61 478.15L81.61 481.15M78.61 481.15L81.61 478.15" stroke="#111" stroke-width="1.15"/><path d="M86.58 478.15L89.58 481.15M86.58 481.15L89.58 478.15" stroke="#111" stroke-width="1.15"/><circle cx="96.05" cy="479.65" r="3.55" fill="#6b0623"/><circle cx="56.20" cy="487.88" r="2.6" fill="#3f86bd"/><path d="M54.70 486.38L57.70 489.38M54.70 489.38L57.70 486.38" stroke="#111" stroke-width="1.15"/><path d="M62.67 486.38L65.67 489.38M62.67 489.38L65.67 486.38" stroke="#111" stroke-width="1.15"/><path d="M70.64 486.38L73.64 489.38M70.64 489.38L73.64 486.38" stroke="#111" stroke-width="1.15"/><circle cx="80.11" cy="487.88" r="2.45" fill="#eba58e"/><path d="M78.61 486.38L81.61 489.38M78.61 489.38L81.61 486.38" stroke="#111" stroke-width="1.15"/><circle cx="88.08" cy="487.88" r="2.6" fill="#3f86bd"/><path d="M86.58 486.38L89.58 489.38M86.58 489.38L89.58 486.38" stroke="#111" stroke-width="1.15"/><path d="M94.55 486.38L97.55 489.38M94.55 489.38L97.55 486.38" stroke="#111" stroke-width="1.15"/><circle cx="104.02" cy="487.88" r="3.55" fill="#6b0623"/><path d="M54.70 494.61L57.70 497.61M54.70 497.61L57.70 494.61" stroke="#111" stroke-width="1.15"/><path d="M62.67 494.61L65.67 497.61M62.67 497.61L65.67 494.61" stroke="#111" stroke-width="1.15"/><path d="M70.64 494.61L73.64 497.61M70.64 497.61L73.64 494.61" stroke="#111" stroke-width="1.15"/><path d="M78.61 494.61L81.61 497.61M78.61 497.61L81.61 494.61" stroke="#111" stroke-width="1.15"/><path d="M86.58 494.61L89.58 497.61M86.58 497.61L89.58 494.61" stroke="#111" stroke-width="1.15"/><path d="M94.55 494.61L97.55 497.61M94.55 497.61L97.55 494.61" stroke="#111" stroke-width="1.15"/><path d="M102.52 494.61L105.52 497.61M102.52 497.61L105.52 494.61" stroke="#111" stroke-width="1.15"/><circle cx="111.99" cy="496.11" r="3.55" fill="#6b0623"/><path d="M54.70 502.84L57.70 505.84M54.70 505.84L57.70 502.84" stroke="#111" stroke-width="1.15"/><path d="M62.67 502.84L65.67 505.84M62.67 505.84L65.67 502.84" stroke="#111" stroke-width="1.15"/><path d="M70.64 502.84L73.64 505.84M70.64 505.84L73.64 502.84" stroke="#111" stroke-width="1.15"/><path d="M78.61 502.84L81.61 505.84M78.61 505.84L81.61 502.84" stroke="#111" stroke-width="1.15"/><path d="M86.58 502.84L89.58 505.84M86.58 505.84L89.58 502.84" stroke="#111" stroke-width="1.15"/><path d="M94.55 502.84L97.55 505.84M94.55 505.84L97.55 502.84" stroke="#111" stroke-width="1.15"/><path d="M102.52 502.84L105.52 505.84M102.52 505.84L105.52 502.84" stroke="#111" stroke-width="1.15"/><path d="M110.49 502.84L113.49 505.84M110.49 505.84L113.49 502.84" stroke="#111" stroke-width="1.15"/><circle cx="119.96" cy="504.34" r="3.55" fill="#6b0623"/><path d="M54.70 511.07L57.70 514.07M54.70 514.07L57.70 511.07" stroke="#111" stroke-width="1.15"/><circle cx="64.17" cy="512.57" r="3.25" fill="#c0283c"/><path d="M70.64 511.07L73.64 514.07M70.64 514.07L73.64 511.07" stroke="#111" stroke-width="1.15"/><circle cx="80.11" cy="512.57" r="3.25" fill="#c0283c"/><path d="M86.58 511.07L89.58 514.07M86.58 514.07L89.58 511.07" stroke="#111" stroke-width="1.15"/><path d="M94.55 511.07L97.55 514.07M94.55 514.07L97.55 511.07" stroke="#111" stroke-width="1.15"/><path d="M102.52 511.07L105.52 514.07M102.52 514.07L105.52 511.07" stroke="#111" stroke-width="1.15"/><path d="M110.49 511.07L113.49 514.07M110.49 514.07L113.49 511.07" stroke="#111" stroke-width="1.15"/><path d="M118.46 511.07L121.46 514.07M118.46 514.07L121.46 511.07" stroke="#111" stroke-width="1.15"/><circle cx="127.93" cy="512.57" r="3.55" fill="#6b0623"/><path d="M54.70 519.30L57.70 522.30M54.70 522.30L57.70 519.30" stroke="#111" stroke-width="1.15"/><path d="M62.67 519.30L65.67 522.30M62.67 522.30L65.67 519.30" stroke="#111" stroke-width="1.15"/><path d="M70.64 519.30L73.64 522.30M70.64 522.30L73.64 519.30" stroke="#111" stroke-width="1.15"/><circle cx="80.11" cy="520.80" r="2.3" fill="#9fc8e0"/><path d="M78.61 519.30L81.61 522.30M78.61 522.30L81.61 519.30" stroke="#111" stroke-width="1.15"/><path d="M86.58 519.30L89.58 522.30M86.58 522.30L89.58 519.30" stroke="#111" stroke-width="1.15"/><path d="M94.55 519.30L97.55 522.30M94.55 522.30L97.55 519.30" stroke="#111" stroke-width="1.15"/><path d="M102.52 519.30L105.52 522.30M102.52 522.30L105.52 519.30" stroke="#111" stroke-width="1.15"/><path d="M110.49 519.30L113.49 522.30M110.49 522.30L113.49 519.30" stroke="#111" stroke-width="1.15"/><circle cx="119.96" cy="520.80" r="3.55" fill="#6b0623"/><path d="M126.43 519.30L129.43 522.30M126.43 522.30L129.43 519.30" stroke="#111" stroke-width="1.15"/><circle cx="135.90" cy="520.80" r="3.55" fill="#6b0623"/><path d="M54.70 527.53L57.70 530.53M54.70 530.53L57.70 527.53" stroke="#111" stroke-width="1.15"/><circle cx="64.17" cy="529.03" r="2.45" fill="#eba58e"/><path d="M62.67 527.53L65.67 530.53M62.67 530.53L65.67 527.53" stroke="#111" stroke-width="1.15"/><path d="M70.64 527.53L73.64 530.53M70.64 530.53L73.64 527.53" stroke="#111" stroke-width="1.15"/><circle cx="80.11" cy="529.03" r="2.45" fill="#eba58e"/><path d="M78.61 527.53L81.61 530.53M78.61 530.53L81.61 527.53" stroke="#111" stroke-width="1.15"/><path d="M86.58 527.53L89.58 530.53M86.58 530.53L89.58 527.53" stroke="#111" stroke-width="1.15"/><path d="M94.55 527.53L97.55 530.53M94.55 530.53L97.55 527.53" stroke="#111" stroke-width="1.15"/><path d="M102.52 527.53L105.52 530.53M102.52 530.53L105.52 527.53" stroke="#111" stroke-width="1.15"/><circle cx="111.99" cy="529.03" r="2.45" fill="#eba58e"/><path d="M110.49 527.53L113.49 530.53M110.49 530.53L113.49 527.53" stroke="#111" stroke-width="1.15"/><circle cx="119.96" cy="529.03" r="2.6" fill="#3f86bd"/><path d="M118.46 527.53L121.46 530.53M118.46 530.53L121.46 527.53" stroke="#111" stroke-width="1.15"/><circle cx="127.93" cy="529.03" r="2.45" fill="#eba58e"/><path d="M126.43 527.53L129.43 530.53M126.43 530.53L129.43 527.53" stroke="#111" stroke-width="1.15"/><circle cx="135.90" cy="529.03" r="2.6" fill="#3f86bd"/><path d="M134.40 527.53L137.40 530.53M134.40 530.53L137.40 527.53" stroke="#111" stroke-width="1.15"/><circle cx="143.87" cy="529.03" r="3.55" fill="#6b0623"/><circle cx="56.20" cy="537.26" r="3.25" fill="#c0283c"/><circle cx="64.17" cy="537.26" r="3.25" fill="#c0283c"/><circle cx="72.14" cy="537.26" r="3.25" fill="#c0283c"/><path d="M78.61 535.76L81.61 538.76M78.61 538.76L81.61 535.76" stroke="#111" stroke-width="1.15"/><circle cx="88.08" cy="537.26" r="3.25" fill="#c0283c"/><path d="M94.55 535.76L97.55 538.76M94.55 538.76L97.55 535.76" stroke="#111" stroke-width="1.15"/><path d="M102.52 535.76L105.52 538.76M102.52 538.76L105.52 535.76" stroke="#111" stroke-width="1.15"/><path d="M110.49 535.76L113.49 538.76M110.49 538.76L113.49 535.76" stroke="#111" stroke-width="1.15"/><circle cx="119.96" cy="537.26" r="2.45" fill="#eba58e"/><path d="M118.46 535.76L121.46 538.76M118.46 538.76L121.46 535.76" stroke="#111" stroke-width="1.15"/><circle cx="127.93" cy="537.26" r="2.6" fill="#e08080"/><path d="M126.43 535.76L129.43 538.76M126.43 538.76L129.43 535.76" stroke="#111" stroke-width="1.15"/><circle cx="135.90" cy="537.26" r="2.45" fill="#eba58e"/><path d="M134.40 535.76L137.40 538.76M134.40 538.76L137.40 535.76" stroke="#111" stroke-width="1.15"/><path d="M142.37 535.76L145.37 538.76M142.37 538.76L145.37 535.76" stroke="#111" stroke-width="1.15"/><circle cx="151.84" cy="537.26" r="3.55" fill="#6b0623"/><circle cx="56.20" cy="545.49" r="2.45" fill="#eba58e"/><path d="M54.70 543.99L57.70 546.99M54.70 546.99L57.70 543.99" stroke="#111" stroke-width="1.15"/><circle cx="64.17" cy="545.49" r="2.45" fill="#eba58e"/><path d="M62.67 543.99L65.67 546.99M62.67 546.99L65.67 543.99" stroke="#111" stroke-width="1.15"/><path d="M70.64 543.99L73.64 546.99M70.64 546.99L73.64 543.99" stroke="#111" stroke-width="1.15"/><circle cx="80.11" cy="545.49" r="2.45" fill="#eba58e"/><path d="M78.61 543.99L81.61 546.99M78.61 546.99L81.61 543.99" stroke="#111" stroke-width="1.15"/><circle cx="88.08" cy="545.49" r="2.45" fill="#eba58e"/><path d="M86.58 543.99L89.58 546.99M86.58 546.99L89.58 543.99" stroke="#111" stroke-width="1.15"/><path d="M94.55 543.99L97.55 546.99M94.55 546.99L97.55 543.99" stroke="#111" stroke-width="1.15"/><circle cx="104.02" cy="545.49" r="2.6" fill="#3f86bd"/><path d="M102.52 543.99L105.52 546.99M102.52 546.99L105.52 543.99" stroke="#111" stroke-width="1.15"/><circle cx="111.99" cy="545.49" r="2.45" fill="#eba58e"/><path d="M110.49 543.99L113.49 546.99M110.49 546.99L113.49 543.99" stroke="#111" stroke-width="1.15"/><circle cx="119.96" cy="545.49" r="2.6" fill="#3f86bd"/><path d="M118.46 543.99L121.46 546.99M118.46 546.99L121.46 543.99" stroke="#111" stroke-width="1.15"/><circle cx="127.93" cy="545.49" r="2.45" fill="#eba58e"/><path d="M126.43 543.99L129.43 546.99M126.43 546.99L129.43 543.99" stroke="#111" stroke-width="1.15"/><circle cx="135.90" cy="545.49" r="2.3" fill="#9fc8e0"/><path d="M134.40 543.99L137.40 546.99M134.40 546.99L137.40 543.99" stroke="#111" stroke-width="1.15"/><circle cx="143.87" cy="545.49" r="3.25" fill="#c0283c"/><path d="M150.34 543.99L153.34 546.99M150.34 546.99L153.34 543.99" stroke="#111" stroke-width="1.15"/><circle cx="159.81" cy="545.49" r="3.55" fill="#6b0623"/><path d="M54.70 552.22L57.70 555.22M54.70 555.22L57.70 552.22" stroke="#111" stroke-width="1.15"/><path d="M62.67 552.22L65.67 555.22M62.67 555.22L65.67 552.22" stroke="#111" stroke-width="1.15"/><path d="M70.64 552.22L73.64 555.22M70.64 555.22L73.64 552.22" stroke="#111" stroke-width="1.15"/><path d="M78.61 552.22L81.61 555.22M78.61 555.22L81.61 552.22" stroke="#111" stroke-width="1.15"/><path d="M86.58 552.22L89.58 555.22M86.58 555.22L89.58 552.22" stroke="#111" stroke-width="1.15"/><circle cx="96.05" cy="553.72" r="3.25" fill="#c0283c"/><path d="M102.52 552.22L105.52 555.22M102.52 555.22L105.52 552.22" stroke="#111" stroke-width="1.15"/><circle cx="111.99" cy="553.72" r="2.45" fill="#eba58e"/><path d="M110.49 552.22L113.49 555.22M110.49 555.22L113.49 552.22" stroke="#111" stroke-width="1.15"/><path d="M118.46 552.22L121.46 555.22M118.46 555.22L121.46 552.22" stroke="#111" stroke-width="1.15"/><path d="M126.43 552.22L129.43 555.22M126.43 555.22L129.43 552.22" stroke="#111" stroke-width="1.15"/><path d="M134.40 552.22L137.40 555.22M134.40 555.22L137.40 552.22" stroke="#111" stroke-width="1.15"/><circle cx="143.87" cy="553.72" r="2.6" fill="#e08080"/><path d="M142.37 552.22L145.37 555.22M142.37 555.22L145.37 552.22" stroke="#111" stroke-width="1.15"/><path d="M150.34 552.22L153.34 555.22M150.34 555.22L153.34 552.22" stroke="#111" stroke-width="1.15"/><path d="M158.31 552.22L161.31 555.22M158.31 555.22L161.31 552.22" stroke="#111" stroke-width="1.15"/><circle cx="167.78" cy="553.72" r="3.55" fill="#6b0623"/><path d="M54.70 560.45L57.70 563.45M54.70 563.45L57.70 560.45" stroke="#111" stroke-width="1.15"/><circle cx="64.17" cy="561.95" r="2.6" fill="#3f86bd"/><path d="M62.67 560.45L65.67 563.45M62.67 563.45L65.67 560.45" stroke="#111" stroke-width="1.15"/><path d="M70.64 560.45L73.64 563.45M70.64 563.45L73.64 560.45" stroke="#111" stroke-width="1.15"/><circle cx="80.11" cy="561.95" r="2.6" fill="#3f86bd"/><path d="M78.61 560.45L81.61 563.45M78.61 563.45L81.61 560.45" stroke="#111" stroke-width="1.15"/><path d="M86.58 560.45L89.58 563.45M86.58 563.45L89.58 560.45" stroke="#111" stroke-width="1.15"/><circle cx="96.05" cy="561.95" r="3.25" fill="#c0283c"/><path d="M102.52 560.45L105.52 563.45M102.52 563.45L105.52 560.45" stroke="#111" stroke-width="1.15"/><circle cx="111.99" cy="561.95" r="2.45" fill="#eba58e"/><path d="M110.49 560.45L113.49 563.45M110.49 563.45L113.49 560.45" stroke="#111" stroke-width="1.15"/><path d="M118.46 560.45L121.46 563.45M118.46 563.45L121.46 560.45" stroke="#111" stroke-width="1.15"/><circle cx="127.93" cy="561.95" r="2.6" fill="#3f86bd"/><path d="M126.43 560.45L129.43 563.45M126.43 563.45L129.43 560.45" stroke="#111" stroke-width="1.15"/><path d="M134.40 560.45L137.40 563.45M134.40 563.45L137.40 560.45" stroke="#111" stroke-width="1.15"/><path d="M142.37 560.45L145.37 563.45M142.37 563.45L145.37 560.45" stroke="#111" stroke-width="1.15"/><circle cx="151.84" cy="561.95" r="2.3" fill="#9fc8e0"/><path d="M150.34 560.45L153.34 563.45M150.34 563.45L153.34 560.45" stroke="#111" stroke-width="1.15"/><path d="M158.31 560.45L161.31 563.45M158.31 563.45L161.31 560.45" stroke="#111" stroke-width="1.15"/><circle cx="167.78" cy="561.95" r="3.25" fill="#c0283c"/><circle cx="175.75" cy="561.95" r="3.55" fill="#6b0623"/>
<text x="48.60" y="440.65" font-size="6.0" fill="#222" text-anchor="end">msg_CD3T</text>
<text x="58.35" y="431.50" font-size="6.0" fill="#222" transform="rotate(-90 58.35 431.50)">msg_CD3T</text>
<text x="48.60" y="448.88" font-size="6.0" fill="#222" text-anchor="end">msg_CD4 Tregs</text>
<text x="66.32" y="439.73" font-size="6.0" fill="#222" transform="rotate(-90 66.32 439.73)">msg_CD4 Tregs</text>
<text x="48.60" y="457.11" font-size="6.0" fill="#222" text-anchor="end">msg_CD4T</text>
<text x="74.29" y="447.96" font-size="6.0" fill="#222" transform="rotate(-90 74.29 447.96)">msg_CD4T</text>
<text x="48.60" y="465.34" font-size="6.0" fill="#222" text-anchor="end">msg_CD8 Tregs</text>
<text x="82.26" y="456.19" font-size="6.0" fill="#222" transform="rotate(-90 82.26 456.19)">msg_CD8 Tregs</text>
<text x="48.60" y="473.57" font-size="6.0" fill="#222" text-anchor="end">msg_CD8T</text>
<text x="90.23" y="464.42" font-size="6.0" fill="#222" transform="rotate(-90 90.23 464.42)">msg_CD8T</text>
<text x="48.60" y="481.80" font-size="6.0" fill="#222" text-anchor="end">msg_Collagen 1</text>
<text x="98.20" y="472.65" font-size="6.0" fill="#222" transform="rotate(-90 98.20 472.65)">msg_Collagen 1</text>
<text x="48.60" y="490.03" font-size="6.0" fill="#222" text-anchor="end">msg_Collagen 3</text>
<text x="106.17" y="480.88" font-size="6.0" fill="#222" transform="rotate(-90 106.17 480.88)">msg_Collagen 3</text>
<text x="48.60" y="498.26" font-size="6.0" fill="#222" text-anchor="end">msg_IFNg</text>
<text x="114.14" y="489.11" font-size="6.0" fill="#222" transform="rotate(-90 114.14 489.11)">msg_IFNg</text>
<text x="48.60" y="506.49" font-size="6.0" fill="#222" text-anchor="end">msg_IL17</text>
<text x="122.11" y="497.34" font-size="6.0" fill="#222" transform="rotate(-90 122.11 497.34)">msg_IL17</text>
<text x="48.60" y="514.72" font-size="6.0" fill="#222" text-anchor="end">msg_myeloid</text>
<text x="130.08" y="505.57" font-size="6.0" fill="#222" transform="rotate(-90 130.08 505.57)">msg_myeloid</text>
<text x="48.60" y="522.95" font-size="6.0" fill="#222" text-anchor="end">msg_rem_IL17</text>
<text x="138.05" y="513.80" font-size="6.0" fill="#222" transform="rotate(-90 138.05 513.80)">msg_rem_IL17</text>
<text x="48.60" y="531.18" font-size="6.0" fill="#222" text-anchor="end">msg_Tc17</text>
<text x="146.02" y="522.03" font-size="6.0" fill="#222" transform="rotate(-90 146.02 522.03)">msg_Tc17</text>
<text x="48.60" y="539.41" font-size="6.0" fill="#222" text-anchor="end">msg_Th17</text>
<text x="153.99" y="530.26" font-size="6.0" fill="#222" transform="rotate(-90 153.99 530.26)">msg_Th17</text>
<text x="48.60" y="547.64" font-size="6.0" fill="#222" text-anchor="end">saliva_IFNg</text>
<text x="161.96" y="538.49" font-size="6.0" fill="#222" transform="rotate(-90 161.96 538.49)">saliva_IFNg</text>
<text x="48.60" y="555.87" font-size="6.0" fill="#222" text-anchor="end">saliva_IL17A</text>
<text x="169.93" y="546.72" font-size="6.0" fill="#222" transform="rotate(-90 169.93 546.72)">saliva_IL17A</text>
<text x="48.60" y="564.10" font-size="6.0" fill="#222" text-anchor="end">saliva_TGFB1</text>
<text x="177.90" y="554.95" font-size="6.0" fill="#222" transform="rotate(-90 177.90 554.95)">saliva_TGFB1</text>
<rect x="52.1" y="568.8" width="128.1" height="5.2" fill="url(#gC)"/>
<text x="52.10" y="583.20" font-size="6.0" fill="#222" text-anchor="middle">−1</text>
<text x="64.91" y="583.20" font-size="6.0" fill="#222" text-anchor="middle">−0.8</text>
<text x="77.72" y="583.20" font-size="6.0" fill="#222" text-anchor="middle">−0.6</text>
<text x="90.53" y="583.20" font-size="6.0" fill="#222" text-anchor="middle">−0.4</text>
<text x="103.34" y="583.20" font-size="6.0" fill="#222" text-anchor="middle">−0.2</text>
<text x="116.15" y="583.20" font-size="6.0" fill="#222" text-anchor="middle">0</text>
<text x="128.96" y="583.20" font-size="6.0" fill="#222" text-anchor="middle">0.2</text>
<text x="141.77" y="583.20" font-size="6.0" fill="#222" text-anchor="middle">0.4</text>
<text x="154.58" y="583.20" font-size="6.0" fill="#222" text-anchor="middle">0.6</text>
<text x="167.39" y="583.20" font-size="6.0" fill="#222" text-anchor="middle">0.8</text>
<text x="180.20" y="583.20" font-size="6.0" fill="#222" text-anchor="middle">1</text>
<text x="198.00" y="394.00" font-size="11" fill="#111" font-weight="bold">D</text>
<line x1="240.90" y1="409.80" x2="243.20" y2="409.80" stroke="#333" stroke-width="0.8"/>
<text x="238.70" y="412.00" font-size="6.3" fill="#333" text-anchor="end">1000000</text>
<line x1="240.90" y1="429.20" x2="243.20" y2="429.20" stroke="#333" stroke-width="0.8"/>
<text x="238.70" y="431.40" font-size="6.3" fill="#333" text-anchor="end">0</text>
<line x1="240.90" y1="448.70" x2="243.20" y2="448.70" stroke="#333" stroke-width="0.8"/>
<text x="238.70" y="450.90" font-size="6.3" fill="#333" text-anchor="end">-1000000</text>
<line x1="240.90" y1="468.30" x2="243.20" y2="468.30" stroke="#333" stroke-width="0.8"/>
<text x="238.70" y="470.50" font-size="6.3" fill="#333" text-anchor="end">-2000000</text>
<line x1="240.90" y1="487.80" x2="243.20" y2="487.80" stroke="#333" stroke-width="0.8"/>
<text x="238.70" y="490.00" font-size="6.3" fill="#333" text-anchor="end">-3000000</text>
<line x1="272.90" y1="429.20" x2="272.90" y2="431.50" stroke="#333" stroke-width="0.8"/>
<text x="272.90" y="440.70" font-size="6.3" fill="#333" text-anchor="middle">-3000000</text>
<line x1="302.30" y1="429.20" x2="302.30" y2="431.50" stroke="#333" stroke-width="0.8"/>
<text x="302.30" y="440.70" font-size="6.3" fill="#333" text-anchor="middle">-2000000</text>
<line x1="331.70" y1="429.20" x2="331.70" y2="431.50" stroke="#333" stroke-width="0.8"/>
<text x="331.70" y="440.70" font-size="6.3" fill="#333" text-anchor="middle">-1000000</text>
<line x1="360.80" y1="429.20" x2="360.80" y2="431.50" stroke="#333" stroke-width="0.8"/>
<text x="360.80" y="440.70" font-size="6.3" fill="#333" text-anchor="middle">0</text>
<polygon points="253.10,447.40 255.75,446.82 258.39,446.22 261.04,445.60 263.69,444.96 266.33,444.30 268.98,443.62 271.63,442.91 274.27,442.17 276.92,441.40 279.57,440.59 282.21,439.75 284.86,438.87 287.51,437.95 290.15,437.00 292.80,436.00 295.45,434.96 298.09,433.88 300.74,432.76 303.39,431.60 306.03,430.41 308.68,429.18 311.33,427.92 313.97,426.63 316.62,425.31 319.27,423.96 321.91,422.60 324.56,421.21 327.21,419.80 329.85,418.38 332.50,416.94 332.50,443.46 329.85,444.04 327.21,444.63 324.56,445.23 321.91,445.86 319.27,446.50 316.62,447.17 313.97,447.87 311.33,448.59 308.68,449.34 306.03,450.13 303.39,450.95 300.74,451.80 298.09,452.69 295.45,453.63 292.80,454.60 290.15,455.62 287.51,456.67 284.86,457.77 282.21,458.90 279.57,460.08 276.92,461.28 274.27,462.53 271.63,463.80 268.98,465.10 266.33,466.43 263.69,467.78 261.04,469.16 258.39,470.56 255.75,471.97 253.10,473.40" fill="#c8c8c8" fill-opacity="0.55"/>
<polyline points="253.10,447.40 255.75,446.82 258.39,446.22 261.04,445.60 263.69,444.96 266.33,444.30 268.98,443.62 271.63,442.91 274.27,442.17 276.92,441.40 279.57,440.59 282.21,439.75 284.86,438.87 287.51,437.95 290.15,437.00 292.80,436.00 295.45,434.96 298.09,433.88 300.74,432.76 303.39,431.60 306.03,430.41 308.68,429.18 311.33,427.92 313.97,426.63 316.62,425.31 319.27,423.96 321.91,422.60 324.56,421.21 327.21,419.80 329.85,418.38 332.50,416.94" fill="none" stroke="#444" stroke-width="0.65" stroke-dasharray="0.8 0.8"/>
<polyline points="253.10,473.40 255.75,471.97 258.39,470.56 261.04,469.16 263.69,467.78 266.33,466.43 268.98,465.10 271.63,463.80 274.27,462.53 276.92,461.28 279.57,460.08 282.21,458.90 284.86,457.77 287.51,456.67 290.15,455.62 292.80,454.60 295.45,453.63 298.09,452.69 300.74,451.80 303.39,450.95 306.03,450.13 308.68,449.34 311.33,448.59 313.97,447.87 316.62,447.17 319.27,446.50 321.91,445.86 324.56,445.23 327.21,444.63 329.85,444.04 332.50,443.46" fill="none" stroke="#444" stroke-width="0.65" stroke-dasharray="0.8 0.8"/>
<line x1="243.20" y1="407.80" x2="243.20" y2="491.00" stroke="#333" stroke-width="1.15"/>
<line x1="243.20" y1="429.20" x2="362.50" y2="429.20" stroke="#222" stroke-width="1.15"/>
<line x1="253.10" y1="460.40" x2="332.50" y2="430.20" stroke="#222" stroke-width="1.05"/>
<circle cx="252.70" cy="466.20" r="1.4" fill="#111"/>
<circle cx="275.40" cy="455.60" r="1.4" fill="#111"/>
<circle cx="276.70" cy="450.80" r="1.4" fill="#111"/>
<circle cx="292.10" cy="429.20" r="1.4" fill="#111"/>
<circle cx="299.20" cy="447.10" r="1.4" fill="#111"/>
<circle cx="304.20" cy="444.20" r="1.4" fill="#111"/>
<circle cx="329.00" cy="428.80" r="1.4" fill="#111"/>
<circle cx="333.10" cy="438.30" r="1.4" fill="#111"/>
<text x="303.50" y="403.60" font-size="6.2" fill="#333" text-anchor="middle">r<tspan font-size="4.0" dy="1.3">s</tspan><tspan dy="-1.3"> = 0.809; </tspan><tspan font-style="italic">P</tspan> = .022</text>
<text x="204.80" y="448.80" font-size="7.2" fill="#2a2a2a" text-anchor="middle" textLength="30.00" lengthAdjust="spacingAndGlyphs" transform="rotate(-90 204.80 448.80)" stroke="#2a2a2a" stroke-width="0.35">saliva_IL17A</text>
<text x="303.50" y="500.60" font-size="7.2" fill="#2a2a2a" text-anchor="middle" textLength="38.70" lengthAdjust="spacingAndGlyphs" stroke="#2a2a2a" stroke-width="0.35">msg_collagen 1</text>
<line x1="466.30" y1="409.90" x2="468.60" y2="409.90" stroke="#333" stroke-width="0.8"/>
<text x="464.20" y="412.10" font-size="6.3" fill="#333" text-anchor="end">1000000</text>
<line x1="466.30" y1="429.50" x2="468.60" y2="429.50" stroke="#333" stroke-width="0.8"/>
<text x="464.20" y="431.70" font-size="6.3" fill="#333" text-anchor="end">0</text>
<line x1="466.30" y1="448.80" x2="468.60" y2="448.80" stroke="#333" stroke-width="0.8"/>
<text x="464.20" y="451.00" font-size="6.3" fill="#333" text-anchor="end">-1000000</text>
<line x1="466.30" y1="468.70" x2="468.60" y2="468.70" stroke="#333" stroke-width="0.8"/>
<text x="464.20" y="470.90" font-size="6.3" fill="#333" text-anchor="end">-2000000</text>
<line x1="466.30" y1="487.80" x2="468.60" y2="487.80" stroke="#333" stroke-width="0.8"/>
<text x="464.20" y="490.00" font-size="6.3" fill="#333" text-anchor="end">-3000000</text>
<line x1="404.30" y1="429.50" x2="404.30" y2="431.80" stroke="#333" stroke-width="0.8"/>
<text x="404.30" y="440.70" font-size="6.3" fill="#333" text-anchor="middle">-1.0</text>
<line x1="436.80" y1="429.50" x2="436.80" y2="431.80" stroke="#333" stroke-width="0.8"/>
<text x="436.80" y="440.70" font-size="6.3" fill="#333" text-anchor="middle">-0.5</text>
<line x1="468.60" y1="429.50" x2="468.60" y2="431.80" stroke="#333" stroke-width="0.8"/>
<line x1="500.60" y1="429.50" x2="500.60" y2="431.80" stroke="#333" stroke-width="0.8"/>
<text x="500.60" y="440.70" font-size="6.3" fill="#333" text-anchor="middle">0.5</text>
<polygon points="410.10,451.00 412.28,450.28 414.46,449.54 416.64,448.78 418.82,448.00 421.00,447.20 423.18,446.37 425.36,445.52 427.54,444.64 429.72,443.73 431.90,442.80 434.08,441.83 436.26,440.82 438.44,439.78 440.62,438.71 442.80,437.60 444.98,436.45 447.16,435.27 449.34,434.05 451.52,432.80 453.70,431.51 455.88,430.20 458.06,428.85 460.24,427.47 462.42,426.06 464.60,424.63 466.78,423.18 468.96,421.70 471.14,420.21 473.32,418.69 475.50,417.16 475.50,446.24 473.32,446.96 471.14,447.70 468.96,448.46 466.78,449.23 464.60,450.03 462.42,450.86 460.24,451.70 458.06,452.58 455.88,453.48 453.70,454.42 451.52,455.39 449.34,456.39 447.16,457.42 444.98,458.49 442.80,459.60 440.62,460.74 438.44,461.92 436.26,463.14 434.08,464.39 431.90,465.67 429.72,466.99 427.54,468.33 425.36,469.71 423.18,471.11 421.00,472.54 418.82,473.99 416.64,475.46 414.46,476.96 412.28,478.47 410.10,480.00" fill="#c8c8c8" fill-opacity="0.55"/>
<polyline points="410.10,451.00 412.28,450.28 414.46,449.54 416.64,448.78 418.82,448.00 421.00,447.20 423.18,446.37 425.36,445.52 427.54,444.64 429.72,443.73 431.90,442.80 434.08,441.83 436.26,440.82 438.44,439.78 440.62,438.71 442.80,437.60 444.98,436.45 447.16,435.27 449.34,434.05 451.52,432.80 453.70,431.51 455.88,430.20 458.06,428.85 460.24,427.47 462.42,426.06 464.60,424.63 466.78,423.18 468.96,421.70 471.14,420.21 473.32,418.69 475.50,417.16" fill="none" stroke="#444" stroke-width="0.65" stroke-dasharray="0.8 0.8"/>
<polyline points="410.10,480.00 412.28,478.47 414.46,476.96 416.64,475.46 418.82,473.99 421.00,472.54 423.18,471.11 425.36,469.71 427.54,468.33 429.72,466.99 431.90,465.67 434.08,464.39 436.26,463.14 438.44,461.92 440.62,460.74 442.80,459.60 444.98,458.49 447.16,457.42 449.34,456.39 451.52,455.39 453.70,454.42 455.88,453.48 458.06,452.58 460.24,451.70 462.42,450.86 464.60,450.03 466.78,449.23 468.96,448.46 471.14,447.70 473.32,446.96 475.50,446.24" fill="none" stroke="#444" stroke-width="0.65" stroke-dasharray="0.8 0.8"/>
<line x1="468.60" y1="408.20" x2="468.60" y2="490.00" stroke="#333" stroke-width="1.15"/>
<line x1="400.60" y1="429.50" x2="504.40" y2="429.50" stroke="#222" stroke-width="1.15"/>
<line x1="410.10" y1="465.50" x2="475.50" y2="431.70" stroke="#222" stroke-width="1.05"/>
<circle cx="412.30" cy="444.50" r="1.4" fill="#111"/>
<circle cx="425.80" cy="452.70" r="1.4" fill="#111"/>
<circle cx="410.30" cy="469.50" r="1.4" fill="#111"/>
<circle cx="410.30" cy="483.40" r="1.4" fill="#111"/>
<circle cx="469.90" cy="427.90" r="1.4" fill="#111"/>
<circle cx="474.80" cy="429.50" r="1.4" fill="#111"/>
<circle cx="468.60" cy="435.20" r="1.4" fill="#111"/>
<circle cx="468.60" cy="436.90" r="1.4" fill="#111"/>
<text x="452.50" y="403.50" font-size="6.2" fill="#333" text-anchor="middle">r<tspan font-size="4.0" dy="1.3">s</tspan><tspan dy="-1.3"> = 0.946; </tspan><tspan font-style="italic">P</tspan> = .001</text>
<text x="391.30" y="449.20" font-size="7.2" fill="#2a2a2a" text-anchor="middle" textLength="29.00" lengthAdjust="spacingAndGlyphs" transform="rotate(-90 391.30 449.20)" stroke="#2a2a2a" stroke-width="0.35">saliva_IFNg</text>
<text x="452.10" y="500.30" font-size="7.2" fill="#2a2a2a" text-anchor="middle" textLength="24.00" lengthAdjust="spacingAndGlyphs" stroke="#2a2a2a" stroke-width="0.35">msg_Tc17</text>
<line x1="241.00" y1="528.40" x2="243.30" y2="528.40" stroke="#333" stroke-width="0.8"/>
<text x="239.00" y="530.60" font-size="6.3" fill="#333" text-anchor="end">0.0</text>
<line x1="241.00" y1="541.50" x2="243.30" y2="541.50" stroke="#333" stroke-width="0.8"/>
<text x="239.00" y="543.70" font-size="6.3" fill="#333" text-anchor="end">-0.2</text>
<line x1="241.00" y1="554.20" x2="243.30" y2="554.20" stroke="#333" stroke-width="0.8"/>
<text x="239.00" y="556.40" font-size="6.3" fill="#333" text-anchor="end">-0.4</text>
<line x1="241.00" y1="567.00" x2="243.30" y2="567.00" stroke="#333" stroke-width="0.8"/>
<text x="239.00" y="569.20" font-size="6.3" fill="#333" text-anchor="end">-0.6</text>
<line x1="241.00" y1="580.00" x2="243.30" y2="580.00" stroke="#333" stroke-width="0.8"/>
<text x="239.00" y="582.20" font-size="6.3" fill="#333" text-anchor="end">-0.8</text>
<line x1="241.00" y1="593.10" x2="243.30" y2="593.10" stroke="#333" stroke-width="0.8"/>
<text x="239.00" y="595.30" font-size="6.3" fill="#333" text-anchor="end">-1.0</text>
<line x1="272.40" y1="528.40" x2="272.40" y2="530.70" stroke="#333" stroke-width="0.8"/>
<text x="272.40" y="539.20" font-size="6.3" fill="#333" text-anchor="middle">-300</text>
<line x1="302.00" y1="528.40" x2="302.00" y2="530.70" stroke="#333" stroke-width="0.8"/>
<text x="302.00" y="539.20" font-size="6.3" fill="#333" text-anchor="middle">-200</text>
<line x1="331.60" y1="528.40" x2="331.60" y2="530.70" stroke="#333" stroke-width="0.8"/>
<text x="331.60" y="539.20" font-size="6.3" fill="#333" text-anchor="middle">-100</text>
<line x1="361.20" y1="528.40" x2="361.20" y2="530.70" stroke="#333" stroke-width="0.8"/>
<text x="361.20" y="539.20" font-size="6.3" fill="#333" text-anchor="middle">0</text>
<polygon points="273.30,541.50 275.98,541.22 278.67,540.93 281.35,540.64 284.03,540.34 286.72,540.03 289.40,539.71 292.08,539.38 294.77,539.04 297.45,538.68 300.13,538.31 302.82,537.92 305.50,537.50 308.18,537.06 310.87,536.59 313.55,536.09 316.23,535.54 318.92,534.94 321.60,534.29 324.28,533.58 326.97,532.80 329.65,531.94 332.33,531.00 335.02,529.98 337.70,528.88 340.38,527.70 343.07,526.44 345.75,525.12 348.43,523.75 351.12,522.32 353.80,520.84 353.80,540.16 351.12,540.68 348.43,541.25 345.75,541.88 343.07,542.56 340.38,543.30 337.70,544.12 335.02,545.02 332.33,546.00 329.65,547.06 326.97,548.20 324.28,549.42 321.60,550.71 318.92,552.06 316.23,553.46 313.55,554.91 310.87,556.41 308.18,557.94 305.50,559.50 302.82,561.08 300.13,562.69 297.45,564.32 294.77,565.96 292.08,567.62 289.40,569.29 286.72,570.97 284.03,572.66 281.35,574.36 278.67,576.07 275.98,577.78 273.30,579.50" fill="#c8c8c8" fill-opacity="0.55"/>
<polyline points="273.30,541.50 275.98,541.22 278.67,540.93 281.35,540.64 284.03,540.34 286.72,540.03 289.40,539.71 292.08,539.38 294.77,539.04 297.45,538.68 300.13,538.31 302.82,537.92 305.50,537.50 308.18,537.06 310.87,536.59 313.55,536.09 316.23,535.54 318.92,534.94 321.60,534.29 324.28,533.58 326.97,532.80 329.65,531.94 332.33,531.00 335.02,529.98 337.70,528.88 340.38,527.70 343.07,526.44 345.75,525.12 348.43,523.75 351.12,522.32 353.80,520.84" fill="none" stroke="#444" stroke-width="0.65" stroke-dasharray="0.8 0.8"/>
<polyline points="273.30,579.50 275.98,577.78 278.67,576.07 281.35,574.36 284.03,572.66 286.72,570.97 289.40,569.29 292.08,567.62 294.77,565.96 297.45,564.32 300.13,562.69 302.82,561.08 305.50,559.50 308.18,557.94 310.87,556.41 313.55,554.91 316.23,553.46 318.92,552.06 321.60,550.71 324.28,549.42 326.97,548.20 329.65,547.06 332.33,546.00 335.02,545.02 337.70,544.12 340.38,543.30 343.07,542.56 345.75,541.88 348.43,541.25 351.12,540.68 353.80,540.16" fill="none" stroke="#444" stroke-width="0.65" stroke-dasharray="0.8 0.8"/>
<line x1="243.30" y1="514.70" x2="243.30" y2="594.80" stroke="#333" stroke-width="1.15"/>
<line x1="243.30" y1="528.40" x2="363.30" y2="528.40" stroke="#222" stroke-width="1.15"/>
<line x1="273.30" y1="560.50" x2="353.80" y2="530.50" stroke="#222" stroke-width="1.05"/>
<circle cx="272.70" cy="557.20" r="1.4" fill="#111"/>
<circle cx="328.30" cy="541.90" r="1.4" fill="#111"/>
<circle cx="331.20" cy="554.90" r="1.4" fill="#111"/>
<circle cx="342.80" cy="528.40" r="1.4" fill="#111"/>
<circle cx="346.40" cy="528.40" r="1.4" fill="#111"/>
<circle cx="345.10" cy="539.20" r="1.4" fill="#111"/>
<circle cx="354.50" cy="528.40" r="1.4" fill="#111"/>
<text x="302.70" y="520.40" font-size="6.2" fill="#333" text-anchor="middle">r<tspan font-size="4.0" dy="1.3">s</tspan><tspan dy="-1.3"> = 0.786; </tspan><tspan font-style="italic">P</tspan> = .031</text>
<text x="221.30" y="555.40" font-size="7.2" fill="#2a2a2a" text-anchor="middle" textLength="25.30" lengthAdjust="spacingAndGlyphs" transform="rotate(-90 221.30 555.40)" stroke="#2a2a2a" stroke-width="0.35">msg_Th17</text>
<text x="304.00" y="605.40" font-size="7.2" fill="#2a2a2a" text-anchor="middle" textLength="38.40" lengthAdjust="spacingAndGlyphs" stroke="#2a2a2a" stroke-width="0.35">msg_CD4 tregs</text>
<line x1="397.40" y1="517.30" x2="399.70" y2="517.30" stroke="#333" stroke-width="0.8"/>
<text x="395.40" y="519.50" font-size="6.3" fill="#333" text-anchor="end">1</text>
<line x1="397.40" y1="542.70" x2="399.70" y2="542.70" stroke="#333" stroke-width="0.8"/>
<text x="395.40" y="544.90" font-size="6.3" fill="#333" text-anchor="end">0</text>
<line x1="397.40" y1="567.80" x2="399.70" y2="567.80" stroke="#333" stroke-width="0.8"/>
<text x="395.40" y="570.00" font-size="6.3" fill="#333" text-anchor="end">-1</text>
<line x1="397.40" y1="592.30" x2="399.70" y2="592.30" stroke="#333" stroke-width="0.8"/>
<text x="395.40" y="594.50" font-size="6.3" fill="#333" text-anchor="end">-2</text>
<line x1="426.00" y1="542.50" x2="426.00" y2="544.80" stroke="#333" stroke-width="0.8"/>
<text x="426.00" y="553.70" font-size="6.3" fill="#333" text-anchor="middle">-300</text>
<line x1="451.40" y1="542.50" x2="451.40" y2="544.80" stroke="#333" stroke-width="0.8"/>
<text x="451.40" y="553.70" font-size="6.3" fill="#333" text-anchor="middle">-200</text>
<line x1="476.60" y1="542.50" x2="476.60" y2="544.80" stroke="#333" stroke-width="0.8"/>
<text x="476.60" y="553.70" font-size="6.3" fill="#333" text-anchor="middle">-100</text>
<line x1="502.30" y1="542.50" x2="502.30" y2="544.80" stroke="#333" stroke-width="0.8"/>
<text x="502.30" y="553.70" font-size="6.3" fill="#333" text-anchor="middle">0</text>
<polygon points="425.40,550.00 427.77,549.69 430.14,549.38 432.51,549.06 434.88,548.74 437.25,548.40 439.62,548.06 441.99,547.71 444.36,547.35 446.73,546.97 449.10,546.58 451.47,546.17 453.84,545.74 456.21,545.28 458.58,544.80 460.95,544.28 463.32,543.72 465.69,543.12 468.06,542.47 470.43,541.76 472.80,540.99 475.17,540.15 477.54,539.23 479.91,538.24 482.28,537.18 484.65,536.05 487.02,534.85 489.39,533.59 491.76,532.27 494.13,530.91 496.50,529.51 496.50,547.49 494.13,548.02 491.76,548.59 489.39,549.21 487.02,549.89 484.65,550.62 482.28,551.42 479.91,552.29 477.54,553.23 475.17,554.25 472.80,555.34 470.43,556.50 468.06,557.73 465.69,559.01 463.32,560.34 460.95,561.72 458.58,563.14 456.21,564.58 453.84,566.06 451.47,567.56 449.10,569.09 446.73,570.63 444.36,572.19 441.99,573.76 439.62,575.34 437.25,576.93 434.88,578.53 432.51,580.14 430.14,581.75 427.77,583.37 425.40,585.00" fill="#c8c8c8" fill-opacity="0.55"/>
<polyline points="425.40,550.00 427.77,549.69 430.14,549.38 432.51,549.06 434.88,548.74 437.25,548.40 439.62,548.06 441.99,547.71 444.36,547.35 446.73,546.97 449.10,546.58 451.47,546.17 453.84,545.74 456.21,545.28 458.58,544.80 460.95,544.28 463.32,543.72 465.69,543.12 468.06,542.47 470.43,541.76 472.80,540.99 475.17,540.15 477.54,539.23 479.91,538.24 482.28,537.18 484.65,536.05 487.02,534.85 489.39,533.59 491.76,532.27 494.13,530.91 496.50,529.51" fill="none" stroke="#444" stroke-width="0.65" stroke-dasharray="0.8 0.8"/>
<polyline points="425.40,585.00 427.77,583.37 430.14,581.75 432.51,580.14 434.88,578.53 437.25,576.93 439.62,575.34 441.99,573.76 444.36,572.19 446.73,570.63 449.10,569.09 451.47,567.56 453.84,566.06 456.21,564.58 458.58,563.14 460.95,561.72 463.32,560.34 465.69,559.01 468.06,557.73 470.43,556.50 472.80,555.34 475.17,554.25 477.54,553.23 479.91,552.29 482.28,551.42 484.65,550.62 487.02,549.89 489.39,549.21 491.76,548.59 494.13,548.02 496.50,547.49" fill="none" stroke="#444" stroke-width="0.65" stroke-dasharray="0.8 0.8"/>
<line x1="399.70" y1="513.80" x2="399.70" y2="593.70" stroke="#333" stroke-width="1.15"/>
<line x1="399.70" y1="542.50" x2="503.30" y2="542.50" stroke="#222" stroke-width="1.15"/>
<line x1="425.40" y1="567.50" x2="496.50" y2="538.50" stroke="#222" stroke-width="1.05"/>
<circle cx="424.80" cy="568.40" r="1.4" fill="#111"/>
<circle cx="474.40" cy="562.00" r="1.4" fill="#111"/>
<circle cx="476.70" cy="543.30" r="1.4" fill="#111"/>
<circle cx="486.80" cy="547.60" r="1.4" fill="#111"/>
<circle cx="488.30" cy="537.50" r="1.4" fill="#111"/>
<circle cx="488.80" cy="542.40" r="1.4" fill="#111"/>
<circle cx="489.70" cy="530.30" r="1.4" fill="#111"/>
<circle cx="496.30" cy="540.40" r="1.4" fill="#111"/>
<text x="452.60" y="520.30" font-size="6.2" fill="#333" text-anchor="middle">r<tspan font-size="4.0" dy="1.3">s</tspan><tspan dy="-1.3"> = 0.857; </tspan><tspan font-style="italic">P</tspan> = .011</text>
<text x="381.30" y="555.10" font-size="7.2" fill="#2a2a2a" text-anchor="middle" textLength="33.00" lengthAdjust="spacingAndGlyphs" transform="rotate(-90 381.30 555.10)" stroke="#2a2a2a" stroke-width="0.35">msg_myeloid</text>
<text x="452.50" y="605.20" font-size="7.2" fill="#2a2a2a" text-anchor="middle" textLength="39.30" lengthAdjust="spacingAndGlyphs" stroke="#2a2a2a" stroke-width="0.35">msg_CD4 tregs</text>
<rect x="0.5" y="0.5" width="519" height="613" fill="none" stroke="#5a5a5a" stroke-width="1.0"/>
</svg></body></html>
